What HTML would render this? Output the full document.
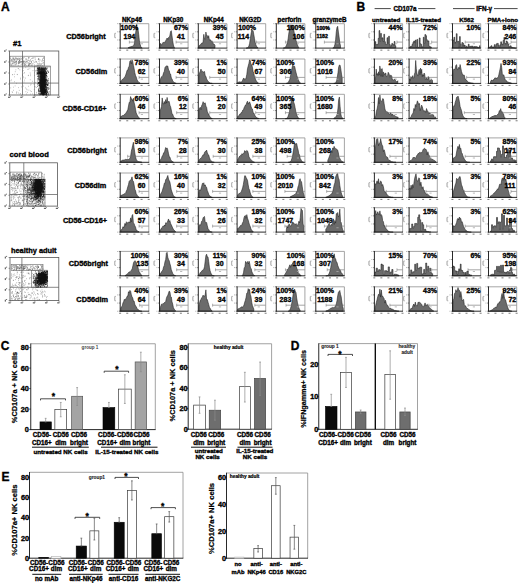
<!DOCTYPE html>
<html><head><meta charset="utf-8"><title>figure</title>
<style>
html,body{margin:0;padding:0;background:#fff;}
body{width:520px;height:583px;overflow:hidden;position:relative;}
svg{position:absolute;left:0;top:0;display:block;}
text{font-family:"Liberation Sans",sans-serif;}
</style></head><body>
<svg width="520" height="583" viewBox="0 0 520 583">
<rect x="0" y="0" width="520" height="583" fill="#fff"/>
<text x="1" y="11.2" font-size="12" text-anchor="start" font-weight="bold" fill="#000" stroke="#000" stroke-width="0.34">A</text>
<text x="356.6" y="11.2" font-size="12" text-anchor="start" font-weight="bold" fill="#000" stroke="#000" stroke-width="0.34">B</text>
<text x="0.8" y="350.3" font-size="12" text-anchor="start" font-weight="bold" fill="#000" stroke="#000" stroke-width="0.34">C</text>
<text x="290.8" y="350.3" font-size="12" text-anchor="start" font-weight="bold" fill="#000" stroke="#000" stroke-width="0.34">D</text>
<text x="1.6" y="480.6" font-size="12" text-anchor="start" font-weight="bold" fill="#000" stroke="#000" stroke-width="0.34">E</text>
<text x="132" y="21.6" font-size="6.3" text-anchor="middle" font-weight="bold" fill="#000" stroke="#000" stroke-width="0.34">NKp46</text>
<text x="173.3" y="21.6" font-size="6.3" text-anchor="middle" font-weight="bold" fill="#000" stroke="#000" stroke-width="0.34">NKp30</text>
<text x="213.8" y="21.6" font-size="6.3" text-anchor="middle" font-weight="bold" fill="#000" stroke="#000" stroke-width="0.34">NKp44</text>
<text x="250.2" y="21.6" font-size="6.3" text-anchor="middle" font-weight="bold" fill="#000" stroke="#000" stroke-width="0.34">NKG2D</text>
<text x="289.5" y="21.6" font-size="6.3" text-anchor="middle" font-weight="bold" fill="#000" stroke="#000" stroke-width="0.34">perforin</text>
<text x="329.5" y="21.6" font-size="6.3" text-anchor="middle" font-weight="bold" fill="#000" stroke="#000" stroke-width="0.34">granzymeB</text>
<text x="105.6" y="38.5" font-size="7.3" text-anchor="end" font-weight="bold" fill="#000" stroke="#000" stroke-width="0.34">CD56bright</text>
<text x="107.2" y="73.8" font-size="7.3" text-anchor="end" font-weight="bold" fill="#000" stroke="#000" stroke-width="0.34">CD56dim</text>
<text x="106.6" y="111.3" font-size="7.3" text-anchor="end" font-weight="bold" fill="#000" stroke="#000" stroke-width="0.34">CD56-CD16+</text>
<text x="106.6" y="152.7" font-size="7.3" text-anchor="end" font-weight="bold" fill="#000" stroke="#000" stroke-width="0.34">CD56bright</text>
<text x="106.3" y="187.8" font-size="7.3" text-anchor="end" font-weight="bold" fill="#000" stroke="#000" stroke-width="0.34">CD56dim</text>
<text x="107" y="222.5" font-size="7.3" text-anchor="end" font-weight="bold" fill="#000" stroke="#000" stroke-width="0.34">CD56-CD16+</text>
<text x="108" y="266.2" font-size="7.3" text-anchor="end" font-weight="bold" fill="#000" stroke="#000" stroke-width="0.34">CD56bright</text>
<text x="108" y="301.6" font-size="7.3" text-anchor="end" font-weight="bold" fill="#000" stroke="#000" stroke-width="0.34">CD56dim</text>
<line x1="118.8" y1="23.7" x2="120.2" y2="23.7" stroke="#444" stroke-width="0.6"/>
<rect x="117.2" y="23.3" width="0.9" height="0.8" fill="#9a9a9a" stroke="none" stroke-width="0.8"/>
<line x1="118.8" y1="31.83" x2="120.2" y2="31.83" stroke="#444" stroke-width="0.6"/>
<rect x="117.2" y="31.43" width="0.9" height="0.8" fill="#9a9a9a" stroke="none" stroke-width="0.8"/>
<line x1="118.8" y1="39.97" x2="120.2" y2="39.97" stroke="#444" stroke-width="0.6"/>
<rect x="117.2" y="39.57" width="0.9" height="0.8" fill="#9a9a9a" stroke="none" stroke-width="0.8"/>
<line x1="118.8" y1="48.1" x2="120.2" y2="48.1" stroke="#444" stroke-width="0.6"/>
<rect x="117.2" y="47.7" width="0.9" height="0.8" fill="#9a9a9a" stroke="none" stroke-width="0.8"/>
<path d="M116 33.3h-1.2v4.4h1.2" fill="none" stroke="#8a8a8a" stroke-width="0.6"/>
<line x1="114.6" y1="33.7" x2="114.6" y2="37.3" stroke="#aaa" stroke-width="0.5"/>
<rect x="119.1" y="49.6" width="2" height="1.1" fill="#858585" stroke="none" stroke-width="0.8"/>
<rect x="126.25" y="49.6" width="2" height="1.1" fill="#858585" stroke="none" stroke-width="0.8"/>
<rect x="133.4" y="49.6" width="2" height="1.1" fill="#858585" stroke="none" stroke-width="0.8"/>
<rect x="140.55" y="49.6" width="2" height="1.1" fill="#858585" stroke="none" stroke-width="0.8"/>
<rect x="147.7" y="49.6" width="2" height="1.1" fill="#858585" stroke="none" stroke-width="0.8"/>
<path d="M128.2 48.1L128.2 47.66L128.9 47.34L129.6 47.05L130.3 46.88L131 46.58L131.7 46.43L132.4 46.24L133.1 45.9L133.8 45.26L134.5 42.82L135.2 36.39L135.9 30.74L136.6 24.43L137.3 27.4L138 29.13L138.7 34.27L139.4 40.96L140.1 44.22L140.8 46.6L141.5 47.7L142.2 47.99L142.2 48.1 Z" fill="#6b6b6b" stroke="#1a1a1a" stroke-width="0.55" stroke-linejoin="round"/>
<line x1="129.35" y1="42.1" x2="148.8" y2="42.1" stroke="#6a6a6a" stroke-width="0.6"/>
<line x1="129.35" y1="40.6" x2="129.35" y2="43.6" stroke="#6a6a6a" stroke-width="0.5"/>
<rect x="140.79" y="43.4" width="2.2" height="0.8" fill="#aaa" stroke="none" stroke-width="0.8"/>
<line x1="120.2" y1="23.7" x2="148.8" y2="23.7" stroke="#8f8f8f" stroke-width="0.8"/>
<line x1="148.8" y1="23.7" x2="148.8" y2="48.1" stroke="#8f8f8f" stroke-width="0.8"/>
<line x1="120.2" y1="23.3" x2="120.2" y2="48.5" stroke="#111" stroke-width="0.9"/>
<line x1="119.8" y1="48.1" x2="149.2" y2="48.1" stroke="#111" stroke-width="0.9"/>
<line x1="158.1" y1="23.7" x2="159.5" y2="23.7" stroke="#444" stroke-width="0.6"/>
<rect x="156.5" y="23.3" width="0.9" height="0.8" fill="#9a9a9a" stroke="none" stroke-width="0.8"/>
<line x1="158.1" y1="31.83" x2="159.5" y2="31.83" stroke="#444" stroke-width="0.6"/>
<rect x="156.5" y="31.43" width="0.9" height="0.8" fill="#9a9a9a" stroke="none" stroke-width="0.8"/>
<line x1="158.1" y1="39.97" x2="159.5" y2="39.97" stroke="#444" stroke-width="0.6"/>
<rect x="156.5" y="39.57" width="0.9" height="0.8" fill="#9a9a9a" stroke="none" stroke-width="0.8"/>
<line x1="158.1" y1="48.1" x2="159.5" y2="48.1" stroke="#444" stroke-width="0.6"/>
<rect x="156.5" y="47.7" width="0.9" height="0.8" fill="#9a9a9a" stroke="none" stroke-width="0.8"/>
<path d="M155.3 33.3h-1.2v4.4h1.2" fill="none" stroke="#8a8a8a" stroke-width="0.6"/>
<line x1="153.9" y1="33.7" x2="153.9" y2="37.3" stroke="#aaa" stroke-width="0.5"/>
<rect x="158.4" y="49.6" width="2" height="1.1" fill="#858585" stroke="none" stroke-width="0.8"/>
<rect x="165.55" y="49.6" width="2" height="1.1" fill="#858585" stroke="none" stroke-width="0.8"/>
<rect x="172.7" y="49.6" width="2" height="1.1" fill="#858585" stroke="none" stroke-width="0.8"/>
<rect x="179.85" y="49.6" width="2" height="1.1" fill="#858585" stroke="none" stroke-width="0.8"/>
<rect x="187" y="49.6" width="2" height="1.1" fill="#858585" stroke="none" stroke-width="0.8"/>
<path d="M160.1 48.1L160.1 44.04L160.8 43.35L161.5 45.03L162.2 44.73L162.9 42.44L163.6 42.43L164.3 42.16L165 42.74L165.7 40.68L166.4 39.38L167.1 38.03L167.8 39.54L168.5 37.43L169.2 37.88L169.9 35.26L170.6 31.46L171.3 30.68L172 35.96L172.7 40.75L173.4 45.06L174.1 47.25L174.8 47.9L174.8 48.1 Z" fill="#6b6b6b" stroke="#1a1a1a" stroke-width="0.55" stroke-linejoin="round"/>
<line x1="176.09" y1="42.1" x2="188.1" y2="42.1" stroke="#6a6a6a" stroke-width="0.6"/>
<line x1="176.09" y1="40.6" x2="176.09" y2="43.6" stroke="#6a6a6a" stroke-width="0.5"/>
<rect x="180.09" y="43.4" width="2.2" height="0.8" fill="#aaa" stroke="none" stroke-width="0.8"/>
<line x1="159.5" y1="23.7" x2="188.1" y2="23.7" stroke="#8f8f8f" stroke-width="0.8"/>
<line x1="188.1" y1="23.7" x2="188.1" y2="48.1" stroke="#8f8f8f" stroke-width="0.8"/>
<line x1="159.5" y1="23.3" x2="159.5" y2="48.5" stroke="#111" stroke-width="0.9"/>
<line x1="159.1" y1="48.1" x2="188.5" y2="48.1" stroke="#111" stroke-width="0.9"/>
<line x1="196.9" y1="23.7" x2="198.3" y2="23.7" stroke="#444" stroke-width="0.6"/>
<rect x="195.3" y="23.3" width="0.9" height="0.8" fill="#9a9a9a" stroke="none" stroke-width="0.8"/>
<line x1="196.9" y1="31.83" x2="198.3" y2="31.83" stroke="#444" stroke-width="0.6"/>
<rect x="195.3" y="31.43" width="0.9" height="0.8" fill="#9a9a9a" stroke="none" stroke-width="0.8"/>
<line x1="196.9" y1="39.97" x2="198.3" y2="39.97" stroke="#444" stroke-width="0.6"/>
<rect x="195.3" y="39.57" width="0.9" height="0.8" fill="#9a9a9a" stroke="none" stroke-width="0.8"/>
<line x1="196.9" y1="48.1" x2="198.3" y2="48.1" stroke="#444" stroke-width="0.6"/>
<rect x="195.3" y="47.7" width="0.9" height="0.8" fill="#9a9a9a" stroke="none" stroke-width="0.8"/>
<path d="M194.1 33.3h-1.2v4.4h1.2" fill="none" stroke="#8a8a8a" stroke-width="0.6"/>
<line x1="192.7" y1="33.7" x2="192.7" y2="37.3" stroke="#aaa" stroke-width="0.5"/>
<rect x="197.2" y="49.6" width="2" height="1.1" fill="#858585" stroke="none" stroke-width="0.8"/>
<rect x="204.35" y="49.6" width="2" height="1.1" fill="#858585" stroke="none" stroke-width="0.8"/>
<rect x="211.5" y="49.6" width="2" height="1.1" fill="#858585" stroke="none" stroke-width="0.8"/>
<rect x="218.65" y="49.6" width="2" height="1.1" fill="#858585" stroke="none" stroke-width="0.8"/>
<rect x="225.8" y="49.6" width="2" height="1.1" fill="#858585" stroke="none" stroke-width="0.8"/>
<path d="M198.9 48.1L198.9 46.17L199.6 45.24L200.3 45.03L201 43.95L201.7 43.1L202.4 43.52L203.1 41.57L203.8 34.34L204.5 39.07L205.2 39.52L205.9 32.03L206.6 35.66L207.3 35.55L208 37.96L208.7 35.66L209.4 40.06L210.1 39.72L210.8 40.03L211.5 41.77L212.2 41.41L212.9 42.37L213.6 44.9L214.3 44.2L215 45.48L215 48.1 Z" fill="#6b6b6b" stroke="#1a1a1a" stroke-width="0.55" stroke-linejoin="round"/>
<line x1="212.03" y1="42.1" x2="226.9" y2="42.1" stroke="#6a6a6a" stroke-width="0.6"/>
<line x1="212.03" y1="40.6" x2="212.03" y2="43.6" stroke="#6a6a6a" stroke-width="0.5"/>
<rect x="218.89" y="43.4" width="2.2" height="0.8" fill="#aaa" stroke="none" stroke-width="0.8"/>
<line x1="198.3" y1="23.7" x2="226.9" y2="23.7" stroke="#8f8f8f" stroke-width="0.8"/>
<line x1="226.9" y1="23.7" x2="226.9" y2="48.1" stroke="#8f8f8f" stroke-width="0.8"/>
<line x1="198.3" y1="23.3" x2="198.3" y2="48.5" stroke="#111" stroke-width="0.9"/>
<line x1="197.9" y1="48.1" x2="227.3" y2="48.1" stroke="#111" stroke-width="0.9"/>
<line x1="235.7" y1="23.7" x2="237.1" y2="23.7" stroke="#444" stroke-width="0.6"/>
<rect x="234.1" y="23.3" width="0.9" height="0.8" fill="#9a9a9a" stroke="none" stroke-width="0.8"/>
<line x1="235.7" y1="31.83" x2="237.1" y2="31.83" stroke="#444" stroke-width="0.6"/>
<rect x="234.1" y="31.43" width="0.9" height="0.8" fill="#9a9a9a" stroke="none" stroke-width="0.8"/>
<line x1="235.7" y1="39.97" x2="237.1" y2="39.97" stroke="#444" stroke-width="0.6"/>
<rect x="234.1" y="39.57" width="0.9" height="0.8" fill="#9a9a9a" stroke="none" stroke-width="0.8"/>
<line x1="235.7" y1="48.1" x2="237.1" y2="48.1" stroke="#444" stroke-width="0.6"/>
<rect x="234.1" y="47.7" width="0.9" height="0.8" fill="#9a9a9a" stroke="none" stroke-width="0.8"/>
<path d="M232.9 33.3h-1.2v4.4h1.2" fill="none" stroke="#8a8a8a" stroke-width="0.6"/>
<line x1="231.5" y1="33.7" x2="231.5" y2="37.3" stroke="#aaa" stroke-width="0.5"/>
<rect x="236" y="49.6" width="2" height="1.1" fill="#858585" stroke="none" stroke-width="0.8"/>
<rect x="243.15" y="49.6" width="2" height="1.1" fill="#858585" stroke="none" stroke-width="0.8"/>
<rect x="250.3" y="49.6" width="2" height="1.1" fill="#858585" stroke="none" stroke-width="0.8"/>
<rect x="257.45" y="49.6" width="2" height="1.1" fill="#858585" stroke="none" stroke-width="0.8"/>
<rect x="264.6" y="49.6" width="2" height="1.1" fill="#858585" stroke="none" stroke-width="0.8"/>
<path d="M246.1 48.1L246.1 48.08L246.8 48.02L247.5 47.81L248.2 47.28L248.9 46.07L249.6 43.42L250.3 38.73L251 34.1L251.7 30.16L252.4 30.59L253.1 30.65L253.8 34.6L254.5 38.69L255.2 42.33L255.9 44.9L256.6 46.35L257.3 47.39L258 47.84L258 48.1 Z" fill="#6b6b6b" stroke="#1a1a1a" stroke-width="0.55" stroke-linejoin="round"/>
<line x1="256.55" y1="42.1" x2="265.7" y2="42.1" stroke="#6a6a6a" stroke-width="0.6"/>
<line x1="256.55" y1="40.6" x2="256.55" y2="43.6" stroke="#6a6a6a" stroke-width="0.5"/>
<rect x="257.69" y="43.4" width="2.2" height="0.8" fill="#aaa" stroke="none" stroke-width="0.8"/>
<line x1="237.1" y1="23.7" x2="265.7" y2="23.7" stroke="#8f8f8f" stroke-width="0.8"/>
<line x1="265.7" y1="23.7" x2="265.7" y2="48.1" stroke="#8f8f8f" stroke-width="0.8"/>
<line x1="237.1" y1="23.3" x2="237.1" y2="48.5" stroke="#111" stroke-width="0.9"/>
<line x1="236.7" y1="48.1" x2="266.1" y2="48.1" stroke="#111" stroke-width="0.9"/>
<line x1="274.9" y1="23.7" x2="276.3" y2="23.7" stroke="#444" stroke-width="0.6"/>
<rect x="273.3" y="23.3" width="0.9" height="0.8" fill="#9a9a9a" stroke="none" stroke-width="0.8"/>
<line x1="274.9" y1="31.83" x2="276.3" y2="31.83" stroke="#444" stroke-width="0.6"/>
<rect x="273.3" y="31.43" width="0.9" height="0.8" fill="#9a9a9a" stroke="none" stroke-width="0.8"/>
<line x1="274.9" y1="39.97" x2="276.3" y2="39.97" stroke="#444" stroke-width="0.6"/>
<rect x="273.3" y="39.57" width="0.9" height="0.8" fill="#9a9a9a" stroke="none" stroke-width="0.8"/>
<line x1="274.9" y1="48.1" x2="276.3" y2="48.1" stroke="#444" stroke-width="0.6"/>
<rect x="273.3" y="47.7" width="0.9" height="0.8" fill="#9a9a9a" stroke="none" stroke-width="0.8"/>
<path d="M272.1 33.3h-1.2v4.4h1.2" fill="none" stroke="#8a8a8a" stroke-width="0.6"/>
<line x1="270.7" y1="33.7" x2="270.7" y2="37.3" stroke="#aaa" stroke-width="0.5"/>
<rect x="275.2" y="49.6" width="2" height="1.1" fill="#858585" stroke="none" stroke-width="0.8"/>
<rect x="282.35" y="49.6" width="2" height="1.1" fill="#858585" stroke="none" stroke-width="0.8"/>
<rect x="289.5" y="49.6" width="2" height="1.1" fill="#858585" stroke="none" stroke-width="0.8"/>
<rect x="296.65" y="49.6" width="2" height="1.1" fill="#858585" stroke="none" stroke-width="0.8"/>
<rect x="303.8" y="49.6" width="2" height="1.1" fill="#858585" stroke="none" stroke-width="0.8"/>
<path d="M283.3 48.1L283.3 48.05L284 47.95L284.7 47.71L285.4 47.16L286.1 46.17L286.8 44.25L287.5 42.47L288.2 38.35L288.9 32.8L289.6 29.31L290.3 24.84L291 26.68L291.7 24.86L292.4 26.75L293.1 27.27L293.8 29.78L294.5 34.64L295.2 37.21L295.9 40.17L296.6 42.15L297.3 44.59L298 46.38L298.7 47.11L298.7 48.1 Z" fill="#6b6b6b" stroke="#1a1a1a" stroke-width="0.55" stroke-linejoin="round"/>
<line x1="285.45" y1="42.1" x2="304.9" y2="42.1" stroke="#6a6a6a" stroke-width="0.6"/>
<line x1="285.45" y1="40.6" x2="285.45" y2="43.6" stroke="#6a6a6a" stroke-width="0.5"/>
<rect x="296.89" y="43.4" width="2.2" height="0.8" fill="#aaa" stroke="none" stroke-width="0.8"/>
<line x1="276.3" y1="23.7" x2="304.9" y2="23.7" stroke="#8f8f8f" stroke-width="0.8"/>
<line x1="304.9" y1="23.7" x2="304.9" y2="48.1" stroke="#8f8f8f" stroke-width="0.8"/>
<line x1="276.3" y1="23.3" x2="276.3" y2="48.5" stroke="#111" stroke-width="0.9"/>
<line x1="275.9" y1="48.1" x2="305.3" y2="48.1" stroke="#111" stroke-width="0.9"/>
<line x1="314.4" y1="23.7" x2="315.8" y2="23.7" stroke="#444" stroke-width="0.6"/>
<rect x="312.8" y="23.3" width="0.9" height="0.8" fill="#9a9a9a" stroke="none" stroke-width="0.8"/>
<line x1="314.4" y1="31.83" x2="315.8" y2="31.83" stroke="#444" stroke-width="0.6"/>
<rect x="312.8" y="31.43" width="0.9" height="0.8" fill="#9a9a9a" stroke="none" stroke-width="0.8"/>
<line x1="314.4" y1="39.97" x2="315.8" y2="39.97" stroke="#444" stroke-width="0.6"/>
<rect x="312.8" y="39.57" width="0.9" height="0.8" fill="#9a9a9a" stroke="none" stroke-width="0.8"/>
<line x1="314.4" y1="48.1" x2="315.8" y2="48.1" stroke="#444" stroke-width="0.6"/>
<rect x="312.8" y="47.7" width="0.9" height="0.8" fill="#9a9a9a" stroke="none" stroke-width="0.8"/>
<path d="M311.6 33.3h-1.2v4.4h1.2" fill="none" stroke="#8a8a8a" stroke-width="0.6"/>
<line x1="310.2" y1="33.7" x2="310.2" y2="37.3" stroke="#aaa" stroke-width="0.5"/>
<rect x="314.7" y="49.6" width="2" height="1.1" fill="#858585" stroke="none" stroke-width="0.8"/>
<rect x="321.85" y="49.6" width="2" height="1.1" fill="#858585" stroke="none" stroke-width="0.8"/>
<rect x="329" y="49.6" width="2" height="1.1" fill="#858585" stroke="none" stroke-width="0.8"/>
<rect x="336.15" y="49.6" width="2" height="1.1" fill="#858585" stroke="none" stroke-width="0.8"/>
<rect x="343.3" y="49.6" width="2" height="1.1" fill="#858585" stroke="none" stroke-width="0.8"/>
<path d="M332.8 48.1L332.8 48.04L333.5 47.78L334.2 46.85L334.9 44.38L335.6 39.88L336.3 31.61L337 27.32L337.7 26.3L338.4 32.11L339.1 37.08L339.8 42.99L340.5 45.76L340.5 48.1 Z" fill="#6b6b6b" stroke="#1a1a1a" stroke-width="0.55" stroke-linejoin="round"/>
<line x1="324.38" y1="42.1" x2="344.4" y2="42.1" stroke="#6a6a6a" stroke-width="0.6"/>
<line x1="324.38" y1="40.6" x2="324.38" y2="43.6" stroke="#6a6a6a" stroke-width="0.5"/>
<rect x="336.39" y="43.4" width="2.2" height="0.8" fill="#aaa" stroke="none" stroke-width="0.8"/>
<line x1="315.8" y1="23.7" x2="344.4" y2="23.7" stroke="#8f8f8f" stroke-width="0.8"/>
<line x1="344.4" y1="23.7" x2="344.4" y2="48.1" stroke="#8f8f8f" stroke-width="0.8"/>
<line x1="315.8" y1="23.3" x2="315.8" y2="48.5" stroke="#111" stroke-width="0.9"/>
<line x1="315.4" y1="48.1" x2="344.8" y2="48.1" stroke="#111" stroke-width="0.9"/>
<line x1="118.8" y1="59" x2="120.2" y2="59" stroke="#444" stroke-width="0.6"/>
<rect x="117.2" y="58.6" width="0.9" height="0.8" fill="#9a9a9a" stroke="none" stroke-width="0.8"/>
<line x1="118.8" y1="67.13" x2="120.2" y2="67.13" stroke="#444" stroke-width="0.6"/>
<rect x="117.2" y="66.73" width="0.9" height="0.8" fill="#9a9a9a" stroke="none" stroke-width="0.8"/>
<line x1="118.8" y1="75.27" x2="120.2" y2="75.27" stroke="#444" stroke-width="0.6"/>
<rect x="117.2" y="74.87" width="0.9" height="0.8" fill="#9a9a9a" stroke="none" stroke-width="0.8"/>
<line x1="118.8" y1="83.4" x2="120.2" y2="83.4" stroke="#444" stroke-width="0.6"/>
<rect x="117.2" y="83" width="0.9" height="0.8" fill="#9a9a9a" stroke="none" stroke-width="0.8"/>
<path d="M116 68.6h-1.2v4.4h1.2" fill="none" stroke="#8a8a8a" stroke-width="0.6"/>
<line x1="114.6" y1="69" x2="114.6" y2="72.6" stroke="#aaa" stroke-width="0.5"/>
<rect x="119.1" y="84.9" width="2" height="1.1" fill="#858585" stroke="none" stroke-width="0.8"/>
<rect x="126.25" y="84.9" width="2" height="1.1" fill="#858585" stroke="none" stroke-width="0.8"/>
<rect x="133.4" y="84.9" width="2" height="1.1" fill="#858585" stroke="none" stroke-width="0.8"/>
<rect x="140.55" y="84.9" width="2" height="1.1" fill="#858585" stroke="none" stroke-width="0.8"/>
<rect x="147.7" y="84.9" width="2" height="1.1" fill="#858585" stroke="none" stroke-width="0.8"/>
<path d="M120.8 83.4L120.8 81.04L121.5 80.39L122.2 79.46L122.9 79.2L123.6 78.41L124.3 77.39L125 76.91L125.7 74.92L126.4 72.85L127.1 70.22L127.8 70.22L128.5 67.28L129.2 66.22L129.9 61.12L130.6 60.61L131.3 63.8L132 59.73L132.7 61.51L133.4 65.41L134.1 68.43L134.8 72.69L135.5 75.53L136.2 76.88L136.9 79.38L137.6 80.65L138.3 81.64L139 82.4L139.7 82.76L139.7 83.4 Z" fill="#6b6b6b" stroke="#1a1a1a" stroke-width="0.55" stroke-linejoin="round"/>
<line x1="139.08" y1="77.4" x2="148.8" y2="77.4" stroke="#6a6a6a" stroke-width="0.6"/>
<line x1="139.08" y1="75.9" x2="139.08" y2="78.9" stroke="#6a6a6a" stroke-width="0.5"/>
<rect x="140.79" y="78.7" width="2.2" height="0.8" fill="#aaa" stroke="none" stroke-width="0.8"/>
<line x1="120.2" y1="59" x2="148.8" y2="59" stroke="#8f8f8f" stroke-width="0.8"/>
<line x1="148.8" y1="59" x2="148.8" y2="83.4" stroke="#8f8f8f" stroke-width="0.8"/>
<line x1="120.2" y1="58.6" x2="120.2" y2="83.8" stroke="#111" stroke-width="0.9"/>
<line x1="119.8" y1="83.4" x2="149.2" y2="83.4" stroke="#111" stroke-width="0.9"/>
<line x1="158.1" y1="59" x2="159.5" y2="59" stroke="#444" stroke-width="0.6"/>
<rect x="156.5" y="58.6" width="0.9" height="0.8" fill="#9a9a9a" stroke="none" stroke-width="0.8"/>
<line x1="158.1" y1="67.13" x2="159.5" y2="67.13" stroke="#444" stroke-width="0.6"/>
<rect x="156.5" y="66.73" width="0.9" height="0.8" fill="#9a9a9a" stroke="none" stroke-width="0.8"/>
<line x1="158.1" y1="75.27" x2="159.5" y2="75.27" stroke="#444" stroke-width="0.6"/>
<rect x="156.5" y="74.87" width="0.9" height="0.8" fill="#9a9a9a" stroke="none" stroke-width="0.8"/>
<line x1="158.1" y1="83.4" x2="159.5" y2="83.4" stroke="#444" stroke-width="0.6"/>
<rect x="156.5" y="83" width="0.9" height="0.8" fill="#9a9a9a" stroke="none" stroke-width="0.8"/>
<path d="M155.3 68.6h-1.2v4.4h1.2" fill="none" stroke="#8a8a8a" stroke-width="0.6"/>
<line x1="153.9" y1="69" x2="153.9" y2="72.6" stroke="#aaa" stroke-width="0.5"/>
<rect x="158.4" y="84.9" width="2" height="1.1" fill="#858585" stroke="none" stroke-width="0.8"/>
<rect x="165.55" y="84.9" width="2" height="1.1" fill="#858585" stroke="none" stroke-width="0.8"/>
<rect x="172.7" y="84.9" width="2" height="1.1" fill="#858585" stroke="none" stroke-width="0.8"/>
<rect x="179.85" y="84.9" width="2" height="1.1" fill="#858585" stroke="none" stroke-width="0.8"/>
<rect x="187" y="84.9" width="2" height="1.1" fill="#858585" stroke="none" stroke-width="0.8"/>
<path d="M160.1 83.4L160.1 79.85L160.8 78.26L161.5 76.74L162.2 76.4L162.9 75.36L163.6 72.7L164.3 71.39L165 67.47L165.7 66.49L166.4 65.98L167.1 65.98L167.8 66.1L168.5 69.93L169.2 70.58L169.9 73.78L170.6 74.07L171.3 78.09L172 78.73L172.7 80.95L173.4 81.55L174.1 82.41L174.8 82.84L175.5 83.06L176.2 83.27L176.2 83.4 Z" fill="#6b6b6b" stroke="#1a1a1a" stroke-width="0.55" stroke-linejoin="round"/>
<line x1="176.09" y1="77.4" x2="188.1" y2="77.4" stroke="#6a6a6a" stroke-width="0.6"/>
<line x1="176.09" y1="75.9" x2="176.09" y2="78.9" stroke="#6a6a6a" stroke-width="0.5"/>
<rect x="180.09" y="78.7" width="2.2" height="0.8" fill="#aaa" stroke="none" stroke-width="0.8"/>
<line x1="159.5" y1="59" x2="188.1" y2="59" stroke="#8f8f8f" stroke-width="0.8"/>
<line x1="188.1" y1="59" x2="188.1" y2="83.4" stroke="#8f8f8f" stroke-width="0.8"/>
<line x1="159.5" y1="58.6" x2="159.5" y2="83.8" stroke="#111" stroke-width="0.9"/>
<line x1="159.1" y1="83.4" x2="188.5" y2="83.4" stroke="#111" stroke-width="0.9"/>
<line x1="196.9" y1="59" x2="198.3" y2="59" stroke="#444" stroke-width="0.6"/>
<rect x="195.3" y="58.6" width="0.9" height="0.8" fill="#9a9a9a" stroke="none" stroke-width="0.8"/>
<line x1="196.9" y1="67.13" x2="198.3" y2="67.13" stroke="#444" stroke-width="0.6"/>
<rect x="195.3" y="66.73" width="0.9" height="0.8" fill="#9a9a9a" stroke="none" stroke-width="0.8"/>
<line x1="196.9" y1="75.27" x2="198.3" y2="75.27" stroke="#444" stroke-width="0.6"/>
<rect x="195.3" y="74.87" width="0.9" height="0.8" fill="#9a9a9a" stroke="none" stroke-width="0.8"/>
<line x1="196.9" y1="83.4" x2="198.3" y2="83.4" stroke="#444" stroke-width="0.6"/>
<rect x="195.3" y="83" width="0.9" height="0.8" fill="#9a9a9a" stroke="none" stroke-width="0.8"/>
<path d="M194.1 68.6h-1.2v4.4h1.2" fill="none" stroke="#8a8a8a" stroke-width="0.6"/>
<line x1="192.7" y1="69" x2="192.7" y2="72.6" stroke="#aaa" stroke-width="0.5"/>
<rect x="197.2" y="84.9" width="2" height="1.1" fill="#858585" stroke="none" stroke-width="0.8"/>
<rect x="204.35" y="84.9" width="2" height="1.1" fill="#858585" stroke="none" stroke-width="0.8"/>
<rect x="211.5" y="84.9" width="2" height="1.1" fill="#858585" stroke="none" stroke-width="0.8"/>
<rect x="218.65" y="84.9" width="2" height="1.1" fill="#858585" stroke="none" stroke-width="0.8"/>
<rect x="225.8" y="84.9" width="2" height="1.1" fill="#858585" stroke="none" stroke-width="0.8"/>
<path d="M198.9 83.4L198.9 76.39L199.6 72.86L200.3 71.17L201 69.07L201.7 71.68L202.4 71.13L203.1 71.86L203.8 72.31L204.5 71.45L205.2 75.72L205.9 76.33L206.6 78.89L207.3 80.21L208 81.22L208.7 81.87L209.4 82.6L210.1 83.07L210.8 83.21L211.5 83.32L212.2 83.35L212.2 83.4 Z" fill="#6b6b6b" stroke="#1a1a1a" stroke-width="0.55" stroke-linejoin="round"/>
<line x1="209.74" y1="77.4" x2="226.9" y2="77.4" stroke="#6a6a6a" stroke-width="0.6"/>
<line x1="209.74" y1="75.9" x2="209.74" y2="78.9" stroke="#6a6a6a" stroke-width="0.5"/>
<rect x="218.89" y="78.7" width="2.2" height="0.8" fill="#aaa" stroke="none" stroke-width="0.8"/>
<line x1="198.3" y1="59" x2="226.9" y2="59" stroke="#8f8f8f" stroke-width="0.8"/>
<line x1="226.9" y1="59" x2="226.9" y2="83.4" stroke="#8f8f8f" stroke-width="0.8"/>
<line x1="198.3" y1="58.6" x2="198.3" y2="83.8" stroke="#111" stroke-width="0.9"/>
<line x1="197.9" y1="83.4" x2="227.3" y2="83.4" stroke="#111" stroke-width="0.9"/>
<line x1="235.7" y1="59" x2="237.1" y2="59" stroke="#444" stroke-width="0.6"/>
<rect x="234.1" y="58.6" width="0.9" height="0.8" fill="#9a9a9a" stroke="none" stroke-width="0.8"/>
<line x1="235.7" y1="67.13" x2="237.1" y2="67.13" stroke="#444" stroke-width="0.6"/>
<rect x="234.1" y="66.73" width="0.9" height="0.8" fill="#9a9a9a" stroke="none" stroke-width="0.8"/>
<line x1="235.7" y1="75.27" x2="237.1" y2="75.27" stroke="#444" stroke-width="0.6"/>
<rect x="234.1" y="74.87" width="0.9" height="0.8" fill="#9a9a9a" stroke="none" stroke-width="0.8"/>
<line x1="235.7" y1="83.4" x2="237.1" y2="83.4" stroke="#444" stroke-width="0.6"/>
<rect x="234.1" y="83" width="0.9" height="0.8" fill="#9a9a9a" stroke="none" stroke-width="0.8"/>
<path d="M232.9 68.6h-1.2v4.4h1.2" fill="none" stroke="#8a8a8a" stroke-width="0.6"/>
<line x1="231.5" y1="69" x2="231.5" y2="72.6" stroke="#aaa" stroke-width="0.5"/>
<rect x="236" y="84.9" width="2" height="1.1" fill="#858585" stroke="none" stroke-width="0.8"/>
<rect x="243.15" y="84.9" width="2" height="1.1" fill="#858585" stroke="none" stroke-width="0.8"/>
<rect x="250.3" y="84.9" width="2" height="1.1" fill="#858585" stroke="none" stroke-width="0.8"/>
<rect x="257.45" y="84.9" width="2" height="1.1" fill="#858585" stroke="none" stroke-width="0.8"/>
<rect x="264.6" y="84.9" width="2" height="1.1" fill="#858585" stroke="none" stroke-width="0.8"/>
<path d="M237.7 83.4L237.7 82.55L238.4 82.19L239.1 82.01L239.8 81.82L240.5 82.02L241.2 82.08L241.9 81.69L242.6 80.28L243.3 78.53L244 78.12L244.7 79.8L245.4 79.36L246.1 77.86L246.8 74.47L247.5 68.67L248.2 66.11L248.9 63.39L249.6 59.73L250.3 60.76L251 64.18L251.7 64.75L252.4 67.16L253.1 71.49L253.8 73.22L254.5 76.66L255.2 78.44L255.9 80.25L256.6 81.33L257.3 81.93L258 82.64L258 83.4 Z" fill="#6b6b6b" stroke="#1a1a1a" stroke-width="0.55" stroke-linejoin="round"/>
<line x1="255.69" y1="77.4" x2="265.7" y2="77.4" stroke="#6a6a6a" stroke-width="0.6"/>
<line x1="255.69" y1="75.9" x2="255.69" y2="78.9" stroke="#6a6a6a" stroke-width="0.5"/>
<rect x="257.69" y="78.7" width="2.2" height="0.8" fill="#aaa" stroke="none" stroke-width="0.8"/>
<line x1="237.1" y1="59" x2="265.7" y2="59" stroke="#8f8f8f" stroke-width="0.8"/>
<line x1="265.7" y1="59" x2="265.7" y2="83.4" stroke="#8f8f8f" stroke-width="0.8"/>
<line x1="237.1" y1="58.6" x2="237.1" y2="83.8" stroke="#111" stroke-width="0.9"/>
<line x1="236.7" y1="83.4" x2="266.1" y2="83.4" stroke="#111" stroke-width="0.9"/>
<line x1="274.9" y1="59" x2="276.3" y2="59" stroke="#444" stroke-width="0.6"/>
<rect x="273.3" y="58.6" width="0.9" height="0.8" fill="#9a9a9a" stroke="none" stroke-width="0.8"/>
<line x1="274.9" y1="67.13" x2="276.3" y2="67.13" stroke="#444" stroke-width="0.6"/>
<rect x="273.3" y="66.73" width="0.9" height="0.8" fill="#9a9a9a" stroke="none" stroke-width="0.8"/>
<line x1="274.9" y1="75.27" x2="276.3" y2="75.27" stroke="#444" stroke-width="0.6"/>
<rect x="273.3" y="74.87" width="0.9" height="0.8" fill="#9a9a9a" stroke="none" stroke-width="0.8"/>
<line x1="274.9" y1="83.4" x2="276.3" y2="83.4" stroke="#444" stroke-width="0.6"/>
<rect x="273.3" y="83" width="0.9" height="0.8" fill="#9a9a9a" stroke="none" stroke-width="0.8"/>
<path d="M272.1 68.6h-1.2v4.4h1.2" fill="none" stroke="#8a8a8a" stroke-width="0.6"/>
<line x1="270.7" y1="69" x2="270.7" y2="72.6" stroke="#aaa" stroke-width="0.5"/>
<rect x="275.2" y="84.9" width="2" height="1.1" fill="#858585" stroke="none" stroke-width="0.8"/>
<rect x="282.35" y="84.9" width="2" height="1.1" fill="#858585" stroke="none" stroke-width="0.8"/>
<rect x="289.5" y="84.9" width="2" height="1.1" fill="#858585" stroke="none" stroke-width="0.8"/>
<rect x="296.65" y="84.9" width="2" height="1.1" fill="#858585" stroke="none" stroke-width="0.8"/>
<rect x="303.8" y="84.9" width="2" height="1.1" fill="#858585" stroke="none" stroke-width="0.8"/>
<path d="M286.3 83.4L286.3 83.31L287 83.19L287.7 82.81L288.4 82.22L289.1 80.73L289.8 79.3L290.5 75.74L291.2 72.5L291.9 68.55L292.6 65.22L293.3 65.93L294 65.9L294.7 66.4L295.4 69.88L296.1 72.72L296.8 75.58L297.5 77.48L298.2 79.61L298.9 81.18L299.6 82.28L300.3 82.76L300.3 83.4 Z" fill="#6b6b6b" stroke="#1a1a1a" stroke-width="0.55" stroke-linejoin="round"/>
<line x1="285.45" y1="77.4" x2="304.9" y2="77.4" stroke="#6a6a6a" stroke-width="0.6"/>
<line x1="285.45" y1="75.9" x2="285.45" y2="78.9" stroke="#6a6a6a" stroke-width="0.5"/>
<rect x="296.89" y="78.7" width="2.2" height="0.8" fill="#aaa" stroke="none" stroke-width="0.8"/>
<line x1="276.3" y1="59" x2="304.9" y2="59" stroke="#8f8f8f" stroke-width="0.8"/>
<line x1="304.9" y1="59" x2="304.9" y2="83.4" stroke="#8f8f8f" stroke-width="0.8"/>
<line x1="276.3" y1="58.6" x2="276.3" y2="83.8" stroke="#111" stroke-width="0.9"/>
<line x1="275.9" y1="83.4" x2="305.3" y2="83.4" stroke="#111" stroke-width="0.9"/>
<line x1="314.4" y1="59" x2="315.8" y2="59" stroke="#444" stroke-width="0.6"/>
<rect x="312.8" y="58.6" width="0.9" height="0.8" fill="#9a9a9a" stroke="none" stroke-width="0.8"/>
<line x1="314.4" y1="67.13" x2="315.8" y2="67.13" stroke="#444" stroke-width="0.6"/>
<rect x="312.8" y="66.73" width="0.9" height="0.8" fill="#9a9a9a" stroke="none" stroke-width="0.8"/>
<line x1="314.4" y1="75.27" x2="315.8" y2="75.27" stroke="#444" stroke-width="0.6"/>
<rect x="312.8" y="74.87" width="0.9" height="0.8" fill="#9a9a9a" stroke="none" stroke-width="0.8"/>
<line x1="314.4" y1="83.4" x2="315.8" y2="83.4" stroke="#444" stroke-width="0.6"/>
<rect x="312.8" y="83" width="0.9" height="0.8" fill="#9a9a9a" stroke="none" stroke-width="0.8"/>
<path d="M311.6 68.6h-1.2v4.4h1.2" fill="none" stroke="#8a8a8a" stroke-width="0.6"/>
<line x1="310.2" y1="69" x2="310.2" y2="72.6" stroke="#aaa" stroke-width="0.5"/>
<rect x="314.7" y="84.9" width="2" height="1.1" fill="#858585" stroke="none" stroke-width="0.8"/>
<rect x="321.85" y="84.9" width="2" height="1.1" fill="#858585" stroke="none" stroke-width="0.8"/>
<rect x="329" y="84.9" width="2" height="1.1" fill="#858585" stroke="none" stroke-width="0.8"/>
<rect x="336.15" y="84.9" width="2" height="1.1" fill="#858585" stroke="none" stroke-width="0.8"/>
<rect x="343.3" y="84.9" width="2" height="1.1" fill="#858585" stroke="none" stroke-width="0.8"/>
<path d="M333.8 83.4L333.8 83.39L334.5 83.34L335.2 83.14L335.9 82.47L336.6 80.78L337.3 77.28L338 72.62L338.7 66.88L339.4 65L340.1 65.18L340.8 68.91L341.5 74.1L342.2 78.06L342.2 83.4 Z" fill="#6b6b6b" stroke="#1a1a1a" stroke-width="0.55" stroke-linejoin="round"/>
<line x1="326.1" y1="77.4" x2="344.4" y2="77.4" stroke="#6a6a6a" stroke-width="0.6"/>
<line x1="326.1" y1="75.9" x2="326.1" y2="78.9" stroke="#6a6a6a" stroke-width="0.5"/>
<rect x="336.39" y="78.7" width="2.2" height="0.8" fill="#aaa" stroke="none" stroke-width="0.8"/>
<line x1="315.8" y1="59" x2="344.4" y2="59" stroke="#8f8f8f" stroke-width="0.8"/>
<line x1="344.4" y1="59" x2="344.4" y2="83.4" stroke="#8f8f8f" stroke-width="0.8"/>
<line x1="315.8" y1="58.6" x2="315.8" y2="83.8" stroke="#111" stroke-width="0.9"/>
<line x1="315.4" y1="83.4" x2="344.8" y2="83.4" stroke="#111" stroke-width="0.9"/>
<line x1="118.8" y1="94.3" x2="120.2" y2="94.3" stroke="#444" stroke-width="0.6"/>
<rect x="117.2" y="93.9" width="0.9" height="0.8" fill="#9a9a9a" stroke="none" stroke-width="0.8"/>
<line x1="118.8" y1="102.43" x2="120.2" y2="102.43" stroke="#444" stroke-width="0.6"/>
<rect x="117.2" y="102.03" width="0.9" height="0.8" fill="#9a9a9a" stroke="none" stroke-width="0.8"/>
<line x1="118.8" y1="110.57" x2="120.2" y2="110.57" stroke="#444" stroke-width="0.6"/>
<rect x="117.2" y="110.17" width="0.9" height="0.8" fill="#9a9a9a" stroke="none" stroke-width="0.8"/>
<line x1="118.8" y1="118.7" x2="120.2" y2="118.7" stroke="#444" stroke-width="0.6"/>
<rect x="117.2" y="118.3" width="0.9" height="0.8" fill="#9a9a9a" stroke="none" stroke-width="0.8"/>
<path d="M116 103.9h-1.2v4.4h1.2" fill="none" stroke="#8a8a8a" stroke-width="0.6"/>
<line x1="114.6" y1="104.3" x2="114.6" y2="107.9" stroke="#aaa" stroke-width="0.5"/>
<rect x="119.1" y="120.2" width="2" height="1.1" fill="#858585" stroke="none" stroke-width="0.8"/>
<rect x="126.25" y="120.2" width="2" height="1.1" fill="#858585" stroke="none" stroke-width="0.8"/>
<rect x="133.4" y="120.2" width="2" height="1.1" fill="#858585" stroke="none" stroke-width="0.8"/>
<rect x="140.55" y="120.2" width="2" height="1.1" fill="#858585" stroke="none" stroke-width="0.8"/>
<rect x="147.7" y="120.2" width="2" height="1.1" fill="#858585" stroke="none" stroke-width="0.8"/>
<path d="M120.8 118.7L120.8 116.74L121.5 116L122.2 115.66L122.9 115.49L123.6 115.46L124.3 114.53L125 113.97L125.7 113.51L126.4 112.25L127.1 111.08L127.8 109.63L128.5 105.97L129.2 102.33L129.9 102.41L130.6 96.57L131.3 98.87L132 98.97L132.7 101.18L133.4 98.26L134.1 102.51L134.8 105.27L135.5 109.18L136.2 112.94L136.9 114.41L137.6 115.8L138.3 117.12L139 117.55L139.7 118.16L139.7 118.7 Z" fill="#6b6b6b" stroke="#1a1a1a" stroke-width="0.55" stroke-linejoin="round"/>
<line x1="139.08" y1="112.7" x2="148.8" y2="112.7" stroke="#6a6a6a" stroke-width="0.6"/>
<line x1="139.08" y1="111.2" x2="139.08" y2="114.2" stroke="#6a6a6a" stroke-width="0.5"/>
<rect x="140.79" y="114" width="2.2" height="0.8" fill="#aaa" stroke="none" stroke-width="0.8"/>
<line x1="120.2" y1="94.3" x2="148.8" y2="94.3" stroke="#8f8f8f" stroke-width="0.8"/>
<line x1="148.8" y1="94.3" x2="148.8" y2="118.7" stroke="#8f8f8f" stroke-width="0.8"/>
<line x1="120.2" y1="93.9" x2="120.2" y2="119.1" stroke="#111" stroke-width="0.9"/>
<line x1="119.8" y1="118.7" x2="149.2" y2="118.7" stroke="#111" stroke-width="0.9"/>
<line x1="158.1" y1="94.3" x2="159.5" y2="94.3" stroke="#444" stroke-width="0.6"/>
<rect x="156.5" y="93.9" width="0.9" height="0.8" fill="#9a9a9a" stroke="none" stroke-width="0.8"/>
<line x1="158.1" y1="102.43" x2="159.5" y2="102.43" stroke="#444" stroke-width="0.6"/>
<rect x="156.5" y="102.03" width="0.9" height="0.8" fill="#9a9a9a" stroke="none" stroke-width="0.8"/>
<line x1="158.1" y1="110.57" x2="159.5" y2="110.57" stroke="#444" stroke-width="0.6"/>
<rect x="156.5" y="110.17" width="0.9" height="0.8" fill="#9a9a9a" stroke="none" stroke-width="0.8"/>
<line x1="158.1" y1="118.7" x2="159.5" y2="118.7" stroke="#444" stroke-width="0.6"/>
<rect x="156.5" y="118.3" width="0.9" height="0.8" fill="#9a9a9a" stroke="none" stroke-width="0.8"/>
<path d="M155.3 103.9h-1.2v4.4h1.2" fill="none" stroke="#8a8a8a" stroke-width="0.6"/>
<line x1="153.9" y1="104.3" x2="153.9" y2="107.9" stroke="#aaa" stroke-width="0.5"/>
<rect x="158.4" y="120.2" width="2" height="1.1" fill="#858585" stroke="none" stroke-width="0.8"/>
<rect x="165.55" y="120.2" width="2" height="1.1" fill="#858585" stroke="none" stroke-width="0.8"/>
<rect x="172.7" y="120.2" width="2" height="1.1" fill="#858585" stroke="none" stroke-width="0.8"/>
<rect x="179.85" y="120.2" width="2" height="1.1" fill="#858585" stroke="none" stroke-width="0.8"/>
<rect x="187" y="120.2" width="2" height="1.1" fill="#858585" stroke="none" stroke-width="0.8"/>
<path d="M160.1 118.7L160.1 109.67L160.8 108.84L161.5 106.5L162.2 97.92L162.9 103.11L163.6 104.18L164.3 101.53L165 103.74L165.7 99.59L166.4 103.13L167.1 97.42L167.8 102.3L168.5 101.53L169.2 101.44L169.9 105.18L170.6 106.64L171.3 110.02L172 113.93L172.7 114.21L173.4 116.25L174.1 117.5L174.8 118.14L175.5 118.38L176.2 118.59L176.2 118.7 Z" fill="#6b6b6b" stroke="#1a1a1a" stroke-width="0.55" stroke-linejoin="round"/>
<line x1="176.66" y1="112.7" x2="188.1" y2="112.7" stroke="#6a6a6a" stroke-width="0.6"/>
<line x1="176.66" y1="111.2" x2="176.66" y2="114.2" stroke="#6a6a6a" stroke-width="0.5"/>
<rect x="180.09" y="114" width="2.2" height="0.8" fill="#aaa" stroke="none" stroke-width="0.8"/>
<line x1="159.5" y1="94.3" x2="188.1" y2="94.3" stroke="#8f8f8f" stroke-width="0.8"/>
<line x1="188.1" y1="94.3" x2="188.1" y2="118.7" stroke="#8f8f8f" stroke-width="0.8"/>
<line x1="159.5" y1="93.9" x2="159.5" y2="119.1" stroke="#111" stroke-width="0.9"/>
<line x1="159.1" y1="118.7" x2="188.5" y2="118.7" stroke="#111" stroke-width="0.9"/>
<line x1="196.9" y1="94.3" x2="198.3" y2="94.3" stroke="#444" stroke-width="0.6"/>
<rect x="195.3" y="93.9" width="0.9" height="0.8" fill="#9a9a9a" stroke="none" stroke-width="0.8"/>
<line x1="196.9" y1="102.43" x2="198.3" y2="102.43" stroke="#444" stroke-width="0.6"/>
<rect x="195.3" y="102.03" width="0.9" height="0.8" fill="#9a9a9a" stroke="none" stroke-width="0.8"/>
<line x1="196.9" y1="110.57" x2="198.3" y2="110.57" stroke="#444" stroke-width="0.6"/>
<rect x="195.3" y="110.17" width="0.9" height="0.8" fill="#9a9a9a" stroke="none" stroke-width="0.8"/>
<line x1="196.9" y1="118.7" x2="198.3" y2="118.7" stroke="#444" stroke-width="0.6"/>
<rect x="195.3" y="118.3" width="0.9" height="0.8" fill="#9a9a9a" stroke="none" stroke-width="0.8"/>
<path d="M194.1 103.9h-1.2v4.4h1.2" fill="none" stroke="#8a8a8a" stroke-width="0.6"/>
<line x1="192.7" y1="104.3" x2="192.7" y2="107.9" stroke="#aaa" stroke-width="0.5"/>
<rect x="197.2" y="120.2" width="2" height="1.1" fill="#858585" stroke="none" stroke-width="0.8"/>
<rect x="204.35" y="120.2" width="2" height="1.1" fill="#858585" stroke="none" stroke-width="0.8"/>
<rect x="211.5" y="120.2" width="2" height="1.1" fill="#858585" stroke="none" stroke-width="0.8"/>
<rect x="218.65" y="120.2" width="2" height="1.1" fill="#858585" stroke="none" stroke-width="0.8"/>
<rect x="225.8" y="120.2" width="2" height="1.1" fill="#858585" stroke="none" stroke-width="0.8"/>
<path d="M198.9 118.7L198.9 110.26L199.6 108.1L200.3 107.22L201 109.58L201.7 105.53L202.4 104.24L203.1 101.69L203.8 103.56L204.5 103.33L205.2 102.81L205.9 106.13L206.6 107.33L207.3 111.5L208 113.34L208.7 113.98L209.4 116.01L210.1 117.03L210.8 117.68L211.5 118.23L212.2 118.5L212.2 118.7 Z" fill="#6b6b6b" stroke="#1a1a1a" stroke-width="0.55" stroke-linejoin="round"/>
<line x1="209.74" y1="112.7" x2="226.9" y2="112.7" stroke="#6a6a6a" stroke-width="0.6"/>
<line x1="209.74" y1="111.2" x2="209.74" y2="114.2" stroke="#6a6a6a" stroke-width="0.5"/>
<rect x="218.89" y="114" width="2.2" height="0.8" fill="#aaa" stroke="none" stroke-width="0.8"/>
<line x1="198.3" y1="94.3" x2="226.9" y2="94.3" stroke="#8f8f8f" stroke-width="0.8"/>
<line x1="226.9" y1="94.3" x2="226.9" y2="118.7" stroke="#8f8f8f" stroke-width="0.8"/>
<line x1="198.3" y1="93.9" x2="198.3" y2="119.1" stroke="#111" stroke-width="0.9"/>
<line x1="197.9" y1="118.7" x2="227.3" y2="118.7" stroke="#111" stroke-width="0.9"/>
<line x1="235.7" y1="94.3" x2="237.1" y2="94.3" stroke="#444" stroke-width="0.6"/>
<rect x="234.1" y="93.9" width="0.9" height="0.8" fill="#9a9a9a" stroke="none" stroke-width="0.8"/>
<line x1="235.7" y1="102.43" x2="237.1" y2="102.43" stroke="#444" stroke-width="0.6"/>
<rect x="234.1" y="102.03" width="0.9" height="0.8" fill="#9a9a9a" stroke="none" stroke-width="0.8"/>
<line x1="235.7" y1="110.57" x2="237.1" y2="110.57" stroke="#444" stroke-width="0.6"/>
<rect x="234.1" y="110.17" width="0.9" height="0.8" fill="#9a9a9a" stroke="none" stroke-width="0.8"/>
<line x1="235.7" y1="118.7" x2="237.1" y2="118.7" stroke="#444" stroke-width="0.6"/>
<rect x="234.1" y="118.3" width="0.9" height="0.8" fill="#9a9a9a" stroke="none" stroke-width="0.8"/>
<path d="M232.9 103.9h-1.2v4.4h1.2" fill="none" stroke="#8a8a8a" stroke-width="0.6"/>
<line x1="231.5" y1="104.3" x2="231.5" y2="107.9" stroke="#aaa" stroke-width="0.5"/>
<rect x="236" y="120.2" width="2" height="1.1" fill="#858585" stroke="none" stroke-width="0.8"/>
<rect x="243.15" y="120.2" width="2" height="1.1" fill="#858585" stroke="none" stroke-width="0.8"/>
<rect x="250.3" y="120.2" width="2" height="1.1" fill="#858585" stroke="none" stroke-width="0.8"/>
<rect x="257.45" y="120.2" width="2" height="1.1" fill="#858585" stroke="none" stroke-width="0.8"/>
<rect x="264.6" y="120.2" width="2" height="1.1" fill="#858585" stroke="none" stroke-width="0.8"/>
<path d="M237.7 118.7L237.7 116.65L238.4 115.88L239.1 115.61L239.8 114.05L240.5 114.05L241.2 112.53L241.9 112.48L242.6 110.28L243.3 110.41L244 107.93L244.7 106.55L245.4 105.09L246.1 104.92L246.8 102.41L247.5 101.19L248.2 104.18L248.9 102.77L249.6 101.84L250.3 103.87L251 106.39L251.7 108.51L252.4 108.92L253.1 112.39L253.8 113L254.5 114.42L255.2 116.12L255.9 116.86L256.6 117.5L257.3 117.89L258 118.23L258.7 118.39L258.7 118.7 Z" fill="#6b6b6b" stroke="#1a1a1a" stroke-width="0.55" stroke-linejoin="round"/>
<line x1="255.69" y1="112.7" x2="265.7" y2="112.7" stroke="#6a6a6a" stroke-width="0.6"/>
<line x1="255.69" y1="111.2" x2="255.69" y2="114.2" stroke="#6a6a6a" stroke-width="0.5"/>
<rect x="257.69" y="114" width="2.2" height="0.8" fill="#aaa" stroke="none" stroke-width="0.8"/>
<line x1="237.1" y1="94.3" x2="265.7" y2="94.3" stroke="#8f8f8f" stroke-width="0.8"/>
<line x1="265.7" y1="94.3" x2="265.7" y2="118.7" stroke="#8f8f8f" stroke-width="0.8"/>
<line x1="237.1" y1="93.9" x2="237.1" y2="119.1" stroke="#111" stroke-width="0.9"/>
<line x1="236.7" y1="118.7" x2="266.1" y2="118.7" stroke="#111" stroke-width="0.9"/>
<line x1="274.9" y1="94.3" x2="276.3" y2="94.3" stroke="#444" stroke-width="0.6"/>
<rect x="273.3" y="93.9" width="0.9" height="0.8" fill="#9a9a9a" stroke="none" stroke-width="0.8"/>
<line x1="274.9" y1="102.43" x2="276.3" y2="102.43" stroke="#444" stroke-width="0.6"/>
<rect x="273.3" y="102.03" width="0.9" height="0.8" fill="#9a9a9a" stroke="none" stroke-width="0.8"/>
<line x1="274.9" y1="110.57" x2="276.3" y2="110.57" stroke="#444" stroke-width="0.6"/>
<rect x="273.3" y="110.17" width="0.9" height="0.8" fill="#9a9a9a" stroke="none" stroke-width="0.8"/>
<line x1="274.9" y1="118.7" x2="276.3" y2="118.7" stroke="#444" stroke-width="0.6"/>
<rect x="273.3" y="118.3" width="0.9" height="0.8" fill="#9a9a9a" stroke="none" stroke-width="0.8"/>
<path d="M272.1 103.9h-1.2v4.4h1.2" fill="none" stroke="#8a8a8a" stroke-width="0.6"/>
<line x1="270.7" y1="104.3" x2="270.7" y2="107.9" stroke="#aaa" stroke-width="0.5"/>
<rect x="275.2" y="120.2" width="2" height="1.1" fill="#858585" stroke="none" stroke-width="0.8"/>
<rect x="282.35" y="120.2" width="2" height="1.1" fill="#858585" stroke="none" stroke-width="0.8"/>
<rect x="289.5" y="120.2" width="2" height="1.1" fill="#858585" stroke="none" stroke-width="0.8"/>
<rect x="296.65" y="120.2" width="2" height="1.1" fill="#858585" stroke="none" stroke-width="0.8"/>
<rect x="303.8" y="120.2" width="2" height="1.1" fill="#858585" stroke="none" stroke-width="0.8"/>
<path d="M285.3 118.7L285.3 118.66L286 118.54L286.7 118.27L287.4 117.72L288.1 116.28L288.8 114.12L289.5 111.49L290.2 105.88L290.9 103.1L291.6 99.8L292.3 98.21L293 98.54L293.7 102.26L294.4 104.13L295.1 107.64L295.8 111.52L296.5 114L297.2 116.07L297.9 117.27L298.6 118.07L299.3 118.41L299.3 118.7 Z" fill="#6b6b6b" stroke="#1a1a1a" stroke-width="0.55" stroke-linejoin="round"/>
<line x1="285.45" y1="112.7" x2="304.9" y2="112.7" stroke="#6a6a6a" stroke-width="0.6"/>
<line x1="285.45" y1="111.2" x2="285.45" y2="114.2" stroke="#6a6a6a" stroke-width="0.5"/>
<rect x="296.89" y="114" width="2.2" height="0.8" fill="#aaa" stroke="none" stroke-width="0.8"/>
<line x1="276.3" y1="94.3" x2="304.9" y2="94.3" stroke="#8f8f8f" stroke-width="0.8"/>
<line x1="304.9" y1="94.3" x2="304.9" y2="118.7" stroke="#8f8f8f" stroke-width="0.8"/>
<line x1="276.3" y1="93.9" x2="276.3" y2="119.1" stroke="#111" stroke-width="0.9"/>
<line x1="275.9" y1="118.7" x2="305.3" y2="118.7" stroke="#111" stroke-width="0.9"/>
<line x1="314.4" y1="94.3" x2="315.8" y2="94.3" stroke="#444" stroke-width="0.6"/>
<rect x="312.8" y="93.9" width="0.9" height="0.8" fill="#9a9a9a" stroke="none" stroke-width="0.8"/>
<line x1="314.4" y1="102.43" x2="315.8" y2="102.43" stroke="#444" stroke-width="0.6"/>
<rect x="312.8" y="102.03" width="0.9" height="0.8" fill="#9a9a9a" stroke="none" stroke-width="0.8"/>
<line x1="314.4" y1="110.57" x2="315.8" y2="110.57" stroke="#444" stroke-width="0.6"/>
<rect x="312.8" y="110.17" width="0.9" height="0.8" fill="#9a9a9a" stroke="none" stroke-width="0.8"/>
<line x1="314.4" y1="118.7" x2="315.8" y2="118.7" stroke="#444" stroke-width="0.6"/>
<rect x="312.8" y="118.3" width="0.9" height="0.8" fill="#9a9a9a" stroke="none" stroke-width="0.8"/>
<path d="M311.6 103.9h-1.2v4.4h1.2" fill="none" stroke="#8a8a8a" stroke-width="0.6"/>
<line x1="310.2" y1="104.3" x2="310.2" y2="107.9" stroke="#aaa" stroke-width="0.5"/>
<rect x="314.7" y="120.2" width="2" height="1.1" fill="#858585" stroke="none" stroke-width="0.8"/>
<rect x="321.85" y="120.2" width="2" height="1.1" fill="#858585" stroke="none" stroke-width="0.8"/>
<rect x="329" y="120.2" width="2" height="1.1" fill="#858585" stroke="none" stroke-width="0.8"/>
<rect x="336.15" y="120.2" width="2" height="1.1" fill="#858585" stroke="none" stroke-width="0.8"/>
<rect x="343.3" y="120.2" width="2" height="1.1" fill="#858585" stroke="none" stroke-width="0.8"/>
<path d="M333.8 118.7L333.8 118.21L334.5 117.85L335.2 117.3L335.9 116.52L336.6 115.86L337.3 113.98L338 108.07L338.7 99.28L339.4 96.98L340.1 106.38L340.8 114.01L341.5 116.91L342.2 117.82L342.9 118.26L342.9 118.7 Z" fill="#6b6b6b" stroke="#1a1a1a" stroke-width="0.55" stroke-linejoin="round"/>
<line x1="326.1" y1="112.7" x2="344.4" y2="112.7" stroke="#6a6a6a" stroke-width="0.6"/>
<line x1="326.1" y1="111.2" x2="326.1" y2="114.2" stroke="#6a6a6a" stroke-width="0.5"/>
<rect x="336.39" y="114" width="2.2" height="0.8" fill="#aaa" stroke="none" stroke-width="0.8"/>
<line x1="315.8" y1="94.3" x2="344.4" y2="94.3" stroke="#8f8f8f" stroke-width="0.8"/>
<line x1="344.4" y1="94.3" x2="344.4" y2="118.7" stroke="#8f8f8f" stroke-width="0.8"/>
<line x1="315.8" y1="93.9" x2="315.8" y2="119.1" stroke="#111" stroke-width="0.9"/>
<line x1="315.4" y1="118.7" x2="344.8" y2="118.7" stroke="#111" stroke-width="0.9"/>
<line x1="118.8" y1="137.9" x2="120.2" y2="137.9" stroke="#444" stroke-width="0.6"/>
<rect x="117.2" y="137.5" width="0.9" height="0.8" fill="#9a9a9a" stroke="none" stroke-width="0.8"/>
<line x1="118.8" y1="146.03" x2="120.2" y2="146.03" stroke="#444" stroke-width="0.6"/>
<rect x="117.2" y="145.63" width="0.9" height="0.8" fill="#9a9a9a" stroke="none" stroke-width="0.8"/>
<line x1="118.8" y1="154.17" x2="120.2" y2="154.17" stroke="#444" stroke-width="0.6"/>
<rect x="117.2" y="153.77" width="0.9" height="0.8" fill="#9a9a9a" stroke="none" stroke-width="0.8"/>
<line x1="118.8" y1="162.3" x2="120.2" y2="162.3" stroke="#444" stroke-width="0.6"/>
<rect x="117.2" y="161.9" width="0.9" height="0.8" fill="#9a9a9a" stroke="none" stroke-width="0.8"/>
<path d="M116 147.5h-1.2v4.4h1.2" fill="none" stroke="#8a8a8a" stroke-width="0.6"/>
<line x1="114.6" y1="147.9" x2="114.6" y2="151.5" stroke="#aaa" stroke-width="0.5"/>
<rect x="119.1" y="163.8" width="2" height="1.1" fill="#858585" stroke="none" stroke-width="0.8"/>
<rect x="126.25" y="163.8" width="2" height="1.1" fill="#858585" stroke="none" stroke-width="0.8"/>
<rect x="133.4" y="163.8" width="2" height="1.1" fill="#858585" stroke="none" stroke-width="0.8"/>
<rect x="140.55" y="163.8" width="2" height="1.1" fill="#858585" stroke="none" stroke-width="0.8"/>
<rect x="147.7" y="163.8" width="2" height="1.1" fill="#858585" stroke="none" stroke-width="0.8"/>
<path d="M120.8 162.3L120.8 161.05L121.5 160.75L122.2 160.37L122.9 160L123.6 160.04L124.3 159.9L125 159.72L125.7 159.34L126.4 159.62L127.1 159.22L127.8 159.21L128.5 159.46L129.2 159.01L129.9 158.35L130.6 156.41L131.3 151.37L132 148.43L132.7 145.35L133.4 142.28L134.1 147.75L134.8 152.91L135.5 156.69L136.2 159.25L136.9 160.38L137.6 161.24L138.3 161.53L139 161.66L139.7 161.81L140.4 161.9L141.1 162.01L141.8 162.11L141.8 162.3 Z" fill="#6b6b6b" stroke="#1a1a1a" stroke-width="0.55" stroke-linejoin="round"/>
<line x1="127.64" y1="156.3" x2="148.8" y2="156.3" stroke="#6a6a6a" stroke-width="0.6"/>
<line x1="127.64" y1="154.8" x2="127.64" y2="157.8" stroke="#6a6a6a" stroke-width="0.5"/>
<rect x="140.79" y="157.6" width="2.2" height="0.8" fill="#aaa" stroke="none" stroke-width="0.8"/>
<line x1="120.2" y1="137.9" x2="148.8" y2="137.9" stroke="#8f8f8f" stroke-width="0.8"/>
<line x1="148.8" y1="137.9" x2="148.8" y2="162.3" stroke="#8f8f8f" stroke-width="0.8"/>
<line x1="120.2" y1="137.5" x2="120.2" y2="162.7" stroke="#111" stroke-width="0.9"/>
<line x1="119.8" y1="162.3" x2="149.2" y2="162.3" stroke="#111" stroke-width="0.9"/>
<line x1="158.1" y1="137.9" x2="159.5" y2="137.9" stroke="#444" stroke-width="0.6"/>
<rect x="156.5" y="137.5" width="0.9" height="0.8" fill="#9a9a9a" stroke="none" stroke-width="0.8"/>
<line x1="158.1" y1="146.03" x2="159.5" y2="146.03" stroke="#444" stroke-width="0.6"/>
<rect x="156.5" y="145.63" width="0.9" height="0.8" fill="#9a9a9a" stroke="none" stroke-width="0.8"/>
<line x1="158.1" y1="154.17" x2="159.5" y2="154.17" stroke="#444" stroke-width="0.6"/>
<rect x="156.5" y="153.77" width="0.9" height="0.8" fill="#9a9a9a" stroke="none" stroke-width="0.8"/>
<line x1="158.1" y1="162.3" x2="159.5" y2="162.3" stroke="#444" stroke-width="0.6"/>
<rect x="156.5" y="161.9" width="0.9" height="0.8" fill="#9a9a9a" stroke="none" stroke-width="0.8"/>
<path d="M155.3 147.5h-1.2v4.4h1.2" fill="none" stroke="#8a8a8a" stroke-width="0.6"/>
<line x1="153.9" y1="147.9" x2="153.9" y2="151.5" stroke="#aaa" stroke-width="0.5"/>
<rect x="158.4" y="163.8" width="2" height="1.1" fill="#858585" stroke="none" stroke-width="0.8"/>
<rect x="165.55" y="163.8" width="2" height="1.1" fill="#858585" stroke="none" stroke-width="0.8"/>
<rect x="172.7" y="163.8" width="2" height="1.1" fill="#858585" stroke="none" stroke-width="0.8"/>
<rect x="179.85" y="163.8" width="2" height="1.1" fill="#858585" stroke="none" stroke-width="0.8"/>
<rect x="187" y="163.8" width="2" height="1.1" fill="#858585" stroke="none" stroke-width="0.8"/>
<path d="M160.1 162.3L160.1 160.17L160.8 159.23L161.5 158.15L162.2 155.98L162.9 155.18L163.6 152.85L164.3 152.86L165 149.9L165.7 147.52L166.4 148.71L167.1 147.92L167.8 149.9L168.5 153.57L169.2 156.43L169.9 157.05L170.6 159.45L171.3 160.63L172 161.11L172.7 161.65L173.4 161.98L173.4 162.3 Z" fill="#6b6b6b" stroke="#1a1a1a" stroke-width="0.55" stroke-linejoin="round"/>
<line x1="177.23" y1="156.3" x2="188.1" y2="156.3" stroke="#6a6a6a" stroke-width="0.6"/>
<line x1="177.23" y1="154.8" x2="177.23" y2="157.8" stroke="#6a6a6a" stroke-width="0.5"/>
<rect x="180.09" y="157.6" width="2.2" height="0.8" fill="#aaa" stroke="none" stroke-width="0.8"/>
<line x1="159.5" y1="137.9" x2="188.1" y2="137.9" stroke="#8f8f8f" stroke-width="0.8"/>
<line x1="188.1" y1="137.9" x2="188.1" y2="162.3" stroke="#8f8f8f" stroke-width="0.8"/>
<line x1="159.5" y1="137.5" x2="159.5" y2="162.7" stroke="#111" stroke-width="0.9"/>
<line x1="159.1" y1="162.3" x2="188.5" y2="162.3" stroke="#111" stroke-width="0.9"/>
<line x1="196.9" y1="137.9" x2="198.3" y2="137.9" stroke="#444" stroke-width="0.6"/>
<rect x="195.3" y="137.5" width="0.9" height="0.8" fill="#9a9a9a" stroke="none" stroke-width="0.8"/>
<line x1="196.9" y1="146.03" x2="198.3" y2="146.03" stroke="#444" stroke-width="0.6"/>
<rect x="195.3" y="145.63" width="0.9" height="0.8" fill="#9a9a9a" stroke="none" stroke-width="0.8"/>
<line x1="196.9" y1="154.17" x2="198.3" y2="154.17" stroke="#444" stroke-width="0.6"/>
<rect x="195.3" y="153.77" width="0.9" height="0.8" fill="#9a9a9a" stroke="none" stroke-width="0.8"/>
<line x1="196.9" y1="162.3" x2="198.3" y2="162.3" stroke="#444" stroke-width="0.6"/>
<rect x="195.3" y="161.9" width="0.9" height="0.8" fill="#9a9a9a" stroke="none" stroke-width="0.8"/>
<path d="M194.1 147.5h-1.2v4.4h1.2" fill="none" stroke="#8a8a8a" stroke-width="0.6"/>
<line x1="192.7" y1="147.9" x2="192.7" y2="151.5" stroke="#aaa" stroke-width="0.5"/>
<rect x="197.2" y="163.8" width="2" height="1.1" fill="#858585" stroke="none" stroke-width="0.8"/>
<rect x="204.35" y="163.8" width="2" height="1.1" fill="#858585" stroke="none" stroke-width="0.8"/>
<rect x="211.5" y="163.8" width="2" height="1.1" fill="#858585" stroke="none" stroke-width="0.8"/>
<rect x="218.65" y="163.8" width="2" height="1.1" fill="#858585" stroke="none" stroke-width="0.8"/>
<rect x="225.8" y="163.8" width="2" height="1.1" fill="#858585" stroke="none" stroke-width="0.8"/>
<path d="M198.9 162.3L198.9 160.25L199.6 159.42L200.3 158.43L201 158.49L201.7 157.23L202.4 155.9L203.1 154.63L203.8 155.2L204.5 152.43L205.2 151.44L205.9 151.45L206.6 150.04L207.3 152.71L208 154.47L208.7 155.04L209.4 157.51L210.1 159.42L210.8 160.48L211.5 161.16L212.2 161.78L212.9 161.97L213.6 162.14L214.3 162.24L214.3 162.3 Z" fill="#6b6b6b" stroke="#1a1a1a" stroke-width="0.55" stroke-linejoin="round"/>
<line x1="213.17" y1="156.3" x2="226.9" y2="156.3" stroke="#6a6a6a" stroke-width="0.6"/>
<line x1="213.17" y1="154.8" x2="213.17" y2="157.8" stroke="#6a6a6a" stroke-width="0.5"/>
<rect x="218.89" y="157.6" width="2.2" height="0.8" fill="#aaa" stroke="none" stroke-width="0.8"/>
<line x1="198.3" y1="137.9" x2="226.9" y2="137.9" stroke="#8f8f8f" stroke-width="0.8"/>
<line x1="226.9" y1="137.9" x2="226.9" y2="162.3" stroke="#8f8f8f" stroke-width="0.8"/>
<line x1="198.3" y1="137.5" x2="198.3" y2="162.7" stroke="#111" stroke-width="0.9"/>
<line x1="197.9" y1="162.3" x2="227.3" y2="162.3" stroke="#111" stroke-width="0.9"/>
<line x1="235.7" y1="137.9" x2="237.1" y2="137.9" stroke="#444" stroke-width="0.6"/>
<rect x="234.1" y="137.5" width="0.9" height="0.8" fill="#9a9a9a" stroke="none" stroke-width="0.8"/>
<line x1="235.7" y1="146.03" x2="237.1" y2="146.03" stroke="#444" stroke-width="0.6"/>
<rect x="234.1" y="145.63" width="0.9" height="0.8" fill="#9a9a9a" stroke="none" stroke-width="0.8"/>
<line x1="235.7" y1="154.17" x2="237.1" y2="154.17" stroke="#444" stroke-width="0.6"/>
<rect x="234.1" y="153.77" width="0.9" height="0.8" fill="#9a9a9a" stroke="none" stroke-width="0.8"/>
<line x1="235.7" y1="162.3" x2="237.1" y2="162.3" stroke="#444" stroke-width="0.6"/>
<rect x="234.1" y="161.9" width="0.9" height="0.8" fill="#9a9a9a" stroke="none" stroke-width="0.8"/>
<path d="M232.9 147.5h-1.2v4.4h1.2" fill="none" stroke="#8a8a8a" stroke-width="0.6"/>
<line x1="231.5" y1="147.9" x2="231.5" y2="151.5" stroke="#aaa" stroke-width="0.5"/>
<rect x="236" y="163.8" width="2" height="1.1" fill="#858585" stroke="none" stroke-width="0.8"/>
<rect x="243.15" y="163.8" width="2" height="1.1" fill="#858585" stroke="none" stroke-width="0.8"/>
<rect x="250.3" y="163.8" width="2" height="1.1" fill="#858585" stroke="none" stroke-width="0.8"/>
<rect x="257.45" y="163.8" width="2" height="1.1" fill="#858585" stroke="none" stroke-width="0.8"/>
<rect x="264.6" y="163.8" width="2" height="1.1" fill="#858585" stroke="none" stroke-width="0.8"/>
<path d="M237.7 162.3L237.7 159.59L238.4 158.48L239.1 157.03L239.8 156.03L240.5 155.36L241.2 156.04L241.9 153.62L242.6 154.21L243.3 153.52L244 153.32L244.7 150.56L245.4 151.79L246.1 151.28L246.8 150.38L247.5 150.98L248.2 152.81L248.9 156.54L249.6 157.98L250.3 158.9L251 159.68L251.7 160.43L252.4 161.17L253.1 161.62L253.8 161.97L254.5 162.13L254.5 162.3 Z" fill="#6b6b6b" stroke="#1a1a1a" stroke-width="0.55" stroke-linejoin="round"/>
<line x1="252.83" y1="156.3" x2="265.7" y2="156.3" stroke="#6a6a6a" stroke-width="0.6"/>
<line x1="252.83" y1="154.8" x2="252.83" y2="157.8" stroke="#6a6a6a" stroke-width="0.5"/>
<rect x="257.69" y="157.6" width="2.2" height="0.8" fill="#aaa" stroke="none" stroke-width="0.8"/>
<line x1="237.1" y1="137.9" x2="265.7" y2="137.9" stroke="#8f8f8f" stroke-width="0.8"/>
<line x1="265.7" y1="137.9" x2="265.7" y2="162.3" stroke="#8f8f8f" stroke-width="0.8"/>
<line x1="237.1" y1="137.5" x2="237.1" y2="162.7" stroke="#111" stroke-width="0.9"/>
<line x1="236.7" y1="162.3" x2="266.1" y2="162.3" stroke="#111" stroke-width="0.9"/>
<line x1="274.9" y1="137.9" x2="276.3" y2="137.9" stroke="#444" stroke-width="0.6"/>
<rect x="273.3" y="137.5" width="0.9" height="0.8" fill="#9a9a9a" stroke="none" stroke-width="0.8"/>
<line x1="274.9" y1="146.03" x2="276.3" y2="146.03" stroke="#444" stroke-width="0.6"/>
<rect x="273.3" y="145.63" width="0.9" height="0.8" fill="#9a9a9a" stroke="none" stroke-width="0.8"/>
<line x1="274.9" y1="154.17" x2="276.3" y2="154.17" stroke="#444" stroke-width="0.6"/>
<rect x="273.3" y="153.77" width="0.9" height="0.8" fill="#9a9a9a" stroke="none" stroke-width="0.8"/>
<line x1="274.9" y1="162.3" x2="276.3" y2="162.3" stroke="#444" stroke-width="0.6"/>
<rect x="273.3" y="161.9" width="0.9" height="0.8" fill="#9a9a9a" stroke="none" stroke-width="0.8"/>
<path d="M272.1 147.5h-1.2v4.4h1.2" fill="none" stroke="#8a8a8a" stroke-width="0.6"/>
<line x1="270.7" y1="147.9" x2="270.7" y2="151.5" stroke="#aaa" stroke-width="0.5"/>
<rect x="275.2" y="163.8" width="2" height="1.1" fill="#858585" stroke="none" stroke-width="0.8"/>
<rect x="282.35" y="163.8" width="2" height="1.1" fill="#858585" stroke="none" stroke-width="0.8"/>
<rect x="289.5" y="163.8" width="2" height="1.1" fill="#858585" stroke="none" stroke-width="0.8"/>
<rect x="296.65" y="163.8" width="2" height="1.1" fill="#858585" stroke="none" stroke-width="0.8"/>
<rect x="303.8" y="163.8" width="2" height="1.1" fill="#858585" stroke="none" stroke-width="0.8"/>
<path d="M288.3 162.3L288.3 162.27L289 162.21L289.7 162.03L290.4 161.56L291.1 160.85L291.8 158.64L292.5 156.31L293.2 152.09L293.9 147.65L294.6 142.83L295.3 144.21L296 143.62L296.7 143.56L297.4 147.26L298.1 149.83L298.8 153.77L299.5 154.86L300.2 158.51L300.9 159.47L301.6 161L302.3 161.81L303 162.09L303.7 162.25L303.7 162.3 Z" fill="#6b6b6b" stroke="#1a1a1a" stroke-width="0.55" stroke-linejoin="round"/>
<line x1="287.17" y1="156.3" x2="304.9" y2="156.3" stroke="#6a6a6a" stroke-width="0.6"/>
<line x1="287.17" y1="154.8" x2="287.17" y2="157.8" stroke="#6a6a6a" stroke-width="0.5"/>
<rect x="296.89" y="157.6" width="2.2" height="0.8" fill="#aaa" stroke="none" stroke-width="0.8"/>
<line x1="276.3" y1="137.9" x2="304.9" y2="137.9" stroke="#8f8f8f" stroke-width="0.8"/>
<line x1="304.9" y1="137.9" x2="304.9" y2="162.3" stroke="#8f8f8f" stroke-width="0.8"/>
<line x1="276.3" y1="137.5" x2="276.3" y2="162.7" stroke="#111" stroke-width="0.9"/>
<line x1="275.9" y1="162.3" x2="305.3" y2="162.3" stroke="#111" stroke-width="0.9"/>
<line x1="314.4" y1="137.9" x2="315.8" y2="137.9" stroke="#444" stroke-width="0.6"/>
<rect x="312.8" y="137.5" width="0.9" height="0.8" fill="#9a9a9a" stroke="none" stroke-width="0.8"/>
<line x1="314.4" y1="146.03" x2="315.8" y2="146.03" stroke="#444" stroke-width="0.6"/>
<rect x="312.8" y="145.63" width="0.9" height="0.8" fill="#9a9a9a" stroke="none" stroke-width="0.8"/>
<line x1="314.4" y1="154.17" x2="315.8" y2="154.17" stroke="#444" stroke-width="0.6"/>
<rect x="312.8" y="153.77" width="0.9" height="0.8" fill="#9a9a9a" stroke="none" stroke-width="0.8"/>
<line x1="314.4" y1="162.3" x2="315.8" y2="162.3" stroke="#444" stroke-width="0.6"/>
<rect x="312.8" y="161.9" width="0.9" height="0.8" fill="#9a9a9a" stroke="none" stroke-width="0.8"/>
<path d="M311.6 147.5h-1.2v4.4h1.2" fill="none" stroke="#8a8a8a" stroke-width="0.6"/>
<line x1="310.2" y1="147.9" x2="310.2" y2="151.5" stroke="#aaa" stroke-width="0.5"/>
<rect x="314.7" y="163.8" width="2" height="1.1" fill="#858585" stroke="none" stroke-width="0.8"/>
<rect x="321.85" y="163.8" width="2" height="1.1" fill="#858585" stroke="none" stroke-width="0.8"/>
<rect x="329" y="163.8" width="2" height="1.1" fill="#858585" stroke="none" stroke-width="0.8"/>
<rect x="336.15" y="163.8" width="2" height="1.1" fill="#858585" stroke="none" stroke-width="0.8"/>
<rect x="343.3" y="163.8" width="2" height="1.1" fill="#858585" stroke="none" stroke-width="0.8"/>
<path d="M327.8 162.3L327.8 160.45L328.5 158.63L329.2 156.95L329.9 154.96L330.6 153.05L331.3 150.4L332 152.52L332.7 147.92L333.4 149.25L334.1 146.35L334.8 148.5L335.5 148.38L336.2 148.9L336.9 149.32L337.6 149.95L338.3 152.54L339 157.1L339.7 158.15L340.4 159.41L341.1 160.71L341.8 161.39L342.5 161.63L343.2 161.86L343.2 162.3 Z" fill="#6b6b6b" stroke="#1a1a1a" stroke-width="0.55" stroke-linejoin="round"/>
<line x1="332.96" y1="156.3" x2="344.4" y2="156.3" stroke="#6a6a6a" stroke-width="0.6"/>
<line x1="332.96" y1="154.8" x2="332.96" y2="157.8" stroke="#6a6a6a" stroke-width="0.5"/>
<rect x="336.39" y="157.6" width="2.2" height="0.8" fill="#aaa" stroke="none" stroke-width="0.8"/>
<line x1="315.8" y1="137.9" x2="344.4" y2="137.9" stroke="#8f8f8f" stroke-width="0.8"/>
<line x1="344.4" y1="137.9" x2="344.4" y2="162.3" stroke="#8f8f8f" stroke-width="0.8"/>
<line x1="315.8" y1="137.5" x2="315.8" y2="162.7" stroke="#111" stroke-width="0.9"/>
<line x1="315.4" y1="162.3" x2="344.8" y2="162.3" stroke="#111" stroke-width="0.9"/>
<line x1="118.8" y1="173" x2="120.2" y2="173" stroke="#444" stroke-width="0.6"/>
<rect x="117.2" y="172.6" width="0.9" height="0.8" fill="#9a9a9a" stroke="none" stroke-width="0.8"/>
<line x1="118.8" y1="181.13" x2="120.2" y2="181.13" stroke="#444" stroke-width="0.6"/>
<rect x="117.2" y="180.73" width="0.9" height="0.8" fill="#9a9a9a" stroke="none" stroke-width="0.8"/>
<line x1="118.8" y1="189.27" x2="120.2" y2="189.27" stroke="#444" stroke-width="0.6"/>
<rect x="117.2" y="188.87" width="0.9" height="0.8" fill="#9a9a9a" stroke="none" stroke-width="0.8"/>
<line x1="118.8" y1="197.4" x2="120.2" y2="197.4" stroke="#444" stroke-width="0.6"/>
<rect x="117.2" y="197" width="0.9" height="0.8" fill="#9a9a9a" stroke="none" stroke-width="0.8"/>
<path d="M116 182.6h-1.2v4.4h1.2" fill="none" stroke="#8a8a8a" stroke-width="0.6"/>
<line x1="114.6" y1="183" x2="114.6" y2="186.6" stroke="#aaa" stroke-width="0.5"/>
<rect x="119.1" y="198.9" width="2" height="1.1" fill="#858585" stroke="none" stroke-width="0.8"/>
<rect x="126.25" y="198.9" width="2" height="1.1" fill="#858585" stroke="none" stroke-width="0.8"/>
<rect x="133.4" y="198.9" width="2" height="1.1" fill="#858585" stroke="none" stroke-width="0.8"/>
<rect x="140.55" y="198.9" width="2" height="1.1" fill="#858585" stroke="none" stroke-width="0.8"/>
<rect x="147.7" y="198.9" width="2" height="1.1" fill="#858585" stroke="none" stroke-width="0.8"/>
<path d="M120.8 197.4L120.8 195.39L121.5 195.25L122.2 195.09L122.9 194.41L123.6 194.36L124.3 193.89L125 193.41L125.7 192.71L126.4 190.94L127.1 189.4L127.8 186.71L128.5 184.46L129.2 181.21L129.9 180.43L130.6 180.06L131.3 179.32L132 176.85L132.7 180.84L133.4 181.37L134.1 184.69L134.8 189.18L135.5 190.61L136.2 193.77L136.9 194.73L137.6 195.92L138.3 196.74L139 197.04L139 197.4 Z" fill="#6b6b6b" stroke="#1a1a1a" stroke-width="0.55" stroke-linejoin="round"/>
<line x1="139.08" y1="191.4" x2="148.8" y2="191.4" stroke="#6a6a6a" stroke-width="0.6"/>
<line x1="139.08" y1="189.9" x2="139.08" y2="192.9" stroke="#6a6a6a" stroke-width="0.5"/>
<rect x="140.79" y="192.7" width="2.2" height="0.8" fill="#aaa" stroke="none" stroke-width="0.8"/>
<line x1="120.2" y1="173" x2="148.8" y2="173" stroke="#8f8f8f" stroke-width="0.8"/>
<line x1="148.8" y1="173" x2="148.8" y2="197.4" stroke="#8f8f8f" stroke-width="0.8"/>
<line x1="120.2" y1="172.6" x2="120.2" y2="197.8" stroke="#111" stroke-width="0.9"/>
<line x1="119.8" y1="197.4" x2="149.2" y2="197.4" stroke="#111" stroke-width="0.9"/>
<line x1="158.1" y1="173" x2="159.5" y2="173" stroke="#444" stroke-width="0.6"/>
<rect x="156.5" y="172.6" width="0.9" height="0.8" fill="#9a9a9a" stroke="none" stroke-width="0.8"/>
<line x1="158.1" y1="181.13" x2="159.5" y2="181.13" stroke="#444" stroke-width="0.6"/>
<rect x="156.5" y="180.73" width="0.9" height="0.8" fill="#9a9a9a" stroke="none" stroke-width="0.8"/>
<line x1="158.1" y1="189.27" x2="159.5" y2="189.27" stroke="#444" stroke-width="0.6"/>
<rect x="156.5" y="188.87" width="0.9" height="0.8" fill="#9a9a9a" stroke="none" stroke-width="0.8"/>
<line x1="158.1" y1="197.4" x2="159.5" y2="197.4" stroke="#444" stroke-width="0.6"/>
<rect x="156.5" y="197" width="0.9" height="0.8" fill="#9a9a9a" stroke="none" stroke-width="0.8"/>
<path d="M155.3 182.6h-1.2v4.4h1.2" fill="none" stroke="#8a8a8a" stroke-width="0.6"/>
<line x1="153.9" y1="183" x2="153.9" y2="186.6" stroke="#aaa" stroke-width="0.5"/>
<rect x="158.4" y="198.9" width="2" height="1.1" fill="#858585" stroke="none" stroke-width="0.8"/>
<rect x="165.55" y="198.9" width="2" height="1.1" fill="#858585" stroke="none" stroke-width="0.8"/>
<rect x="172.7" y="198.9" width="2" height="1.1" fill="#858585" stroke="none" stroke-width="0.8"/>
<rect x="179.85" y="198.9" width="2" height="1.1" fill="#858585" stroke="none" stroke-width="0.8"/>
<rect x="187" y="198.9" width="2" height="1.1" fill="#858585" stroke="none" stroke-width="0.8"/>
<path d="M160.1 197.4L160.1 194.43L160.8 193.88L161.5 192.46L162.2 191.2L162.9 188.58L163.6 186.52L164.3 183.28L165 183.34L165.7 179.5L166.4 179.31L167.1 177.16L167.8 175.46L168.5 179.06L169.2 180.54L169.9 182.02L170.6 185.99L171.3 189.96L172 192.04L172.7 193.95L173.4 195.79L174.1 196.36L174.8 196.9L175.5 197.19L175.5 197.4 Z" fill="#6b6b6b" stroke="#1a1a1a" stroke-width="0.55" stroke-linejoin="round"/>
<line x1="176.66" y1="191.4" x2="188.1" y2="191.4" stroke="#6a6a6a" stroke-width="0.6"/>
<line x1="176.66" y1="189.9" x2="176.66" y2="192.9" stroke="#6a6a6a" stroke-width="0.5"/>
<rect x="180.09" y="192.7" width="2.2" height="0.8" fill="#aaa" stroke="none" stroke-width="0.8"/>
<line x1="159.5" y1="173" x2="188.1" y2="173" stroke="#8f8f8f" stroke-width="0.8"/>
<line x1="188.1" y1="173" x2="188.1" y2="197.4" stroke="#8f8f8f" stroke-width="0.8"/>
<line x1="159.5" y1="172.6" x2="159.5" y2="197.8" stroke="#111" stroke-width="0.9"/>
<line x1="159.1" y1="197.4" x2="188.5" y2="197.4" stroke="#111" stroke-width="0.9"/>
<line x1="196.9" y1="173" x2="198.3" y2="173" stroke="#444" stroke-width="0.6"/>
<rect x="195.3" y="172.6" width="0.9" height="0.8" fill="#9a9a9a" stroke="none" stroke-width="0.8"/>
<line x1="196.9" y1="181.13" x2="198.3" y2="181.13" stroke="#444" stroke-width="0.6"/>
<rect x="195.3" y="180.73" width="0.9" height="0.8" fill="#9a9a9a" stroke="none" stroke-width="0.8"/>
<line x1="196.9" y1="189.27" x2="198.3" y2="189.27" stroke="#444" stroke-width="0.6"/>
<rect x="195.3" y="188.87" width="0.9" height="0.8" fill="#9a9a9a" stroke="none" stroke-width="0.8"/>
<line x1="196.9" y1="197.4" x2="198.3" y2="197.4" stroke="#444" stroke-width="0.6"/>
<rect x="195.3" y="197" width="0.9" height="0.8" fill="#9a9a9a" stroke="none" stroke-width="0.8"/>
<path d="M194.1 182.6h-1.2v4.4h1.2" fill="none" stroke="#8a8a8a" stroke-width="0.6"/>
<line x1="192.7" y1="183" x2="192.7" y2="186.6" stroke="#aaa" stroke-width="0.5"/>
<rect x="197.2" y="198.9" width="2" height="1.1" fill="#858585" stroke="none" stroke-width="0.8"/>
<rect x="204.35" y="198.9" width="2" height="1.1" fill="#858585" stroke="none" stroke-width="0.8"/>
<rect x="211.5" y="198.9" width="2" height="1.1" fill="#858585" stroke="none" stroke-width="0.8"/>
<rect x="218.65" y="198.9" width="2" height="1.1" fill="#858585" stroke="none" stroke-width="0.8"/>
<rect x="225.8" y="198.9" width="2" height="1.1" fill="#858585" stroke="none" stroke-width="0.8"/>
<path d="M198.9 197.4L198.9 192.9L199.6 189.78L200.3 190.78L201 188.85L201.7 186.19L202.4 183.38L203.1 183.58L203.8 182.77L204.5 185.94L205.2 184.83L205.9 186.91L206.6 187.27L207.3 190.57L208 192.16L208.7 194.32L209.4 195.68L210.1 196.07L210.8 196.67L211.5 197.08L212.2 197.26L212.2 197.4 Z" fill="#6b6b6b" stroke="#1a1a1a" stroke-width="0.55" stroke-linejoin="round"/>
<line x1="212.6" y1="191.4" x2="226.9" y2="191.4" stroke="#6a6a6a" stroke-width="0.6"/>
<line x1="212.6" y1="189.9" x2="212.6" y2="192.9" stroke="#6a6a6a" stroke-width="0.5"/>
<rect x="218.89" y="192.7" width="2.2" height="0.8" fill="#aaa" stroke="none" stroke-width="0.8"/>
<line x1="198.3" y1="173" x2="226.9" y2="173" stroke="#8f8f8f" stroke-width="0.8"/>
<line x1="226.9" y1="173" x2="226.9" y2="197.4" stroke="#8f8f8f" stroke-width="0.8"/>
<line x1="198.3" y1="172.6" x2="198.3" y2="197.8" stroke="#111" stroke-width="0.9"/>
<line x1="197.9" y1="197.4" x2="227.3" y2="197.4" stroke="#111" stroke-width="0.9"/>
<line x1="235.7" y1="173" x2="237.1" y2="173" stroke="#444" stroke-width="0.6"/>
<rect x="234.1" y="172.6" width="0.9" height="0.8" fill="#9a9a9a" stroke="none" stroke-width="0.8"/>
<line x1="235.7" y1="181.13" x2="237.1" y2="181.13" stroke="#444" stroke-width="0.6"/>
<rect x="234.1" y="180.73" width="0.9" height="0.8" fill="#9a9a9a" stroke="none" stroke-width="0.8"/>
<line x1="235.7" y1="189.27" x2="237.1" y2="189.27" stroke="#444" stroke-width="0.6"/>
<rect x="234.1" y="188.87" width="0.9" height="0.8" fill="#9a9a9a" stroke="none" stroke-width="0.8"/>
<line x1="235.7" y1="197.4" x2="237.1" y2="197.4" stroke="#444" stroke-width="0.6"/>
<rect x="234.1" y="197" width="0.9" height="0.8" fill="#9a9a9a" stroke="none" stroke-width="0.8"/>
<path d="M232.9 182.6h-1.2v4.4h1.2" fill="none" stroke="#8a8a8a" stroke-width="0.6"/>
<line x1="231.5" y1="183" x2="231.5" y2="186.6" stroke="#aaa" stroke-width="0.5"/>
<rect x="236" y="198.9" width="2" height="1.1" fill="#858585" stroke="none" stroke-width="0.8"/>
<rect x="243.15" y="198.9" width="2" height="1.1" fill="#858585" stroke="none" stroke-width="0.8"/>
<rect x="250.3" y="198.9" width="2" height="1.1" fill="#858585" stroke="none" stroke-width="0.8"/>
<rect x="257.45" y="198.9" width="2" height="1.1" fill="#858585" stroke="none" stroke-width="0.8"/>
<rect x="264.6" y="198.9" width="2" height="1.1" fill="#858585" stroke="none" stroke-width="0.8"/>
<path d="M237.7 197.4L237.7 194.98L238.4 194.21L239.1 193.32L239.8 193.4L240.5 192.64L241.2 191.79L241.9 189.93L242.6 187.85L243.3 184.67L244 180.45L244.7 175.81L245.4 175.82L246.1 177.5L246.8 178.87L247.5 180.33L248.2 184.88L248.9 188.67L249.6 190.11L250.3 192.94L251 195.04L251.7 196.1L252.4 196.72L253.1 197L253.1 197.4 Z" fill="#6b6b6b" stroke="#1a1a1a" stroke-width="0.55" stroke-linejoin="round"/>
<line x1="252.83" y1="191.4" x2="265.7" y2="191.4" stroke="#6a6a6a" stroke-width="0.6"/>
<line x1="252.83" y1="189.9" x2="252.83" y2="192.9" stroke="#6a6a6a" stroke-width="0.5"/>
<rect x="257.69" y="192.7" width="2.2" height="0.8" fill="#aaa" stroke="none" stroke-width="0.8"/>
<line x1="237.1" y1="173" x2="265.7" y2="173" stroke="#8f8f8f" stroke-width="0.8"/>
<line x1="265.7" y1="173" x2="265.7" y2="197.4" stroke="#8f8f8f" stroke-width="0.8"/>
<line x1="237.1" y1="172.6" x2="237.1" y2="197.8" stroke="#111" stroke-width="0.9"/>
<line x1="236.7" y1="197.4" x2="266.1" y2="197.4" stroke="#111" stroke-width="0.9"/>
<line x1="274.9" y1="173" x2="276.3" y2="173" stroke="#444" stroke-width="0.6"/>
<rect x="273.3" y="172.6" width="0.9" height="0.8" fill="#9a9a9a" stroke="none" stroke-width="0.8"/>
<line x1="274.9" y1="181.13" x2="276.3" y2="181.13" stroke="#444" stroke-width="0.6"/>
<rect x="273.3" y="180.73" width="0.9" height="0.8" fill="#9a9a9a" stroke="none" stroke-width="0.8"/>
<line x1="274.9" y1="189.27" x2="276.3" y2="189.27" stroke="#444" stroke-width="0.6"/>
<rect x="273.3" y="188.87" width="0.9" height="0.8" fill="#9a9a9a" stroke="none" stroke-width="0.8"/>
<line x1="274.9" y1="197.4" x2="276.3" y2="197.4" stroke="#444" stroke-width="0.6"/>
<rect x="273.3" y="197" width="0.9" height="0.8" fill="#9a9a9a" stroke="none" stroke-width="0.8"/>
<path d="M272.1 182.6h-1.2v4.4h1.2" fill="none" stroke="#8a8a8a" stroke-width="0.6"/>
<line x1="270.7" y1="183" x2="270.7" y2="186.6" stroke="#aaa" stroke-width="0.5"/>
<rect x="275.2" y="198.9" width="2" height="1.1" fill="#858585" stroke="none" stroke-width="0.8"/>
<rect x="282.35" y="198.9" width="2" height="1.1" fill="#858585" stroke="none" stroke-width="0.8"/>
<rect x="289.5" y="198.9" width="2" height="1.1" fill="#858585" stroke="none" stroke-width="0.8"/>
<rect x="296.65" y="198.9" width="2" height="1.1" fill="#858585" stroke="none" stroke-width="0.8"/>
<rect x="303.8" y="198.9" width="2" height="1.1" fill="#858585" stroke="none" stroke-width="0.8"/>
<path d="M290.3 197.4L290.3 196.71L291 196.35L291.7 196.12L292.4 195.63L293.1 195.37L293.8 195.05L294.5 194.51L295.2 194.21L295.9 193.36L296.6 191.61L297.3 190.75L298 186.83L298.7 185.14L299.4 180.03L300.1 178.69L300.8 181.38L301.5 181.67L302.2 186.28L302.9 191.45L303.6 193.9L304.3 195.65L304.3 197.4 Z" fill="#6b6b6b" stroke="#1a1a1a" stroke-width="0.55" stroke-linejoin="round"/>
<line x1="284.88" y1="191.4" x2="304.9" y2="191.4" stroke="#6a6a6a" stroke-width="0.6"/>
<line x1="284.88" y1="189.9" x2="284.88" y2="192.9" stroke="#6a6a6a" stroke-width="0.5"/>
<rect x="296.89" y="192.7" width="2.2" height="0.8" fill="#aaa" stroke="none" stroke-width="0.8"/>
<line x1="276.3" y1="173" x2="304.9" y2="173" stroke="#8f8f8f" stroke-width="0.8"/>
<line x1="304.9" y1="173" x2="304.9" y2="197.4" stroke="#8f8f8f" stroke-width="0.8"/>
<line x1="276.3" y1="172.6" x2="276.3" y2="197.8" stroke="#111" stroke-width="0.9"/>
<line x1="275.9" y1="197.4" x2="305.3" y2="197.4" stroke="#111" stroke-width="0.9"/>
<line x1="314.4" y1="173" x2="315.8" y2="173" stroke="#444" stroke-width="0.6"/>
<rect x="312.8" y="172.6" width="0.9" height="0.8" fill="#9a9a9a" stroke="none" stroke-width="0.8"/>
<line x1="314.4" y1="181.13" x2="315.8" y2="181.13" stroke="#444" stroke-width="0.6"/>
<rect x="312.8" y="180.73" width="0.9" height="0.8" fill="#9a9a9a" stroke="none" stroke-width="0.8"/>
<line x1="314.4" y1="189.27" x2="315.8" y2="189.27" stroke="#444" stroke-width="0.6"/>
<rect x="312.8" y="188.87" width="0.9" height="0.8" fill="#9a9a9a" stroke="none" stroke-width="0.8"/>
<line x1="314.4" y1="197.4" x2="315.8" y2="197.4" stroke="#444" stroke-width="0.6"/>
<rect x="312.8" y="197" width="0.9" height="0.8" fill="#9a9a9a" stroke="none" stroke-width="0.8"/>
<path d="M311.6 182.6h-1.2v4.4h1.2" fill="none" stroke="#8a8a8a" stroke-width="0.6"/>
<line x1="310.2" y1="183" x2="310.2" y2="186.6" stroke="#aaa" stroke-width="0.5"/>
<rect x="314.7" y="198.9" width="2" height="1.1" fill="#858585" stroke="none" stroke-width="0.8"/>
<rect x="321.85" y="198.9" width="2" height="1.1" fill="#858585" stroke="none" stroke-width="0.8"/>
<rect x="329" y="198.9" width="2" height="1.1" fill="#858585" stroke="none" stroke-width="0.8"/>
<rect x="336.15" y="198.9" width="2" height="1.1" fill="#858585" stroke="none" stroke-width="0.8"/>
<rect x="343.3" y="198.9" width="2" height="1.1" fill="#858585" stroke="none" stroke-width="0.8"/>
<path d="M325.8 197.4L325.8 197.05L326.5 196.89L327.2 196.63L327.9 196.28L328.6 196.05L329.3 195.58L330 195.1L330.7 194.39L331.4 194.12L332.1 193.08L332.8 191.28L333.5 188.25L334.2 184.91L334.9 182.81L335.6 176.98L336.3 175.26L337 173.73L337.7 173.73L338.4 178.07L339.1 179.42L339.8 185.22L340.5 189.76L341.2 192.59L341.9 194.96L342.6 196.07L342.6 197.4 Z" fill="#6b6b6b" stroke="#1a1a1a" stroke-width="0.55" stroke-linejoin="round"/>
<line x1="326.67" y1="191.4" x2="344.4" y2="191.4" stroke="#6a6a6a" stroke-width="0.6"/>
<line x1="326.67" y1="189.9" x2="326.67" y2="192.9" stroke="#6a6a6a" stroke-width="0.5"/>
<rect x="336.39" y="192.7" width="2.2" height="0.8" fill="#aaa" stroke="none" stroke-width="0.8"/>
<line x1="315.8" y1="173" x2="344.4" y2="173" stroke="#8f8f8f" stroke-width="0.8"/>
<line x1="344.4" y1="173" x2="344.4" y2="197.4" stroke="#8f8f8f" stroke-width="0.8"/>
<line x1="315.8" y1="172.6" x2="315.8" y2="197.8" stroke="#111" stroke-width="0.9"/>
<line x1="315.4" y1="197.4" x2="344.8" y2="197.4" stroke="#111" stroke-width="0.9"/>
<line x1="118.8" y1="207.7" x2="120.2" y2="207.7" stroke="#444" stroke-width="0.6"/>
<rect x="117.2" y="207.3" width="0.9" height="0.8" fill="#9a9a9a" stroke="none" stroke-width="0.8"/>
<line x1="118.8" y1="215.83" x2="120.2" y2="215.83" stroke="#444" stroke-width="0.6"/>
<rect x="117.2" y="215.43" width="0.9" height="0.8" fill="#9a9a9a" stroke="none" stroke-width="0.8"/>
<line x1="118.8" y1="223.97" x2="120.2" y2="223.97" stroke="#444" stroke-width="0.6"/>
<rect x="117.2" y="223.57" width="0.9" height="0.8" fill="#9a9a9a" stroke="none" stroke-width="0.8"/>
<line x1="118.8" y1="232.1" x2="120.2" y2="232.1" stroke="#444" stroke-width="0.6"/>
<rect x="117.2" y="231.7" width="0.9" height="0.8" fill="#9a9a9a" stroke="none" stroke-width="0.8"/>
<path d="M116 217.3h-1.2v4.4h1.2" fill="none" stroke="#8a8a8a" stroke-width="0.6"/>
<line x1="114.6" y1="217.7" x2="114.6" y2="221.3" stroke="#aaa" stroke-width="0.5"/>
<rect x="119.1" y="233.6" width="2" height="1.1" fill="#858585" stroke="none" stroke-width="0.8"/>
<rect x="126.25" y="233.6" width="2" height="1.1" fill="#858585" stroke="none" stroke-width="0.8"/>
<rect x="133.4" y="233.6" width="2" height="1.1" fill="#858585" stroke="none" stroke-width="0.8"/>
<rect x="140.55" y="233.6" width="2" height="1.1" fill="#858585" stroke="none" stroke-width="0.8"/>
<rect x="147.7" y="233.6" width="2" height="1.1" fill="#858585" stroke="none" stroke-width="0.8"/>
<path d="M120.8 232.1L120.8 230.55L121.5 229.47L122.2 229.46L122.9 226.77L123.6 227.85L124.3 225.84L125 223.34L125.7 225.3L126.4 221.74L127.1 222.53L127.8 223.13L128.5 222.13L129.2 221.87L129.9 222.96L130.6 217.89L131.3 221.83L132 215.71L132.7 214.48L133.4 222.91L134.1 223.75L134.8 225.77L135.5 226.93L136.2 229.94L136.9 230.22L137.6 231.19L138.3 231.45L139 231.74L139 232.1 Z" fill="#6b6b6b" stroke="#1a1a1a" stroke-width="0.55" stroke-linejoin="round"/>
<line x1="139.08" y1="226.1" x2="148.8" y2="226.1" stroke="#6a6a6a" stroke-width="0.6"/>
<line x1="139.08" y1="224.6" x2="139.08" y2="227.6" stroke="#6a6a6a" stroke-width="0.5"/>
<rect x="140.79" y="227.4" width="2.2" height="0.8" fill="#aaa" stroke="none" stroke-width="0.8"/>
<line x1="120.2" y1="207.7" x2="148.8" y2="207.7" stroke="#8f8f8f" stroke-width="0.8"/>
<line x1="148.8" y1="207.7" x2="148.8" y2="232.1" stroke="#8f8f8f" stroke-width="0.8"/>
<line x1="120.2" y1="207.3" x2="120.2" y2="232.5" stroke="#111" stroke-width="0.9"/>
<line x1="119.8" y1="232.1" x2="149.2" y2="232.1" stroke="#111" stroke-width="0.9"/>
<line x1="158.1" y1="207.7" x2="159.5" y2="207.7" stroke="#444" stroke-width="0.6"/>
<rect x="156.5" y="207.3" width="0.9" height="0.8" fill="#9a9a9a" stroke="none" stroke-width="0.8"/>
<line x1="158.1" y1="215.83" x2="159.5" y2="215.83" stroke="#444" stroke-width="0.6"/>
<rect x="156.5" y="215.43" width="0.9" height="0.8" fill="#9a9a9a" stroke="none" stroke-width="0.8"/>
<line x1="158.1" y1="223.97" x2="159.5" y2="223.97" stroke="#444" stroke-width="0.6"/>
<rect x="156.5" y="223.57" width="0.9" height="0.8" fill="#9a9a9a" stroke="none" stroke-width="0.8"/>
<line x1="158.1" y1="232.1" x2="159.5" y2="232.1" stroke="#444" stroke-width="0.6"/>
<rect x="156.5" y="231.7" width="0.9" height="0.8" fill="#9a9a9a" stroke="none" stroke-width="0.8"/>
<path d="M155.3 217.3h-1.2v4.4h1.2" fill="none" stroke="#8a8a8a" stroke-width="0.6"/>
<line x1="153.9" y1="217.7" x2="153.9" y2="221.3" stroke="#aaa" stroke-width="0.5"/>
<rect x="158.4" y="233.6" width="2" height="1.1" fill="#858585" stroke="none" stroke-width="0.8"/>
<rect x="165.55" y="233.6" width="2" height="1.1" fill="#858585" stroke="none" stroke-width="0.8"/>
<rect x="172.7" y="233.6" width="2" height="1.1" fill="#858585" stroke="none" stroke-width="0.8"/>
<rect x="179.85" y="233.6" width="2" height="1.1" fill="#858585" stroke="none" stroke-width="0.8"/>
<rect x="187" y="233.6" width="2" height="1.1" fill="#858585" stroke="none" stroke-width="0.8"/>
<path d="M160.1 232.1L160.1 229.83L160.8 229.7L161.5 228L162.2 227.54L162.9 226.08L163.6 226.63L164.3 225.01L165 226.05L165.7 222.74L166.4 223.13L167.1 222.67L167.8 220.93L168.5 218.96L169.2 221.56L169.9 220.63L170.6 223.45L171.3 224.85L172 226.35L172.7 227.94L173.4 229.32L174.1 230.06L174.8 231.08L175.5 231.47L175.5 232.1 Z" fill="#6b6b6b" stroke="#1a1a1a" stroke-width="0.55" stroke-linejoin="round"/>
<line x1="176.66" y1="226.1" x2="188.1" y2="226.1" stroke="#6a6a6a" stroke-width="0.6"/>
<line x1="176.66" y1="224.6" x2="176.66" y2="227.6" stroke="#6a6a6a" stroke-width="0.5"/>
<rect x="180.09" y="227.4" width="2.2" height="0.8" fill="#aaa" stroke="none" stroke-width="0.8"/>
<line x1="159.5" y1="207.7" x2="188.1" y2="207.7" stroke="#8f8f8f" stroke-width="0.8"/>
<line x1="188.1" y1="207.7" x2="188.1" y2="232.1" stroke="#8f8f8f" stroke-width="0.8"/>
<line x1="159.5" y1="207.3" x2="159.5" y2="232.5" stroke="#111" stroke-width="0.9"/>
<line x1="159.1" y1="232.1" x2="188.5" y2="232.1" stroke="#111" stroke-width="0.9"/>
<line x1="196.9" y1="207.7" x2="198.3" y2="207.7" stroke="#444" stroke-width="0.6"/>
<rect x="195.3" y="207.3" width="0.9" height="0.8" fill="#9a9a9a" stroke="none" stroke-width="0.8"/>
<line x1="196.9" y1="215.83" x2="198.3" y2="215.83" stroke="#444" stroke-width="0.6"/>
<rect x="195.3" y="215.43" width="0.9" height="0.8" fill="#9a9a9a" stroke="none" stroke-width="0.8"/>
<line x1="196.9" y1="223.97" x2="198.3" y2="223.97" stroke="#444" stroke-width="0.6"/>
<rect x="195.3" y="223.57" width="0.9" height="0.8" fill="#9a9a9a" stroke="none" stroke-width="0.8"/>
<line x1="196.9" y1="232.1" x2="198.3" y2="232.1" stroke="#444" stroke-width="0.6"/>
<rect x="195.3" y="231.7" width="0.9" height="0.8" fill="#9a9a9a" stroke="none" stroke-width="0.8"/>
<path d="M194.1 217.3h-1.2v4.4h1.2" fill="none" stroke="#8a8a8a" stroke-width="0.6"/>
<line x1="192.7" y1="217.7" x2="192.7" y2="221.3" stroke="#aaa" stroke-width="0.5"/>
<rect x="197.2" y="233.6" width="2" height="1.1" fill="#858585" stroke="none" stroke-width="0.8"/>
<rect x="204.35" y="233.6" width="2" height="1.1" fill="#858585" stroke="none" stroke-width="0.8"/>
<rect x="211.5" y="233.6" width="2" height="1.1" fill="#858585" stroke="none" stroke-width="0.8"/>
<rect x="218.65" y="233.6" width="2" height="1.1" fill="#858585" stroke="none" stroke-width="0.8"/>
<rect x="225.8" y="233.6" width="2" height="1.1" fill="#858585" stroke="none" stroke-width="0.8"/>
<path d="M198.9 232.1L198.9 226.75L199.6 224.64L200.3 225.35L201 223.82L201.7 221.16L202.4 220.64L203.1 217.84L203.8 216.97L204.5 216.51L205.2 222L205.9 223.06L206.6 222.39L207.3 225.71L208 228.6L208.7 229.49L209.4 230.93L210.1 231.43L210.8 231.76L211.5 231.96L212.2 232.05L212.2 232.1 Z" fill="#6b6b6b" stroke="#1a1a1a" stroke-width="0.55" stroke-linejoin="round"/>
<line x1="212.6" y1="226.1" x2="226.9" y2="226.1" stroke="#6a6a6a" stroke-width="0.6"/>
<line x1="212.6" y1="224.6" x2="212.6" y2="227.6" stroke="#6a6a6a" stroke-width="0.5"/>
<rect x="218.89" y="227.4" width="2.2" height="0.8" fill="#aaa" stroke="none" stroke-width="0.8"/>
<line x1="198.3" y1="207.7" x2="226.9" y2="207.7" stroke="#8f8f8f" stroke-width="0.8"/>
<line x1="226.9" y1="207.7" x2="226.9" y2="232.1" stroke="#8f8f8f" stroke-width="0.8"/>
<line x1="198.3" y1="207.3" x2="198.3" y2="232.5" stroke="#111" stroke-width="0.9"/>
<line x1="197.9" y1="232.1" x2="227.3" y2="232.1" stroke="#111" stroke-width="0.9"/>
<line x1="235.7" y1="207.7" x2="237.1" y2="207.7" stroke="#444" stroke-width="0.6"/>
<rect x="234.1" y="207.3" width="0.9" height="0.8" fill="#9a9a9a" stroke="none" stroke-width="0.8"/>
<line x1="235.7" y1="215.83" x2="237.1" y2="215.83" stroke="#444" stroke-width="0.6"/>
<rect x="234.1" y="215.43" width="0.9" height="0.8" fill="#9a9a9a" stroke="none" stroke-width="0.8"/>
<line x1="235.7" y1="223.97" x2="237.1" y2="223.97" stroke="#444" stroke-width="0.6"/>
<rect x="234.1" y="223.57" width="0.9" height="0.8" fill="#9a9a9a" stroke="none" stroke-width="0.8"/>
<line x1="235.7" y1="232.1" x2="237.1" y2="232.1" stroke="#444" stroke-width="0.6"/>
<rect x="234.1" y="231.7" width="0.9" height="0.8" fill="#9a9a9a" stroke="none" stroke-width="0.8"/>
<path d="M232.9 217.3h-1.2v4.4h1.2" fill="none" stroke="#8a8a8a" stroke-width="0.6"/>
<line x1="231.5" y1="217.7" x2="231.5" y2="221.3" stroke="#aaa" stroke-width="0.5"/>
<rect x="236" y="233.6" width="2" height="1.1" fill="#858585" stroke="none" stroke-width="0.8"/>
<rect x="243.15" y="233.6" width="2" height="1.1" fill="#858585" stroke="none" stroke-width="0.8"/>
<rect x="250.3" y="233.6" width="2" height="1.1" fill="#858585" stroke="none" stroke-width="0.8"/>
<rect x="257.45" y="233.6" width="2" height="1.1" fill="#858585" stroke="none" stroke-width="0.8"/>
<rect x="264.6" y="233.6" width="2" height="1.1" fill="#858585" stroke="none" stroke-width="0.8"/>
<path d="M237.7 232.1L237.7 228.49L238.4 228.46L239.1 227.23L239.8 226.81L240.5 225.48L241.2 225.82L241.9 224.62L242.6 222.75L243.3 221.51L244 217.63L244.7 215.94L245.4 215.48L246.1 218.35L246.8 214.63L247.5 218.16L248.2 220.11L248.9 222.71L249.6 225.13L250.3 226.59L251 229.1L251.7 230.32L252.4 230.76L253.1 231.51L253.1 232.1 Z" fill="#6b6b6b" stroke="#1a1a1a" stroke-width="0.55" stroke-linejoin="round"/>
<line x1="252.83" y1="226.1" x2="265.7" y2="226.1" stroke="#6a6a6a" stroke-width="0.6"/>
<line x1="252.83" y1="224.6" x2="252.83" y2="227.6" stroke="#6a6a6a" stroke-width="0.5"/>
<rect x="257.69" y="227.4" width="2.2" height="0.8" fill="#aaa" stroke="none" stroke-width="0.8"/>
<line x1="237.1" y1="207.7" x2="265.7" y2="207.7" stroke="#8f8f8f" stroke-width="0.8"/>
<line x1="265.7" y1="207.7" x2="265.7" y2="232.1" stroke="#8f8f8f" stroke-width="0.8"/>
<line x1="237.1" y1="207.3" x2="237.1" y2="232.5" stroke="#111" stroke-width="0.9"/>
<line x1="236.7" y1="232.1" x2="266.1" y2="232.1" stroke="#111" stroke-width="0.9"/>
<line x1="274.9" y1="207.7" x2="276.3" y2="207.7" stroke="#444" stroke-width="0.6"/>
<rect x="273.3" y="207.3" width="0.9" height="0.8" fill="#9a9a9a" stroke="none" stroke-width="0.8"/>
<line x1="274.9" y1="215.83" x2="276.3" y2="215.83" stroke="#444" stroke-width="0.6"/>
<rect x="273.3" y="215.43" width="0.9" height="0.8" fill="#9a9a9a" stroke="none" stroke-width="0.8"/>
<line x1="274.9" y1="223.97" x2="276.3" y2="223.97" stroke="#444" stroke-width="0.6"/>
<rect x="273.3" y="223.57" width="0.9" height="0.8" fill="#9a9a9a" stroke="none" stroke-width="0.8"/>
<line x1="274.9" y1="232.1" x2="276.3" y2="232.1" stroke="#444" stroke-width="0.6"/>
<rect x="273.3" y="231.7" width="0.9" height="0.8" fill="#9a9a9a" stroke="none" stroke-width="0.8"/>
<path d="M272.1 217.3h-1.2v4.4h1.2" fill="none" stroke="#8a8a8a" stroke-width="0.6"/>
<line x1="270.7" y1="217.7" x2="270.7" y2="221.3" stroke="#aaa" stroke-width="0.5"/>
<rect x="275.2" y="233.6" width="2" height="1.1" fill="#858585" stroke="none" stroke-width="0.8"/>
<rect x="282.35" y="233.6" width="2" height="1.1" fill="#858585" stroke="none" stroke-width="0.8"/>
<rect x="289.5" y="233.6" width="2" height="1.1" fill="#858585" stroke="none" stroke-width="0.8"/>
<rect x="296.65" y="233.6" width="2" height="1.1" fill="#858585" stroke="none" stroke-width="0.8"/>
<rect x="303.8" y="233.6" width="2" height="1.1" fill="#858585" stroke="none" stroke-width="0.8"/>
<path d="M286.3 232.1L286.3 229.81L287 226.32L287.7 228L288.4 224.97L289.1 224.16L289.8 224.53L290.5 226.51L291.2 226.08L291.9 223.82L292.6 221.81L293.3 222.86L294 223.27L294.7 224.26L295.4 224.57L296.1 223.6L296.8 225.71L297.5 225.35L298.2 223.88L298.9 221.23L299.6 222.82L300.3 217.69L301 208.46L301.7 210.1L302.4 210.4L303.1 223.96L303.8 226.85L303.8 232.1 Z" fill="#6b6b6b" stroke="#1a1a1a" stroke-width="0.55" stroke-linejoin="round"/>
<line x1="284.88" y1="226.1" x2="304.9" y2="226.1" stroke="#6a6a6a" stroke-width="0.6"/>
<line x1="284.88" y1="224.6" x2="284.88" y2="227.6" stroke="#6a6a6a" stroke-width="0.5"/>
<rect x="296.89" y="227.4" width="2.2" height="0.8" fill="#aaa" stroke="none" stroke-width="0.8"/>
<line x1="276.3" y1="207.7" x2="304.9" y2="207.7" stroke="#8f8f8f" stroke-width="0.8"/>
<line x1="304.9" y1="207.7" x2="304.9" y2="232.1" stroke="#8f8f8f" stroke-width="0.8"/>
<line x1="276.3" y1="207.3" x2="276.3" y2="232.5" stroke="#111" stroke-width="0.9"/>
<line x1="275.9" y1="232.1" x2="305.3" y2="232.1" stroke="#111" stroke-width="0.9"/>
<line x1="314.4" y1="207.7" x2="315.8" y2="207.7" stroke="#444" stroke-width="0.6"/>
<rect x="312.8" y="207.3" width="0.9" height="0.8" fill="#9a9a9a" stroke="none" stroke-width="0.8"/>
<line x1="314.4" y1="215.83" x2="315.8" y2="215.83" stroke="#444" stroke-width="0.6"/>
<rect x="312.8" y="215.43" width="0.9" height="0.8" fill="#9a9a9a" stroke="none" stroke-width="0.8"/>
<line x1="314.4" y1="223.97" x2="315.8" y2="223.97" stroke="#444" stroke-width="0.6"/>
<rect x="312.8" y="223.57" width="0.9" height="0.8" fill="#9a9a9a" stroke="none" stroke-width="0.8"/>
<line x1="314.4" y1="232.1" x2="315.8" y2="232.1" stroke="#444" stroke-width="0.6"/>
<rect x="312.8" y="231.7" width="0.9" height="0.8" fill="#9a9a9a" stroke="none" stroke-width="0.8"/>
<path d="M311.6 217.3h-1.2v4.4h1.2" fill="none" stroke="#8a8a8a" stroke-width="0.6"/>
<line x1="310.2" y1="217.7" x2="310.2" y2="221.3" stroke="#aaa" stroke-width="0.5"/>
<rect x="314.7" y="233.6" width="2" height="1.1" fill="#858585" stroke="none" stroke-width="0.8"/>
<rect x="321.85" y="233.6" width="2" height="1.1" fill="#858585" stroke="none" stroke-width="0.8"/>
<rect x="329" y="233.6" width="2" height="1.1" fill="#858585" stroke="none" stroke-width="0.8"/>
<rect x="336.15" y="233.6" width="2" height="1.1" fill="#858585" stroke="none" stroke-width="0.8"/>
<rect x="343.3" y="233.6" width="2" height="1.1" fill="#858585" stroke="none" stroke-width="0.8"/>
<path d="M325.8 232.1L325.8 229.18L326.5 228.18L327.2 226.9L327.9 225.7L328.6 224.25L329.3 223.21L330 225.6L330.7 225.92L331.4 224.23L332.1 225.47L332.8 221.18L333.5 218.85L334.2 224.46L334.9 220.49L335.6 223.16L336.3 213.8L337 213.49L337.7 212.5L338.4 216.85L339.1 215.86L339.8 209.07L340.5 221.64L341.2 222.52L341.9 226.7L342.6 229.51L343.3 230.68L343.3 232.1 Z" fill="#6b6b6b" stroke="#1a1a1a" stroke-width="0.55" stroke-linejoin="round"/>
<line x1="324.38" y1="226.1" x2="344.4" y2="226.1" stroke="#6a6a6a" stroke-width="0.6"/>
<line x1="324.38" y1="224.6" x2="324.38" y2="227.6" stroke="#6a6a6a" stroke-width="0.5"/>
<rect x="336.39" y="227.4" width="2.2" height="0.8" fill="#aaa" stroke="none" stroke-width="0.8"/>
<line x1="315.8" y1="207.7" x2="344.4" y2="207.7" stroke="#8f8f8f" stroke-width="0.8"/>
<line x1="344.4" y1="207.7" x2="344.4" y2="232.1" stroke="#8f8f8f" stroke-width="0.8"/>
<line x1="315.8" y1="207.3" x2="315.8" y2="232.5" stroke="#111" stroke-width="0.9"/>
<line x1="315.4" y1="232.1" x2="344.8" y2="232.1" stroke="#111" stroke-width="0.9"/>
<line x1="118.8" y1="251.4" x2="120.2" y2="251.4" stroke="#444" stroke-width="0.6"/>
<rect x="117.2" y="251" width="0.9" height="0.8" fill="#9a9a9a" stroke="none" stroke-width="0.8"/>
<line x1="118.8" y1="259.53" x2="120.2" y2="259.53" stroke="#444" stroke-width="0.6"/>
<rect x="117.2" y="259.13" width="0.9" height="0.8" fill="#9a9a9a" stroke="none" stroke-width="0.8"/>
<line x1="118.8" y1="267.67" x2="120.2" y2="267.67" stroke="#444" stroke-width="0.6"/>
<rect x="117.2" y="267.27" width="0.9" height="0.8" fill="#9a9a9a" stroke="none" stroke-width="0.8"/>
<line x1="118.8" y1="275.8" x2="120.2" y2="275.8" stroke="#444" stroke-width="0.6"/>
<rect x="117.2" y="275.4" width="0.9" height="0.8" fill="#9a9a9a" stroke="none" stroke-width="0.8"/>
<path d="M116 261h-1.2v4.4h1.2" fill="none" stroke="#8a8a8a" stroke-width="0.6"/>
<line x1="114.6" y1="261.4" x2="114.6" y2="265" stroke="#aaa" stroke-width="0.5"/>
<rect x="119.1" y="277.3" width="2" height="1.1" fill="#858585" stroke="none" stroke-width="0.8"/>
<rect x="126.25" y="277.3" width="2" height="1.1" fill="#858585" stroke="none" stroke-width="0.8"/>
<rect x="133.4" y="277.3" width="2" height="1.1" fill="#858585" stroke="none" stroke-width="0.8"/>
<rect x="140.55" y="277.3" width="2" height="1.1" fill="#858585" stroke="none" stroke-width="0.8"/>
<rect x="147.7" y="277.3" width="2" height="1.1" fill="#858585" stroke="none" stroke-width="0.8"/>
<path d="M125.2 275.8L125.2 275.4L125.9 275.02L126.6 274.39L127.3 273.95L128 273.29L128.7 272.32L129.4 272L130.1 271.65L130.8 270.92L131.5 269.99L132.2 268.83L132.9 265.65L133.6 262.52L134.3 261.4L135 260.63L135.7 262.04L136.4 262.77L137.1 265.71L137.8 266.31L138.5 269.74L139.2 271.73L139.9 272.72L140.6 274.33L141.3 274.86L142 275.38L142 275.8 Z" fill="#6b6b6b" stroke="#1a1a1a" stroke-width="0.55" stroke-linejoin="round"/>
<line x1="133.07" y1="269.8" x2="148.8" y2="269.8" stroke="#6a6a6a" stroke-width="0.6"/>
<line x1="133.07" y1="268.3" x2="133.07" y2="271.3" stroke="#6a6a6a" stroke-width="0.5"/>
<rect x="140.79" y="271.1" width="2.2" height="0.8" fill="#aaa" stroke="none" stroke-width="0.8"/>
<line x1="120.2" y1="251.4" x2="148.8" y2="251.4" stroke="#8f8f8f" stroke-width="0.8"/>
<line x1="148.8" y1="251.4" x2="148.8" y2="275.8" stroke="#8f8f8f" stroke-width="0.8"/>
<line x1="120.2" y1="251" x2="120.2" y2="276.2" stroke="#111" stroke-width="0.9"/>
<line x1="119.8" y1="275.8" x2="149.2" y2="275.8" stroke="#111" stroke-width="0.9"/>
<line x1="158.1" y1="251.4" x2="159.5" y2="251.4" stroke="#444" stroke-width="0.6"/>
<rect x="156.5" y="251" width="0.9" height="0.8" fill="#9a9a9a" stroke="none" stroke-width="0.8"/>
<line x1="158.1" y1="259.53" x2="159.5" y2="259.53" stroke="#444" stroke-width="0.6"/>
<rect x="156.5" y="259.13" width="0.9" height="0.8" fill="#9a9a9a" stroke="none" stroke-width="0.8"/>
<line x1="158.1" y1="267.67" x2="159.5" y2="267.67" stroke="#444" stroke-width="0.6"/>
<rect x="156.5" y="267.27" width="0.9" height="0.8" fill="#9a9a9a" stroke="none" stroke-width="0.8"/>
<line x1="158.1" y1="275.8" x2="159.5" y2="275.8" stroke="#444" stroke-width="0.6"/>
<rect x="156.5" y="275.4" width="0.9" height="0.8" fill="#9a9a9a" stroke="none" stroke-width="0.8"/>
<path d="M155.3 261h-1.2v4.4h1.2" fill="none" stroke="#8a8a8a" stroke-width="0.6"/>
<line x1="153.9" y1="261.4" x2="153.9" y2="265" stroke="#aaa" stroke-width="0.5"/>
<rect x="158.4" y="277.3" width="2" height="1.1" fill="#858585" stroke="none" stroke-width="0.8"/>
<rect x="165.55" y="277.3" width="2" height="1.1" fill="#858585" stroke="none" stroke-width="0.8"/>
<rect x="172.7" y="277.3" width="2" height="1.1" fill="#858585" stroke="none" stroke-width="0.8"/>
<rect x="179.85" y="277.3" width="2" height="1.1" fill="#858585" stroke="none" stroke-width="0.8"/>
<rect x="187" y="277.3" width="2" height="1.1" fill="#858585" stroke="none" stroke-width="0.8"/>
<path d="M160.1 275.8L160.1 273.78L160.8 273.29L161.5 271.68L162.2 271.32L162.9 269.73L163.6 267L164.3 265.39L165 261.52L165.7 259.44L166.4 253.17L167.1 252.37L167.8 257.36L168.5 259.42L169.2 260.66L169.9 263.61L170.6 266.12L171.3 269.66L172 271.5L172.7 273.4L173.4 274.38L174.1 275.05L174.8 275.37L175.5 275.59L175.5 275.8 Z" fill="#6b6b6b" stroke="#1a1a1a" stroke-width="0.55" stroke-linejoin="round"/>
<line x1="176.66" y1="269.8" x2="188.1" y2="269.8" stroke="#6a6a6a" stroke-width="0.6"/>
<line x1="176.66" y1="268.3" x2="176.66" y2="271.3" stroke="#6a6a6a" stroke-width="0.5"/>
<rect x="180.09" y="271.1" width="2.2" height="0.8" fill="#aaa" stroke="none" stroke-width="0.8"/>
<line x1="159.5" y1="251.4" x2="188.1" y2="251.4" stroke="#8f8f8f" stroke-width="0.8"/>
<line x1="188.1" y1="251.4" x2="188.1" y2="275.8" stroke="#8f8f8f" stroke-width="0.8"/>
<line x1="159.5" y1="251" x2="159.5" y2="276.2" stroke="#111" stroke-width="0.9"/>
<line x1="159.1" y1="275.8" x2="188.5" y2="275.8" stroke="#111" stroke-width="0.9"/>
<line x1="196.9" y1="251.4" x2="198.3" y2="251.4" stroke="#444" stroke-width="0.6"/>
<rect x="195.3" y="251" width="0.9" height="0.8" fill="#9a9a9a" stroke="none" stroke-width="0.8"/>
<line x1="196.9" y1="259.53" x2="198.3" y2="259.53" stroke="#444" stroke-width="0.6"/>
<rect x="195.3" y="259.13" width="0.9" height="0.8" fill="#9a9a9a" stroke="none" stroke-width="0.8"/>
<line x1="196.9" y1="267.67" x2="198.3" y2="267.67" stroke="#444" stroke-width="0.6"/>
<rect x="195.3" y="267.27" width="0.9" height="0.8" fill="#9a9a9a" stroke="none" stroke-width="0.8"/>
<line x1="196.9" y1="275.8" x2="198.3" y2="275.8" stroke="#444" stroke-width="0.6"/>
<rect x="195.3" y="275.4" width="0.9" height="0.8" fill="#9a9a9a" stroke="none" stroke-width="0.8"/>
<path d="M194.1 261h-1.2v4.4h1.2" fill="none" stroke="#8a8a8a" stroke-width="0.6"/>
<line x1="192.7" y1="261.4" x2="192.7" y2="265" stroke="#aaa" stroke-width="0.5"/>
<rect x="197.2" y="277.3" width="2" height="1.1" fill="#858585" stroke="none" stroke-width="0.8"/>
<rect x="204.35" y="277.3" width="2" height="1.1" fill="#858585" stroke="none" stroke-width="0.8"/>
<rect x="211.5" y="277.3" width="2" height="1.1" fill="#858585" stroke="none" stroke-width="0.8"/>
<rect x="218.65" y="277.3" width="2" height="1.1" fill="#858585" stroke="none" stroke-width="0.8"/>
<rect x="225.8" y="277.3" width="2" height="1.1" fill="#858585" stroke="none" stroke-width="0.8"/>
<path d="M198.9 275.8L198.9 274.66L199.6 273.93L200.3 272.54L201 271.84L201.7 271.48L202.4 270.13L203.1 270.47L203.8 269.06L204.5 266.78L205.2 261.08L205.9 255.59L206.6 254.18L207.3 256.84L208 256.95L208.7 261.38L209.4 267.25L210.1 270.77L210.8 272.88L211.5 274.34L212.2 275.2L212.9 275.58L213.6 275.73L214.3 275.78L214.3 275.8 Z" fill="#6b6b6b" stroke="#1a1a1a" stroke-width="0.55" stroke-linejoin="round"/>
<line x1="215.46" y1="269.8" x2="226.9" y2="269.8" stroke="#6a6a6a" stroke-width="0.6"/>
<line x1="215.46" y1="268.3" x2="215.46" y2="271.3" stroke="#6a6a6a" stroke-width="0.5"/>
<rect x="218.89" y="271.1" width="2.2" height="0.8" fill="#aaa" stroke="none" stroke-width="0.8"/>
<line x1="198.3" y1="251.4" x2="226.9" y2="251.4" stroke="#8f8f8f" stroke-width="0.8"/>
<line x1="226.9" y1="251.4" x2="226.9" y2="275.8" stroke="#8f8f8f" stroke-width="0.8"/>
<line x1="198.3" y1="251" x2="198.3" y2="276.2" stroke="#111" stroke-width="0.9"/>
<line x1="197.9" y1="275.8" x2="227.3" y2="275.8" stroke="#111" stroke-width="0.9"/>
<line x1="235.7" y1="251.4" x2="237.1" y2="251.4" stroke="#444" stroke-width="0.6"/>
<rect x="234.1" y="251" width="0.9" height="0.8" fill="#9a9a9a" stroke="none" stroke-width="0.8"/>
<line x1="235.7" y1="259.53" x2="237.1" y2="259.53" stroke="#444" stroke-width="0.6"/>
<rect x="234.1" y="259.13" width="0.9" height="0.8" fill="#9a9a9a" stroke="none" stroke-width="0.8"/>
<line x1="235.7" y1="267.67" x2="237.1" y2="267.67" stroke="#444" stroke-width="0.6"/>
<rect x="234.1" y="267.27" width="0.9" height="0.8" fill="#9a9a9a" stroke="none" stroke-width="0.8"/>
<line x1="235.7" y1="275.8" x2="237.1" y2="275.8" stroke="#444" stroke-width="0.6"/>
<rect x="234.1" y="275.4" width="0.9" height="0.8" fill="#9a9a9a" stroke="none" stroke-width="0.8"/>
<path d="M232.9 261h-1.2v4.4h1.2" fill="none" stroke="#8a8a8a" stroke-width="0.6"/>
<line x1="231.5" y1="261.4" x2="231.5" y2="265" stroke="#aaa" stroke-width="0.5"/>
<rect x="236" y="277.3" width="2" height="1.1" fill="#858585" stroke="none" stroke-width="0.8"/>
<rect x="243.15" y="277.3" width="2" height="1.1" fill="#858585" stroke="none" stroke-width="0.8"/>
<rect x="250.3" y="277.3" width="2" height="1.1" fill="#858585" stroke="none" stroke-width="0.8"/>
<rect x="257.45" y="277.3" width="2" height="1.1" fill="#858585" stroke="none" stroke-width="0.8"/>
<rect x="264.6" y="277.3" width="2" height="1.1" fill="#858585" stroke="none" stroke-width="0.8"/>
<path d="M242.1 275.8L242.1 275.53L242.8 274.76L243.5 272.87L244.2 267.78L244.9 267.17L245.6 261.35L246.3 263.14L247 262.52L247.7 261.44L248.4 263.97L249.1 261.22L249.8 263.84L250.5 268.17L251.2 268.57L251.9 271.83L252.6 273.23L253.3 274.76L254 275.17L254.7 275.6L254.7 275.8 Z" fill="#6b6b6b" stroke="#1a1a1a" stroke-width="0.55" stroke-linejoin="round"/>
<line x1="254.83" y1="269.8" x2="265.7" y2="269.8" stroke="#6a6a6a" stroke-width="0.6"/>
<line x1="254.83" y1="268.3" x2="254.83" y2="271.3" stroke="#6a6a6a" stroke-width="0.5"/>
<rect x="257.69" y="271.1" width="2.2" height="0.8" fill="#aaa" stroke="none" stroke-width="0.8"/>
<line x1="237.1" y1="251.4" x2="265.7" y2="251.4" stroke="#8f8f8f" stroke-width="0.8"/>
<line x1="265.7" y1="251.4" x2="265.7" y2="275.8" stroke="#8f8f8f" stroke-width="0.8"/>
<line x1="237.1" y1="251" x2="237.1" y2="276.2" stroke="#111" stroke-width="0.9"/>
<line x1="236.7" y1="275.8" x2="266.1" y2="275.8" stroke="#111" stroke-width="0.9"/>
<line x1="274.9" y1="251.4" x2="276.3" y2="251.4" stroke="#444" stroke-width="0.6"/>
<rect x="273.3" y="251" width="0.9" height="0.8" fill="#9a9a9a" stroke="none" stroke-width="0.8"/>
<line x1="274.9" y1="259.53" x2="276.3" y2="259.53" stroke="#444" stroke-width="0.6"/>
<rect x="273.3" y="259.13" width="0.9" height="0.8" fill="#9a9a9a" stroke="none" stroke-width="0.8"/>
<line x1="274.9" y1="267.67" x2="276.3" y2="267.67" stroke="#444" stroke-width="0.6"/>
<rect x="273.3" y="267.27" width="0.9" height="0.8" fill="#9a9a9a" stroke="none" stroke-width="0.8"/>
<line x1="274.9" y1="275.8" x2="276.3" y2="275.8" stroke="#444" stroke-width="0.6"/>
<rect x="273.3" y="275.4" width="0.9" height="0.8" fill="#9a9a9a" stroke="none" stroke-width="0.8"/>
<path d="M272.1 261h-1.2v4.4h1.2" fill="none" stroke="#8a8a8a" stroke-width="0.6"/>
<line x1="270.7" y1="261.4" x2="270.7" y2="265" stroke="#aaa" stroke-width="0.5"/>
<rect x="275.2" y="277.3" width="2" height="1.1" fill="#858585" stroke="none" stroke-width="0.8"/>
<rect x="282.35" y="277.3" width="2" height="1.1" fill="#858585" stroke="none" stroke-width="0.8"/>
<rect x="289.5" y="277.3" width="2" height="1.1" fill="#858585" stroke="none" stroke-width="0.8"/>
<rect x="296.65" y="277.3" width="2" height="1.1" fill="#858585" stroke="none" stroke-width="0.8"/>
<rect x="303.8" y="277.3" width="2" height="1.1" fill="#858585" stroke="none" stroke-width="0.8"/>
<path d="M284.3 275.8L284.3 275.06L285 274.45L285.7 272.94L286.4 272.04L287.1 270.41L287.8 268.93L288.5 268.41L289.2 266.53L289.9 264.8L290.6 267.38L291.3 264.63L292 265.25L292.7 262.83L293.4 262.81L294.1 265.95L294.8 266.39L295.5 265.91L296.2 266.49L296.9 268.62L297.6 270.38L298.3 272.9L299 273.66L299.7 274.31L300.4 274.98L301.1 275.36L301.1 275.8 Z" fill="#6b6b6b" stroke="#1a1a1a" stroke-width="0.55" stroke-linejoin="round"/>
<line x1="285.45" y1="269.8" x2="304.9" y2="269.8" stroke="#6a6a6a" stroke-width="0.6"/>
<line x1="285.45" y1="268.3" x2="285.45" y2="271.3" stroke="#6a6a6a" stroke-width="0.5"/>
<rect x="296.89" y="271.1" width="2.2" height="0.8" fill="#aaa" stroke="none" stroke-width="0.8"/>
<line x1="276.3" y1="251.4" x2="304.9" y2="251.4" stroke="#8f8f8f" stroke-width="0.8"/>
<line x1="304.9" y1="251.4" x2="304.9" y2="275.8" stroke="#8f8f8f" stroke-width="0.8"/>
<line x1="276.3" y1="251" x2="276.3" y2="276.2" stroke="#111" stroke-width="0.9"/>
<line x1="275.9" y1="275.8" x2="305.3" y2="275.8" stroke="#111" stroke-width="0.9"/>
<line x1="314.4" y1="251.4" x2="315.8" y2="251.4" stroke="#444" stroke-width="0.6"/>
<rect x="312.8" y="251" width="0.9" height="0.8" fill="#9a9a9a" stroke="none" stroke-width="0.8"/>
<line x1="314.4" y1="259.53" x2="315.8" y2="259.53" stroke="#444" stroke-width="0.6"/>
<rect x="312.8" y="259.13" width="0.9" height="0.8" fill="#9a9a9a" stroke="none" stroke-width="0.8"/>
<line x1="314.4" y1="267.67" x2="315.8" y2="267.67" stroke="#444" stroke-width="0.6"/>
<rect x="312.8" y="267.27" width="0.9" height="0.8" fill="#9a9a9a" stroke="none" stroke-width="0.8"/>
<line x1="314.4" y1="275.8" x2="315.8" y2="275.8" stroke="#444" stroke-width="0.6"/>
<rect x="312.8" y="275.4" width="0.9" height="0.8" fill="#9a9a9a" stroke="none" stroke-width="0.8"/>
<path d="M311.6 261h-1.2v4.4h1.2" fill="none" stroke="#8a8a8a" stroke-width="0.6"/>
<line x1="310.2" y1="261.4" x2="310.2" y2="265" stroke="#aaa" stroke-width="0.5"/>
<rect x="314.7" y="277.3" width="2" height="1.1" fill="#858585" stroke="none" stroke-width="0.8"/>
<rect x="321.85" y="277.3" width="2" height="1.1" fill="#858585" stroke="none" stroke-width="0.8"/>
<rect x="329" y="277.3" width="2" height="1.1" fill="#858585" stroke="none" stroke-width="0.8"/>
<rect x="336.15" y="277.3" width="2" height="1.1" fill="#858585" stroke="none" stroke-width="0.8"/>
<rect x="343.3" y="277.3" width="2" height="1.1" fill="#858585" stroke="none" stroke-width="0.8"/>
<path d="M325.8 275.8L325.8 275.77L326.5 275.72L327.2 275.58L327.9 275.24L328.6 274.6L329.3 273.02L330 271.07L330.7 267.66L331.4 263.19L332.1 260.43L332.8 257.23L333.5 257.07L334.2 253.78L334.9 258.28L335.6 258.73L336.3 261.73L337 262.26L337.7 265.31L338.4 267.1L339.1 268.64L339.8 269.59L340.5 270.82L341.2 272.62L341.9 273.37L342.6 274.35L343.3 274.99L343.3 275.8 Z" fill="#6b6b6b" stroke="#1a1a1a" stroke-width="0.55" stroke-linejoin="round"/>
<line x1="327.24" y1="269.8" x2="344.4" y2="269.8" stroke="#6a6a6a" stroke-width="0.6"/>
<line x1="327.24" y1="268.3" x2="327.24" y2="271.3" stroke="#6a6a6a" stroke-width="0.5"/>
<rect x="336.39" y="271.1" width="2.2" height="0.8" fill="#aaa" stroke="none" stroke-width="0.8"/>
<line x1="315.8" y1="251.4" x2="344.4" y2="251.4" stroke="#8f8f8f" stroke-width="0.8"/>
<line x1="344.4" y1="251.4" x2="344.4" y2="275.8" stroke="#8f8f8f" stroke-width="0.8"/>
<line x1="315.8" y1="251" x2="315.8" y2="276.2" stroke="#111" stroke-width="0.9"/>
<line x1="315.4" y1="275.8" x2="344.8" y2="275.8" stroke="#111" stroke-width="0.9"/>
<line x1="118.8" y1="286.8" x2="120.2" y2="286.8" stroke="#444" stroke-width="0.6"/>
<rect x="117.2" y="286.4" width="0.9" height="0.8" fill="#9a9a9a" stroke="none" stroke-width="0.8"/>
<line x1="118.8" y1="294.93" x2="120.2" y2="294.93" stroke="#444" stroke-width="0.6"/>
<rect x="117.2" y="294.53" width="0.9" height="0.8" fill="#9a9a9a" stroke="none" stroke-width="0.8"/>
<line x1="118.8" y1="303.07" x2="120.2" y2="303.07" stroke="#444" stroke-width="0.6"/>
<rect x="117.2" y="302.67" width="0.9" height="0.8" fill="#9a9a9a" stroke="none" stroke-width="0.8"/>
<line x1="118.8" y1="311.2" x2="120.2" y2="311.2" stroke="#444" stroke-width="0.6"/>
<rect x="117.2" y="310.8" width="0.9" height="0.8" fill="#9a9a9a" stroke="none" stroke-width="0.8"/>
<path d="M116 296.4h-1.2v4.4h1.2" fill="none" stroke="#8a8a8a" stroke-width="0.6"/>
<line x1="114.6" y1="296.8" x2="114.6" y2="300.4" stroke="#aaa" stroke-width="0.5"/>
<rect x="119.1" y="312.7" width="2" height="1.1" fill="#858585" stroke="none" stroke-width="0.8"/>
<rect x="126.25" y="312.7" width="2" height="1.1" fill="#858585" stroke="none" stroke-width="0.8"/>
<rect x="133.4" y="312.7" width="2" height="1.1" fill="#858585" stroke="none" stroke-width="0.8"/>
<rect x="140.55" y="312.7" width="2" height="1.1" fill="#858585" stroke="none" stroke-width="0.8"/>
<rect x="147.7" y="312.7" width="2" height="1.1" fill="#858585" stroke="none" stroke-width="0.8"/>
<path d="M120.8 311.2L120.8 308.15L121.5 306.7L122.2 306.38L122.9 303.06L123.6 301.68L124.3 299.35L125 300.09L125.7 298.86L126.4 298.13L127.1 296.26L127.8 296.12L128.5 291.69L129.2 293.02L129.9 290.38L130.6 291.16L131.3 294.44L132 296.81L132.7 297.79L133.4 300.98L134.1 301.06L134.8 304.28L135.5 306.03L136.2 306.5L136.9 308.3L137.6 308.94L138.3 309.71L139 310.35L139.7 310.75L140.4 310.94L141.1 311.05L141.8 311.11L141.8 311.2 Z" fill="#6b6b6b" stroke="#1a1a1a" stroke-width="0.55" stroke-linejoin="round"/>
<line x1="139.65" y1="305.2" x2="148.8" y2="305.2" stroke="#6a6a6a" stroke-width="0.6"/>
<line x1="139.65" y1="303.7" x2="139.65" y2="306.7" stroke="#6a6a6a" stroke-width="0.5"/>
<rect x="140.79" y="306.5" width="2.2" height="0.8" fill="#aaa" stroke="none" stroke-width="0.8"/>
<line x1="120.2" y1="286.8" x2="148.8" y2="286.8" stroke="#8f8f8f" stroke-width="0.8"/>
<line x1="148.8" y1="286.8" x2="148.8" y2="311.2" stroke="#8f8f8f" stroke-width="0.8"/>
<line x1="120.2" y1="286.4" x2="120.2" y2="311.6" stroke="#111" stroke-width="0.9"/>
<line x1="119.8" y1="311.2" x2="149.2" y2="311.2" stroke="#111" stroke-width="0.9"/>
<line x1="158.1" y1="286.8" x2="159.5" y2="286.8" stroke="#444" stroke-width="0.6"/>
<rect x="156.5" y="286.4" width="0.9" height="0.8" fill="#9a9a9a" stroke="none" stroke-width="0.8"/>
<line x1="158.1" y1="294.93" x2="159.5" y2="294.93" stroke="#444" stroke-width="0.6"/>
<rect x="156.5" y="294.53" width="0.9" height="0.8" fill="#9a9a9a" stroke="none" stroke-width="0.8"/>
<line x1="158.1" y1="303.07" x2="159.5" y2="303.07" stroke="#444" stroke-width="0.6"/>
<rect x="156.5" y="302.67" width="0.9" height="0.8" fill="#9a9a9a" stroke="none" stroke-width="0.8"/>
<line x1="158.1" y1="311.2" x2="159.5" y2="311.2" stroke="#444" stroke-width="0.6"/>
<rect x="156.5" y="310.8" width="0.9" height="0.8" fill="#9a9a9a" stroke="none" stroke-width="0.8"/>
<path d="M155.3 296.4h-1.2v4.4h1.2" fill="none" stroke="#8a8a8a" stroke-width="0.6"/>
<line x1="153.9" y1="296.8" x2="153.9" y2="300.4" stroke="#aaa" stroke-width="0.5"/>
<rect x="158.4" y="312.7" width="2" height="1.1" fill="#858585" stroke="none" stroke-width="0.8"/>
<rect x="165.55" y="312.7" width="2" height="1.1" fill="#858585" stroke="none" stroke-width="0.8"/>
<rect x="172.7" y="312.7" width="2" height="1.1" fill="#858585" stroke="none" stroke-width="0.8"/>
<rect x="179.85" y="312.7" width="2" height="1.1" fill="#858585" stroke="none" stroke-width="0.8"/>
<rect x="187" y="312.7" width="2" height="1.1" fill="#858585" stroke="none" stroke-width="0.8"/>
<path d="M160.1 311.2L160.1 307.94L160.8 306.08L161.5 304.14L162.2 304.46L162.9 303.47L163.6 303.64L164.3 302.64L165 302.34L165.7 301.47L166.4 298.21L167.1 296.37L167.8 295.29L168.5 293.13L169.2 291.05L169.9 291.74L170.6 296.42L171.3 296.99L172 301.71L172.7 304.09L173.4 307.59L174.1 308.96L174.8 310.13L175.5 310.61L175.5 311.2 Z" fill="#6b6b6b" stroke="#1a1a1a" stroke-width="0.55" stroke-linejoin="round"/>
<line x1="176.66" y1="305.2" x2="188.1" y2="305.2" stroke="#6a6a6a" stroke-width="0.6"/>
<line x1="176.66" y1="303.7" x2="176.66" y2="306.7" stroke="#6a6a6a" stroke-width="0.5"/>
<rect x="180.09" y="306.5" width="2.2" height="0.8" fill="#aaa" stroke="none" stroke-width="0.8"/>
<line x1="159.5" y1="286.8" x2="188.1" y2="286.8" stroke="#8f8f8f" stroke-width="0.8"/>
<line x1="188.1" y1="286.8" x2="188.1" y2="311.2" stroke="#8f8f8f" stroke-width="0.8"/>
<line x1="159.5" y1="286.4" x2="159.5" y2="311.6" stroke="#111" stroke-width="0.9"/>
<line x1="159.1" y1="311.2" x2="188.5" y2="311.2" stroke="#111" stroke-width="0.9"/>
<line x1="196.9" y1="286.8" x2="198.3" y2="286.8" stroke="#444" stroke-width="0.6"/>
<rect x="195.3" y="286.4" width="0.9" height="0.8" fill="#9a9a9a" stroke="none" stroke-width="0.8"/>
<line x1="196.9" y1="294.93" x2="198.3" y2="294.93" stroke="#444" stroke-width="0.6"/>
<rect x="195.3" y="294.53" width="0.9" height="0.8" fill="#9a9a9a" stroke="none" stroke-width="0.8"/>
<line x1="196.9" y1="303.07" x2="198.3" y2="303.07" stroke="#444" stroke-width="0.6"/>
<rect x="195.3" y="302.67" width="0.9" height="0.8" fill="#9a9a9a" stroke="none" stroke-width="0.8"/>
<line x1="196.9" y1="311.2" x2="198.3" y2="311.2" stroke="#444" stroke-width="0.6"/>
<rect x="195.3" y="310.8" width="0.9" height="0.8" fill="#9a9a9a" stroke="none" stroke-width="0.8"/>
<path d="M194.1 296.4h-1.2v4.4h1.2" fill="none" stroke="#8a8a8a" stroke-width="0.6"/>
<line x1="192.7" y1="296.8" x2="192.7" y2="300.4" stroke="#aaa" stroke-width="0.5"/>
<rect x="197.2" y="312.7" width="2" height="1.1" fill="#858585" stroke="none" stroke-width="0.8"/>
<rect x="204.35" y="312.7" width="2" height="1.1" fill="#858585" stroke="none" stroke-width="0.8"/>
<rect x="211.5" y="312.7" width="2" height="1.1" fill="#858585" stroke="none" stroke-width="0.8"/>
<rect x="218.65" y="312.7" width="2" height="1.1" fill="#858585" stroke="none" stroke-width="0.8"/>
<rect x="225.8" y="312.7" width="2" height="1.1" fill="#858585" stroke="none" stroke-width="0.8"/>
<path d="M198.9 311.2L198.9 306.23L199.6 302.73L200.3 300.14L201 299.49L201.7 297.63L202.4 297.19L203.1 295.12L203.8 296.52L204.5 296.43L205.2 294.57L205.9 289.83L206.6 299.82L207.3 299.55L208 302.14L208.7 304.46L209.4 307.22L210.1 308.24L210.8 309.53L211.5 310.51L212.2 310.95L212.2 311.2 Z" fill="#6b6b6b" stroke="#1a1a1a" stroke-width="0.55" stroke-linejoin="round"/>
<line x1="212.6" y1="305.2" x2="226.9" y2="305.2" stroke="#6a6a6a" stroke-width="0.6"/>
<line x1="212.6" y1="303.7" x2="212.6" y2="306.7" stroke="#6a6a6a" stroke-width="0.5"/>
<rect x="218.89" y="306.5" width="2.2" height="0.8" fill="#aaa" stroke="none" stroke-width="0.8"/>
<line x1="198.3" y1="286.8" x2="226.9" y2="286.8" stroke="#8f8f8f" stroke-width="0.8"/>
<line x1="226.9" y1="286.8" x2="226.9" y2="311.2" stroke="#8f8f8f" stroke-width="0.8"/>
<line x1="198.3" y1="286.4" x2="198.3" y2="311.6" stroke="#111" stroke-width="0.9"/>
<line x1="197.9" y1="311.2" x2="227.3" y2="311.2" stroke="#111" stroke-width="0.9"/>
<line x1="235.7" y1="286.8" x2="237.1" y2="286.8" stroke="#444" stroke-width="0.6"/>
<rect x="234.1" y="286.4" width="0.9" height="0.8" fill="#9a9a9a" stroke="none" stroke-width="0.8"/>
<line x1="235.7" y1="294.93" x2="237.1" y2="294.93" stroke="#444" stroke-width="0.6"/>
<rect x="234.1" y="294.53" width="0.9" height="0.8" fill="#9a9a9a" stroke="none" stroke-width="0.8"/>
<line x1="235.7" y1="303.07" x2="237.1" y2="303.07" stroke="#444" stroke-width="0.6"/>
<rect x="234.1" y="302.67" width="0.9" height="0.8" fill="#9a9a9a" stroke="none" stroke-width="0.8"/>
<line x1="235.7" y1="311.2" x2="237.1" y2="311.2" stroke="#444" stroke-width="0.6"/>
<rect x="234.1" y="310.8" width="0.9" height="0.8" fill="#9a9a9a" stroke="none" stroke-width="0.8"/>
<path d="M232.9 296.4h-1.2v4.4h1.2" fill="none" stroke="#8a8a8a" stroke-width="0.6"/>
<line x1="231.5" y1="296.8" x2="231.5" y2="300.4" stroke="#aaa" stroke-width="0.5"/>
<rect x="236" y="312.7" width="2" height="1.1" fill="#858585" stroke="none" stroke-width="0.8"/>
<rect x="243.15" y="312.7" width="2" height="1.1" fill="#858585" stroke="none" stroke-width="0.8"/>
<rect x="250.3" y="312.7" width="2" height="1.1" fill="#858585" stroke="none" stroke-width="0.8"/>
<rect x="257.45" y="312.7" width="2" height="1.1" fill="#858585" stroke="none" stroke-width="0.8"/>
<rect x="264.6" y="312.7" width="2" height="1.1" fill="#858585" stroke="none" stroke-width="0.8"/>
<path d="M237.7 311.2L237.7 309.11L238.4 308.75L239.1 308.53L239.8 308.14L240.5 307.69L241.2 306.97L241.9 306.74L242.6 307.03L243.3 306.33L244 305.1L244.7 302.18L245.4 300.29L246.1 297.32L246.8 293.12L247.5 292.74L248.2 288.63L248.9 290.93L249.6 289.35L250.3 294.47L251 296.71L251.7 302.14L252.4 305.53L253.1 307.2L253.8 309.06L253.8 311.2 Z" fill="#6b6b6b" stroke="#1a1a1a" stroke-width="0.55" stroke-linejoin="round"/>
<line x1="254.83" y1="305.2" x2="265.7" y2="305.2" stroke="#6a6a6a" stroke-width="0.6"/>
<line x1="254.83" y1="303.7" x2="254.83" y2="306.7" stroke="#6a6a6a" stroke-width="0.5"/>
<rect x="257.69" y="306.5" width="2.2" height="0.8" fill="#aaa" stroke="none" stroke-width="0.8"/>
<line x1="237.1" y1="286.8" x2="265.7" y2="286.8" stroke="#8f8f8f" stroke-width="0.8"/>
<line x1="265.7" y1="286.8" x2="265.7" y2="311.2" stroke="#8f8f8f" stroke-width="0.8"/>
<line x1="237.1" y1="286.4" x2="237.1" y2="311.6" stroke="#111" stroke-width="0.9"/>
<line x1="236.7" y1="311.2" x2="266.1" y2="311.2" stroke="#111" stroke-width="0.9"/>
<line x1="274.9" y1="286.8" x2="276.3" y2="286.8" stroke="#444" stroke-width="0.6"/>
<rect x="273.3" y="286.4" width="0.9" height="0.8" fill="#9a9a9a" stroke="none" stroke-width="0.8"/>
<line x1="274.9" y1="294.93" x2="276.3" y2="294.93" stroke="#444" stroke-width="0.6"/>
<rect x="273.3" y="294.53" width="0.9" height="0.8" fill="#9a9a9a" stroke="none" stroke-width="0.8"/>
<line x1="274.9" y1="303.07" x2="276.3" y2="303.07" stroke="#444" stroke-width="0.6"/>
<rect x="273.3" y="302.67" width="0.9" height="0.8" fill="#9a9a9a" stroke="none" stroke-width="0.8"/>
<line x1="274.9" y1="311.2" x2="276.3" y2="311.2" stroke="#444" stroke-width="0.6"/>
<rect x="273.3" y="310.8" width="0.9" height="0.8" fill="#9a9a9a" stroke="none" stroke-width="0.8"/>
<path d="M272.1 296.4h-1.2v4.4h1.2" fill="none" stroke="#8a8a8a" stroke-width="0.6"/>
<line x1="270.7" y1="296.8" x2="270.7" y2="300.4" stroke="#aaa" stroke-width="0.5"/>
<rect x="275.2" y="312.7" width="2" height="1.1" fill="#858585" stroke="none" stroke-width="0.8"/>
<rect x="282.35" y="312.7" width="2" height="1.1" fill="#858585" stroke="none" stroke-width="0.8"/>
<rect x="289.5" y="312.7" width="2" height="1.1" fill="#858585" stroke="none" stroke-width="0.8"/>
<rect x="296.65" y="312.7" width="2" height="1.1" fill="#858585" stroke="none" stroke-width="0.8"/>
<rect x="303.8" y="312.7" width="2" height="1.1" fill="#858585" stroke="none" stroke-width="0.8"/>
<path d="M288.3 311.2L288.3 311.05L289 310.78L289.7 310.21L290.4 308.73L291.1 306.43L291.8 302.92L292.5 298.88L293.2 293.93L293.9 289.77L294.6 289.07L295.3 291.29L296 292.55L296.7 297.98L297.4 302.28L298.1 305.38L298.8 307.73L299.5 309.3L300.2 310.38L300.2 311.2 Z" fill="#6b6b6b" stroke="#1a1a1a" stroke-width="0.55" stroke-linejoin="round"/>
<line x1="286.02" y1="305.2" x2="304.9" y2="305.2" stroke="#6a6a6a" stroke-width="0.6"/>
<line x1="286.02" y1="303.7" x2="286.02" y2="306.7" stroke="#6a6a6a" stroke-width="0.5"/>
<rect x="296.89" y="306.5" width="2.2" height="0.8" fill="#aaa" stroke="none" stroke-width="0.8"/>
<line x1="276.3" y1="286.8" x2="304.9" y2="286.8" stroke="#8f8f8f" stroke-width="0.8"/>
<line x1="304.9" y1="286.8" x2="304.9" y2="311.2" stroke="#8f8f8f" stroke-width="0.8"/>
<line x1="276.3" y1="286.4" x2="276.3" y2="311.6" stroke="#111" stroke-width="0.9"/>
<line x1="275.9" y1="311.2" x2="305.3" y2="311.2" stroke="#111" stroke-width="0.9"/>
<line x1="314.4" y1="286.8" x2="315.8" y2="286.8" stroke="#444" stroke-width="0.6"/>
<rect x="312.8" y="286.4" width="0.9" height="0.8" fill="#9a9a9a" stroke="none" stroke-width="0.8"/>
<line x1="314.4" y1="294.93" x2="315.8" y2="294.93" stroke="#444" stroke-width="0.6"/>
<rect x="312.8" y="294.53" width="0.9" height="0.8" fill="#9a9a9a" stroke="none" stroke-width="0.8"/>
<line x1="314.4" y1="303.07" x2="315.8" y2="303.07" stroke="#444" stroke-width="0.6"/>
<rect x="312.8" y="302.67" width="0.9" height="0.8" fill="#9a9a9a" stroke="none" stroke-width="0.8"/>
<line x1="314.4" y1="311.2" x2="315.8" y2="311.2" stroke="#444" stroke-width="0.6"/>
<rect x="312.8" y="310.8" width="0.9" height="0.8" fill="#9a9a9a" stroke="none" stroke-width="0.8"/>
<path d="M311.6 296.4h-1.2v4.4h1.2" fill="none" stroke="#8a8a8a" stroke-width="0.6"/>
<line x1="310.2" y1="296.8" x2="310.2" y2="300.4" stroke="#aaa" stroke-width="0.5"/>
<rect x="314.7" y="312.7" width="2" height="1.1" fill="#858585" stroke="none" stroke-width="0.8"/>
<rect x="321.85" y="312.7" width="2" height="1.1" fill="#858585" stroke="none" stroke-width="0.8"/>
<rect x="329" y="312.7" width="2" height="1.1" fill="#858585" stroke="none" stroke-width="0.8"/>
<rect x="336.15" y="312.7" width="2" height="1.1" fill="#858585" stroke="none" stroke-width="0.8"/>
<rect x="343.3" y="312.7" width="2" height="1.1" fill="#858585" stroke="none" stroke-width="0.8"/>
<path d="M325.8 311.2L325.8 310.97L326.5 310.76L327.2 310.6L327.9 310.27L328.6 309.85L329.3 309.44L330 308.93L330.7 308.14L331.4 307.92L332.1 307.92L332.8 307.22L333.5 307.65L334.2 307.15L334.9 307.39L335.6 305.86L336.3 303.9L337 300.7L337.7 295.66L338.4 292.36L339.1 291.38L339.8 290.53L340.5 294.37L341.2 296.79L341.9 302.17L342.6 306.43L343.3 308.62L343.3 311.2 Z" fill="#6b6b6b" stroke="#1a1a1a" stroke-width="0.55" stroke-linejoin="round"/>
<line x1="326.1" y1="305.2" x2="344.4" y2="305.2" stroke="#6a6a6a" stroke-width="0.6"/>
<line x1="326.1" y1="303.7" x2="326.1" y2="306.7" stroke="#6a6a6a" stroke-width="0.5"/>
<rect x="336.39" y="306.5" width="2.2" height="0.8" fill="#aaa" stroke="none" stroke-width="0.8"/>
<line x1="315.8" y1="286.8" x2="344.4" y2="286.8" stroke="#8f8f8f" stroke-width="0.8"/>
<line x1="344.4" y1="286.8" x2="344.4" y2="311.2" stroke="#8f8f8f" stroke-width="0.8"/>
<line x1="315.8" y1="286.4" x2="315.8" y2="311.6" stroke="#111" stroke-width="0.9"/>
<line x1="315.4" y1="311.2" x2="344.8" y2="311.2" stroke="#111" stroke-width="0.9"/>
<text x="120.4" y="29.9" font-size="7" text-anchor="start" font-weight="bold" fill="#000" stroke="#000" stroke-width="0.34">100%</text>
<text x="123.51" y="38.6" font-size="7" text-anchor="start" font-weight="bold" fill="#000" stroke="#000" stroke-width="0.34">194</text>
<text x="173.89" y="29.9" font-size="7" text-anchor="start" font-weight="bold" fill="#000" stroke="#000" stroke-width="0.34">67%</text>
<text x="177" y="38.6" font-size="7" text-anchor="start" font-weight="bold" fill="#000" stroke="#000" stroke-width="0.34">41</text>
<text x="212.69" y="29.9" font-size="7" text-anchor="start" font-weight="bold" fill="#000" stroke="#000" stroke-width="0.34">39%</text>
<text x="215.8" y="38.6" font-size="7" text-anchor="start" font-weight="bold" fill="#000" stroke="#000" stroke-width="0.34">45</text>
<text x="238.2" y="29.9" font-size="7" text-anchor="start" font-weight="bold" fill="#000" stroke="#000" stroke-width="0.34">100%</text>
<text x="237.8" y="38.6" font-size="7" text-anchor="start" font-weight="bold" fill="#000" stroke="#000" stroke-width="0.34">114</text>
<text x="286.8" y="29.9" font-size="7" text-anchor="start" font-weight="bold" fill="#000" stroke="#000" stroke-width="0.34">100%</text>
<text x="292.72" y="38.6" font-size="7" text-anchor="start" font-weight="bold" fill="#000" stroke="#000" stroke-width="0.34">106</text>
<text x="316.6" y="30.3" font-size="5.2" text-anchor="start" font-weight="bold" fill="#000" stroke="#000" stroke-width="0.34">100%</text>
<text x="316.6" y="38.3" font-size="5.2" text-anchor="start" font-weight="bold" fill="#000" stroke="#000" stroke-width="0.34">1182</text>
<text x="134.59" y="65.2" font-size="7" text-anchor="start" font-weight="bold" fill="#000" stroke="#000" stroke-width="0.34">78%</text>
<text x="137.7" y="73.9" font-size="7" text-anchor="start" font-weight="bold" fill="#000" stroke="#000" stroke-width="0.34">62</text>
<text x="173.89" y="65.2" font-size="7" text-anchor="start" font-weight="bold" fill="#000" stroke="#000" stroke-width="0.34">39%</text>
<text x="177" y="73.9" font-size="7" text-anchor="start" font-weight="bold" fill="#000" stroke="#000" stroke-width="0.34">40</text>
<text x="216.59" y="65.2" font-size="7" text-anchor="start" font-weight="bold" fill="#000" stroke="#000" stroke-width="0.34">1%</text>
<text x="217.75" y="73.9" font-size="7" text-anchor="start" font-weight="bold" fill="#000" stroke="#000" stroke-width="0.34">50</text>
<text x="251.49" y="65.2" font-size="7" text-anchor="start" font-weight="bold" fill="#000" stroke="#000" stroke-width="0.34">74%</text>
<text x="254.6" y="73.9" font-size="7" text-anchor="start" font-weight="bold" fill="#000" stroke="#000" stroke-width="0.34">67</text>
<text x="276.5" y="65.2" font-size="7" text-anchor="start" font-weight="bold" fill="#000" stroke="#000" stroke-width="0.34">100%</text>
<text x="279.61" y="73.9" font-size="7" text-anchor="start" font-weight="bold" fill="#000" stroke="#000" stroke-width="0.34">306</text>
<text x="316" y="65.2" font-size="7" text-anchor="start" font-weight="bold" fill="#000" stroke="#000" stroke-width="0.34">100%</text>
<text x="317.17" y="73.9" font-size="7" text-anchor="start" font-weight="bold" fill="#000" stroke="#000" stroke-width="0.34">1016</text>
<text x="134.59" y="100.5" font-size="7" text-anchor="start" font-weight="bold" fill="#000" stroke="#000" stroke-width="0.34">60%</text>
<text x="137.7" y="109.2" font-size="7" text-anchor="start" font-weight="bold" fill="#000" stroke="#000" stroke-width="0.34">46</text>
<text x="177.78" y="100.5" font-size="7" text-anchor="start" font-weight="bold" fill="#000" stroke="#000" stroke-width="0.34">6%</text>
<text x="178.95" y="109.2" font-size="7" text-anchor="start" font-weight="bold" fill="#000" stroke="#000" stroke-width="0.34">12</text>
<text x="216.59" y="100.5" font-size="7" text-anchor="start" font-weight="bold" fill="#000" stroke="#000" stroke-width="0.34">1%</text>
<text x="217.75" y="109.2" font-size="7" text-anchor="start" font-weight="bold" fill="#000" stroke="#000" stroke-width="0.34">20</text>
<text x="251.49" y="100.5" font-size="7" text-anchor="start" font-weight="bold" fill="#000" stroke="#000" stroke-width="0.34">64%</text>
<text x="254.6" y="109.2" font-size="7" text-anchor="start" font-weight="bold" fill="#000" stroke="#000" stroke-width="0.34">49</text>
<text x="276.5" y="100.5" font-size="7" text-anchor="start" font-weight="bold" fill="#000" stroke="#000" stroke-width="0.34">100%</text>
<text x="279.61" y="109.2" font-size="7" text-anchor="start" font-weight="bold" fill="#000" stroke="#000" stroke-width="0.34">365</text>
<text x="316" y="100.5" font-size="7" text-anchor="start" font-weight="bold" fill="#000" stroke="#000" stroke-width="0.34">100%</text>
<text x="317.17" y="109.2" font-size="7" text-anchor="start" font-weight="bold" fill="#000" stroke="#000" stroke-width="0.34">1680</text>
<text x="134.59" y="144.1" font-size="7" text-anchor="start" font-weight="bold" fill="#000" stroke="#000" stroke-width="0.34">98%</text>
<text x="137.7" y="152.8" font-size="7" text-anchor="start" font-weight="bold" fill="#000" stroke="#000" stroke-width="0.34">90</text>
<text x="177.78" y="144.1" font-size="7" text-anchor="start" font-weight="bold" fill="#000" stroke="#000" stroke-width="0.34">7%</text>
<text x="178.95" y="152.8" font-size="7" text-anchor="start" font-weight="bold" fill="#000" stroke="#000" stroke-width="0.34">28</text>
<text x="216.59" y="144.1" font-size="7" text-anchor="start" font-weight="bold" fill="#000" stroke="#000" stroke-width="0.34">7%</text>
<text x="217.75" y="152.8" font-size="7" text-anchor="start" font-weight="bold" fill="#000" stroke="#000" stroke-width="0.34">30</text>
<text x="251.49" y="144.1" font-size="7" text-anchor="start" font-weight="bold" fill="#000" stroke="#000" stroke-width="0.34">25%</text>
<text x="254.6" y="152.8" font-size="7" text-anchor="start" font-weight="bold" fill="#000" stroke="#000" stroke-width="0.34">38</text>
<text x="276.5" y="144.1" font-size="7" text-anchor="start" font-weight="bold" fill="#000" stroke="#000" stroke-width="0.34">100%</text>
<text x="279.61" y="152.8" font-size="7" text-anchor="start" font-weight="bold" fill="#000" stroke="#000" stroke-width="0.34">498</text>
<text x="316" y="144.1" font-size="7" text-anchor="start" font-weight="bold" fill="#000" stroke="#000" stroke-width="0.34">100%</text>
<text x="319.11" y="152.8" font-size="7" text-anchor="start" font-weight="bold" fill="#000" stroke="#000" stroke-width="0.34">268</text>
<text x="134.59" y="179.2" font-size="7" text-anchor="start" font-weight="bold" fill="#000" stroke="#000" stroke-width="0.34">62%</text>
<text x="137.7" y="187.9" font-size="7" text-anchor="start" font-weight="bold" fill="#000" stroke="#000" stroke-width="0.34">60</text>
<text x="173.89" y="179.2" font-size="7" text-anchor="start" font-weight="bold" fill="#000" stroke="#000" stroke-width="0.34">16%</text>
<text x="177" y="187.9" font-size="7" text-anchor="start" font-weight="bold" fill="#000" stroke="#000" stroke-width="0.34">40</text>
<text x="216.59" y="179.2" font-size="7" text-anchor="start" font-weight="bold" fill="#000" stroke="#000" stroke-width="0.34">1%</text>
<text x="217.75" y="187.9" font-size="7" text-anchor="start" font-weight="bold" fill="#000" stroke="#000" stroke-width="0.34">32</text>
<text x="251.49" y="179.2" font-size="7" text-anchor="start" font-weight="bold" fill="#000" stroke="#000" stroke-width="0.34">10%</text>
<text x="254.6" y="187.9" font-size="7" text-anchor="start" font-weight="bold" fill="#000" stroke="#000" stroke-width="0.34">42</text>
<text x="276.5" y="179.2" font-size="7" text-anchor="start" font-weight="bold" fill="#000" stroke="#000" stroke-width="0.34">100%</text>
<text x="277.67" y="187.9" font-size="7" text-anchor="start" font-weight="bold" fill="#000" stroke="#000" stroke-width="0.34">2010</text>
<text x="316" y="179.2" font-size="7" text-anchor="start" font-weight="bold" fill="#000" stroke="#000" stroke-width="0.34">100%</text>
<text x="319.11" y="187.9" font-size="7" text-anchor="start" font-weight="bold" fill="#000" stroke="#000" stroke-width="0.34">842</text>
<text x="134.59" y="213.9" font-size="7" text-anchor="start" font-weight="bold" fill="#000" stroke="#000" stroke-width="0.34">60%</text>
<text x="137.7" y="222.6" font-size="7" text-anchor="start" font-weight="bold" fill="#000" stroke="#000" stroke-width="0.34">57</text>
<text x="173.89" y="213.9" font-size="7" text-anchor="start" font-weight="bold" fill="#000" stroke="#000" stroke-width="0.34">26%</text>
<text x="177" y="222.6" font-size="7" text-anchor="start" font-weight="bold" fill="#000" stroke="#000" stroke-width="0.34">33</text>
<text x="216.59" y="213.9" font-size="7" text-anchor="start" font-weight="bold" fill="#000" stroke="#000" stroke-width="0.34">1%</text>
<text x="217.75" y="222.6" font-size="7" text-anchor="start" font-weight="bold" fill="#000" stroke="#000" stroke-width="0.34">26</text>
<text x="251.49" y="213.9" font-size="7" text-anchor="start" font-weight="bold" fill="#000" stroke="#000" stroke-width="0.34">18%</text>
<text x="254.6" y="222.6" font-size="7" text-anchor="start" font-weight="bold" fill="#000" stroke="#000" stroke-width="0.34">32</text>
<text x="276.5" y="213.9" font-size="7" text-anchor="start" font-weight="bold" fill="#000" stroke="#000" stroke-width="0.34">100%</text>
<text x="277.67" y="222.6" font-size="7" text-anchor="start" font-weight="bold" fill="#000" stroke="#000" stroke-width="0.34">1747</text>
<text x="316" y="213.9" font-size="7" text-anchor="start" font-weight="bold" fill="#000" stroke="#000" stroke-width="0.34">100%</text>
<text x="317.17" y="222.6" font-size="7" text-anchor="start" font-weight="bold" fill="#000" stroke="#000" stroke-width="0.34">1049</text>
<text x="130.7" y="257.6" font-size="7" text-anchor="start" font-weight="bold" fill="#000" stroke="#000" stroke-width="0.34">100%</text>
<text x="136.62" y="266.3" font-size="7" text-anchor="start" font-weight="bold" fill="#000" stroke="#000" stroke-width="0.34">135</text>
<text x="173.89" y="257.6" font-size="7" text-anchor="start" font-weight="bold" fill="#000" stroke="#000" stroke-width="0.34">30%</text>
<text x="177" y="266.3" font-size="7" text-anchor="start" font-weight="bold" fill="#000" stroke="#000" stroke-width="0.34">34</text>
<text x="212.69" y="257.6" font-size="7" text-anchor="start" font-weight="bold" fill="#000" stroke="#000" stroke-width="0.34">11%</text>
<text x="215.8" y="266.3" font-size="7" text-anchor="start" font-weight="bold" fill="#000" stroke="#000" stroke-width="0.34">30</text>
<text x="251.49" y="257.6" font-size="7" text-anchor="start" font-weight="bold" fill="#000" stroke="#000" stroke-width="0.34">90%</text>
<text x="254.6" y="266.3" font-size="7" text-anchor="start" font-weight="bold" fill="#000" stroke="#000" stroke-width="0.34">32</text>
<text x="286.8" y="257.6" font-size="7" text-anchor="start" font-weight="bold" fill="#000" stroke="#000" stroke-width="0.34">100%</text>
<text x="292.72" y="266.3" font-size="7" text-anchor="start" font-weight="bold" fill="#000" stroke="#000" stroke-width="0.34">168</text>
<text x="316" y="257.6" font-size="7" text-anchor="start" font-weight="bold" fill="#000" stroke="#000" stroke-width="0.34">100%</text>
<text x="319.11" y="266.3" font-size="7" text-anchor="start" font-weight="bold" fill="#000" stroke="#000" stroke-width="0.34">307</text>
<text x="134.59" y="293" font-size="7" text-anchor="start" font-weight="bold" fill="#000" stroke="#000" stroke-width="0.34">40%</text>
<text x="137.7" y="301.7" font-size="7" text-anchor="start" font-weight="bold" fill="#000" stroke="#000" stroke-width="0.34">64</text>
<text x="173.89" y="293" font-size="7" text-anchor="start" font-weight="bold" fill="#000" stroke="#000" stroke-width="0.34">39%</text>
<text x="177" y="301.7" font-size="7" text-anchor="start" font-weight="bold" fill="#000" stroke="#000" stroke-width="0.34">49</text>
<text x="216.59" y="293" font-size="7" text-anchor="start" font-weight="bold" fill="#000" stroke="#000" stroke-width="0.34">1%</text>
<text x="217.75" y="301.7" font-size="7" text-anchor="start" font-weight="bold" fill="#000" stroke="#000" stroke-width="0.34">34</text>
<text x="251.49" y="293" font-size="7" text-anchor="start" font-weight="bold" fill="#000" stroke="#000" stroke-width="0.34">24%</text>
<text x="254.6" y="301.7" font-size="7" text-anchor="start" font-weight="bold" fill="#000" stroke="#000" stroke-width="0.34">39</text>
<text x="276.5" y="293" font-size="7" text-anchor="start" font-weight="bold" fill="#000" stroke="#000" stroke-width="0.34">100%</text>
<text x="279.61" y="301.7" font-size="7" text-anchor="start" font-weight="bold" fill="#000" stroke="#000" stroke-width="0.34">283</text>
<text x="316" y="293" font-size="7" text-anchor="start" font-weight="bold" fill="#000" stroke="#000" stroke-width="0.34">100%</text>
<text x="317.17" y="301.7" font-size="7" text-anchor="start" font-weight="bold" fill="#000" stroke="#000" stroke-width="0.34">1188</text>
<line x1="374.6" y1="8.6" x2="390.8" y2="8.6" stroke="#333" stroke-width="0.9"/>
<text x="405" y="10.6" font-size="6.3" text-anchor="middle" font-weight="bold" fill="#000" stroke="#000" stroke-width="0.34">CD107a</text>
<line x1="418.2" y1="8.6" x2="435.4" y2="8.6" stroke="#333" stroke-width="0.9"/>
<line x1="453" y1="8.6" x2="474.6" y2="8.6" stroke="#333" stroke-width="0.9"/>
<text x="484.2" y="10.6" font-size="6.3" text-anchor="middle" font-weight="bold" fill="#000" stroke="#000" stroke-width="0.34">IFN-γ</text>
<line x1="494" y1="8.6" x2="517.6" y2="8.6" stroke="#333" stroke-width="0.9"/>
<text x="386.2" y="22.2" font-size="6.2" text-anchor="middle" font-weight="bold" fill="#000" stroke="#000" stroke-width="0.34">untreated</text>
<text x="423.5" y="22.2" font-size="6.2" text-anchor="middle" font-weight="bold" fill="#000" stroke="#000" stroke-width="0.34">IL15-treated</text>
<text x="466.6" y="22.2" font-size="6.2" text-anchor="middle" font-weight="bold" fill="#000" stroke="#000" stroke-width="0.34">K562</text>
<text x="502.8" y="22.2" font-size="6.2" text-anchor="middle" font-weight="bold" fill="#000" stroke="#000" stroke-width="0.34">PMA+Iono</text>
<line x1="373" y1="23.7" x2="374.4" y2="23.7" stroke="#444" stroke-width="0.6"/>
<rect x="371.4" y="23.3" width="0.9" height="0.8" fill="#9a9a9a" stroke="none" stroke-width="0.8"/>
<line x1="373" y1="31.83" x2="374.4" y2="31.83" stroke="#444" stroke-width="0.6"/>
<rect x="371.4" y="31.43" width="0.9" height="0.8" fill="#9a9a9a" stroke="none" stroke-width="0.8"/>
<line x1="373" y1="39.97" x2="374.4" y2="39.97" stroke="#444" stroke-width="0.6"/>
<rect x="371.4" y="39.57" width="0.9" height="0.8" fill="#9a9a9a" stroke="none" stroke-width="0.8"/>
<line x1="373" y1="48.1" x2="374.4" y2="48.1" stroke="#444" stroke-width="0.6"/>
<rect x="371.4" y="47.7" width="0.9" height="0.8" fill="#9a9a9a" stroke="none" stroke-width="0.8"/>
<path d="M370.2 33.3h-1.2v4.4h1.2" fill="none" stroke="#8a8a8a" stroke-width="0.6"/>
<line x1="368.8" y1="33.7" x2="368.8" y2="37.3" stroke="#aaa" stroke-width="0.5"/>
<rect x="373.3" y="49.6" width="2" height="1.1" fill="#858585" stroke="none" stroke-width="0.8"/>
<rect x="380.35" y="49.6" width="2" height="1.1" fill="#858585" stroke="none" stroke-width="0.8"/>
<rect x="387.4" y="49.6" width="2" height="1.1" fill="#858585" stroke="none" stroke-width="0.8"/>
<rect x="394.45" y="49.6" width="2" height="1.1" fill="#858585" stroke="none" stroke-width="0.8"/>
<rect x="401.5" y="49.6" width="2" height="1.1" fill="#858585" stroke="none" stroke-width="0.8"/>
<path d="M375 48.1L375 41.63L375.8 41.63L375.8 44.48L376.6 44.48L376.6 44.8L377.4 44.8L377.4 44.28L378.2 44.28L378.2 38.33L379 38.33L379 30.58L379.8 30.58L379.8 41.43L380.6 41.43L380.6 33.4L381.4 33.4L381.4 38.72L382.2 38.72L382.2 37.82L383 37.82L383 41.59L383.8 41.59L383.8 34.28L384.6 34.28L384.6 41.72L385.4 41.72L385.4 44.23L386.2 44.23L386.2 44.4L387 44.4L387 37.7L387.8 37.7L387.8 43.21L388.6 43.21L388.6 36.23L389.4 36.23L389.4 44.54L390.2 44.54L390.2 46.86L391 46.86L391 45.21L391.8 45.21L391.8 43.39L392.6 43.39L392.6 44.3L393.4 44.3L393.4 45.03L394.2 45.03L394.2 41.53L395 41.53L395 45.85L395.8 45.85L395.8 48.1 Z" fill="#6b6b6b" stroke="#1a1a1a" stroke-width="0.55" stroke-linejoin="round"/>
<line x1="396.96" y1="42.1" x2="402.6" y2="42.1" stroke="#6a6a6a" stroke-width="0.6"/>
<line x1="396.96" y1="40.6" x2="396.96" y2="43.6" stroke="#6a6a6a" stroke-width="0.5"/>
<rect x="394.7" y="43.4" width="2.2" height="0.8" fill="#aaa" stroke="none" stroke-width="0.8"/>
<line x1="374.4" y1="23.7" x2="402.6" y2="23.7" stroke="#8f8f8f" stroke-width="0.8"/>
<line x1="402.6" y1="23.7" x2="402.6" y2="48.1" stroke="#8f8f8f" stroke-width="0.8"/>
<line x1="374.4" y1="23.3" x2="374.4" y2="48.5" stroke="#111" stroke-width="0.9"/>
<line x1="374" y1="48.1" x2="403" y2="48.1" stroke="#111" stroke-width="0.9"/>
<line x1="407.7" y1="23.7" x2="409.1" y2="23.7" stroke="#444" stroke-width="0.6"/>
<rect x="406.1" y="23.3" width="0.9" height="0.8" fill="#9a9a9a" stroke="none" stroke-width="0.8"/>
<line x1="407.7" y1="31.83" x2="409.1" y2="31.83" stroke="#444" stroke-width="0.6"/>
<rect x="406.1" y="31.43" width="0.9" height="0.8" fill="#9a9a9a" stroke="none" stroke-width="0.8"/>
<line x1="407.7" y1="39.97" x2="409.1" y2="39.97" stroke="#444" stroke-width="0.6"/>
<rect x="406.1" y="39.57" width="0.9" height="0.8" fill="#9a9a9a" stroke="none" stroke-width="0.8"/>
<line x1="407.7" y1="48.1" x2="409.1" y2="48.1" stroke="#444" stroke-width="0.6"/>
<rect x="406.1" y="47.7" width="0.9" height="0.8" fill="#9a9a9a" stroke="none" stroke-width="0.8"/>
<path d="M404.9 33.3h-1.2v4.4h1.2" fill="none" stroke="#8a8a8a" stroke-width="0.6"/>
<line x1="403.5" y1="33.7" x2="403.5" y2="37.3" stroke="#aaa" stroke-width="0.5"/>
<rect x="408" y="49.6" width="2" height="1.1" fill="#858585" stroke="none" stroke-width="0.8"/>
<rect x="415.05" y="49.6" width="2" height="1.1" fill="#858585" stroke="none" stroke-width="0.8"/>
<rect x="422.1" y="49.6" width="2" height="1.1" fill="#858585" stroke="none" stroke-width="0.8"/>
<rect x="429.15" y="49.6" width="2" height="1.1" fill="#858585" stroke="none" stroke-width="0.8"/>
<rect x="436.2" y="49.6" width="2" height="1.1" fill="#858585" stroke="none" stroke-width="0.8"/>
<path d="M409.7 48.1L409.7 47.2L410.5 47.2L410.5 46.34L411.3 46.34L411.3 46.27L412.1 46.27L412.1 44.27L412.9 44.27L412.9 42.53L413.7 42.53L413.7 41L414.5 41L414.5 42.54L415.3 42.54L415.3 40.07L416.1 40.07L416.1 47.22L416.9 47.22L416.9 39.43L417.7 39.43L417.7 47.39L418.5 47.39L418.5 47.28L419.3 47.28L419.3 37.93L420.1 37.93L420.1 43.74L420.9 43.74L420.9 44.38L421.7 44.38L421.7 47.08L422.5 47.08L422.5 46.71L423.3 46.71L423.3 37.27L424.1 37.27L424.1 43.39L424.9 43.39L424.9 34.55L425.7 34.55L425.7 35.73L426.5 35.73L426.5 39.71L427.3 39.71L427.3 41.09L428.1 41.09L428.1 40.89L428.9 40.89L428.9 46.24L429.7 46.24L429.7 46.75L430.5 46.75L430.5 46.97L431.3 46.97L431.3 48.1 Z" fill="#6b6b6b" stroke="#1a1a1a" stroke-width="0.55" stroke-linejoin="round"/>
<line x1="431.66" y1="42.1" x2="437.3" y2="42.1" stroke="#6a6a6a" stroke-width="0.6"/>
<line x1="431.66" y1="40.6" x2="431.66" y2="43.6" stroke="#6a6a6a" stroke-width="0.5"/>
<rect x="429.4" y="43.4" width="2.2" height="0.8" fill="#aaa" stroke="none" stroke-width="0.8"/>
<line x1="409.1" y1="23.7" x2="437.3" y2="23.7" stroke="#8f8f8f" stroke-width="0.8"/>
<line x1="437.3" y1="23.7" x2="437.3" y2="48.1" stroke="#8f8f8f" stroke-width="0.8"/>
<line x1="409.1" y1="23.3" x2="409.1" y2="48.5" stroke="#111" stroke-width="0.9"/>
<line x1="408.7" y1="48.1" x2="437.7" y2="48.1" stroke="#111" stroke-width="0.9"/>
<line x1="451.1" y1="23.7" x2="452.5" y2="23.7" stroke="#444" stroke-width="0.6"/>
<rect x="449.5" y="23.3" width="0.9" height="0.8" fill="#9a9a9a" stroke="none" stroke-width="0.8"/>
<line x1="451.1" y1="31.83" x2="452.5" y2="31.83" stroke="#444" stroke-width="0.6"/>
<rect x="449.5" y="31.43" width="0.9" height="0.8" fill="#9a9a9a" stroke="none" stroke-width="0.8"/>
<line x1="451.1" y1="39.97" x2="452.5" y2="39.97" stroke="#444" stroke-width="0.6"/>
<rect x="449.5" y="39.57" width="0.9" height="0.8" fill="#9a9a9a" stroke="none" stroke-width="0.8"/>
<line x1="451.1" y1="48.1" x2="452.5" y2="48.1" stroke="#444" stroke-width="0.6"/>
<rect x="449.5" y="47.7" width="0.9" height="0.8" fill="#9a9a9a" stroke="none" stroke-width="0.8"/>
<path d="M448.3 33.3h-1.2v4.4h1.2" fill="none" stroke="#8a8a8a" stroke-width="0.6"/>
<line x1="446.9" y1="33.7" x2="446.9" y2="37.3" stroke="#aaa" stroke-width="0.5"/>
<rect x="451.4" y="49.6" width="2" height="1.1" fill="#858585" stroke="none" stroke-width="0.8"/>
<rect x="458.45" y="49.6" width="2" height="1.1" fill="#858585" stroke="none" stroke-width="0.8"/>
<rect x="465.5" y="49.6" width="2" height="1.1" fill="#858585" stroke="none" stroke-width="0.8"/>
<rect x="472.55" y="49.6" width="2" height="1.1" fill="#858585" stroke="none" stroke-width="0.8"/>
<rect x="479.6" y="49.6" width="2" height="1.1" fill="#858585" stroke="none" stroke-width="0.8"/>
<path d="M453.1 48.1L453.1 39.99L453.9 39.99L453.9 37.28L454.7 37.28L454.7 43.28L455.5 43.28L455.5 41.94L456.3 41.94L456.3 33.71L457.1 33.71L457.1 41.78L457.9 41.78L457.9 41.32L458.7 41.32L458.7 47.09L459.5 47.09L459.5 36.6L460.3 36.6L460.3 44.2L461.1 44.2L461.1 47.31L461.9 47.31L461.9 42.56L462.7 42.56L462.7 43.21L463.5 43.21L463.5 46.08L464.3 46.08L464.3 45L465.1 45L465.1 47.58L465.9 47.58L465.9 46.2L466.7 46.2L466.7 47.71L467.5 47.71L467.5 46.82L468.3 46.82L468.3 44.21L469.1 44.21L469.1 46.53L469.9 46.53L469.9 46.53L470.7 46.53L470.7 46.08L471.5 46.08L471.5 46.38L472.3 46.38L472.3 46.11L473.1 46.11L473.1 47.66L473.9 47.66L473.9 46.5L474.7 46.5L474.7 47.65L475.5 47.65L475.5 46.45L476.3 46.45L476.3 46.86L477.1 46.86L477.1 46.94L477.9 46.94L477.9 47.69L478.7 47.69L478.7 47.34L479.5 47.34L479.5 45.72L480.3 45.72L480.3 48.1 Z" fill="#6b6b6b" stroke="#1a1a1a" stroke-width="0.55" stroke-linejoin="round"/>
<line x1="465.19" y1="42.1" x2="480.7" y2="42.1" stroke="#6a6a6a" stroke-width="0.6"/>
<line x1="465.19" y1="40.6" x2="465.19" y2="43.6" stroke="#6a6a6a" stroke-width="0.5"/>
<rect x="472.8" y="43.4" width="2.2" height="0.8" fill="#aaa" stroke="none" stroke-width="0.8"/>
<line x1="452.5" y1="23.7" x2="480.7" y2="23.7" stroke="#8f8f8f" stroke-width="0.8"/>
<line x1="480.7" y1="23.7" x2="480.7" y2="48.1" stroke="#8f8f8f" stroke-width="0.8"/>
<line x1="452.5" y1="23.3" x2="452.5" y2="48.5" stroke="#111" stroke-width="0.9"/>
<line x1="452.1" y1="48.1" x2="481.1" y2="48.1" stroke="#111" stroke-width="0.9"/>
<line x1="487.1" y1="23.7" x2="488.5" y2="23.7" stroke="#444" stroke-width="0.6"/>
<rect x="485.5" y="23.3" width="0.9" height="0.8" fill="#9a9a9a" stroke="none" stroke-width="0.8"/>
<line x1="487.1" y1="31.83" x2="488.5" y2="31.83" stroke="#444" stroke-width="0.6"/>
<rect x="485.5" y="31.43" width="0.9" height="0.8" fill="#9a9a9a" stroke="none" stroke-width="0.8"/>
<line x1="487.1" y1="39.97" x2="488.5" y2="39.97" stroke="#444" stroke-width="0.6"/>
<rect x="485.5" y="39.57" width="0.9" height="0.8" fill="#9a9a9a" stroke="none" stroke-width="0.8"/>
<line x1="487.1" y1="48.1" x2="488.5" y2="48.1" stroke="#444" stroke-width="0.6"/>
<rect x="485.5" y="47.7" width="0.9" height="0.8" fill="#9a9a9a" stroke="none" stroke-width="0.8"/>
<path d="M484.3 33.3h-1.2v4.4h1.2" fill="none" stroke="#8a8a8a" stroke-width="0.6"/>
<line x1="482.9" y1="33.7" x2="482.9" y2="37.3" stroke="#aaa" stroke-width="0.5"/>
<rect x="487.4" y="49.6" width="2" height="1.1" fill="#858585" stroke="none" stroke-width="0.8"/>
<rect x="494.45" y="49.6" width="2" height="1.1" fill="#858585" stroke="none" stroke-width="0.8"/>
<rect x="501.5" y="49.6" width="2" height="1.1" fill="#858585" stroke="none" stroke-width="0.8"/>
<rect x="508.55" y="49.6" width="2" height="1.1" fill="#858585" stroke="none" stroke-width="0.8"/>
<rect x="515.6" y="49.6" width="2" height="1.1" fill="#858585" stroke="none" stroke-width="0.8"/>
<path d="M489.5 48.1L489.5 47.06L490.3 47.06L490.3 46.72L491.1 46.72L491.1 45.72L491.9 45.72L491.9 47.03L492.7 47.03L492.7 47.53L493.5 47.53L493.5 46.86L494.3 46.86L494.3 44.63L495.1 44.63L495.1 46.83L495.9 46.83L495.9 44.5L496.7 44.5L496.7 43.42L497.5 43.42L497.5 43.44L498.3 43.44L498.3 45.48L499.1 45.48L499.1 47.26L499.9 47.26L499.9 44.83L500.7 44.83L500.7 41.8L501.5 41.8L501.5 43.87L502.3 43.87L502.3 44.61L503.1 44.61L503.1 40.46L503.9 40.46L503.9 37.39L504.7 37.39L504.7 43.33L505.5 43.33L505.5 44.07L506.3 44.07L506.3 40.99L507.1 40.99L507.1 42.21L507.9 42.21L507.9 44.03L508.7 44.03L508.7 46.82L509.5 46.82L509.5 46.57L510.3 46.57L510.3 45.78L511.1 45.78L511.1 47.06L511.9 47.06L511.9 47.39L512.7 47.39L512.7 47.69L513.5 47.69L513.5 47.7L514.3 47.7L514.3 48L515.1 48L515.1 48.02L515.9 48.02L515.9 48.1 Z" fill="#6b6b6b" stroke="#1a1a1a" stroke-width="0.55" stroke-linejoin="round"/>
<line x1="511.06" y1="42.1" x2="516.7" y2="42.1" stroke="#6a6a6a" stroke-width="0.6"/>
<line x1="511.06" y1="40.6" x2="511.06" y2="43.6" stroke="#6a6a6a" stroke-width="0.5"/>
<rect x="508.8" y="43.4" width="2.2" height="0.8" fill="#aaa" stroke="none" stroke-width="0.8"/>
<line x1="488.5" y1="23.7" x2="516.7" y2="23.7" stroke="#8f8f8f" stroke-width="0.8"/>
<line x1="516.7" y1="23.7" x2="516.7" y2="48.1" stroke="#8f8f8f" stroke-width="0.8"/>
<line x1="488.5" y1="23.3" x2="488.5" y2="48.5" stroke="#111" stroke-width="0.9"/>
<line x1="488.1" y1="48.1" x2="517.1" y2="48.1" stroke="#111" stroke-width="0.9"/>
<line x1="373" y1="59" x2="374.4" y2="59" stroke="#444" stroke-width="0.6"/>
<rect x="371.4" y="58.6" width="0.9" height="0.8" fill="#9a9a9a" stroke="none" stroke-width="0.8"/>
<line x1="373" y1="67.13" x2="374.4" y2="67.13" stroke="#444" stroke-width="0.6"/>
<rect x="371.4" y="66.73" width="0.9" height="0.8" fill="#9a9a9a" stroke="none" stroke-width="0.8"/>
<line x1="373" y1="75.27" x2="374.4" y2="75.27" stroke="#444" stroke-width="0.6"/>
<rect x="371.4" y="74.87" width="0.9" height="0.8" fill="#9a9a9a" stroke="none" stroke-width="0.8"/>
<line x1="373" y1="83.4" x2="374.4" y2="83.4" stroke="#444" stroke-width="0.6"/>
<rect x="371.4" y="83" width="0.9" height="0.8" fill="#9a9a9a" stroke="none" stroke-width="0.8"/>
<path d="M370.2 68.6h-1.2v4.4h1.2" fill="none" stroke="#8a8a8a" stroke-width="0.6"/>
<line x1="368.8" y1="69" x2="368.8" y2="72.6" stroke="#aaa" stroke-width="0.5"/>
<rect x="373.3" y="84.9" width="2" height="1.1" fill="#858585" stroke="none" stroke-width="0.8"/>
<rect x="380.35" y="84.9" width="2" height="1.1" fill="#858585" stroke="none" stroke-width="0.8"/>
<rect x="387.4" y="84.9" width="2" height="1.1" fill="#858585" stroke="none" stroke-width="0.8"/>
<rect x="394.45" y="84.9" width="2" height="1.1" fill="#858585" stroke="none" stroke-width="0.8"/>
<rect x="401.5" y="84.9" width="2" height="1.1" fill="#858585" stroke="none" stroke-width="0.8"/>
<path d="M375 83.4L375 77.57L375.6 77.25L376.2 69.08L376.8 74.84L377.4 73.57L378 75.65L378.6 71.77L379.2 75.08L379.8 65.94L380.4 68.9L381 76.4L381.6 68.98L382.2 68.47L382.8 76.66L383.4 71.92L384 73.24L384.6 74.53L385.2 73.28L385.8 73.01L386.4 76.72L387 76.3L387.6 75.5L388.2 72.27L388.8 73.3L389.4 74.89L390 77.4L390.6 75.14L391.2 75.31L391.8 76.36L392.4 80.13L393 79.43L393.6 80.48L394.2 79.91L394.8 78.86L395.4 80.36L396 81.1L396.6 81.74L397.2 81.96L397.8 80.73L397.8 83.4 Z" fill="#6b6b6b" stroke="#1a1a1a" stroke-width="0.55" stroke-linejoin="round"/>
<line x1="389.91" y1="77.4" x2="402.6" y2="77.4" stroke="#6a6a6a" stroke-width="0.6"/>
<line x1="389.91" y1="75.9" x2="389.91" y2="78.9" stroke="#6a6a6a" stroke-width="0.5"/>
<rect x="394.7" y="78.7" width="2.2" height="0.8" fill="#aaa" stroke="none" stroke-width="0.8"/>
<line x1="374.4" y1="59" x2="402.6" y2="59" stroke="#8f8f8f" stroke-width="0.8"/>
<line x1="402.6" y1="59" x2="402.6" y2="83.4" stroke="#8f8f8f" stroke-width="0.8"/>
<line x1="374.4" y1="58.6" x2="374.4" y2="83.8" stroke="#111" stroke-width="0.9"/>
<line x1="374" y1="83.4" x2="403" y2="83.4" stroke="#111" stroke-width="0.9"/>
<line x1="407.7" y1="59" x2="409.1" y2="59" stroke="#444" stroke-width="0.6"/>
<rect x="406.1" y="58.6" width="0.9" height="0.8" fill="#9a9a9a" stroke="none" stroke-width="0.8"/>
<line x1="407.7" y1="67.13" x2="409.1" y2="67.13" stroke="#444" stroke-width="0.6"/>
<rect x="406.1" y="66.73" width="0.9" height="0.8" fill="#9a9a9a" stroke="none" stroke-width="0.8"/>
<line x1="407.7" y1="75.27" x2="409.1" y2="75.27" stroke="#444" stroke-width="0.6"/>
<rect x="406.1" y="74.87" width="0.9" height="0.8" fill="#9a9a9a" stroke="none" stroke-width="0.8"/>
<line x1="407.7" y1="83.4" x2="409.1" y2="83.4" stroke="#444" stroke-width="0.6"/>
<rect x="406.1" y="83" width="0.9" height="0.8" fill="#9a9a9a" stroke="none" stroke-width="0.8"/>
<path d="M404.9 68.6h-1.2v4.4h1.2" fill="none" stroke="#8a8a8a" stroke-width="0.6"/>
<line x1="403.5" y1="69" x2="403.5" y2="72.6" stroke="#aaa" stroke-width="0.5"/>
<rect x="408" y="84.9" width="2" height="1.1" fill="#858585" stroke="none" stroke-width="0.8"/>
<rect x="415.05" y="84.9" width="2" height="1.1" fill="#858585" stroke="none" stroke-width="0.8"/>
<rect x="422.1" y="84.9" width="2" height="1.1" fill="#858585" stroke="none" stroke-width="0.8"/>
<rect x="429.15" y="84.9" width="2" height="1.1" fill="#858585" stroke="none" stroke-width="0.8"/>
<rect x="436.2" y="84.9" width="2" height="1.1" fill="#858585" stroke="none" stroke-width="0.8"/>
<path d="M409.7 83.4L409.7 78.85L410.3 80.5L410.9 76.55L411.5 77.96L412.1 77.82L412.7 75.63L413.3 78.26L413.9 77.53L414.5 73.93L415.1 72.18L415.7 60.44L416.3 68.71L416.9 73.19L417.5 75.35L418.1 76.06L418.7 71.13L419.3 69.39L419.9 74.68L420.5 68.06L421.1 72.87L421.7 69.27L422.3 76.63L422.9 74.46L423.5 76.18L424.1 73.02L424.7 74.35L425.3 79.29L425.9 79.59L426.5 77.7L427.1 79.45L427.7 79.62L428.3 76.54L428.9 77.15L429.5 81.35L430.1 81.51L430.7 79.71L431.3 79.13L431.9 79.72L432.5 80.57L432.5 83.4 Z" fill="#6b6b6b" stroke="#1a1a1a" stroke-width="0.55" stroke-linejoin="round"/>
<line x1="424.61" y1="77.4" x2="437.3" y2="77.4" stroke="#6a6a6a" stroke-width="0.6"/>
<line x1="424.61" y1="75.9" x2="424.61" y2="78.9" stroke="#6a6a6a" stroke-width="0.5"/>
<rect x="429.4" y="78.7" width="2.2" height="0.8" fill="#aaa" stroke="none" stroke-width="0.8"/>
<line x1="409.1" y1="59" x2="437.3" y2="59" stroke="#8f8f8f" stroke-width="0.8"/>
<line x1="437.3" y1="59" x2="437.3" y2="83.4" stroke="#8f8f8f" stroke-width="0.8"/>
<line x1="409.1" y1="58.6" x2="409.1" y2="83.8" stroke="#111" stroke-width="0.9"/>
<line x1="408.7" y1="83.4" x2="437.7" y2="83.4" stroke="#111" stroke-width="0.9"/>
<line x1="451.1" y1="59" x2="452.5" y2="59" stroke="#444" stroke-width="0.6"/>
<rect x="449.5" y="58.6" width="0.9" height="0.8" fill="#9a9a9a" stroke="none" stroke-width="0.8"/>
<line x1="451.1" y1="67.13" x2="452.5" y2="67.13" stroke="#444" stroke-width="0.6"/>
<rect x="449.5" y="66.73" width="0.9" height="0.8" fill="#9a9a9a" stroke="none" stroke-width="0.8"/>
<line x1="451.1" y1="75.27" x2="452.5" y2="75.27" stroke="#444" stroke-width="0.6"/>
<rect x="449.5" y="74.87" width="0.9" height="0.8" fill="#9a9a9a" stroke="none" stroke-width="0.8"/>
<line x1="451.1" y1="83.4" x2="452.5" y2="83.4" stroke="#444" stroke-width="0.6"/>
<rect x="449.5" y="83" width="0.9" height="0.8" fill="#9a9a9a" stroke="none" stroke-width="0.8"/>
<path d="M448.3 68.6h-1.2v4.4h1.2" fill="none" stroke="#8a8a8a" stroke-width="0.6"/>
<line x1="446.9" y1="69" x2="446.9" y2="72.6" stroke="#aaa" stroke-width="0.5"/>
<rect x="451.4" y="84.9" width="2" height="1.1" fill="#858585" stroke="none" stroke-width="0.8"/>
<rect x="458.45" y="84.9" width="2" height="1.1" fill="#858585" stroke="none" stroke-width="0.8"/>
<rect x="465.5" y="84.9" width="2" height="1.1" fill="#858585" stroke="none" stroke-width="0.8"/>
<rect x="472.55" y="84.9" width="2" height="1.1" fill="#858585" stroke="none" stroke-width="0.8"/>
<rect x="479.6" y="84.9" width="2" height="1.1" fill="#858585" stroke="none" stroke-width="0.8"/>
<path d="M453.1 83.4L453.1 72.87L453.8 69.04L454.5 69.3L455.2 68.48L455.9 65.18L456.6 64.65L457.3 69.78L458 69.28L458.7 67.34L459.4 68.67L460.1 64.54L460.8 67.99L461.5 71.43L462.2 73.59L462.9 75.6L463.6 74.99L464.3 75.13L465 79.09L465.7 79.22L466.4 80.33L467.1 80.63L467.8 81.73L468.5 82.33L469.2 82.23L469.9 82.74L470.6 82.83L471.3 82.95L472 83.15L472.7 83.2L473.4 83.28L473.4 83.4 Z" fill="#6b6b6b" stroke="#1a1a1a" stroke-width="0.55" stroke-linejoin="round"/>
<line x1="466.6" y1="77.4" x2="480.7" y2="77.4" stroke="#6a6a6a" stroke-width="0.6"/>
<line x1="466.6" y1="75.9" x2="466.6" y2="78.9" stroke="#6a6a6a" stroke-width="0.5"/>
<rect x="472.8" y="78.7" width="2.2" height="0.8" fill="#aaa" stroke="none" stroke-width="0.8"/>
<line x1="452.5" y1="59" x2="480.7" y2="59" stroke="#8f8f8f" stroke-width="0.8"/>
<line x1="480.7" y1="59" x2="480.7" y2="83.4" stroke="#8f8f8f" stroke-width="0.8"/>
<line x1="452.5" y1="58.6" x2="452.5" y2="83.8" stroke="#111" stroke-width="0.9"/>
<line x1="452.1" y1="83.4" x2="481.1" y2="83.4" stroke="#111" stroke-width="0.9"/>
<line x1="487.1" y1="59" x2="488.5" y2="59" stroke="#444" stroke-width="0.6"/>
<rect x="485.5" y="58.6" width="0.9" height="0.8" fill="#9a9a9a" stroke="none" stroke-width="0.8"/>
<line x1="487.1" y1="67.13" x2="488.5" y2="67.13" stroke="#444" stroke-width="0.6"/>
<rect x="485.5" y="66.73" width="0.9" height="0.8" fill="#9a9a9a" stroke="none" stroke-width="0.8"/>
<line x1="487.1" y1="75.27" x2="488.5" y2="75.27" stroke="#444" stroke-width="0.6"/>
<rect x="485.5" y="74.87" width="0.9" height="0.8" fill="#9a9a9a" stroke="none" stroke-width="0.8"/>
<line x1="487.1" y1="83.4" x2="488.5" y2="83.4" stroke="#444" stroke-width="0.6"/>
<rect x="485.5" y="83" width="0.9" height="0.8" fill="#9a9a9a" stroke="none" stroke-width="0.8"/>
<path d="M484.3 68.6h-1.2v4.4h1.2" fill="none" stroke="#8a8a8a" stroke-width="0.6"/>
<line x1="482.9" y1="69" x2="482.9" y2="72.6" stroke="#aaa" stroke-width="0.5"/>
<rect x="487.4" y="84.9" width="2" height="1.1" fill="#858585" stroke="none" stroke-width="0.8"/>
<rect x="494.45" y="84.9" width="2" height="1.1" fill="#858585" stroke="none" stroke-width="0.8"/>
<rect x="501.5" y="84.9" width="2" height="1.1" fill="#858585" stroke="none" stroke-width="0.8"/>
<rect x="508.55" y="84.9" width="2" height="1.1" fill="#858585" stroke="none" stroke-width="0.8"/>
<rect x="515.6" y="84.9" width="2" height="1.1" fill="#858585" stroke="none" stroke-width="0.8"/>
<path d="M490.5 83.4L490.5 81.81L491.2 80.27L491.9 80.08L492.6 81.05L493.3 79.6L494 79.98L494.7 78L495.4 77.71L496.1 79.03L496.8 77.86L497.5 77.73L498.2 77.45L498.9 74.4L499.6 71.19L500.3 67.93L501 63.46L501.7 67.35L502.4 74.96L503.1 75.17L503.8 74.84L504.5 77.74L505.2 79.51L505.9 80.31L506.6 80.87L507.3 81.91L508 81.94L508.7 82.3L509.4 82.56L510.1 82.48L510.8 82.93L511.5 82.99L511.5 83.4 Z" fill="#6b6b6b" stroke="#1a1a1a" stroke-width="0.55" stroke-linejoin="round"/>
<line x1="499.78" y1="77.4" x2="516.7" y2="77.4" stroke="#6a6a6a" stroke-width="0.6"/>
<line x1="499.78" y1="75.9" x2="499.78" y2="78.9" stroke="#6a6a6a" stroke-width="0.5"/>
<rect x="508.8" y="78.7" width="2.2" height="0.8" fill="#aaa" stroke="none" stroke-width="0.8"/>
<line x1="488.5" y1="59" x2="516.7" y2="59" stroke="#8f8f8f" stroke-width="0.8"/>
<line x1="516.7" y1="59" x2="516.7" y2="83.4" stroke="#8f8f8f" stroke-width="0.8"/>
<line x1="488.5" y1="58.6" x2="488.5" y2="83.8" stroke="#111" stroke-width="0.9"/>
<line x1="488.1" y1="83.4" x2="517.1" y2="83.4" stroke="#111" stroke-width="0.9"/>
<line x1="373" y1="94.3" x2="374.4" y2="94.3" stroke="#444" stroke-width="0.6"/>
<rect x="371.4" y="93.9" width="0.9" height="0.8" fill="#9a9a9a" stroke="none" stroke-width="0.8"/>
<line x1="373" y1="102.43" x2="374.4" y2="102.43" stroke="#444" stroke-width="0.6"/>
<rect x="371.4" y="102.03" width="0.9" height="0.8" fill="#9a9a9a" stroke="none" stroke-width="0.8"/>
<line x1="373" y1="110.57" x2="374.4" y2="110.57" stroke="#444" stroke-width="0.6"/>
<rect x="371.4" y="110.17" width="0.9" height="0.8" fill="#9a9a9a" stroke="none" stroke-width="0.8"/>
<line x1="373" y1="118.7" x2="374.4" y2="118.7" stroke="#444" stroke-width="0.6"/>
<rect x="371.4" y="118.3" width="0.9" height="0.8" fill="#9a9a9a" stroke="none" stroke-width="0.8"/>
<path d="M370.2 103.9h-1.2v4.4h1.2" fill="none" stroke="#8a8a8a" stroke-width="0.6"/>
<line x1="368.8" y1="104.3" x2="368.8" y2="107.9" stroke="#aaa" stroke-width="0.5"/>
<rect x="373.3" y="120.2" width="2" height="1.1" fill="#858585" stroke="none" stroke-width="0.8"/>
<rect x="380.35" y="120.2" width="2" height="1.1" fill="#858585" stroke="none" stroke-width="0.8"/>
<rect x="387.4" y="120.2" width="2" height="1.1" fill="#858585" stroke="none" stroke-width="0.8"/>
<rect x="394.45" y="120.2" width="2" height="1.1" fill="#858585" stroke="none" stroke-width="0.8"/>
<rect x="401.5" y="120.2" width="2" height="1.1" fill="#858585" stroke="none" stroke-width="0.8"/>
<path d="M375 118.7L375 116.8L375.7 115.93L376.4 111.35L377.1 108.95L377.8 105.14L378.5 97.56L379.2 103.77L379.9 95.03L380.6 100.91L381.3 101.14L382 101.43L382.7 98.57L383.4 98.94L384.1 103.41L384.8 108.29L385.5 110.91L386.2 111.18L386.9 112.45L387.6 112.01L388.3 112.62L389 114.41L389.7 114.42L390.4 112.75L391.1 113.61L391.8 115.5L392.5 113.94L393.2 115.25L393.9 115.71L394.6 115.31L395.3 115.89L396 116.6L396.7 116.96L397.4 117.07L398.1 117.11L398.1 118.7 Z" fill="#6b6b6b" stroke="#1a1a1a" stroke-width="0.55" stroke-linejoin="round"/>
<line x1="385.12" y1="112.7" x2="402.6" y2="112.7" stroke="#6a6a6a" stroke-width="0.6"/>
<line x1="385.12" y1="111.2" x2="385.12" y2="114.2" stroke="#6a6a6a" stroke-width="0.5"/>
<rect x="394.7" y="114" width="2.2" height="0.8" fill="#aaa" stroke="none" stroke-width="0.8"/>
<line x1="374.4" y1="94.3" x2="402.6" y2="94.3" stroke="#8f8f8f" stroke-width="0.8"/>
<line x1="402.6" y1="94.3" x2="402.6" y2="118.7" stroke="#8f8f8f" stroke-width="0.8"/>
<line x1="374.4" y1="93.9" x2="374.4" y2="119.1" stroke="#111" stroke-width="0.9"/>
<line x1="374" y1="118.7" x2="403" y2="118.7" stroke="#111" stroke-width="0.9"/>
<line x1="407.7" y1="94.3" x2="409.1" y2="94.3" stroke="#444" stroke-width="0.6"/>
<rect x="406.1" y="93.9" width="0.9" height="0.8" fill="#9a9a9a" stroke="none" stroke-width="0.8"/>
<line x1="407.7" y1="102.43" x2="409.1" y2="102.43" stroke="#444" stroke-width="0.6"/>
<rect x="406.1" y="102.03" width="0.9" height="0.8" fill="#9a9a9a" stroke="none" stroke-width="0.8"/>
<line x1="407.7" y1="110.57" x2="409.1" y2="110.57" stroke="#444" stroke-width="0.6"/>
<rect x="406.1" y="110.17" width="0.9" height="0.8" fill="#9a9a9a" stroke="none" stroke-width="0.8"/>
<line x1="407.7" y1="118.7" x2="409.1" y2="118.7" stroke="#444" stroke-width="0.6"/>
<rect x="406.1" y="118.3" width="0.9" height="0.8" fill="#9a9a9a" stroke="none" stroke-width="0.8"/>
<path d="M404.9 103.9h-1.2v4.4h1.2" fill="none" stroke="#8a8a8a" stroke-width="0.6"/>
<line x1="403.5" y1="104.3" x2="403.5" y2="107.9" stroke="#aaa" stroke-width="0.5"/>
<rect x="408" y="120.2" width="2" height="1.1" fill="#858585" stroke="none" stroke-width="0.8"/>
<rect x="415.05" y="120.2" width="2" height="1.1" fill="#858585" stroke="none" stroke-width="0.8"/>
<rect x="422.1" y="120.2" width="2" height="1.1" fill="#858585" stroke="none" stroke-width="0.8"/>
<rect x="429.15" y="120.2" width="2" height="1.1" fill="#858585" stroke="none" stroke-width="0.8"/>
<rect x="436.2" y="120.2" width="2" height="1.1" fill="#858585" stroke="none" stroke-width="0.8"/>
<path d="M409.7 118.7L409.7 118.21L410.4 117.44L411.1 116.9L411.8 114.84L412.5 113.99L413.2 112.59L413.9 108.41L414.6 110.41L415.3 104.47L416 106.68L416.7 103.66L417.4 100.83L418.1 102.53L418.8 104.74L419.5 103.43L420.2 110.66L420.9 107.81L421.6 105.13L422.3 106.65L423 109.37L423.7 111.28L424.4 110.91L425.1 110.76L425.8 112.82L426.5 108.54L427.2 110.4L427.9 111.31L428.6 113.33L429.3 112.99L430 113.03L430.7 114.57L431.4 114.38L432.1 114.85L432.8 114.5L433.5 114.88L434.2 117.13L434.9 117.31L435.6 116.94L435.6 118.7 Z" fill="#6b6b6b" stroke="#1a1a1a" stroke-width="0.55" stroke-linejoin="round"/>
<line x1="424.61" y1="112.7" x2="437.3" y2="112.7" stroke="#6a6a6a" stroke-width="0.6"/>
<line x1="424.61" y1="111.2" x2="424.61" y2="114.2" stroke="#6a6a6a" stroke-width="0.5"/>
<rect x="429.4" y="114" width="2.2" height="0.8" fill="#aaa" stroke="none" stroke-width="0.8"/>
<line x1="409.1" y1="94.3" x2="437.3" y2="94.3" stroke="#8f8f8f" stroke-width="0.8"/>
<line x1="437.3" y1="94.3" x2="437.3" y2="118.7" stroke="#8f8f8f" stroke-width="0.8"/>
<line x1="409.1" y1="93.9" x2="409.1" y2="119.1" stroke="#111" stroke-width="0.9"/>
<line x1="408.7" y1="118.7" x2="437.7" y2="118.7" stroke="#111" stroke-width="0.9"/>
<line x1="451.1" y1="94.3" x2="452.5" y2="94.3" stroke="#444" stroke-width="0.6"/>
<rect x="449.5" y="93.9" width="0.9" height="0.8" fill="#9a9a9a" stroke="none" stroke-width="0.8"/>
<line x1="451.1" y1="102.43" x2="452.5" y2="102.43" stroke="#444" stroke-width="0.6"/>
<rect x="449.5" y="102.03" width="0.9" height="0.8" fill="#9a9a9a" stroke="none" stroke-width="0.8"/>
<line x1="451.1" y1="110.57" x2="452.5" y2="110.57" stroke="#444" stroke-width="0.6"/>
<rect x="449.5" y="110.17" width="0.9" height="0.8" fill="#9a9a9a" stroke="none" stroke-width="0.8"/>
<line x1="451.1" y1="118.7" x2="452.5" y2="118.7" stroke="#444" stroke-width="0.6"/>
<rect x="449.5" y="118.3" width="0.9" height="0.8" fill="#9a9a9a" stroke="none" stroke-width="0.8"/>
<path d="M448.3 103.9h-1.2v4.4h1.2" fill="none" stroke="#8a8a8a" stroke-width="0.6"/>
<line x1="446.9" y1="104.3" x2="446.9" y2="107.9" stroke="#aaa" stroke-width="0.5"/>
<rect x="451.4" y="120.2" width="2" height="1.1" fill="#858585" stroke="none" stroke-width="0.8"/>
<rect x="458.45" y="120.2" width="2" height="1.1" fill="#858585" stroke="none" stroke-width="0.8"/>
<rect x="465.5" y="120.2" width="2" height="1.1" fill="#858585" stroke="none" stroke-width="0.8"/>
<rect x="472.55" y="120.2" width="2" height="1.1" fill="#858585" stroke="none" stroke-width="0.8"/>
<rect x="479.6" y="120.2" width="2" height="1.1" fill="#858585" stroke="none" stroke-width="0.8"/>
<path d="M453.1 118.7L453.1 108.74L453.8 105.78L454.5 105.89L455.2 102.43L455.9 100.31L456.6 97.28L457.3 97.46L458 96.03L458.7 98.34L459.4 101.69L460.1 106.49L460.8 108.55L461.5 110.52L462.2 113.69L462.9 115.67L463.6 116.79L464.3 117.76L465 118.18L465.7 118.42L466.4 118.58L467.1 118.65L467.1 118.7 Z" fill="#6b6b6b" stroke="#1a1a1a" stroke-width="0.55" stroke-linejoin="round"/>
<line x1="464.34" y1="112.7" x2="480.7" y2="112.7" stroke="#6a6a6a" stroke-width="0.6"/>
<line x1="464.34" y1="111.2" x2="464.34" y2="114.2" stroke="#6a6a6a" stroke-width="0.5"/>
<rect x="472.8" y="114" width="2.2" height="0.8" fill="#aaa" stroke="none" stroke-width="0.8"/>
<line x1="452.5" y1="94.3" x2="480.7" y2="94.3" stroke="#8f8f8f" stroke-width="0.8"/>
<line x1="480.7" y1="94.3" x2="480.7" y2="118.7" stroke="#8f8f8f" stroke-width="0.8"/>
<line x1="452.5" y1="93.9" x2="452.5" y2="119.1" stroke="#111" stroke-width="0.9"/>
<line x1="452.1" y1="118.7" x2="481.1" y2="118.7" stroke="#111" stroke-width="0.9"/>
<line x1="487.1" y1="94.3" x2="488.5" y2="94.3" stroke="#444" stroke-width="0.6"/>
<rect x="485.5" y="93.9" width="0.9" height="0.8" fill="#9a9a9a" stroke="none" stroke-width="0.8"/>
<line x1="487.1" y1="102.43" x2="488.5" y2="102.43" stroke="#444" stroke-width="0.6"/>
<rect x="485.5" y="102.03" width="0.9" height="0.8" fill="#9a9a9a" stroke="none" stroke-width="0.8"/>
<line x1="487.1" y1="110.57" x2="488.5" y2="110.57" stroke="#444" stroke-width="0.6"/>
<rect x="485.5" y="110.17" width="0.9" height="0.8" fill="#9a9a9a" stroke="none" stroke-width="0.8"/>
<line x1="487.1" y1="118.7" x2="488.5" y2="118.7" stroke="#444" stroke-width="0.6"/>
<rect x="485.5" y="118.3" width="0.9" height="0.8" fill="#9a9a9a" stroke="none" stroke-width="0.8"/>
<path d="M484.3 103.9h-1.2v4.4h1.2" fill="none" stroke="#8a8a8a" stroke-width="0.6"/>
<line x1="482.9" y1="104.3" x2="482.9" y2="107.9" stroke="#aaa" stroke-width="0.5"/>
<rect x="487.4" y="120.2" width="2" height="1.1" fill="#858585" stroke="none" stroke-width="0.8"/>
<rect x="494.45" y="120.2" width="2" height="1.1" fill="#858585" stroke="none" stroke-width="0.8"/>
<rect x="501.5" y="120.2" width="2" height="1.1" fill="#858585" stroke="none" stroke-width="0.8"/>
<rect x="508.55" y="120.2" width="2" height="1.1" fill="#858585" stroke="none" stroke-width="0.8"/>
<rect x="515.6" y="120.2" width="2" height="1.1" fill="#858585" stroke="none" stroke-width="0.8"/>
<path d="M489.5 118.7L489.5 118.13L490.2 117.87L490.9 117.34L491.6 117.22L492.3 116.01L493 116.71L493.7 115.8L494.4 115.95L495.1 115.08L495.8 116.06L496.5 115.5L497.2 114.91L497.9 114.1L498.6 113.61L499.3 110.64L500 111.23L500.7 108.62L501.4 111.72L502.1 111.92L502.8 113.16L503.5 113.98L504.2 116.75L504.9 117.57L504.9 118.7 Z" fill="#6b6b6b" stroke="#1a1a1a" stroke-width="0.55" stroke-linejoin="round"/>
<line x1="502.6" y1="112.7" x2="516.7" y2="112.7" stroke="#6a6a6a" stroke-width="0.6"/>
<line x1="502.6" y1="111.2" x2="502.6" y2="114.2" stroke="#6a6a6a" stroke-width="0.5"/>
<rect x="508.8" y="114" width="2.2" height="0.8" fill="#aaa" stroke="none" stroke-width="0.8"/>
<line x1="488.5" y1="94.3" x2="516.7" y2="94.3" stroke="#8f8f8f" stroke-width="0.8"/>
<line x1="516.7" y1="94.3" x2="516.7" y2="118.7" stroke="#8f8f8f" stroke-width="0.8"/>
<line x1="488.5" y1="93.9" x2="488.5" y2="119.1" stroke="#111" stroke-width="0.9"/>
<line x1="488.1" y1="118.7" x2="517.1" y2="118.7" stroke="#111" stroke-width="0.9"/>
<line x1="373" y1="137.9" x2="374.4" y2="137.9" stroke="#444" stroke-width="0.6"/>
<rect x="371.4" y="137.5" width="0.9" height="0.8" fill="#9a9a9a" stroke="none" stroke-width="0.8"/>
<line x1="373" y1="146.03" x2="374.4" y2="146.03" stroke="#444" stroke-width="0.6"/>
<rect x="371.4" y="145.63" width="0.9" height="0.8" fill="#9a9a9a" stroke="none" stroke-width="0.8"/>
<line x1="373" y1="154.17" x2="374.4" y2="154.17" stroke="#444" stroke-width="0.6"/>
<rect x="371.4" y="153.77" width="0.9" height="0.8" fill="#9a9a9a" stroke="none" stroke-width="0.8"/>
<line x1="373" y1="162.3" x2="374.4" y2="162.3" stroke="#444" stroke-width="0.6"/>
<rect x="371.4" y="161.9" width="0.9" height="0.8" fill="#9a9a9a" stroke="none" stroke-width="0.8"/>
<path d="M370.2 147.5h-1.2v4.4h1.2" fill="none" stroke="#8a8a8a" stroke-width="0.6"/>
<line x1="368.8" y1="147.9" x2="368.8" y2="151.5" stroke="#aaa" stroke-width="0.5"/>
<rect x="373.3" y="163.8" width="2" height="1.1" fill="#858585" stroke="none" stroke-width="0.8"/>
<rect x="380.35" y="163.8" width="2" height="1.1" fill="#858585" stroke="none" stroke-width="0.8"/>
<rect x="387.4" y="163.8" width="2" height="1.1" fill="#858585" stroke="none" stroke-width="0.8"/>
<rect x="394.45" y="163.8" width="2" height="1.1" fill="#858585" stroke="none" stroke-width="0.8"/>
<rect x="401.5" y="163.8" width="2" height="1.1" fill="#858585" stroke="none" stroke-width="0.8"/>
<path d="M375 162.3L375 146.68L375.7 145.23L376.4 139.46L377.1 138.63L377.8 138.95L378.5 145.55L379.2 143.43L379.9 143L380.6 138.63L381.3 142.27L382 145.11L382.7 145.84L383.4 151.61L384.1 149.78L384.8 151.88L385.5 155.45L386.2 156.25L386.9 157.35L387.6 157.34L388.3 159.41L389 160.53L389.7 160.32L390.4 160.84L391.1 161.5L391.8 161.63L392.5 161.79L393.2 162.04L393.9 162.11L394.6 162.18L395.3 162.23L396 162.25L396 162.3 Z" fill="#6b6b6b" stroke="#1a1a1a" stroke-width="0.55" stroke-linejoin="round"/>
<line x1="389.91" y1="156.3" x2="402.6" y2="156.3" stroke="#6a6a6a" stroke-width="0.6"/>
<line x1="389.91" y1="154.8" x2="389.91" y2="157.8" stroke="#6a6a6a" stroke-width="0.5"/>
<rect x="394.7" y="157.6" width="2.2" height="0.8" fill="#aaa" stroke="none" stroke-width="0.8"/>
<line x1="374.4" y1="137.9" x2="402.6" y2="137.9" stroke="#8f8f8f" stroke-width="0.8"/>
<line x1="402.6" y1="137.9" x2="402.6" y2="162.3" stroke="#8f8f8f" stroke-width="0.8"/>
<line x1="374.4" y1="137.5" x2="374.4" y2="162.7" stroke="#111" stroke-width="0.9"/>
<line x1="374" y1="162.3" x2="403" y2="162.3" stroke="#111" stroke-width="0.9"/>
<line x1="407.7" y1="137.9" x2="409.1" y2="137.9" stroke="#444" stroke-width="0.6"/>
<rect x="406.1" y="137.5" width="0.9" height="0.8" fill="#9a9a9a" stroke="none" stroke-width="0.8"/>
<line x1="407.7" y1="146.03" x2="409.1" y2="146.03" stroke="#444" stroke-width="0.6"/>
<rect x="406.1" y="145.63" width="0.9" height="0.8" fill="#9a9a9a" stroke="none" stroke-width="0.8"/>
<line x1="407.7" y1="154.17" x2="409.1" y2="154.17" stroke="#444" stroke-width="0.6"/>
<rect x="406.1" y="153.77" width="0.9" height="0.8" fill="#9a9a9a" stroke="none" stroke-width="0.8"/>
<line x1="407.7" y1="162.3" x2="409.1" y2="162.3" stroke="#444" stroke-width="0.6"/>
<rect x="406.1" y="161.9" width="0.9" height="0.8" fill="#9a9a9a" stroke="none" stroke-width="0.8"/>
<path d="M404.9 147.5h-1.2v4.4h1.2" fill="none" stroke="#8a8a8a" stroke-width="0.6"/>
<line x1="403.5" y1="147.9" x2="403.5" y2="151.5" stroke="#aaa" stroke-width="0.5"/>
<rect x="408" y="163.8" width="2" height="1.1" fill="#858585" stroke="none" stroke-width="0.8"/>
<rect x="415.05" y="163.8" width="2" height="1.1" fill="#858585" stroke="none" stroke-width="0.8"/>
<rect x="422.1" y="163.8" width="2" height="1.1" fill="#858585" stroke="none" stroke-width="0.8"/>
<rect x="429.15" y="163.8" width="2" height="1.1" fill="#858585" stroke="none" stroke-width="0.8"/>
<rect x="436.2" y="163.8" width="2" height="1.1" fill="#858585" stroke="none" stroke-width="0.8"/>
<path d="M409.7 162.3L409.7 161.45L410.4 160.6L411.1 160.55L411.8 159.64L412.5 158.8L413.2 157.2L413.9 158.02L414.6 157.18L415.3 158.17L416 157.64L416.7 155.5L417.4 155.12L418.1 153.47L418.8 153.59L419.5 152.36L420.2 153L420.9 152.18L421.6 152.71L422.3 151.65L423 149.69L423.7 148.85L424.4 148.23L425.1 149.33L425.8 149.03L426.5 150.35L427.2 154.91L427.9 151.75L428.6 154.47L429.3 155.67L430 157.63L430.7 158.19L431.4 159.06L432.1 159.6L432.8 159.18L433.5 160.27L434.2 160.38L434.9 160.69L435.6 161.26L435.6 162.3 Z" fill="#6b6b6b" stroke="#1a1a1a" stroke-width="0.55" stroke-linejoin="round"/>
<line x1="428.84" y1="156.3" x2="437.3" y2="156.3" stroke="#6a6a6a" stroke-width="0.6"/>
<line x1="428.84" y1="154.8" x2="428.84" y2="157.8" stroke="#6a6a6a" stroke-width="0.5"/>
<rect x="429.4" y="157.6" width="2.2" height="0.8" fill="#aaa" stroke="none" stroke-width="0.8"/>
<line x1="409.1" y1="137.9" x2="437.3" y2="137.9" stroke="#8f8f8f" stroke-width="0.8"/>
<line x1="437.3" y1="137.9" x2="437.3" y2="162.3" stroke="#8f8f8f" stroke-width="0.8"/>
<line x1="409.1" y1="137.5" x2="409.1" y2="162.7" stroke="#111" stroke-width="0.9"/>
<line x1="408.7" y1="162.3" x2="437.7" y2="162.3" stroke="#111" stroke-width="0.9"/>
<line x1="451.1" y1="137.9" x2="452.5" y2="137.9" stroke="#444" stroke-width="0.6"/>
<rect x="449.5" y="137.5" width="0.9" height="0.8" fill="#9a9a9a" stroke="none" stroke-width="0.8"/>
<line x1="451.1" y1="146.03" x2="452.5" y2="146.03" stroke="#444" stroke-width="0.6"/>
<rect x="449.5" y="145.63" width="0.9" height="0.8" fill="#9a9a9a" stroke="none" stroke-width="0.8"/>
<line x1="451.1" y1="154.17" x2="452.5" y2="154.17" stroke="#444" stroke-width="0.6"/>
<rect x="449.5" y="153.77" width="0.9" height="0.8" fill="#9a9a9a" stroke="none" stroke-width="0.8"/>
<line x1="451.1" y1="162.3" x2="452.5" y2="162.3" stroke="#444" stroke-width="0.6"/>
<rect x="449.5" y="161.9" width="0.9" height="0.8" fill="#9a9a9a" stroke="none" stroke-width="0.8"/>
<path d="M448.3 147.5h-1.2v4.4h1.2" fill="none" stroke="#8a8a8a" stroke-width="0.6"/>
<line x1="446.9" y1="147.9" x2="446.9" y2="151.5" stroke="#aaa" stroke-width="0.5"/>
<rect x="451.4" y="163.8" width="2" height="1.1" fill="#858585" stroke="none" stroke-width="0.8"/>
<rect x="458.45" y="163.8" width="2" height="1.1" fill="#858585" stroke="none" stroke-width="0.8"/>
<rect x="465.5" y="163.8" width="2" height="1.1" fill="#858585" stroke="none" stroke-width="0.8"/>
<rect x="472.55" y="163.8" width="2" height="1.1" fill="#858585" stroke="none" stroke-width="0.8"/>
<rect x="479.6" y="163.8" width="2" height="1.1" fill="#858585" stroke="none" stroke-width="0.8"/>
<path d="M453.1 162.3L453.1 158.53L453.8 157.85L454.5 157.41L455.2 157.02L455.9 156.21L456.6 152.12L457.3 148.45L458 146.24L458.7 148.76L459.4 144.41L460.1 148.72L460.8 148.16L461.5 152.48L462.2 153.44L462.9 155.97L463.6 157.39L464.3 158.91L465 160.09L465.7 160.96L466.4 161.53L467.1 161.91L467.8 162.1L468.5 162.2L469.2 162.25L469.9 162.28L469.9 162.3 Z" fill="#6b6b6b" stroke="#1a1a1a" stroke-width="0.55" stroke-linejoin="round"/>
<line x1="465.19" y1="156.3" x2="480.7" y2="156.3" stroke="#6a6a6a" stroke-width="0.6"/>
<line x1="465.19" y1="154.8" x2="465.19" y2="157.8" stroke="#6a6a6a" stroke-width="0.5"/>
<rect x="472.8" y="157.6" width="2.2" height="0.8" fill="#aaa" stroke="none" stroke-width="0.8"/>
<line x1="452.5" y1="137.9" x2="480.7" y2="137.9" stroke="#8f8f8f" stroke-width="0.8"/>
<line x1="480.7" y1="137.9" x2="480.7" y2="162.3" stroke="#8f8f8f" stroke-width="0.8"/>
<line x1="452.5" y1="137.5" x2="452.5" y2="162.7" stroke="#111" stroke-width="0.9"/>
<line x1="452.1" y1="162.3" x2="481.1" y2="162.3" stroke="#111" stroke-width="0.9"/>
<line x1="487.1" y1="137.9" x2="488.5" y2="137.9" stroke="#444" stroke-width="0.6"/>
<rect x="485.5" y="137.5" width="0.9" height="0.8" fill="#9a9a9a" stroke="none" stroke-width="0.8"/>
<line x1="487.1" y1="146.03" x2="488.5" y2="146.03" stroke="#444" stroke-width="0.6"/>
<rect x="485.5" y="145.63" width="0.9" height="0.8" fill="#9a9a9a" stroke="none" stroke-width="0.8"/>
<line x1="487.1" y1="154.17" x2="488.5" y2="154.17" stroke="#444" stroke-width="0.6"/>
<rect x="485.5" y="153.77" width="0.9" height="0.8" fill="#9a9a9a" stroke="none" stroke-width="0.8"/>
<line x1="487.1" y1="162.3" x2="488.5" y2="162.3" stroke="#444" stroke-width="0.6"/>
<rect x="485.5" y="161.9" width="0.9" height="0.8" fill="#9a9a9a" stroke="none" stroke-width="0.8"/>
<path d="M484.3 147.5h-1.2v4.4h1.2" fill="none" stroke="#8a8a8a" stroke-width="0.6"/>
<line x1="482.9" y1="147.9" x2="482.9" y2="151.5" stroke="#aaa" stroke-width="0.5"/>
<rect x="487.4" y="163.8" width="2" height="1.1" fill="#858585" stroke="none" stroke-width="0.8"/>
<rect x="494.45" y="163.8" width="2" height="1.1" fill="#858585" stroke="none" stroke-width="0.8"/>
<rect x="501.5" y="163.8" width="2" height="1.1" fill="#858585" stroke="none" stroke-width="0.8"/>
<rect x="508.55" y="163.8" width="2" height="1.1" fill="#858585" stroke="none" stroke-width="0.8"/>
<rect x="515.6" y="163.8" width="2" height="1.1" fill="#858585" stroke="none" stroke-width="0.8"/>
<path d="M490.5 162.3L490.5 160.83L491.5 160.83L491.5 158.94L492.5 158.94L492.5 161.16L493.5 161.16L493.5 156.77L494.5 156.77L494.5 156.6L495.5 156.6L495.5 156.91L496.5 156.91L496.5 151.32L497.5 151.32L497.5 147.89L498.5 147.89L498.5 148.22L499.5 148.22L499.5 150.75L500.5 150.75L500.5 156.89L501.5 156.89L501.5 154.36L502.5 154.36L502.5 145.89L503.5 145.89L503.5 148.57L504.5 148.57L504.5 157.33L505.5 157.33L505.5 157.31L506.5 157.31L506.5 154.98L507.5 154.98L507.5 149.57L508.5 149.57L508.5 157.24L509.5 157.24L509.5 149.79L510.5 149.79L510.5 158.06L511.5 158.06L511.5 157.97L512.5 157.97L512.5 159.89L513.5 159.89L513.5 159.82L514.5 159.82L514.5 161.99L515.5 161.99L515.5 160.16L516.5 160.16L516.5 162.3 Z" fill="#6b6b6b" stroke="#1a1a1a" stroke-width="0.55" stroke-linejoin="round"/>
<line x1="511.06" y1="156.3" x2="516.7" y2="156.3" stroke="#6a6a6a" stroke-width="0.6"/>
<line x1="511.06" y1="154.8" x2="511.06" y2="157.8" stroke="#6a6a6a" stroke-width="0.5"/>
<rect x="508.8" y="157.6" width="2.2" height="0.8" fill="#aaa" stroke="none" stroke-width="0.8"/>
<line x1="488.5" y1="137.9" x2="516.7" y2="137.9" stroke="#8f8f8f" stroke-width="0.8"/>
<line x1="516.7" y1="137.9" x2="516.7" y2="162.3" stroke="#8f8f8f" stroke-width="0.8"/>
<line x1="488.5" y1="137.5" x2="488.5" y2="162.7" stroke="#111" stroke-width="0.9"/>
<line x1="488.1" y1="162.3" x2="517.1" y2="162.3" stroke="#111" stroke-width="0.9"/>
<line x1="373" y1="173" x2="374.4" y2="173" stroke="#444" stroke-width="0.6"/>
<rect x="371.4" y="172.6" width="0.9" height="0.8" fill="#9a9a9a" stroke="none" stroke-width="0.8"/>
<line x1="373" y1="181.13" x2="374.4" y2="181.13" stroke="#444" stroke-width="0.6"/>
<rect x="371.4" y="180.73" width="0.9" height="0.8" fill="#9a9a9a" stroke="none" stroke-width="0.8"/>
<line x1="373" y1="189.27" x2="374.4" y2="189.27" stroke="#444" stroke-width="0.6"/>
<rect x="371.4" y="188.87" width="0.9" height="0.8" fill="#9a9a9a" stroke="none" stroke-width="0.8"/>
<line x1="373" y1="197.4" x2="374.4" y2="197.4" stroke="#444" stroke-width="0.6"/>
<rect x="371.4" y="197" width="0.9" height="0.8" fill="#9a9a9a" stroke="none" stroke-width="0.8"/>
<path d="M370.2 182.6h-1.2v4.4h1.2" fill="none" stroke="#8a8a8a" stroke-width="0.6"/>
<line x1="368.8" y1="183" x2="368.8" y2="186.6" stroke="#aaa" stroke-width="0.5"/>
<rect x="373.3" y="198.9" width="2" height="1.1" fill="#858585" stroke="none" stroke-width="0.8"/>
<rect x="380.35" y="198.9" width="2" height="1.1" fill="#858585" stroke="none" stroke-width="0.8"/>
<rect x="387.4" y="198.9" width="2" height="1.1" fill="#858585" stroke="none" stroke-width="0.8"/>
<rect x="394.45" y="198.9" width="2" height="1.1" fill="#858585" stroke="none" stroke-width="0.8"/>
<rect x="401.5" y="198.9" width="2" height="1.1" fill="#858585" stroke="none" stroke-width="0.8"/>
<path d="M375 197.4L375 183.65L375.7 184.52L376.4 182.8L377.1 180.83L377.8 183.49L378.5 178.75L379.2 183.85L379.9 183.25L380.6 180.99L381.3 181.64L382 185.55L382.7 184.49L383.4 186.74L384.1 190.57L384.8 191.96L385.5 191.81L386.2 193.3L386.9 194.05L387.6 195.66L388.3 195.85L389 196.38L389.7 196.67L390.4 196.87L391.1 197.06L391.8 197.23L392.5 197.26L393.2 197.32L393.2 197.4 Z" fill="#6b6b6b" stroke="#1a1a1a" stroke-width="0.55" stroke-linejoin="round"/>
<line x1="386.24" y1="191.4" x2="402.6" y2="191.4" stroke="#6a6a6a" stroke-width="0.6"/>
<line x1="386.24" y1="189.9" x2="386.24" y2="192.9" stroke="#6a6a6a" stroke-width="0.5"/>
<rect x="394.7" y="192.7" width="2.2" height="0.8" fill="#aaa" stroke="none" stroke-width="0.8"/>
<line x1="374.4" y1="173" x2="402.6" y2="173" stroke="#8f8f8f" stroke-width="0.8"/>
<line x1="402.6" y1="173" x2="402.6" y2="197.4" stroke="#8f8f8f" stroke-width="0.8"/>
<line x1="374.4" y1="172.6" x2="374.4" y2="197.8" stroke="#111" stroke-width="0.9"/>
<line x1="374" y1="197.4" x2="403" y2="197.4" stroke="#111" stroke-width="0.9"/>
<line x1="407.7" y1="173" x2="409.1" y2="173" stroke="#444" stroke-width="0.6"/>
<rect x="406.1" y="172.6" width="0.9" height="0.8" fill="#9a9a9a" stroke="none" stroke-width="0.8"/>
<line x1="407.7" y1="181.13" x2="409.1" y2="181.13" stroke="#444" stroke-width="0.6"/>
<rect x="406.1" y="180.73" width="0.9" height="0.8" fill="#9a9a9a" stroke="none" stroke-width="0.8"/>
<line x1="407.7" y1="189.27" x2="409.1" y2="189.27" stroke="#444" stroke-width="0.6"/>
<rect x="406.1" y="188.87" width="0.9" height="0.8" fill="#9a9a9a" stroke="none" stroke-width="0.8"/>
<line x1="407.7" y1="197.4" x2="409.1" y2="197.4" stroke="#444" stroke-width="0.6"/>
<rect x="406.1" y="197" width="0.9" height="0.8" fill="#9a9a9a" stroke="none" stroke-width="0.8"/>
<path d="M404.9 182.6h-1.2v4.4h1.2" fill="none" stroke="#8a8a8a" stroke-width="0.6"/>
<line x1="403.5" y1="183" x2="403.5" y2="186.6" stroke="#aaa" stroke-width="0.5"/>
<rect x="408" y="198.9" width="2" height="1.1" fill="#858585" stroke="none" stroke-width="0.8"/>
<rect x="415.05" y="198.9" width="2" height="1.1" fill="#858585" stroke="none" stroke-width="0.8"/>
<rect x="422.1" y="198.9" width="2" height="1.1" fill="#858585" stroke="none" stroke-width="0.8"/>
<rect x="429.15" y="198.9" width="2" height="1.1" fill="#858585" stroke="none" stroke-width="0.8"/>
<rect x="436.2" y="198.9" width="2" height="1.1" fill="#858585" stroke="none" stroke-width="0.8"/>
<path d="M409.7 197.4L409.7 187.9L410.4 189.43L411.1 185.15L411.8 189.25L412.5 184.58L413.2 187.69L413.9 183.35L414.6 178.48L415.3 175.9L416 173.73L416.7 179.18L417.4 181.25L418.1 181.02L418.8 177.84L419.5 178.42L420.2 185.45L420.9 182.13L421.6 186.38L422.3 188.5L423 186.71L423.7 190.56L424.4 190.41L425.1 192.5L425.8 193.32L426.5 194.31L427.2 193.65L427.9 194.49L428.6 195.17L429.3 195.76L430 196.22L430.7 196.52L431.4 196.71L432.1 196.95L432.8 197.14L432.8 197.4 Z" fill="#6b6b6b" stroke="#1a1a1a" stroke-width="0.55" stroke-linejoin="round"/>
<line x1="426.02" y1="191.4" x2="437.3" y2="191.4" stroke="#6a6a6a" stroke-width="0.6"/>
<line x1="426.02" y1="189.9" x2="426.02" y2="192.9" stroke="#6a6a6a" stroke-width="0.5"/>
<rect x="429.4" y="192.7" width="2.2" height="0.8" fill="#aaa" stroke="none" stroke-width="0.8"/>
<line x1="409.1" y1="173" x2="437.3" y2="173" stroke="#8f8f8f" stroke-width="0.8"/>
<line x1="437.3" y1="173" x2="437.3" y2="197.4" stroke="#8f8f8f" stroke-width="0.8"/>
<line x1="409.1" y1="172.6" x2="409.1" y2="197.8" stroke="#111" stroke-width="0.9"/>
<line x1="408.7" y1="197.4" x2="437.7" y2="197.4" stroke="#111" stroke-width="0.9"/>
<line x1="451.1" y1="173" x2="452.5" y2="173" stroke="#444" stroke-width="0.6"/>
<rect x="449.5" y="172.6" width="0.9" height="0.8" fill="#9a9a9a" stroke="none" stroke-width="0.8"/>
<line x1="451.1" y1="181.13" x2="452.5" y2="181.13" stroke="#444" stroke-width="0.6"/>
<rect x="449.5" y="180.73" width="0.9" height="0.8" fill="#9a9a9a" stroke="none" stroke-width="0.8"/>
<line x1="451.1" y1="189.27" x2="452.5" y2="189.27" stroke="#444" stroke-width="0.6"/>
<rect x="449.5" y="188.87" width="0.9" height="0.8" fill="#9a9a9a" stroke="none" stroke-width="0.8"/>
<line x1="451.1" y1="197.4" x2="452.5" y2="197.4" stroke="#444" stroke-width="0.6"/>
<rect x="449.5" y="197" width="0.9" height="0.8" fill="#9a9a9a" stroke="none" stroke-width="0.8"/>
<path d="M448.3 182.6h-1.2v4.4h1.2" fill="none" stroke="#8a8a8a" stroke-width="0.6"/>
<line x1="446.9" y1="183" x2="446.9" y2="186.6" stroke="#aaa" stroke-width="0.5"/>
<rect x="451.4" y="198.9" width="2" height="1.1" fill="#858585" stroke="none" stroke-width="0.8"/>
<rect x="458.45" y="198.9" width="2" height="1.1" fill="#858585" stroke="none" stroke-width="0.8"/>
<rect x="465.5" y="198.9" width="2" height="1.1" fill="#858585" stroke="none" stroke-width="0.8"/>
<rect x="472.55" y="198.9" width="2" height="1.1" fill="#858585" stroke="none" stroke-width="0.8"/>
<rect x="479.6" y="198.9" width="2" height="1.1" fill="#858585" stroke="none" stroke-width="0.8"/>
<path d="M453.1 197.4L453.1 192.67L453.8 190.03L454.5 187.76L455.2 185.05L455.9 183.12L456.6 178.35L457.3 179.47L458 179.19L458.7 178.38L459.4 176.83L460.1 176.6L460.8 180.43L461.5 184.94L462.2 186.36L462.9 189.12L463.6 190.71L464.3 192.58L465 193.5L465.7 195.14L466.4 195.85L467.1 196.49L467.8 196.98L468.5 197.17L469.2 197.25L469.9 197.35L469.9 197.4 Z" fill="#6b6b6b" stroke="#1a1a1a" stroke-width="0.55" stroke-linejoin="round"/>
<line x1="464.34" y1="191.4" x2="480.7" y2="191.4" stroke="#6a6a6a" stroke-width="0.6"/>
<line x1="464.34" y1="189.9" x2="464.34" y2="192.9" stroke="#6a6a6a" stroke-width="0.5"/>
<rect x="472.8" y="192.7" width="2.2" height="0.8" fill="#aaa" stroke="none" stroke-width="0.8"/>
<line x1="452.5" y1="173" x2="480.7" y2="173" stroke="#8f8f8f" stroke-width="0.8"/>
<line x1="480.7" y1="173" x2="480.7" y2="197.4" stroke="#8f8f8f" stroke-width="0.8"/>
<line x1="452.5" y1="172.6" x2="452.5" y2="197.8" stroke="#111" stroke-width="0.9"/>
<line x1="452.1" y1="197.4" x2="481.1" y2="197.4" stroke="#111" stroke-width="0.9"/>
<line x1="487.1" y1="173" x2="488.5" y2="173" stroke="#444" stroke-width="0.6"/>
<rect x="485.5" y="172.6" width="0.9" height="0.8" fill="#9a9a9a" stroke="none" stroke-width="0.8"/>
<line x1="487.1" y1="181.13" x2="488.5" y2="181.13" stroke="#444" stroke-width="0.6"/>
<rect x="485.5" y="180.73" width="0.9" height="0.8" fill="#9a9a9a" stroke="none" stroke-width="0.8"/>
<line x1="487.1" y1="189.27" x2="488.5" y2="189.27" stroke="#444" stroke-width="0.6"/>
<rect x="485.5" y="188.87" width="0.9" height="0.8" fill="#9a9a9a" stroke="none" stroke-width="0.8"/>
<line x1="487.1" y1="197.4" x2="488.5" y2="197.4" stroke="#444" stroke-width="0.6"/>
<rect x="485.5" y="197" width="0.9" height="0.8" fill="#9a9a9a" stroke="none" stroke-width="0.8"/>
<path d="M484.3 182.6h-1.2v4.4h1.2" fill="none" stroke="#8a8a8a" stroke-width="0.6"/>
<line x1="482.9" y1="183" x2="482.9" y2="186.6" stroke="#aaa" stroke-width="0.5"/>
<rect x="487.4" y="198.9" width="2" height="1.1" fill="#858585" stroke="none" stroke-width="0.8"/>
<rect x="494.45" y="198.9" width="2" height="1.1" fill="#858585" stroke="none" stroke-width="0.8"/>
<rect x="501.5" y="198.9" width="2" height="1.1" fill="#858585" stroke="none" stroke-width="0.8"/>
<rect x="508.55" y="198.9" width="2" height="1.1" fill="#858585" stroke="none" stroke-width="0.8"/>
<rect x="515.6" y="198.9" width="2" height="1.1" fill="#858585" stroke="none" stroke-width="0.8"/>
<path d="M490.5 197.4L490.5 195.95L491.2 195.45L491.9 195.41L492.6 194.74L493.3 194.15L494 192.97L494.7 192.63L495.4 191.86L496.1 190.8L496.8 190.32L497.5 188.78L498.2 189.58L498.9 186.97L499.6 184.35L500.3 183.94L501 184.66L501.7 179.83L502.4 177.86L503.1 180.34L503.8 178.63L504.5 178.39L505.2 180.33L505.9 178.86L506.6 183.22L507.3 187.13L508 189.38L508.7 192.16L509.4 194.68L510.1 195.96L510.8 196.76L511.5 197.15L512.2 197.3L512.2 197.4 Z" fill="#6b6b6b" stroke="#1a1a1a" stroke-width="0.55" stroke-linejoin="round"/>
<line x1="511.06" y1="191.4" x2="516.7" y2="191.4" stroke="#6a6a6a" stroke-width="0.6"/>
<line x1="511.06" y1="189.9" x2="511.06" y2="192.9" stroke="#6a6a6a" stroke-width="0.5"/>
<rect x="508.8" y="192.7" width="2.2" height="0.8" fill="#aaa" stroke="none" stroke-width="0.8"/>
<line x1="488.5" y1="173" x2="516.7" y2="173" stroke="#8f8f8f" stroke-width="0.8"/>
<line x1="516.7" y1="173" x2="516.7" y2="197.4" stroke="#8f8f8f" stroke-width="0.8"/>
<line x1="488.5" y1="172.6" x2="488.5" y2="197.8" stroke="#111" stroke-width="0.9"/>
<line x1="488.1" y1="197.4" x2="517.1" y2="197.4" stroke="#111" stroke-width="0.9"/>
<line x1="373" y1="207.7" x2="374.4" y2="207.7" stroke="#444" stroke-width="0.6"/>
<rect x="371.4" y="207.3" width="0.9" height="0.8" fill="#9a9a9a" stroke="none" stroke-width="0.8"/>
<line x1="373" y1="215.83" x2="374.4" y2="215.83" stroke="#444" stroke-width="0.6"/>
<rect x="371.4" y="215.43" width="0.9" height="0.8" fill="#9a9a9a" stroke="none" stroke-width="0.8"/>
<line x1="373" y1="223.97" x2="374.4" y2="223.97" stroke="#444" stroke-width="0.6"/>
<rect x="371.4" y="223.57" width="0.9" height="0.8" fill="#9a9a9a" stroke="none" stroke-width="0.8"/>
<line x1="373" y1="232.1" x2="374.4" y2="232.1" stroke="#444" stroke-width="0.6"/>
<rect x="371.4" y="231.7" width="0.9" height="0.8" fill="#9a9a9a" stroke="none" stroke-width="0.8"/>
<path d="M370.2 217.3h-1.2v4.4h1.2" fill="none" stroke="#8a8a8a" stroke-width="0.6"/>
<line x1="368.8" y1="217.7" x2="368.8" y2="221.3" stroke="#aaa" stroke-width="0.5"/>
<rect x="373.3" y="233.6" width="2" height="1.1" fill="#858585" stroke="none" stroke-width="0.8"/>
<rect x="380.35" y="233.6" width="2" height="1.1" fill="#858585" stroke="none" stroke-width="0.8"/>
<rect x="387.4" y="233.6" width="2" height="1.1" fill="#858585" stroke="none" stroke-width="0.8"/>
<rect x="394.45" y="233.6" width="2" height="1.1" fill="#858585" stroke="none" stroke-width="0.8"/>
<rect x="401.5" y="233.6" width="2" height="1.1" fill="#858585" stroke="none" stroke-width="0.8"/>
<path d="M375 232.1L375 215.18L375.7 210.59L376.4 215.03L377.1 213.81L377.8 211.72L378.5 214.11L379.2 215.09L379.9 210.88L380.6 215.46L381.3 214.62L382 215.89L382.7 220.73L383.4 221.65L384.1 225.93L384.8 225.58L385.5 228.43L386.2 228.59L386.9 229.94L387.6 230.36L388.3 231.06L389 231.49L389.7 231.77L390.4 231.91L391.1 231.95L391.8 232.02L392.5 232.06L393.2 232.08L393.2 232.1 Z" fill="#6b6b6b" stroke="#1a1a1a" stroke-width="0.55" stroke-linejoin="round"/>
<line x1="386.24" y1="226.1" x2="402.6" y2="226.1" stroke="#6a6a6a" stroke-width="0.6"/>
<line x1="386.24" y1="224.6" x2="386.24" y2="227.6" stroke="#6a6a6a" stroke-width="0.5"/>
<rect x="394.7" y="227.4" width="2.2" height="0.8" fill="#aaa" stroke="none" stroke-width="0.8"/>
<line x1="374.4" y1="207.7" x2="402.6" y2="207.7" stroke="#8f8f8f" stroke-width="0.8"/>
<line x1="402.6" y1="207.7" x2="402.6" y2="232.1" stroke="#8f8f8f" stroke-width="0.8"/>
<line x1="374.4" y1="207.3" x2="374.4" y2="232.5" stroke="#111" stroke-width="0.9"/>
<line x1="374" y1="232.1" x2="403" y2="232.1" stroke="#111" stroke-width="0.9"/>
<line x1="407.7" y1="207.7" x2="409.1" y2="207.7" stroke="#444" stroke-width="0.6"/>
<rect x="406.1" y="207.3" width="0.9" height="0.8" fill="#9a9a9a" stroke="none" stroke-width="0.8"/>
<line x1="407.7" y1="215.83" x2="409.1" y2="215.83" stroke="#444" stroke-width="0.6"/>
<rect x="406.1" y="215.43" width="0.9" height="0.8" fill="#9a9a9a" stroke="none" stroke-width="0.8"/>
<line x1="407.7" y1="223.97" x2="409.1" y2="223.97" stroke="#444" stroke-width="0.6"/>
<rect x="406.1" y="223.57" width="0.9" height="0.8" fill="#9a9a9a" stroke="none" stroke-width="0.8"/>
<line x1="407.7" y1="232.1" x2="409.1" y2="232.1" stroke="#444" stroke-width="0.6"/>
<rect x="406.1" y="231.7" width="0.9" height="0.8" fill="#9a9a9a" stroke="none" stroke-width="0.8"/>
<path d="M404.9 217.3h-1.2v4.4h1.2" fill="none" stroke="#8a8a8a" stroke-width="0.6"/>
<line x1="403.5" y1="217.7" x2="403.5" y2="221.3" stroke="#aaa" stroke-width="0.5"/>
<rect x="408" y="233.6" width="2" height="1.1" fill="#858585" stroke="none" stroke-width="0.8"/>
<rect x="415.05" y="233.6" width="2" height="1.1" fill="#858585" stroke="none" stroke-width="0.8"/>
<rect x="422.1" y="233.6" width="2" height="1.1" fill="#858585" stroke="none" stroke-width="0.8"/>
<rect x="429.15" y="233.6" width="2" height="1.1" fill="#858585" stroke="none" stroke-width="0.8"/>
<rect x="436.2" y="233.6" width="2" height="1.1" fill="#858585" stroke="none" stroke-width="0.8"/>
<path d="M409.7 232.1L409.7 228.44L410.7 228.44L410.7 228.46L411.7 228.46L411.7 223.99L412.7 223.99L412.7 228.03L413.7 228.03L413.7 226.18L414.7 226.18L414.7 223.45L415.7 223.45L415.7 223.45L416.7 223.45L416.7 224.18L417.7 224.18L417.7 217.32L418.7 217.32L418.7 214.82L419.7 214.82L419.7 219.79L420.7 219.79L420.7 230.91L421.7 230.91L421.7 222.56L422.7 222.56L422.7 224.81L423.7 224.81L423.7 229.69L424.7 229.69L424.7 229.26L425.7 229.26L425.7 231.05L426.7 231.05L426.7 231.46L427.7 231.46L427.7 231.59L428.7 231.59L428.7 231.89L429.7 231.89L429.7 231.9L430.7 231.9L430.7 232.1 Z" fill="#6b6b6b" stroke="#1a1a1a" stroke-width="0.55" stroke-linejoin="round"/>
<line x1="426.58" y1="226.1" x2="437.3" y2="226.1" stroke="#6a6a6a" stroke-width="0.6"/>
<line x1="426.58" y1="224.6" x2="426.58" y2="227.6" stroke="#6a6a6a" stroke-width="0.5"/>
<rect x="429.4" y="227.4" width="2.2" height="0.8" fill="#aaa" stroke="none" stroke-width="0.8"/>
<line x1="409.1" y1="207.7" x2="437.3" y2="207.7" stroke="#8f8f8f" stroke-width="0.8"/>
<line x1="437.3" y1="207.7" x2="437.3" y2="232.1" stroke="#8f8f8f" stroke-width="0.8"/>
<line x1="409.1" y1="207.3" x2="409.1" y2="232.5" stroke="#111" stroke-width="0.9"/>
<line x1="408.7" y1="232.1" x2="437.7" y2="232.1" stroke="#111" stroke-width="0.9"/>
<line x1="451.1" y1="207.7" x2="452.5" y2="207.7" stroke="#444" stroke-width="0.6"/>
<rect x="449.5" y="207.3" width="0.9" height="0.8" fill="#9a9a9a" stroke="none" stroke-width="0.8"/>
<line x1="451.1" y1="215.83" x2="452.5" y2="215.83" stroke="#444" stroke-width="0.6"/>
<rect x="449.5" y="215.43" width="0.9" height="0.8" fill="#9a9a9a" stroke="none" stroke-width="0.8"/>
<line x1="451.1" y1="223.97" x2="452.5" y2="223.97" stroke="#444" stroke-width="0.6"/>
<rect x="449.5" y="223.57" width="0.9" height="0.8" fill="#9a9a9a" stroke="none" stroke-width="0.8"/>
<line x1="451.1" y1="232.1" x2="452.5" y2="232.1" stroke="#444" stroke-width="0.6"/>
<rect x="449.5" y="231.7" width="0.9" height="0.8" fill="#9a9a9a" stroke="none" stroke-width="0.8"/>
<path d="M448.3 217.3h-1.2v4.4h1.2" fill="none" stroke="#8a8a8a" stroke-width="0.6"/>
<line x1="446.9" y1="217.7" x2="446.9" y2="221.3" stroke="#aaa" stroke-width="0.5"/>
<rect x="451.4" y="233.6" width="2" height="1.1" fill="#858585" stroke="none" stroke-width="0.8"/>
<rect x="458.45" y="233.6" width="2" height="1.1" fill="#858585" stroke="none" stroke-width="0.8"/>
<rect x="465.5" y="233.6" width="2" height="1.1" fill="#858585" stroke="none" stroke-width="0.8"/>
<rect x="472.55" y="233.6" width="2" height="1.1" fill="#858585" stroke="none" stroke-width="0.8"/>
<rect x="479.6" y="233.6" width="2" height="1.1" fill="#858585" stroke="none" stroke-width="0.8"/>
<path d="M453.1 232.1L453.1 225.85L453.8 225.88L454.5 226.77L455.2 225.38L455.9 224.3L456.6 222.44L457.3 219.17L458 218.33L458.7 220L459.4 217L460.1 218.34L460.8 218.56L461.5 222.18L462.2 221.73L462.9 224.24L463.6 226.71L464.3 227.74L465 229.44L465.7 230.08L466.4 230.57L467.1 231.24L467.8 231.57L468.5 231.73L469.2 231.89L469.9 231.99L470.6 232.05L471.3 232.07L471.3 232.1 Z" fill="#6b6b6b" stroke="#1a1a1a" stroke-width="0.55" stroke-linejoin="round"/>
<line x1="465.19" y1="226.1" x2="480.7" y2="226.1" stroke="#6a6a6a" stroke-width="0.6"/>
<line x1="465.19" y1="224.6" x2="465.19" y2="227.6" stroke="#6a6a6a" stroke-width="0.5"/>
<rect x="472.8" y="227.4" width="2.2" height="0.8" fill="#aaa" stroke="none" stroke-width="0.8"/>
<line x1="452.5" y1="207.7" x2="480.7" y2="207.7" stroke="#8f8f8f" stroke-width="0.8"/>
<line x1="480.7" y1="207.7" x2="480.7" y2="232.1" stroke="#8f8f8f" stroke-width="0.8"/>
<line x1="452.5" y1="207.3" x2="452.5" y2="232.5" stroke="#111" stroke-width="0.9"/>
<line x1="452.1" y1="232.1" x2="481.1" y2="232.1" stroke="#111" stroke-width="0.9"/>
<line x1="487.1" y1="207.7" x2="488.5" y2="207.7" stroke="#444" stroke-width="0.6"/>
<rect x="485.5" y="207.3" width="0.9" height="0.8" fill="#9a9a9a" stroke="none" stroke-width="0.8"/>
<line x1="487.1" y1="215.83" x2="488.5" y2="215.83" stroke="#444" stroke-width="0.6"/>
<rect x="485.5" y="215.43" width="0.9" height="0.8" fill="#9a9a9a" stroke="none" stroke-width="0.8"/>
<line x1="487.1" y1="223.97" x2="488.5" y2="223.97" stroke="#444" stroke-width="0.6"/>
<rect x="485.5" y="223.57" width="0.9" height="0.8" fill="#9a9a9a" stroke="none" stroke-width="0.8"/>
<line x1="487.1" y1="232.1" x2="488.5" y2="232.1" stroke="#444" stroke-width="0.6"/>
<rect x="485.5" y="231.7" width="0.9" height="0.8" fill="#9a9a9a" stroke="none" stroke-width="0.8"/>
<path d="M484.3 217.3h-1.2v4.4h1.2" fill="none" stroke="#8a8a8a" stroke-width="0.6"/>
<line x1="482.9" y1="217.7" x2="482.9" y2="221.3" stroke="#aaa" stroke-width="0.5"/>
<rect x="487.4" y="233.6" width="2" height="1.1" fill="#858585" stroke="none" stroke-width="0.8"/>
<rect x="494.45" y="233.6" width="2" height="1.1" fill="#858585" stroke="none" stroke-width="0.8"/>
<rect x="501.5" y="233.6" width="2" height="1.1" fill="#858585" stroke="none" stroke-width="0.8"/>
<rect x="508.55" y="233.6" width="2" height="1.1" fill="#858585" stroke="none" stroke-width="0.8"/>
<rect x="515.6" y="233.6" width="2" height="1.1" fill="#858585" stroke="none" stroke-width="0.8"/>
<path d="M490.5 232.1L490.5 231.03L491.5 231.03L491.5 224.73L492.5 224.73L492.5 227.8L493.5 227.8L493.5 226.09L494.5 226.09L494.5 225.77L495.5 225.77L495.5 226.89L496.5 226.89L496.5 217.46L497.5 217.46L497.5 223.34L498.5 223.34L498.5 221.79L499.5 221.79L499.5 229.31L500.5 229.31L500.5 221.97L501.5 221.97L501.5 213.83L502.5 213.83L502.5 228.88L503.5 228.88L503.5 215.32L504.5 215.32L504.5 225.89L505.5 225.89L505.5 225.7L506.5 225.7L506.5 218.01L507.5 218.01L507.5 225.29L508.5 225.29L508.5 230.34L509.5 230.34L509.5 218.84L510.5 218.84L510.5 222.19L511.5 222.19L511.5 228.5L512.5 228.5L512.5 230.12L513.5 230.12L513.5 230.42L514.5 230.42L514.5 232.1 Z" fill="#6b6b6b" stroke="#1a1a1a" stroke-width="0.55" stroke-linejoin="round"/>
<line x1="511.06" y1="226.1" x2="516.7" y2="226.1" stroke="#6a6a6a" stroke-width="0.6"/>
<line x1="511.06" y1="224.6" x2="511.06" y2="227.6" stroke="#6a6a6a" stroke-width="0.5"/>
<rect x="508.8" y="227.4" width="2.2" height="0.8" fill="#aaa" stroke="none" stroke-width="0.8"/>
<line x1="488.5" y1="207.7" x2="516.7" y2="207.7" stroke="#8f8f8f" stroke-width="0.8"/>
<line x1="516.7" y1="207.7" x2="516.7" y2="232.1" stroke="#8f8f8f" stroke-width="0.8"/>
<line x1="488.5" y1="207.3" x2="488.5" y2="232.5" stroke="#111" stroke-width="0.9"/>
<line x1="488.1" y1="232.1" x2="517.1" y2="232.1" stroke="#111" stroke-width="0.9"/>
<line x1="373" y1="251.4" x2="374.4" y2="251.4" stroke="#444" stroke-width="0.6"/>
<rect x="371.4" y="251" width="0.9" height="0.8" fill="#9a9a9a" stroke="none" stroke-width="0.8"/>
<line x1="373" y1="259.53" x2="374.4" y2="259.53" stroke="#444" stroke-width="0.6"/>
<rect x="371.4" y="259.13" width="0.9" height="0.8" fill="#9a9a9a" stroke="none" stroke-width="0.8"/>
<line x1="373" y1="267.67" x2="374.4" y2="267.67" stroke="#444" stroke-width="0.6"/>
<rect x="371.4" y="267.27" width="0.9" height="0.8" fill="#9a9a9a" stroke="none" stroke-width="0.8"/>
<line x1="373" y1="275.8" x2="374.4" y2="275.8" stroke="#444" stroke-width="0.6"/>
<rect x="371.4" y="275.4" width="0.9" height="0.8" fill="#9a9a9a" stroke="none" stroke-width="0.8"/>
<path d="M370.2 261h-1.2v4.4h1.2" fill="none" stroke="#8a8a8a" stroke-width="0.6"/>
<line x1="368.8" y1="261.4" x2="368.8" y2="265" stroke="#aaa" stroke-width="0.5"/>
<rect x="373.3" y="277.3" width="2" height="1.1" fill="#858585" stroke="none" stroke-width="0.8"/>
<rect x="380.35" y="277.3" width="2" height="1.1" fill="#858585" stroke="none" stroke-width="0.8"/>
<rect x="387.4" y="277.3" width="2" height="1.1" fill="#858585" stroke="none" stroke-width="0.8"/>
<rect x="394.45" y="277.3" width="2" height="1.1" fill="#858585" stroke="none" stroke-width="0.8"/>
<rect x="401.5" y="277.3" width="2" height="1.1" fill="#858585" stroke="none" stroke-width="0.8"/>
<path d="M375 275.8L375 271.99L376.2 271.99L376.2 268.16L377.4 268.16L377.4 271.36L378.6 271.36L378.6 269.67L379.8 269.67L379.8 270.2L381 270.2L381 264.1L382.2 264.1L382.2 264.98L383.4 264.98L383.4 274.44L384.6 274.44L384.6 270.7L385.8 270.7L385.8 270.81L387 270.81L387 271.56L388.2 271.56L388.2 266.89L389.4 266.89L389.4 272.96L390.6 272.96L390.6 271.9L391.8 271.9L391.8 269.51L393 269.51L393 275.16L394.2 275.16L394.2 274.19L395.4 274.19L395.4 274.25L396.6 274.25L396.6 274.73L397.8 274.73L397.8 275.15L399 275.15L399 275.8 Z" fill="#6b6b6b" stroke="#1a1a1a" stroke-width="0.55" stroke-linejoin="round"/>
<line x1="396.96" y1="269.8" x2="402.6" y2="269.8" stroke="#6a6a6a" stroke-width="0.6"/>
<line x1="396.96" y1="268.3" x2="396.96" y2="271.3" stroke="#6a6a6a" stroke-width="0.5"/>
<rect x="394.7" y="271.1" width="2.2" height="0.8" fill="#aaa" stroke="none" stroke-width="0.8"/>
<line x1="374.4" y1="251.4" x2="402.6" y2="251.4" stroke="#8f8f8f" stroke-width="0.8"/>
<line x1="402.6" y1="251.4" x2="402.6" y2="275.8" stroke="#8f8f8f" stroke-width="0.8"/>
<line x1="374.4" y1="251" x2="374.4" y2="276.2" stroke="#111" stroke-width="0.9"/>
<line x1="374" y1="275.8" x2="403" y2="275.8" stroke="#111" stroke-width="0.9"/>
<line x1="407.7" y1="251.4" x2="409.1" y2="251.4" stroke="#444" stroke-width="0.6"/>
<rect x="406.1" y="251" width="0.9" height="0.8" fill="#9a9a9a" stroke="none" stroke-width="0.8"/>
<line x1="407.7" y1="259.53" x2="409.1" y2="259.53" stroke="#444" stroke-width="0.6"/>
<rect x="406.1" y="259.13" width="0.9" height="0.8" fill="#9a9a9a" stroke="none" stroke-width="0.8"/>
<line x1="407.7" y1="267.67" x2="409.1" y2="267.67" stroke="#444" stroke-width="0.6"/>
<rect x="406.1" y="267.27" width="0.9" height="0.8" fill="#9a9a9a" stroke="none" stroke-width="0.8"/>
<line x1="407.7" y1="275.8" x2="409.1" y2="275.8" stroke="#444" stroke-width="0.6"/>
<rect x="406.1" y="275.4" width="0.9" height="0.8" fill="#9a9a9a" stroke="none" stroke-width="0.8"/>
<path d="M404.9 261h-1.2v4.4h1.2" fill="none" stroke="#8a8a8a" stroke-width="0.6"/>
<line x1="403.5" y1="261.4" x2="403.5" y2="265" stroke="#aaa" stroke-width="0.5"/>
<rect x="408" y="277.3" width="2" height="1.1" fill="#858585" stroke="none" stroke-width="0.8"/>
<rect x="415.05" y="277.3" width="2" height="1.1" fill="#858585" stroke="none" stroke-width="0.8"/>
<rect x="422.1" y="277.3" width="2" height="1.1" fill="#858585" stroke="none" stroke-width="0.8"/>
<rect x="429.15" y="277.3" width="2" height="1.1" fill="#858585" stroke="none" stroke-width="0.8"/>
<rect x="436.2" y="277.3" width="2" height="1.1" fill="#858585" stroke="none" stroke-width="0.8"/>
<path d="M409.7 275.8L409.7 274.22L410.7 274.22L410.7 269.9L411.7 269.9L411.7 272.95L412.7 272.95L412.7 271.78L413.7 271.78L413.7 271.7L414.7 271.7L414.7 264.22L415.7 264.22L415.7 270.27L416.7 270.27L416.7 263.38L417.7 263.38L417.7 268.32L418.7 268.32L418.7 268.37L419.7 268.37L419.7 267.16L420.7 267.16L420.7 267.23L421.7 267.23L421.7 274.5L422.7 274.5L422.7 273.59L423.7 273.59L423.7 269.43L424.7 269.43L424.7 273.55L425.7 273.55L425.7 263.07L426.7 263.07L426.7 269.83L427.7 269.83L427.7 266.22L428.7 266.22L428.7 271.51L429.7 271.51L429.7 268.18L430.7 268.18L430.7 272.67L431.7 272.67L431.7 273.76L432.7 273.76L432.7 275.8 Z" fill="#6b6b6b" stroke="#1a1a1a" stroke-width="0.55" stroke-linejoin="round"/>
<line x1="431.66" y1="269.8" x2="437.3" y2="269.8" stroke="#6a6a6a" stroke-width="0.6"/>
<line x1="431.66" y1="268.3" x2="431.66" y2="271.3" stroke="#6a6a6a" stroke-width="0.5"/>
<rect x="429.4" y="271.1" width="2.2" height="0.8" fill="#aaa" stroke="none" stroke-width="0.8"/>
<line x1="409.1" y1="251.4" x2="437.3" y2="251.4" stroke="#8f8f8f" stroke-width="0.8"/>
<line x1="437.3" y1="251.4" x2="437.3" y2="275.8" stroke="#8f8f8f" stroke-width="0.8"/>
<line x1="409.1" y1="251" x2="409.1" y2="276.2" stroke="#111" stroke-width="0.9"/>
<line x1="408.7" y1="275.8" x2="437.7" y2="275.8" stroke="#111" stroke-width="0.9"/>
<line x1="451.1" y1="251.4" x2="452.5" y2="251.4" stroke="#444" stroke-width="0.6"/>
<rect x="449.5" y="251" width="0.9" height="0.8" fill="#9a9a9a" stroke="none" stroke-width="0.8"/>
<line x1="451.1" y1="259.53" x2="452.5" y2="259.53" stroke="#444" stroke-width="0.6"/>
<rect x="449.5" y="259.13" width="0.9" height="0.8" fill="#9a9a9a" stroke="none" stroke-width="0.8"/>
<line x1="451.1" y1="267.67" x2="452.5" y2="267.67" stroke="#444" stroke-width="0.6"/>
<rect x="449.5" y="267.27" width="0.9" height="0.8" fill="#9a9a9a" stroke="none" stroke-width="0.8"/>
<line x1="451.1" y1="275.8" x2="452.5" y2="275.8" stroke="#444" stroke-width="0.6"/>
<rect x="449.5" y="275.4" width="0.9" height="0.8" fill="#9a9a9a" stroke="none" stroke-width="0.8"/>
<path d="M448.3 261h-1.2v4.4h1.2" fill="none" stroke="#8a8a8a" stroke-width="0.6"/>
<line x1="446.9" y1="261.4" x2="446.9" y2="265" stroke="#aaa" stroke-width="0.5"/>
<rect x="451.4" y="277.3" width="2" height="1.1" fill="#858585" stroke="none" stroke-width="0.8"/>
<rect x="458.45" y="277.3" width="2" height="1.1" fill="#858585" stroke="none" stroke-width="0.8"/>
<rect x="465.5" y="277.3" width="2" height="1.1" fill="#858585" stroke="none" stroke-width="0.8"/>
<rect x="472.55" y="277.3" width="2" height="1.1" fill="#858585" stroke="none" stroke-width="0.8"/>
<rect x="479.6" y="277.3" width="2" height="1.1" fill="#858585" stroke="none" stroke-width="0.8"/>
<path d="M453.1 275.8L453.1 266.06L453.9 266.06L453.9 266.86L454.7 266.86L454.7 270.65L455.5 270.65L455.5 271.27L456.3 271.27L456.3 271.04L457.1 271.04L457.1 274.37L457.9 274.37L457.9 271.15L458.7 271.15L458.7 268.86L459.5 268.86L459.5 270.83L460.3 270.83L460.3 264.1L461.1 264.1L461.1 270.03L461.9 270.03L461.9 270.58L462.7 270.58L462.7 272.32L463.5 272.32L463.5 272.49L464.3 272.49L464.3 275.25L465.1 275.25L465.1 272.56L465.9 272.56L465.9 275.04L466.7 275.04L466.7 271.6L467.5 271.6L467.5 271.03L468.3 271.03L468.3 274.42L469.1 274.42L469.1 274.43L469.9 274.43L469.9 275.17L470.7 275.17L470.7 274.96L471.5 274.96L471.5 275.8 Z" fill="#6b6b6b" stroke="#1a1a1a" stroke-width="0.55" stroke-linejoin="round"/>
<line x1="468.01" y1="269.8" x2="480.7" y2="269.8" stroke="#6a6a6a" stroke-width="0.6"/>
<line x1="468.01" y1="268.3" x2="468.01" y2="271.3" stroke="#6a6a6a" stroke-width="0.5"/>
<rect x="472.8" y="271.1" width="2.2" height="0.8" fill="#aaa" stroke="none" stroke-width="0.8"/>
<line x1="452.5" y1="251.4" x2="480.7" y2="251.4" stroke="#8f8f8f" stroke-width="0.8"/>
<line x1="480.7" y1="251.4" x2="480.7" y2="275.8" stroke="#8f8f8f" stroke-width="0.8"/>
<line x1="452.5" y1="251" x2="452.5" y2="276.2" stroke="#111" stroke-width="0.9"/>
<line x1="452.1" y1="275.8" x2="481.1" y2="275.8" stroke="#111" stroke-width="0.9"/>
<line x1="487.1" y1="251.4" x2="488.5" y2="251.4" stroke="#444" stroke-width="0.6"/>
<rect x="485.5" y="251" width="0.9" height="0.8" fill="#9a9a9a" stroke="none" stroke-width="0.8"/>
<line x1="487.1" y1="259.53" x2="488.5" y2="259.53" stroke="#444" stroke-width="0.6"/>
<rect x="485.5" y="259.13" width="0.9" height="0.8" fill="#9a9a9a" stroke="none" stroke-width="0.8"/>
<line x1="487.1" y1="267.67" x2="488.5" y2="267.67" stroke="#444" stroke-width="0.6"/>
<rect x="485.5" y="267.27" width="0.9" height="0.8" fill="#9a9a9a" stroke="none" stroke-width="0.8"/>
<line x1="487.1" y1="275.8" x2="488.5" y2="275.8" stroke="#444" stroke-width="0.6"/>
<rect x="485.5" y="275.4" width="0.9" height="0.8" fill="#9a9a9a" stroke="none" stroke-width="0.8"/>
<path d="M484.3 261h-1.2v4.4h1.2" fill="none" stroke="#8a8a8a" stroke-width="0.6"/>
<line x1="482.9" y1="261.4" x2="482.9" y2="265" stroke="#aaa" stroke-width="0.5"/>
<rect x="487.4" y="277.3" width="2" height="1.1" fill="#858585" stroke="none" stroke-width="0.8"/>
<rect x="494.45" y="277.3" width="2" height="1.1" fill="#858585" stroke="none" stroke-width="0.8"/>
<rect x="501.5" y="277.3" width="2" height="1.1" fill="#858585" stroke="none" stroke-width="0.8"/>
<rect x="508.55" y="277.3" width="2" height="1.1" fill="#858585" stroke="none" stroke-width="0.8"/>
<rect x="515.6" y="277.3" width="2" height="1.1" fill="#858585" stroke="none" stroke-width="0.8"/>
<path d="M490.5 275.8L490.5 274.87L491.5 274.87L491.5 274.38L492.5 274.38L492.5 274.14L493.5 274.14L493.5 275.24L494.5 275.24L494.5 270.4L495.5 270.4L495.5 270.15L496.5 270.15L496.5 266.35L497.5 266.35L497.5 271.33L498.5 271.33L498.5 266.31L499.5 266.31L499.5 272.02L500.5 272.02L500.5 265.28L501.5 265.28L501.5 272.3L502.5 272.3L502.5 265.09L503.5 265.09L503.5 272.01L504.5 272.01L504.5 272.35L505.5 272.35L505.5 273.07L506.5 273.07L506.5 271.96L507.5 271.96L507.5 271.51L508.5 271.51L508.5 273.46L509.5 273.46L509.5 270.04L510.5 270.04L510.5 267.57L511.5 267.57L511.5 272.3L512.5 272.3L512.5 275.15L513.5 275.15L513.5 274.04L514.5 274.04L514.5 275.18L515.5 275.18L515.5 275.8 Z" fill="#6b6b6b" stroke="#1a1a1a" stroke-width="0.55" stroke-linejoin="round"/>
<line x1="512.47" y1="269.8" x2="516.7" y2="269.8" stroke="#6a6a6a" stroke-width="0.6"/>
<line x1="512.47" y1="268.3" x2="512.47" y2="271.3" stroke="#6a6a6a" stroke-width="0.5"/>
<rect x="508.8" y="271.1" width="2.2" height="0.8" fill="#aaa" stroke="none" stroke-width="0.8"/>
<line x1="488.5" y1="251.4" x2="516.7" y2="251.4" stroke="#8f8f8f" stroke-width="0.8"/>
<line x1="516.7" y1="251.4" x2="516.7" y2="275.8" stroke="#8f8f8f" stroke-width="0.8"/>
<line x1="488.5" y1="251" x2="488.5" y2="276.2" stroke="#111" stroke-width="0.9"/>
<line x1="488.1" y1="275.8" x2="517.1" y2="275.8" stroke="#111" stroke-width="0.9"/>
<line x1="373" y1="286.8" x2="374.4" y2="286.8" stroke="#444" stroke-width="0.6"/>
<rect x="371.4" y="286.4" width="0.9" height="0.8" fill="#9a9a9a" stroke="none" stroke-width="0.8"/>
<line x1="373" y1="294.93" x2="374.4" y2="294.93" stroke="#444" stroke-width="0.6"/>
<rect x="371.4" y="294.53" width="0.9" height="0.8" fill="#9a9a9a" stroke="none" stroke-width="0.8"/>
<line x1="373" y1="303.07" x2="374.4" y2="303.07" stroke="#444" stroke-width="0.6"/>
<rect x="371.4" y="302.67" width="0.9" height="0.8" fill="#9a9a9a" stroke="none" stroke-width="0.8"/>
<line x1="373" y1="311.2" x2="374.4" y2="311.2" stroke="#444" stroke-width="0.6"/>
<rect x="371.4" y="310.8" width="0.9" height="0.8" fill="#9a9a9a" stroke="none" stroke-width="0.8"/>
<path d="M370.2 296.4h-1.2v4.4h1.2" fill="none" stroke="#8a8a8a" stroke-width="0.6"/>
<line x1="368.8" y1="296.8" x2="368.8" y2="300.4" stroke="#aaa" stroke-width="0.5"/>
<rect x="373.3" y="312.7" width="2" height="1.1" fill="#858585" stroke="none" stroke-width="0.8"/>
<rect x="380.35" y="312.7" width="2" height="1.1" fill="#858585" stroke="none" stroke-width="0.8"/>
<rect x="387.4" y="312.7" width="2" height="1.1" fill="#858585" stroke="none" stroke-width="0.8"/>
<rect x="394.45" y="312.7" width="2" height="1.1" fill="#858585" stroke="none" stroke-width="0.8"/>
<rect x="401.5" y="312.7" width="2" height="1.1" fill="#858585" stroke="none" stroke-width="0.8"/>
<path d="M375 311.2L375 308.36L375.7 305.25L376.4 302.24L377.1 299.43L377.8 296.41L378.5 294.22L379.2 295.4L379.9 289.12L380.6 297.1L381.3 289.94L382 296.34L382.7 296.1L383.4 297.42L384.1 298.54L384.8 303.08L385.5 300.24L386.2 303.14L386.9 305.23L387.6 305.17L388.3 306.77L389 307.41L389.7 308.3L390.4 308.01L391.1 309.11L391.8 308.94L392.5 309.25L393.2 309.59L393.9 310.04L394.6 310.44L395.3 310.42L396 310.75L396.7 310.78L397.4 310.94L398.1 310.98L398.8 310.99L398.8 311.2 Z" fill="#6b6b6b" stroke="#1a1a1a" stroke-width="0.55" stroke-linejoin="round"/>
<line x1="389.91" y1="305.2" x2="402.6" y2="305.2" stroke="#6a6a6a" stroke-width="0.6"/>
<line x1="389.91" y1="303.7" x2="389.91" y2="306.7" stroke="#6a6a6a" stroke-width="0.5"/>
<rect x="394.7" y="306.5" width="2.2" height="0.8" fill="#aaa" stroke="none" stroke-width="0.8"/>
<line x1="374.4" y1="286.8" x2="402.6" y2="286.8" stroke="#8f8f8f" stroke-width="0.8"/>
<line x1="402.6" y1="286.8" x2="402.6" y2="311.2" stroke="#8f8f8f" stroke-width="0.8"/>
<line x1="374.4" y1="286.4" x2="374.4" y2="311.6" stroke="#111" stroke-width="0.9"/>
<line x1="374" y1="311.2" x2="403" y2="311.2" stroke="#111" stroke-width="0.9"/>
<line x1="407.7" y1="286.8" x2="409.1" y2="286.8" stroke="#444" stroke-width="0.6"/>
<rect x="406.1" y="286.4" width="0.9" height="0.8" fill="#9a9a9a" stroke="none" stroke-width="0.8"/>
<line x1="407.7" y1="294.93" x2="409.1" y2="294.93" stroke="#444" stroke-width="0.6"/>
<rect x="406.1" y="294.53" width="0.9" height="0.8" fill="#9a9a9a" stroke="none" stroke-width="0.8"/>
<line x1="407.7" y1="303.07" x2="409.1" y2="303.07" stroke="#444" stroke-width="0.6"/>
<rect x="406.1" y="302.67" width="0.9" height="0.8" fill="#9a9a9a" stroke="none" stroke-width="0.8"/>
<line x1="407.7" y1="311.2" x2="409.1" y2="311.2" stroke="#444" stroke-width="0.6"/>
<rect x="406.1" y="310.8" width="0.9" height="0.8" fill="#9a9a9a" stroke="none" stroke-width="0.8"/>
<path d="M404.9 296.4h-1.2v4.4h1.2" fill="none" stroke="#8a8a8a" stroke-width="0.6"/>
<line x1="403.5" y1="296.8" x2="403.5" y2="300.4" stroke="#aaa" stroke-width="0.5"/>
<rect x="408" y="312.7" width="2" height="1.1" fill="#858585" stroke="none" stroke-width="0.8"/>
<rect x="415.05" y="312.7" width="2" height="1.1" fill="#858585" stroke="none" stroke-width="0.8"/>
<rect x="422.1" y="312.7" width="2" height="1.1" fill="#858585" stroke="none" stroke-width="0.8"/>
<rect x="429.15" y="312.7" width="2" height="1.1" fill="#858585" stroke="none" stroke-width="0.8"/>
<rect x="436.2" y="312.7" width="2" height="1.1" fill="#858585" stroke="none" stroke-width="0.8"/>
<path d="M409.7 311.2L409.7 309.93L410.4 309.55L411.1 308.2L411.8 308.98L412.5 307.07L413.2 305.06L413.9 303.98L414.6 306.38L415.3 302.11L416 305.03L416.7 305.66L417.4 305.86L418.1 302.08L418.8 302.52L419.5 302.15L420.2 302.98L420.9 303.41L421.6 304.13L422.3 306.1L423 306.51L423.7 306.71L424.4 304.47L425.1 302.91L425.8 305.75L426.5 304.88L427.2 304.26L427.9 305.18L428.6 306.18L429.3 307.62L430 308L430.7 308.97L431.4 309.15L432.1 310.16L432.8 310.45L433.5 310.78L433.5 311.2 Z" fill="#6b6b6b" stroke="#1a1a1a" stroke-width="0.55" stroke-linejoin="round"/>
<line x1="428.84" y1="305.2" x2="437.3" y2="305.2" stroke="#6a6a6a" stroke-width="0.6"/>
<line x1="428.84" y1="303.7" x2="428.84" y2="306.7" stroke="#6a6a6a" stroke-width="0.5"/>
<rect x="429.4" y="306.5" width="2.2" height="0.8" fill="#aaa" stroke="none" stroke-width="0.8"/>
<line x1="409.1" y1="286.8" x2="437.3" y2="286.8" stroke="#8f8f8f" stroke-width="0.8"/>
<line x1="437.3" y1="286.8" x2="437.3" y2="311.2" stroke="#8f8f8f" stroke-width="0.8"/>
<line x1="409.1" y1="286.4" x2="409.1" y2="311.6" stroke="#111" stroke-width="0.9"/>
<line x1="408.7" y1="311.2" x2="437.7" y2="311.2" stroke="#111" stroke-width="0.9"/>
<line x1="451.1" y1="286.8" x2="452.5" y2="286.8" stroke="#444" stroke-width="0.6"/>
<rect x="449.5" y="286.4" width="0.9" height="0.8" fill="#9a9a9a" stroke="none" stroke-width="0.8"/>
<line x1="451.1" y1="294.93" x2="452.5" y2="294.93" stroke="#444" stroke-width="0.6"/>
<rect x="449.5" y="294.53" width="0.9" height="0.8" fill="#9a9a9a" stroke="none" stroke-width="0.8"/>
<line x1="451.1" y1="303.07" x2="452.5" y2="303.07" stroke="#444" stroke-width="0.6"/>
<rect x="449.5" y="302.67" width="0.9" height="0.8" fill="#9a9a9a" stroke="none" stroke-width="0.8"/>
<line x1="451.1" y1="311.2" x2="452.5" y2="311.2" stroke="#444" stroke-width="0.6"/>
<rect x="449.5" y="310.8" width="0.9" height="0.8" fill="#9a9a9a" stroke="none" stroke-width="0.8"/>
<path d="M448.3 296.4h-1.2v4.4h1.2" fill="none" stroke="#8a8a8a" stroke-width="0.6"/>
<line x1="446.9" y1="296.8" x2="446.9" y2="300.4" stroke="#aaa" stroke-width="0.5"/>
<rect x="451.4" y="312.7" width="2" height="1.1" fill="#858585" stroke="none" stroke-width="0.8"/>
<rect x="458.45" y="312.7" width="2" height="1.1" fill="#858585" stroke="none" stroke-width="0.8"/>
<rect x="465.5" y="312.7" width="2" height="1.1" fill="#858585" stroke="none" stroke-width="0.8"/>
<rect x="472.55" y="312.7" width="2" height="1.1" fill="#858585" stroke="none" stroke-width="0.8"/>
<rect x="479.6" y="312.7" width="2" height="1.1" fill="#858585" stroke="none" stroke-width="0.8"/>
<path d="M453.1 311.2L453.1 300.56L453.8 298.9L454.5 293.56L455.2 293.49L455.9 289.69L456.6 291.82L457.3 291.06L458 287.53L458.7 290.42L459.4 290.15L460.1 297.31L460.8 291.53L461.5 295.82L462.2 300.77L462.9 300.29L463.6 299.38L464.3 304.66L465 305.57L465.7 306.12L466.4 307.41L467.1 308.64L467.8 308.48L468.5 309.25L469.2 309.84L469.9 310.07L470.6 310.59L471.3 310.78L472 310.91L472.7 311.02L473.4 311.11L474.1 311.13L474.1 311.2 Z" fill="#6b6b6b" stroke="#1a1a1a" stroke-width="0.55" stroke-linejoin="round"/>
<line x1="468.01" y1="305.2" x2="480.7" y2="305.2" stroke="#6a6a6a" stroke-width="0.6"/>
<line x1="468.01" y1="303.7" x2="468.01" y2="306.7" stroke="#6a6a6a" stroke-width="0.5"/>
<rect x="472.8" y="306.5" width="2.2" height="0.8" fill="#aaa" stroke="none" stroke-width="0.8"/>
<line x1="452.5" y1="286.8" x2="480.7" y2="286.8" stroke="#8f8f8f" stroke-width="0.8"/>
<line x1="480.7" y1="286.8" x2="480.7" y2="311.2" stroke="#8f8f8f" stroke-width="0.8"/>
<line x1="452.5" y1="286.4" x2="452.5" y2="311.6" stroke="#111" stroke-width="0.9"/>
<line x1="452.1" y1="311.2" x2="481.1" y2="311.2" stroke="#111" stroke-width="0.9"/>
<line x1="487.1" y1="286.8" x2="488.5" y2="286.8" stroke="#444" stroke-width="0.6"/>
<rect x="485.5" y="286.4" width="0.9" height="0.8" fill="#9a9a9a" stroke="none" stroke-width="0.8"/>
<line x1="487.1" y1="294.93" x2="488.5" y2="294.93" stroke="#444" stroke-width="0.6"/>
<rect x="485.5" y="294.53" width="0.9" height="0.8" fill="#9a9a9a" stroke="none" stroke-width="0.8"/>
<line x1="487.1" y1="303.07" x2="488.5" y2="303.07" stroke="#444" stroke-width="0.6"/>
<rect x="485.5" y="302.67" width="0.9" height="0.8" fill="#9a9a9a" stroke="none" stroke-width="0.8"/>
<line x1="487.1" y1="311.2" x2="488.5" y2="311.2" stroke="#444" stroke-width="0.6"/>
<rect x="485.5" y="310.8" width="0.9" height="0.8" fill="#9a9a9a" stroke="none" stroke-width="0.8"/>
<path d="M484.3 296.4h-1.2v4.4h1.2" fill="none" stroke="#8a8a8a" stroke-width="0.6"/>
<line x1="482.9" y1="296.8" x2="482.9" y2="300.4" stroke="#aaa" stroke-width="0.5"/>
<rect x="487.4" y="312.7" width="2" height="1.1" fill="#858585" stroke="none" stroke-width="0.8"/>
<rect x="494.45" y="312.7" width="2" height="1.1" fill="#858585" stroke="none" stroke-width="0.8"/>
<rect x="501.5" y="312.7" width="2" height="1.1" fill="#858585" stroke="none" stroke-width="0.8"/>
<rect x="508.55" y="312.7" width="2" height="1.1" fill="#858585" stroke="none" stroke-width="0.8"/>
<rect x="515.6" y="312.7" width="2" height="1.1" fill="#858585" stroke="none" stroke-width="0.8"/>
<path d="M489.5 311.2L489.5 310.98L490.2 310.76L490.9 310.47L491.6 310.12L492.3 309.8L493 309.44L493.7 308.31L494.4 308.31L495.1 307.19L495.8 307.32L496.5 307.6L497.2 305.11L497.9 303.46L498.6 304L499.3 301.86L500 302.16L500.7 300.68L501.4 296.26L502.1 293.4L502.8 298.41L503.5 289.82L504.2 296.18L504.9 299.47L505.6 299.84L506.3 302.95L507 305.5L507.7 307.29L508.4 309.32L509.1 309.73L509.8 310.5L510.5 310.93L511.2 311.07L511.9 311.13L511.9 311.2 Z" fill="#6b6b6b" stroke="#1a1a1a" stroke-width="0.55" stroke-linejoin="round"/>
<line x1="498.37" y1="305.2" x2="516.7" y2="305.2" stroke="#6a6a6a" stroke-width="0.6"/>
<line x1="498.37" y1="303.7" x2="498.37" y2="306.7" stroke="#6a6a6a" stroke-width="0.5"/>
<rect x="508.8" y="306.5" width="2.2" height="0.8" fill="#aaa" stroke="none" stroke-width="0.8"/>
<line x1="488.5" y1="286.8" x2="516.7" y2="286.8" stroke="#8f8f8f" stroke-width="0.8"/>
<line x1="516.7" y1="286.8" x2="516.7" y2="311.2" stroke="#8f8f8f" stroke-width="0.8"/>
<line x1="488.5" y1="286.4" x2="488.5" y2="311.6" stroke="#111" stroke-width="0.9"/>
<line x1="488.1" y1="311.2" x2="517.1" y2="311.2" stroke="#111" stroke-width="0.9"/>
<text x="388.39" y="29.9" font-size="7" text-anchor="start" font-weight="bold" fill="#000" stroke="#000" stroke-width="0.34">44%</text>
<text x="423.09" y="29.9" font-size="7" text-anchor="start" font-weight="bold" fill="#000" stroke="#000" stroke-width="0.34">72%</text>
<text x="466.49" y="29.9" font-size="7" text-anchor="start" font-weight="bold" fill="#000" stroke="#000" stroke-width="0.34">10%</text>
<text x="502.49" y="29.9" font-size="7" text-anchor="start" font-weight="bold" fill="#000" stroke="#000" stroke-width="0.34">84%</text>
<text x="504.52" y="38.6" font-size="7" text-anchor="start" font-weight="bold" fill="#000" stroke="#000" stroke-width="0.34">246</text>
<text x="388.39" y="65.2" font-size="7" text-anchor="start" font-weight="bold" fill="#000" stroke="#000" stroke-width="0.34">20%</text>
<text x="423.09" y="65.2" font-size="7" text-anchor="start" font-weight="bold" fill="#000" stroke="#000" stroke-width="0.34">39%</text>
<text x="466.49" y="65.2" font-size="7" text-anchor="start" font-weight="bold" fill="#000" stroke="#000" stroke-width="0.34">22%</text>
<text x="502.49" y="65.2" font-size="7" text-anchor="start" font-weight="bold" fill="#000" stroke="#000" stroke-width="0.34">93%</text>
<text x="508.42" y="73.9" font-size="7" text-anchor="start" font-weight="bold" fill="#000" stroke="#000" stroke-width="0.34">84</text>
<text x="392.28" y="100.5" font-size="7" text-anchor="start" font-weight="bold" fill="#000" stroke="#000" stroke-width="0.34">8%</text>
<text x="423.09" y="100.5" font-size="7" text-anchor="start" font-weight="bold" fill="#000" stroke="#000" stroke-width="0.34">18%</text>
<text x="470.38" y="100.5" font-size="7" text-anchor="start" font-weight="bold" fill="#000" stroke="#000" stroke-width="0.34">5%</text>
<text x="502.49" y="100.5" font-size="7" text-anchor="start" font-weight="bold" fill="#000" stroke="#000" stroke-width="0.34">80%</text>
<text x="508.42" y="109.2" font-size="7" text-anchor="start" font-weight="bold" fill="#000" stroke="#000" stroke-width="0.34">46</text>
<text x="388.39" y="144.1" font-size="7" text-anchor="start" font-weight="bold" fill="#000" stroke="#000" stroke-width="0.34">17%</text>
<text x="423.09" y="144.1" font-size="7" text-anchor="start" font-weight="bold" fill="#000" stroke="#000" stroke-width="0.34">74%</text>
<text x="470.38" y="144.1" font-size="7" text-anchor="start" font-weight="bold" fill="#000" stroke="#000" stroke-width="0.34">5%</text>
<text x="502.49" y="144.1" font-size="7" text-anchor="start" font-weight="bold" fill="#000" stroke="#000" stroke-width="0.34">85%</text>
<text x="504.52" y="152.8" font-size="7" text-anchor="start" font-weight="bold" fill="#000" stroke="#000" stroke-width="0.34">171</text>
<text x="392.28" y="179.2" font-size="7" text-anchor="start" font-weight="bold" fill="#000" stroke="#000" stroke-width="0.34">3%</text>
<text x="423.09" y="179.2" font-size="7" text-anchor="start" font-weight="bold" fill="#000" stroke="#000" stroke-width="0.34">19%</text>
<text x="470.38" y="179.2" font-size="7" text-anchor="start" font-weight="bold" fill="#000" stroke="#000" stroke-width="0.34">3%</text>
<text x="502.49" y="179.2" font-size="7" text-anchor="start" font-weight="bold" fill="#000" stroke="#000" stroke-width="0.34">78%</text>
<text x="504.52" y="187.9" font-size="7" text-anchor="start" font-weight="bold" fill="#000" stroke="#000" stroke-width="0.34">111</text>
<text x="392.28" y="213.9" font-size="7" text-anchor="start" font-weight="bold" fill="#000" stroke="#000" stroke-width="0.34">3%</text>
<text x="423.09" y="213.9" font-size="7" text-anchor="start" font-weight="bold" fill="#000" stroke="#000" stroke-width="0.34">15%</text>
<text x="470.38" y="213.9" font-size="7" text-anchor="start" font-weight="bold" fill="#000" stroke="#000" stroke-width="0.34">3%</text>
<text x="502.49" y="213.9" font-size="7" text-anchor="start" font-weight="bold" fill="#000" stroke="#000" stroke-width="0.34">62%</text>
<text x="508.42" y="222.6" font-size="7" text-anchor="start" font-weight="bold" fill="#000" stroke="#000" stroke-width="0.34">84</text>
<text x="388.39" y="257.6" font-size="7" text-anchor="start" font-weight="bold" fill="#000" stroke="#000" stroke-width="0.34">15%</text>
<text x="423.09" y="257.6" font-size="7" text-anchor="start" font-weight="bold" fill="#000" stroke="#000" stroke-width="0.34">70%</text>
<text x="470.38" y="257.6" font-size="7" text-anchor="start" font-weight="bold" fill="#000" stroke="#000" stroke-width="0.34">6%</text>
<text x="502.49" y="257.6" font-size="7" text-anchor="start" font-weight="bold" fill="#000" stroke="#000" stroke-width="0.34">95%</text>
<text x="504.52" y="266.3" font-size="7" text-anchor="start" font-weight="bold" fill="#000" stroke="#000" stroke-width="0.34">198</text>
<text x="388.39" y="293" font-size="7" text-anchor="start" font-weight="bold" fill="#000" stroke="#000" stroke-width="0.34">21%</text>
<text x="423.09" y="293" font-size="7" text-anchor="start" font-weight="bold" fill="#000" stroke="#000" stroke-width="0.34">43%</text>
<text x="466.49" y="293" font-size="7" text-anchor="start" font-weight="bold" fill="#000" stroke="#000" stroke-width="0.34">25%</text>
<text x="502.49" y="293" font-size="7" text-anchor="start" font-weight="bold" fill="#000" stroke="#000" stroke-width="0.34">92%</text>
<text x="508.42" y="301.7" font-size="7" text-anchor="start" font-weight="bold" fill="#000" stroke="#000" stroke-width="0.34">72</text>
<text x="13" y="45.6" font-size="7.6" text-anchor="start" font-weight="bold" fill="#000" stroke="#000" stroke-width="0.34">#1</text>
<rect x="4.4" y="50.1" width="1" height="1.9" fill="#444" stroke="none" stroke-width="0.8"/>
<rect x="5.7" y="49.4" width="1" height="1" fill="#666" stroke="none" stroke-width="0.8"/>
<line x1="8.2" y1="51" x2="9.6" y2="51" stroke="#333" stroke-width="0.5"/>
<rect x="4.4" y="61.1" width="1" height="1.9" fill="#444" stroke="none" stroke-width="0.8"/>
<rect x="5.7" y="60.4" width="1" height="1" fill="#666" stroke="none" stroke-width="0.8"/>
<line x1="8.2" y1="62" x2="9.6" y2="62" stroke="#333" stroke-width="0.5"/>
<rect x="4.4" y="72.1" width="1" height="1.9" fill="#444" stroke="none" stroke-width="0.8"/>
<rect x="5.7" y="71.4" width="1" height="1" fill="#666" stroke="none" stroke-width="0.8"/>
<line x1="8.2" y1="73" x2="9.6" y2="73" stroke="#333" stroke-width="0.5"/>
<rect x="4.4" y="83.1" width="1" height="1.9" fill="#444" stroke="none" stroke-width="0.8"/>
<rect x="5.7" y="82.4" width="1" height="1" fill="#666" stroke="none" stroke-width="0.8"/>
<line x1="8.2" y1="84" x2="9.6" y2="84" stroke="#333" stroke-width="0.5"/>
<rect x="4.4" y="94.1" width="1" height="1.9" fill="#444" stroke="none" stroke-width="0.8"/>
<rect x="5.7" y="93.4" width="1" height="1" fill="#666" stroke="none" stroke-width="0.8"/>
<line x1="8.2" y1="95" x2="9.6" y2="95" stroke="#333" stroke-width="0.5"/>
<rect x="8" y="96.7" width="2.2" height="1.1" fill="#555" stroke="none" stroke-width="0.8"/>
<rect x="10" y="96" width="0.9" height="0.8" fill="#777" stroke="none" stroke-width="0.8"/>
<line x1="9.6" y1="95" x2="9.6" y2="96" stroke="#333" stroke-width="0.5"/>
<rect x="20.3" y="96.7" width="2.2" height="1.1" fill="#555" stroke="none" stroke-width="0.8"/>
<rect x="22.3" y="96" width="0.9" height="0.8" fill="#777" stroke="none" stroke-width="0.8"/>
<line x1="21.9" y1="95" x2="21.9" y2="96" stroke="#333" stroke-width="0.5"/>
<rect x="32.6" y="96.7" width="2.2" height="1.1" fill="#555" stroke="none" stroke-width="0.8"/>
<rect x="34.6" y="96" width="0.9" height="0.8" fill="#777" stroke="none" stroke-width="0.8"/>
<line x1="34.2" y1="95" x2="34.2" y2="96" stroke="#333" stroke-width="0.5"/>
<rect x="44.9" y="96.7" width="2.2" height="1.1" fill="#555" stroke="none" stroke-width="0.8"/>
<rect x="46.9" y="96" width="0.9" height="0.8" fill="#777" stroke="none" stroke-width="0.8"/>
<line x1="46.5" y1="95" x2="46.5" y2="96" stroke="#333" stroke-width="0.5"/>
<rect x="57.2" y="96.7" width="2.2" height="1.1" fill="#555" stroke="none" stroke-width="0.8"/>
<rect x="59.2" y="96" width="0.9" height="0.8" fill="#777" stroke="none" stroke-width="0.8"/>
<line x1="58.8" y1="95" x2="58.8" y2="96" stroke="#333" stroke-width="0.5"/>
<path d="M213 586h6M323 579h6M285 604h6M124 616h6M118 610h6M128 581h6M247 644h6M146 592h6M315 654h6M298 607h6M432 577h6M393 598h6M153 583h6M208 643h6M166 623h6M319 605h6M288 579h6M125 591h6M333 610h6M210 623h6M257 599h6M371 633h6M187 622h6M281 648h6M349 598h6M433 583h6M245 638h6M156 615h6M118 630h6M361 622h6M398 600h6M338 624h6M299 612h6M386 654h6M264 630h6M125 633h6M322 658h6M380 597h6M234 630h6M113 612h6M161 583h6M125 639h6M148 594h6M236 647h6M132 611h6M289 648h6M379 647h6M198 609h6M225 648h6M426 586h6M164 593h6M183 614h6M302 596h6M106 609h6M229 621h6M424 632h6M278 626h6M332 578h6M406 640h6M398 641h6M236 607h6M140 627h6M126 579h6M175 587h6M219 578h6M105 586h6M139 604h6M114 648h6M311 586h6M190 603h6M227 584h6M389 658h6M261 614h6M134 582h6M220 596h6M383 587h6M113 654h6M282 586h6M287 576h6M282 656h6M394 632h6M192 604h6M161 639h6M283 639h6M215 592h6M377 657h6M391 642h6M379 636h6M181 617h6M224 576h6M114 597h6M192 632h6M425 611h6M419 657h6M425 604h6M179 593h6M171 591h6M314 650h6M387 614h6M324 641h6M133 629h6M410 640h6M356 614h6M165 640h6M216 641h6M431 607h6M239 654h6M348 588h6M148 586h6M408 642h6M154 644h6M433 629h6M222 620h6M149 574h6M430 628h6M281 653h6M250 647h6M382 591h6M189 598h6M186 623h6M192 609h6M149 651h6M224 612h6M300 650h6M246 651h6M273 618h6M280 575h6M252 589h6M106 641h6M163 613h6M348 621h6M214 617h6M291 640h6M141 621h6M188 597h6M364 616h6M293 638h6M411 611h6M310 616h6M277 632h6M257 619h6M265 653h6M339 648h6M421 595h6M292 653h6M386 585h6M146 611h6M129 594h6M129 630h6M368 649h6M157 634h6M326 585h6M401 655h6M179 654h6M238 615h6M437 644h6M159 610h6M278 602h6M171 600h6M347 575h6M291 611h6M111 601h6M314 617h6M127 657h6M369 656h6M140 596h6M118 639h6M196 584h6M246 651h6M379 595h6M280 653h6M116 599h6M217 617h6M176 592h6M327 636h6M128 584h6M302 635h6M309 631h6M148 619h6M196 625h6M156 611h6M228 622h6M238 618h6M181 631h6M203 595h6M162 613h6M193 617h6M200 617h6M192 586h6M225 636h6M226 609h6M227 592h6M144 630h6M138 648h6M177 583h6M154 625h6M230 617h6M289 629h6M199 626h6M299 635h6M261 589h6M191 629h6M182 637h6M236 633h6M274 609h6M179 632h6M259 613h6M130 617h6M222 638h6M247 614h6M251 625h6M212 614h6M185 628h6M137 599h6M200 581h6M159 626h6M234 612h6M186 582h6M310 625h6M266 594h6M247 634h6M238 574h6M162 582h6M202 619h6M238 629h6M290 639h6M121 602h6M136 590h6M195 613h6M229 578h6" fill="none" stroke="#555" stroke-width="6" transform="scale(.1)"/>
<path d="M238 820h6M280 691h6M300 742h6M125 746h6M298 729h6M301 941h6M236 778h6M232 861h6M308 843h6M275 694h6M144 743h6M302 757h6M255 676h6M121 747h6M283 863h6M284 753h6M242 801h6M229 706h6M342 728h6M364 930h6M110 799h6M322 939h6M224 747h6M161 933h6M161 833h6M143 817h6M357 709h6M322 813h6M340 866h6M166 920h6M234 680h6M106 808h6M224 756h6M142 768h6M189 904h6M105 879h6M327 706h6M350 869h6M344 753h6M204 781h6M370 835h6M201 791h6M178 686h6M132 903h6M181 930h6M171 746h6M240 725h6M204 936h6M339 896h6M272 924h6M354 824h6M296 687h6M299 797h6M304 850h6M181 686h6M351 708h6M230 768h6M184 876h6M364 745h6M279 756h6M253 781h6M149 717h6M160 922h6M237 734h6M345 947h6M224 711h6M156 698h6M196 698h6M168 744h6M256 917h6M401 886h6M268 898h6M254 879h6M130 872h6M487 856h6M304 909h6M446 866h6M212 869h6M263 890h6M482 932h6M450 845h6M118 917h6M459 893h6M337 843h6M260 940h6M431 933h6M489 869h6M148 859h6M311 915h6M477 919h6M361 923h6M286 901h6M121 925h6M197 940h6M360 875h6" fill="none" stroke="#666" stroke-width="6" transform="scale(.1)"/>
<rect x="10" y="56.2" width="34.4" height="9.8" fill="none" stroke="#666" stroke-width="0.6"/>
<line x1="10" y1="66.8" x2="50.6" y2="66.8" stroke="#666" stroke-width="0.6"/>
<rect x="34.4" y="66" width="16.2" height="29" fill="none" stroke="#666" stroke-width="0.6"/>
<line x1="22.5" y1="51" x2="22.5" y2="95" stroke="#555" stroke-width="0.7"/>
<line x1="9.6" y1="83.1" x2="58.8" y2="83.1" stroke="#555" stroke-width="0.7"/>
<rect x="9.6" y="51" width="49.2" height="44" fill="none" stroke="#555" stroke-width="0.8"/>
<path d="M415 685h6M455 720h6M446 684h6M430 713h6M421 701h6M452 678h6M432 717h6M395 731h6M418 692h6M408 736h6M392 679h6M402 708h6M389 693h6M433 718h6M406 679h6M378 698h6M435 689h6M413 726h6M382 690h6M395 736h6M463 691h6M417 691h6M392 735h6M423 707h6M433 703h6M430 718h6M410 701h6M430 690h6M412 680h6M368 681h6M452 731h6M480 722h6M414 697h6M458 689h6M397 679h6M395 718h6M434 697h6M438 688h6M415 699h6M467 736h6M466 690h6M438 699h6M368 704h6M388 680h6M419 733h6M376 689h6M460 679h6M433 702h6M371 680h6M473 679h6M439 693h6M435 723h6M400 694h6M399 736h6M400 721h6M415 697h6M417 723h6M370 733h6M426 735h6M415 701h6M445 707h6M436 734h6M461 722h6M420 727h6M377 697h6M383 697h6M452 682h6M415 689h6M394 681h6M391 679h6M407 737h6M437 731h6M413 682h6M371 683h6M415 705h6M381 692h6M434 718h6M439 723h6M381 685h6M405 729h6M450 700h6M422 722h6M435 692h6M442 687h6M391 697h6M448 701h6M413 691h6M366 727h6M438 706h6M366 733h6M411 680h6M429 689h6M383 700h6M394 730h6M422 725h6M445 735h6M438 715h6M405 691h6M426 690h6M382 693h6M391 690h6M395 678h6M452 689h6M429 696h6M463 711h6M438 681h6M432 711h6M429 716h6M424 720h6M410 702h6M438 735h6M391 696h6M404 703h6M442 730h6M414 689h6M416 722h6M418 732h6M427 703h6M389 731h6M418 705h6M419 711h6M425 716h6M409 715h6M399 700h6M415 695h6M427 709h6M409 707h6M433 726h6M411 685h6M447 735h6M410 681h6M369 734h6M454 715h6M441 728h6M457 691h6M445 702h6M372 688h6M388 691h6M435 701h6M416 685h6M460 732h6M371 680h6M397 680h6M443 728h6M441 711h6M405 715h6M442 713h6M398 703h6M389 704h6M391 679h6M393 692h6M421 724h6M385 688h6M426 706h6M424 704h6M384 683h6M427 680h6M455 716h6M437 725h6M446 708h6M426 700h6M451 735h6M457 738h6M422 722h6M398 737h6M475 707h6M398 687h6M424 725h6M411 699h6M447 723h6M465 694h6M436 727h6M441 733h6M412 690h6M448 697h6M422 679h6M430 734h6M428 719h6M405 725h6M376 684h6M407 699h6M380 731h6M402 731h6M454 684h6M413 701h6M407 726h6M418 699h6M385 688h6M464 723h6M430 693h6M452 716h6M411 718h6M422 696h6M415 686h6M384 715h6M429 732h6M421 685h6M455 679h6M407 677h6M425 699h6M383 691h6M396 690h6M400 715h6M417 734h6M422 692h6M425 716h6M421 730h6M387 693h6M393 678h6M387 699h6M438 722h6M422 692h6M410 710h6M416 702h6M425 725h6M394 686h6M389 689h6M394 716h6M426 727h6M436 696h6M453 680h6M384 721h6M441 678h6M377 706h6M396 722h6M421 684h6M440 691h6M421 723h6M440 720h6M379 693h6M370 711h6M434 709h6M369 693h6M437 731h6M417 692h6M459 723h6M399 697h6M405 731h6M433 733h6M400 716h6M376 737h6M438 706h6M378 730h6M409 704h6M379 696h6M407 690h6M407 733h6M428 686h6M417 734h6M419 698h6M420 680h6M386 720h6M383 722h6M393 681h6M401 727h6M423 727h6M408 730h6M428 733h6M410 690h6M468 684h6M427 727h6M433 716h6M380 695h6M453 683h6M442 690h6M410 697h6M418 693h6M409 694h6M389 697h6M414 715h6M389 679h6M431 724h6M405 698h6M382 690h6M459 730h6M443 688h6M429 677h6M460 737h6M382 678h6M417 726h6M389 689h6M416 728h6M436 693h6M407 690h6M401 720h6M415 716h6M425 682h6M373 725h6M398 716h6M437 701h6M465 732h6M445 679h6M410 690h6M475 708h6M430 700h6M401 705h6M416 710h6M368 717h6M407 699h6M429 729h6M414 718h6M398 704h6M402 724h6M408 705h6M416 731h6M433 696h6M424 720h6M402 687h6M399 692h6M445 687h6M443 697h6M428 683h6M412 701h6M428 737h6M371 704h6M406 689h6M405 690h6M443 701h6M421 726h6M375 720h6M415 706h6M392 686h6M398 722h6M382 733h6M431 723h6M421 703h6M459 731h6M398 724h6M392 716h6M422 716h6M372 683h6M439 721h6M415 716h6M444 705h6M380 715h6M438 734h6M388 688h6M375 701h6M423 707h6M414 710h6M428 687h6M384 683h6M399 721h6M381 708h6M375 709h6M433 702h6M409 719h6M416 701h6M401 737h6M436 699h6M423 702h6M389 678h6M429 720h6M413 699h6M435 722h6M396 735h6M412 726h6M418 701h6M429 725h6M394 727h6M391 712h6M440 691h6M409 716h6M428 727h6M386 695h6M452 711h6M453 699h6M412 729h6M442 693h6M416 703h6M417 721h6M416 694h6M439 707h6M388 703h6M384 699h6M421 734h6M407 728h6M418 733h6M400 728h6M419 716h6M415 735h6M415 717h6M428 686h6M419 692h6M390 687h6M419 732h6M399 732h6M423 714h6M374 732h6M425 725h6M399 720h6M413 710h6M385 731h6M413 711h6M435 686h6M444 707h6M426 686h6M380 707h6M415 730h6M432 678h6M389 712h6M430 718h6M392 703h6M450 736h6M433 716h6M382 679h6M388 734h6M448 697h6M411 707h6M459 732h6M424 715h6M432 698h6M395 706h6M417 709h6M396 704h6M366 703h6M398 695h6M388 728h6M434 694h6M455 708h6M409 726h6M405 697h6M437 713h6M417 716h6M407 721h6M406 731h6M412 696h6M438 678h6M474 714h6M430 717h6M385 715h6M384 714h6M425 719h6M455 705h6M429 724h6M426 680h6M450 724h6M394 700h6M423 727h6M380 693h6M393 696h6M427 704h6M424 716h6M411 712h6M452 680h6M450 712h6M411 733h6M417 701h6M385 706h6M447 702h6M439 690h6M418 687h6M415 719h6M427 685h6M412 730h6M459 685h6M420 692h6M418 722h6M423 724h6M443 721h6M379 682h6M407 716h6M385 734h6M458 693h6M405 678h6M385 678h6M373 682h6M413 696h6M398 730h6M440 707h6M425 712h6M408 704h6M401 726h6M391 699h6M384 703h6M430 701h6M412 712h6M425 737h6M427 720h6M393 714h6M434 737h6M382 696h6M436 703h6M397 719h6M455 714h6M384 695h6M413 677h6M444 713h6M421 727h6M410 728h6M439 727h6M388 694h6M430 729h6M375 733h6M446 698h6M433 726h6M415 689h6M401 714h6M387 690h6M415 693h6" fill="none" stroke="#222" stroke-width="6" transform="scale(.1)"/>
<path d="M385 825h7M434 739h7M385 772h7M465 852h7M397 839h7M413 829h7M414 763h7M415 760h7M406 849h7M411 811h7M418 729h7M425 949h7M435 865h7M447 900h7M449 798h7M432 838h7M433 947h7M401 919h7M425 779h7M380 898h7M455 896h7M447 908h7M415 727h7M426 765h7M428 730h7M444 847h7M414 937h7M460 929h7M437 810h7M438 746h7M422 849h7M461 866h7M415 809h7M457 822h7M483 948h7M439 770h7M428 800h7M468 927h7M395 729h7M421 900h7M400 946h7M443 731h7M462 935h7M419 875h7M459 894h7M412 743h7M436 747h7M434 830h7M436 752h7M465 875h7M424 764h7M434 727h7M425 934h7M441 919h7M417 822h7M460 741h7M408 864h7M402 823h7M462 829h7M438 864h7M432 732h7M417 883h7M427 920h7M411 780h7M430 781h7M423 912h7M438 832h7M433 792h7M426 945h7M447 732h7M401 767h7M422 829h7M439 765h7M427 932h7M408 741h7M467 732h7M412 886h7M481 722h7M423 905h7M430 719h7M416 911h7M422 819h7M437 929h7M450 750h7M426 760h7M386 764h7M447 737h7M442 833h7M431 782h7M459 882h7M417 906h7M412 734h7M398 888h7M440 731h7M408 906h7M469 918h7M476 832h7M430 829h7M429 920h7M445 911h7M435 803h7M446 856h7M394 720h7M423 838h7M411 746h7M390 918h7M418 793h7M407 892h7M460 733h7M385 833h7M398 837h7M414 723h7M435 942h7M435 742h7M425 776h7M415 741h7M430 880h7M431 857h7M391 852h7M415 742h7M430 919h7M414 747h7M407 833h7M421 747h7M445 812h7M454 917h7M387 753h7M404 756h7M451 909h7M416 816h7M408 912h7M428 936h7M421 898h7M438 796h7M466 819h7M427 929h7M435 907h7M420 838h7M448 940h7M418 816h7M409 865h7M441 735h7M420 819h7M421 751h7M441 942h7M374 865h7M466 905h7M388 726h7M424 867h7M457 782h7M455 844h7M408 776h7M374 839h7M446 785h7M416 789h7M418 856h7M414 939h7M424 826h7M433 842h7M430 749h7M407 786h7M433 775h7M378 739h7M415 859h7M418 850h7M416 883h7M395 825h7M416 827h7M424 790h7M442 837h7M421 807h7M422 800h7M433 918h7M455 832h7M442 784h7M428 897h7M464 755h7M444 820h7M401 733h7M445 888h7M429 744h7M487 889h7M410 754h7M447 875h7M453 861h7M392 838h7M427 889h7M387 828h7M417 900h7M371 748h7M470 920h7M428 854h7M455 834h7M418 815h7M452 900h7M402 806h7M390 823h7M433 786h7M403 809h7M416 793h7M446 900h7M403 821h7M417 761h7M439 851h7M471 853h7M451 793h7M461 913h7M372 766h7M428 817h7M418 729h7M375 849h7M430 897h7M454 843h7M426 838h7M412 877h7M441 856h7M456 800h7M415 840h7M404 741h7M443 848h7M470 851h7M385 831h7M371 820h7M432 841h7M410 792h7M445 945h7M396 744h7M416 925h7M393 947h7M419 924h7M429 785h7M411 837h7M421 761h7M411 864h7M420 948h7M451 866h7M436 900h7M422 789h7M421 789h7M401 913h7M404 764h7M409 834h7M422 868h7M456 841h7M424 813h7M442 747h7M453 743h7M434 742h7M455 909h7M430 860h7M411 721h7M413 897h7M457 800h7M420 758h7M442 927h7M412 853h7M445 808h7M443 731h7M413 940h7M412 820h7M408 729h7M444 934h7M416 926h7M420 907h7M462 940h7M442 833h7M419 809h7M432 884h7M450 921h7M430 830h7M405 759h7M448 801h7M479 786h7M448 848h7M443 808h7M435 812h7M435 909h7M424 800h7M438 784h7M455 773h7M431 797h7M418 755h7M413 781h7M448 911h7M448 912h7M442 904h7M447 885h7M439 806h7M428 938h7M429 835h7M446 749h7M425 882h7M476 854h7M425 804h7M453 768h7M451 920h7M446 844h7M426 781h7M406 870h7M418 850h7M441 738h7M433 759h7M412 872h7M400 744h7M418 834h7M441 787h7M430 771h7M417 748h7M406 812h7M439 928h7M384 917h7M420 749h7M434 875h7M414 872h7M447 871h7M429 880h7M468 800h7M432 864h7M442 929h7M428 888h7M413 728h7M427 756h7M443 806h7M407 728h7M452 760h7M398 912h7M407 777h7M416 819h7M399 719h7M434 911h7M401 728h7M425 916h7M418 775h7M425 744h7M416 930h7M460 892h7M443 809h7M438 891h7M404 739h7M385 937h7M453 878h7M445 889h7M397 823h7M412 731h7M403 837h7M459 933h7M448 729h7M435 881h7M410 845h7M414 942h7M400 776h7M405 732h7M440 765h7M447 790h7M455 873h7M424 773h7M453 821h7M420 935h7M447 923h7M402 751h7M422 907h7M427 845h7M414 872h7M389 857h7M440 911h7M415 745h7M443 766h7M417 732h7M444 881h7M441 822h7M439 827h7M428 802h7M427 721h7M433 948h7M419 884h7M422 945h7M421 831h7M436 819h7M446 720h7M412 931h7M406 935h7M428 869h7M438 751h7M426 725h7M380 787h7M393 761h7M398 933h7M431 757h7M387 890h7M441 794h7M463 792h7M403 804h7M423 911h7M451 774h7M435 864h7M417 908h7M384 937h7M412 833h7M423 788h7M458 853h7M438 756h7M435 821h7M418 728h7M438 820h7M453 719h7M455 913h7M393 817h7M408 784h7M401 816h7M392 797h7M443 909h7M441 927h7M442 821h7M418 849h7M432 738h7M447 928h7M489 918h7M418 862h7M462 906h7M440 859h7M372 787h7M401 830h7M421 868h7M451 923h7M432 725h7M457 822h7M408 738h7M408 853h7M396 815h7M419 810h7M441 745h7M470 845h7M432 744h7M407 740h7M426 841h7M453 846h7M412 771h7M421 837h7M448 854h7M431 735h7M444 820h7M407 884h7M482 893h7M475 885h7M431 742h7M401 758h7M396 940h7M405 750h7M445 898h7M430 805h7M406 722h7M414 788h7M386 882h7M449 862h7M384 920h7M411 920h7M421 757h7M408 895h7M434 876h7M414 805h7M464 889h7M408 729h7M451 858h7M447 904h7M451 745h7M407 777h7M380 763h7M441 853h7M432 745h7M431 903h7M404 761h7M422 877h7M453 806h7M463 843h7M449 878h7M439 798h7M453 920h7M444 903h7M433 908h7M408 875h7M437 755h7M394 914h7M456 860h7M412 736h7M445 925h7M441 855h7M428 802h7M405 827h7M413 800h7M401 720h7M409 723h7M432 825h7M420 752h7M426 873h7M444 834h7M397 779h7M420 940h7M461 948h7M436 897h7M436 920h7M396 865h7M416 802h7M471 920h7M424 935h7M412 895h7M397 889h7M422 799h7M420 846h7M428 796h7M450 793h7M422 803h7M424 775h7M442 750h7M436 720h7M407 821h7M422 850h7M433 734h7M410 788h7M461 846h7M404 935h7M471 853h7M433 737h7M460 947h7M428 801h7M407 919h7M371 734h7M428 782h7M436 778h7M425 780h7M433 881h7M444 765h7M449 858h7M397 764h7M459 888h7M413 737h7M445 905h7M406 750h7M376 762h7M417 866h7M437 932h7M449 892h7M399 868h7M443 797h7M414 732h7M431 863h7M393 796h7M424 778h7M478 826h7M431 849h7M462 947h7M440 886h7M435 795h7M428 751h7M465 896h7M447 816h7M402 843h7M413 870h7M409 857h7M456 778h7M432 883h7M384 790h7M455 897h7M419 783h7M438 839h7M415 721h7M403 828h7M391 802h7M438 947h7M458 739h7M425 725h7M432 834h7M449 847h7M474 803h7M438 753h7M465 931h7M460 756h7M430 775h7M400 945h7M424 798h7M410 903h7M436 927h7M420 743h7M419 868h7M430 811h7M421 849h7M473 813h7M401 863h7M422 770h7M443 819h7M433 772h7M465 867h7M439 787h7M426 850h7M451 755h7M387 780h7M438 892h7M407 795h7M436 831h7M420 876h7M398 857h7M440 922h7M438 767h7M415 899h7M450 918h7M475 948h7M434 787h7M434 944h7M430 721h7M422 889h7M437 741h7M451 739h7M455 797h7M413 922h7M449 945h7M433 901h7M455 878h7M429 772h7M429 818h7M435 947h7M432 792h7M418 831h7M408 750h7M435 877h7M419 753h7M393 744h7M372 800h7M425 799h7M469 768h7M419 887h7M431 782h7M436 734h7M396 728h7M425 847h7M459 802h7M430 869h7M393 844h7M422 945h7M426 920h7M401 792h7M447 815h7M420 808h7M476 813h7M483 720h7M443 859h7M419 860h7M425 806h7M436 745h7M441 913h7M370 730h7M414 879h7M456 845h7M424 791h7M429 891h7M400 916h7M431 948h7M396 773h7M397 806h7M407 883h7M445 860h7M414 875h7M456 844h7M408 770h7M420 928h7M420 828h7M398 829h7M455 770h7M467 841h7M385 840h7M415 774h7M432 758h7M405 866h7M467 910h7M391 728h7M445 807h7M384 747h7M421 754h7M435 801h7M405 904h7M417 739h7M460 810h7M424 822h7M437 829h7M384 753h7M410 876h7M443 773h7M412 804h7M438 723h7M415 765h7M418 760h7M426 884h7M442 774h7M458 911h7M449 917h7M386 765h7M446 861h7M448 804h7M431 803h7M422 883h7M450 868h7M417 906h7M445 852h7M454 932h7M486 883h7M414 805h7M402 735h7M409 893h7M445 833h7M432 927h7M422 855h7M383 825h7M435 814h7M445 828h7M410 832h7M441 837h7M399 890h7M458 811h7M435 846h7M431 896h7M411 769h7M424 736h7M410 739h7M422 893h7M425 876h7M421 883h7M429 878h7M389 907h7M444 920h7M443 838h7M437 720h7M421 779h7M422 791h7M472 847h7M419 837h7M427 789h7M445 919h7M380 778h7M449 765h7M433 805h7M395 826h7M426 803h7M446 904h7M476 847h7M408 730h7M451 813h7M419 849h7M446 902h7M413 786h7M387 855h7M448 824h7M421 921h7M390 732h7M433 730h7M459 918h7M435 760h7M393 932h7M410 834h7M420 874h7M405 767h7M462 912h7M463 766h7M454 742h7M455 938h7M415 814h7M417 928h7M433 877h7M435 879h7M429 728h7M406 772h7M415 853h7M448 754h7M412 929h7M460 754h7M453 903h7M416 726h7M414 806h7M414 845h7M384 740h7M433 818h7M461 875h7M449 747h7M486 932h7M425 840h7M401 786h7M457 833h7M454 933h7M445 918h7M418 857h7M418 751h7M457 781h7M394 771h7M462 932h7M439 942h7M455 798h7M408 730h7M407 795h7M435 890h7M426 760h7M401 735h7M451 848h7M446 901h7M421 856h7M427 837h7M413 741h7M417 852h7M400 800h7M445 756h7M441 758h7M423 913h7M418 920h7M422 740h7M451 922h7M444 842h7M407 746h7M429 842h7M416 836h7M436 812h7M434 765h7M443 920h7M429 834h7M429 936h7M433 831h7M400 878h7M422 771h7M409 780h7M398 726h7M440 786h7M457 924h7M437 773h7M435 856h7M384 733h7M381 728h7M412 861h7M384 798h7M380 906h7M431 721h7M412 936h7M432 739h7M419 775h7M387 753h7M433 798h7M434 769h7M418 901h7M386 829h7M432 928h7M419 892h7M416 863h7M433 914h7M419 884h7M455 799h7M479 874h7M458 891h7M464 935h7M430 928h7M387 904h7M388 855h7M447 900h7M413 920h7M482 841h7M477 937h7M470 900h7M431 777h7M407 764h7M427 824h7M458 928h7M423 877h7M408 900h7M407 902h7M380 909h7M453 812h7M448 912h7M387 797h7M405 902h7M415 720h7M421 744h7M403 906h7M441 824h7M428 796h7M452 914h7M425 862h7M432 781h7M397 880h7M442 905h7M418 746h7M424 909h7M414 761h7M481 802h7M446 770h7M411 925h7M426 836h7M449 947h7M461 756h7M440 840h7M432 937h7M432 824h7M408 800h7M377 742h7M411 837h7M468 806h7M407 872h7M402 736h7M415 940h7M407 802h7M397 805h7M404 839h7M381 834h7M432 803h7M429 911h7M405 876h7M420 892h7M426 924h7M381 727h7M460 794h7M474 924h7M395 752h7M404 729h7M424 809h7M390 783h7M422 895h7M453 816h7M408 944h7M395 875h7M459 806h7M420 878h7M439 783h7M456 909h7M423 902h7M436 838h7M451 921h7M453 758h7M441 791h7M431 807h7M447 942h7M420 790h7M439 936h7M444 820h7M419 744h7M447 808h7M431 941h7M447 928h7M442 823h7M402 898h7M446 791h7M457 827h7M408 848h7M389 782h7M448 802h7M409 785h7M425 864h7M459 728h7M411 909h7M423 936h7M423 780h7M435 845h7M419 893h7M409 905h7M409 744h7M463 942h7M414 865h7M387 810h7M431 936h7M403 809h7M421 905h7M443 920h7M392 841h7M427 927h7M416 749h7M432 814h7M446 834h7M400 852h7M408 812h7M422 914h7M437 901h7M417 874h7M380 893h7M431 926h7M444 890h7M401 921h7M411 749h7M393 860h7M451 782h7M443 909h7M426 782h7M436 740h7M469 875h7M417 802h7M468 880h7M443 794h7M410 719h7M414 782h7M392 732h7M440 905h7M425 728h7M412 770h7M417 864h7M444 850h7M426 769h7M415 912h7M425 905h7M428 898h7M395 725h7" fill="none" stroke="#111" stroke-width="7" transform="scale(.1)"/>
<ellipse cx="42.7" cy="83.5" rx="2.9" ry="10.8" fill="#111" opacity="0.9"/>
<text x="9.6" y="156.5" font-size="7.6" text-anchor="start" font-weight="bold" fill="#000" stroke="#000" stroke-width="0.34">cord blood</text>
<rect x="4.6" y="161.9" width="1" height="1.9" fill="#444" stroke="none" stroke-width="0.8"/>
<rect x="5.9" y="161.2" width="1" height="1" fill="#666" stroke="none" stroke-width="0.8"/>
<line x1="8.4" y1="162.8" x2="9.8" y2="162.8" stroke="#333" stroke-width="0.5"/>
<rect x="4.6" y="172.72" width="1" height="1.9" fill="#444" stroke="none" stroke-width="0.8"/>
<rect x="5.9" y="172.03" width="1" height="1" fill="#666" stroke="none" stroke-width="0.8"/>
<line x1="8.4" y1="173.62" x2="9.8" y2="173.62" stroke="#333" stroke-width="0.5"/>
<rect x="4.6" y="183.55" width="1" height="1.9" fill="#444" stroke="none" stroke-width="0.8"/>
<rect x="5.9" y="182.85" width="1" height="1" fill="#666" stroke="none" stroke-width="0.8"/>
<line x1="8.4" y1="184.45" x2="9.8" y2="184.45" stroke="#333" stroke-width="0.5"/>
<rect x="4.6" y="194.38" width="1" height="1.9" fill="#444" stroke="none" stroke-width="0.8"/>
<rect x="5.9" y="193.68" width="1" height="1" fill="#666" stroke="none" stroke-width="0.8"/>
<line x1="8.4" y1="195.28" x2="9.8" y2="195.28" stroke="#333" stroke-width="0.5"/>
<rect x="4.6" y="205.2" width="1" height="1.9" fill="#444" stroke="none" stroke-width="0.8"/>
<rect x="5.9" y="204.5" width="1" height="1" fill="#666" stroke="none" stroke-width="0.8"/>
<line x1="8.4" y1="206.1" x2="9.8" y2="206.1" stroke="#333" stroke-width="0.5"/>
<rect x="8.2" y="207.8" width="2.2" height="1.1" fill="#555" stroke="none" stroke-width="0.8"/>
<rect x="10.2" y="207.1" width="0.9" height="0.8" fill="#777" stroke="none" stroke-width="0.8"/>
<line x1="9.8" y1="206.1" x2="9.8" y2="207.1" stroke="#333" stroke-width="0.5"/>
<rect x="20.1" y="207.8" width="2.2" height="1.1" fill="#555" stroke="none" stroke-width="0.8"/>
<rect x="22.1" y="207.1" width="0.9" height="0.8" fill="#777" stroke="none" stroke-width="0.8"/>
<line x1="21.7" y1="206.1" x2="21.7" y2="207.1" stroke="#333" stroke-width="0.5"/>
<rect x="32" y="207.8" width="2.2" height="1.1" fill="#555" stroke="none" stroke-width="0.8"/>
<rect x="34" y="207.1" width="0.9" height="0.8" fill="#777" stroke="none" stroke-width="0.8"/>
<line x1="33.6" y1="206.1" x2="33.6" y2="207.1" stroke="#333" stroke-width="0.5"/>
<rect x="43.9" y="207.8" width="2.2" height="1.1" fill="#555" stroke="none" stroke-width="0.8"/>
<rect x="45.9" y="207.1" width="0.9" height="0.8" fill="#777" stroke="none" stroke-width="0.8"/>
<line x1="45.5" y1="206.1" x2="45.5" y2="207.1" stroke="#333" stroke-width="0.5"/>
<rect x="55.8" y="207.8" width="2.2" height="1.1" fill="#555" stroke="none" stroke-width="0.8"/>
<rect x="57.8" y="207.1" width="0.9" height="0.8" fill="#777" stroke="none" stroke-width="0.8"/>
<line x1="57.4" y1="206.1" x2="57.4" y2="207.1" stroke="#333" stroke-width="0.5"/>
<path d="M127 1937h6M355 1922h6M243 1898h6M308 1805h6M404 2057h6M382 2045h6M219 2054h6M130 1887h6M151 1879h6M341 1963h6M262 1843h6M171 1863h6M202 1795h6M359 1900h6M256 1796h6M348 1795h6M197 1914h6M347 2049h6M363 2041h6M422 1967h6M353 1752h6M176 1735h6M403 1967h6M322 1817h6M228 1785h6M323 2055h6M210 1745h6M165 1847h6M415 1994h6M262 1764h6M142 1781h6M373 1885h6M447 2029h6M379 1887h6M389 1773h6M143 1915h6M280 1799h6M192 1738h6M419 1963h6M431 2052h6M256 1970h6M238 1996h6M395 1775h6M109 1801h6M307 1855h6M108 2003h6M376 1883h6M120 2022h6M289 1754h6M217 1935h6M410 1889h6M326 1798h6M189 2027h6M237 1765h6M309 1772h6M174 1880h6M307 1939h6M349 1875h6M128 1968h6M124 1885h6M243 1951h6M351 1809h6M329 1957h6M268 1777h6M419 1927h6M127 1809h6M445 1806h6M240 1989h6M389 1938h6M361 1744h6M137 2050h6M382 1743h6M122 1810h6M426 1803h6M337 2035h6M325 2032h6M196 1781h6M111 1979h6M141 2049h6M350 1792h6M383 1784h6M282 1766h6M376 2022h6M421 1732h6M399 1913h6M388 1895h6M319 1925h6M381 1756h6M124 1909h6M205 1861h6M108 1975h6M113 2002h6M385 1881h6M147 1944h6M176 1871h6M143 2050h6M293 1846h6M137 1970h6M398 2008h6M140 1851h6M209 1980h6M156 1929h6M443 1982h6M107 1756h6M144 1957h6M312 1901h6M262 1864h6M316 1943h6M421 1971h6M380 2030h6M394 1965h6M116 1954h6M398 1872h6M408 1790h6M430 1875h6M349 1814h6M209 1845h6M217 1762h6M258 2052h6M331 2036h6M368 2005h6M448 1977h6M200 1813h6M247 1738h6M185 2021h6M423 1838h6M371 1984h6M412 1991h6M289 1765h6M390 1834h6M321 1851h6M290 2047h6M161 1905h6M329 1907h6M429 1864h6M420 1957h6M439 1760h6M178 1825h6M418 1735h6M195 1965h6M446 1789h6M256 1956h6M343 1975h6M365 1812h6M194 1740h6M343 1799h6M195 2046h6M327 1924h6M331 1926h6M345 1830h6M127 1753h6M110 1849h6M154 1768h6M275 2048h6M342 1820h6M370 1789h6M140 1830h6M246 1956h6M259 1969h6M138 2036h6M223 2003h6M116 2002h6M183 2011h6M382 1950h6M201 1734h6M171 2027h6M160 1947h6M308 1947h6M167 1778h6M139 2052h6M237 1944h6M302 1804h6M127 1736h6M399 1774h6M437 1850h6M354 1776h6M377 1813h6M231 1902h6M143 1812h6M380 1824h6M236 1981h6M182 1794h6M181 1857h6M231 1941h6M268 2015h6M122 1948h6M394 1808h6M115 1874h6M145 1881h6M350 1762h6M146 1888h6M165 1806h6M257 1770h6M128 1849h6M267 2037h6M296 1754h6M182 1974h6M299 2016h6M437 2012h6M143 2040h6M286 1809h6M164 2014h6M178 1758h6M197 2033h6M264 1970h6M131 1879h6M215 1798h6M334 1849h6M146 2053h6M271 1790h6M109 1945h6M283 1739h6M267 1973h6M290 1808h6M277 1929h6M330 1778h6M382 2040h6M360 2011h6M232 2026h6M168 1805h6M311 2026h6M133 1802h6M117 1875h6M153 1794h6M363 1922h6M429 1862h6M339 1735h6M432 1807h6M270 1898h6M432 1892h6M447 1934h6M180 2004h6M175 2058h6M263 1805h6M437 1836h6M245 1843h6M336 1739h6M234 1784h6M391 1731h6M315 1815h6M262 1915h6M351 1776h6M188 1770h6M436 1780h6M152 1902h6M306 2021h6M125 1808h6M163 1922h6M261 1865h6M411 1947h6M402 2044h6M198 2039h6M246 1748h6M421 1765h6M111 1826h6M205 2047h6M405 1868h6M288 2009h6M383 1945h6M282 1769h6M189 1946h6M307 1993h6M415 2046h6M171 1756h6M415 1917h6M168 1957h6M193 1808h6M231 1902h6M339 1755h6M361 1935h6M268 1951h6M381 1734h6M269 1953h6M350 1943h6M167 2044h6M376 1807h6M254 2044h6M176 1865h6M437 2025h6M185 1971h6M229 1948h6M370 1773h6M182 1801h6M197 1743h6M152 1864h6M250 1756h6M306 2039h6M304 1847h6M348 1874h6M166 1889h6M111 1952h6M161 1852h6M437 1982h6M393 1941h6M324 1962h6M438 1795h6M369 1829h6M193 2000h6M312 2009h6M407 1924h6M173 1736h6M290 1968h6M199 1754h6M107 1788h6M345 1732h6M184 1818h6M350 2054h6M112 1768h6M427 2048h6M156 1841h6M285 1836h6M249 1888h6M194 1749h6M134 1784h6M137 1935h6M345 1817h6M378 1969h6M223 1892h6M170 2035h6M298 1748h6M158 1957h6M238 1965h6M184 1992h6M382 1762h6M307 1794h6M349 1994h6M378 1807h6M137 1948h6M300 1776h6M171 1921h6M142 1938h6M188 1816h6M251 1905h6M355 1741h6M355 1803h6M205 1940h6M343 1932h6M416 1798h6M212 1948h6M195 1782h6M183 1983h6M390 1965h6M436 1991h6M212 1834h6M354 1749h6M315 1760h6M122 1899h6M157 2036h6M408 1882h6M173 1770h6M280 1901h6M230 1965h6M288 1985h6M142 1754h6M239 1889h6M192 1950h6M182 1835h6M270 1964h6M371 1853h6M259 2034h6M427 1933h6M141 1880h6M325 1822h6M118 2052h6M419 1773h6M266 1934h6M208 1753h6M364 1983h6M256 1759h6M241 1762h6M437 1748h6M204 1982h6M152 1766h6M129 1785h6M288 2003h6M163 1788h6M369 1870h6M222 1771h6M189 2049h6M145 1816h6M361 2023h6M417 1886h6M435 1929h6M205 1883h6M352 1971h6M150 1794h6M436 1766h6M386 1842h6M191 1814h6M267 2055h6M156 2010h6M216 1788h6M362 1843h6M170 1868h6M388 2013h6M303 1734h6M368 1929h6M415 2042h6M218 2008h6M388 1818h6M231 1854h6M227 1855h6M143 1805h6M419 1865h6M324 2021h6M366 1811h6M422 1994h6M447 1969h6M365 1997h6M192 1945h6M236 2006h6M151 1907h6M221 1999h6M224 2007h6M398 2018h6M153 2038h6M362 1952h6M330 1747h6M405 1910h6M262 1842h6M375 1987h6M405 1801h6M222 1813h6M140 1838h6M114 1991h6M183 1754h6M128 1973h6M173 1882h6M244 1993h6M434 1832h6M323 2024h6M267 2025h6M358 1833h6M407 1918h6M142 1923h6M391 1901h6M272 1867h6M409 1949h6M177 1849h6M230 2044h6M345 1772h6M420 1742h6M309 1872h6M353 1871h6M137 1902h6M388 1989h6M228 1804h6M362 1993h6M181 2020h6M447 1873h6M236 1963h6M426 1797h6M209 1839h6M358 1792h6M294 1895h6M336 1778h6M435 2058h6M299 1991h6M168 2029h6M295 1979h6M405 1849h6M424 1799h6M113 1895h6M415 2025h6M434 1898h6M427 1914h6M155 1937h6M382 1870h6M313 1816h6M200 1868h6M282 1884h6M137 1733h6M222 1965h6M363 1809h6M193 1900h6M166 1928h6M417 1797h6M307 1967h6M363 1964h6M350 1820h6M394 2034h6M123 2040h6M258 1759h6M129 1992h6M339 1777h6M264 1940h6M449 1841h6M369 1811h6M174 1784h6M246 1933h6M210 1784h6M180 1759h6M172 1834h6M279 1791h6M271 1875h6M441 1890h6M431 1885h6M173 1925h6M155 1786h6M130 1960h6M439 1863h6M227 1870h6M226 1957h6M240 1781h6M403 1918h6M107 2009h6M356 1847h6M322 2032h6M244 1872h6M208 1912h6M334 1971h6M433 1779h6M231 2009h6M378 1924h6M339 1842h6M431 1911h6M244 1791h6M145 2024h6M381 1740h6M217 1888h6M276 1850h6M414 1845h6M289 2035h6M326 1887h6M220 1858h6M315 1988h6M195 1852h6M239 1850h6M420 1907h6M200 1840h6M388 1783h6M343 1738h6M172 1750h6M383 1779h6M184 1750h6M196 1971h6M353 2029h6M432 1911h6M423 1760h6M424 1873h6M172 1976h6M401 1857h6M137 2016h6M365 1926h6M442 1743h6M124 1772h6M113 1963h6M322 1768h6M161 1790h6M315 1951h6M439 1849h6M443 1873h6M240 1814h6M185 2050h6M448 1962h6M165 1790h6M158 1846h6M359 1750h6M288 1954h6M117 1875h6M378 1919h6M261 2019h6M312 1841h6M242 2039h6M401 2030h6M298 1778h6M165 1856h6M343 1733h6M382 1988h6M283 1733h6M380 1866h6M336 1917h6M356 1865h6M436 2043h6M425 1932h6M214 1854h6M198 2027h6M378 1989h6M388 2055h6M342 1835h6M366 1817h6M316 1783h6M401 1891h6M200 2033h6M134 2035h6M366 1780h6M368 1918h6M418 1923h6M252 2036h6M135 1985h6M141 1821h6M144 2016h6M257 1969h6M194 1970h6M329 1763h6M275 1967h6M179 1945h6M201 1852h6M422 2039h6M449 1871h6M302 1995h6M367 1880h6M403 1862h6M433 1886h6M146 1976h6M155 1953h6M123 2054h6M292 1973h6M150 1939h6M235 1812h6M386 1742h6M270 1759h6M399 2023h6M117 1883h6M267 1966h6M357 1843h6M427 1792h6M152 1997h6M146 1792h6M278 1841h6M162 2035h6M268 1988h6M191 2029h6M181 2027h6M316 2049h6M371 1937h6M289 2011h6M258 1763h6M420 1994h6M340 1975h6M185 1883h6M389 2046h6M424 1783h6M341 1912h6M245 1786h6M152 1885h6M275 1819h6M232 1912h6M368 1924h6M161 2021h6M232 2045h6M444 1777h6M306 2047h6M238 1910h6M213 1740h6M176 1772h6M203 1937h6M299 2041h6M341 1849h6M433 1938h6" fill="none" stroke="#666" stroke-width="6" transform="scale(.1)"/>
<path d="M163 1765h6M142 1760h6M164 1799h6M190 1788h6M196 1814h6M205 1787h6M280 1818h6M290 1758h6M107 1856h6M282 1764h6M284 1807h6M204 1809h6M146 1780h6M190 1783h6M242 1785h6M172 1798h6M177 1803h6M142 1746h6M363 1742h6M261 1826h6M254 1792h6M196 1778h6M144 1794h6M253 1742h6M192 1749h6M129 1802h6M296 1753h6M179 1796h6M168 1789h6M232 1800h6M275 1783h6M161 1742h6M198 1751h6M173 1774h6M197 1806h6M226 1782h6M317 1781h6M330 1779h6M231 1751h6M210 1754h6M302 1785h6M303 1794h6M197 1764h6M173 1789h6M212 1772h6M226 1761h6M141 1766h6M278 1798h6M180 1792h6M249 1751h6M337 1770h6M129 1783h6M218 1817h6M294 1768h6M167 1771h6M183 1753h6M197 1815h6M269 1771h6M118 1799h6M291 1741h6M242 1829h6M282 1798h6M201 1763h6M228 1815h6M256 1804h6M198 1774h6M304 1783h6M270 1767h6M131 1784h6M143 1790h6M185 1746h6M199 1793h6M204 1761h6M358 1791h6M127 1799h6M262 1808h6M276 1766h6M113 1787h6M197 1767h6M240 1813h6M231 1774h6M136 1769h6M137 1773h6M145 1808h6M190 1791h6M201 1770h6M169 1809h6M120 1799h6M245 1777h6M195 1803h6M217 1844h6M339 1791h6M181 1746h6M191 1764h6M258 1741h6M194 1782h6M256 1745h6M198 1742h6M251 1792h6M279 1771h6M318 1764h6M194 1808h6M162 1762h6M241 1742h6M263 1792h6M127 1776h6M152 1753h6M220 1769h6M262 1780h6M249 1787h6M111 1770h6M148 1803h6M225 1848h6M236 1737h6M184 1828h6M174 1782h6M263 1817h6M279 1776h6M119 1763h6M241 1734h6M209 1821h6M117 1799h6M144 1757h6M229 1796h6M193 1791h6M248 1827h6M136 1751h6M319 1801h6M153 1795h6M313 1768h6M225 1803h6M157 1748h6M257 1778h6M214 1757h6M244 1805h6M205 1780h6M137 1761h6M111 1780h6M213 1761h6M114 1773h6M245 1816h6M292 1756h6M172 1802h6M214 1755h6M125 1764h6M198 1784h6M259 1755h6M233 1790h6M180 1799h6M196 1791h6M159 1755h6M164 1827h6M230 1786h6M149 1783h6M121 1788h6M198 1764h6M234 1744h6M114 1798h6M126 1740h6M282 1795h6M233 1779h6M125 1790h6M199 1759h6M211 1791h6M200 1801h6M236 1748h6M234 1768h6M180 1795h6M273 1751h6M203 1791h6M163 1797h6M154 1758h6M283 1757h6M178 1838h6M288 1769h6M225 1759h6M128 1767h6M255 1793h6M287 1760h6M254 1800h6M288 1763h6M135 1761h6M228 1786h6M125 1792h6M141 1778h6M183 1792h6M375 1761h6M201 1784h6M241 1752h6M115 1776h6M301 1804h6M273 1794h6M274 1764h6M281 1800h6M260 1767h6M175 1763h6M298 1741h6M172 1785h6M110 1784h6M275 1796h6M121 1779h6M259 1796h6M108 1808h6M260 1842h6M234 1823h6M180 1772h6M335 1801h6M318 1773h6M198 1802h6M152 1799h6M172 1796h6M343 1775h6M214 1773h6M222 1813h6M243 1790h6M228 1772h6M255 1832h6M127 1836h6M246 1766h6M357 1795h6M230 1810h6M160 1736h6M110 1805h6M285 1730h6M228 1760h6M213 1800h6M185 1777h6M308 1762h6M230 1792h6M370 1756h6M262 1772h6M200 1779h6M154 1785h6M263 1774h6M248 1814h6M329 1745h6M215 1783h6M155 1774h6M136 1783h6M171 1772h6M298 1751h6M208 1761h6M177 1777h6M202 1785h6M149 1795h6M122 1747h6M142 1812h6M286 1764h6M335 1788h6M131 1746h6M230 1750h6M244 1790h6M240 1797h6M148 1789h6M236 1762h6M179 1744h6M214 1747h6M231 1781h6M189 1795h6M180 1825h6" fill="none" stroke="#3a3a3a" stroke-width="6" transform="scale(.1)"/>
<rect x="10.1" y="172.1" width="31.4" height="7.6" fill="none" stroke="#666" stroke-width="0.6"/>
<rect x="27.8" y="179.3" width="17.2" height="26.8" fill="none" stroke="#666" stroke-width="0.6"/>
<line x1="23.8" y1="162.8" x2="23.8" y2="206.1" stroke="#555" stroke-width="0.7"/>
<line x1="9.8" y1="194.5" x2="57.4" y2="194.5" stroke="#555" stroke-width="0.7"/>
<rect x="9.8" y="162.8" width="47.6" height="43.3" fill="none" stroke="#555" stroke-width="0.8"/>
<path d="M350 1813h6M304 1931h6M415 1859h6M406 1917h6M395 1857h6M291 1874h6M332 1827h6M270 1961h6M382 1899h6M307 1989h6M244 1961h6M342 1956h6M349 1983h6M360 1903h6M372 1828h6M342 1934h6M252 1946h6M353 1975h6M332 1999h6M379 1953h6M343 1907h6M279 1976h6M309 1891h6M348 1994h6M311 1823h6M350 1921h6M388 1805h6M370 1820h6M310 1850h6M295 1971h6M336 1799h6M259 1862h6M335 1864h6M405 1896h6M296 1830h6M273 1894h6M321 1837h6M346 1844h6M304 1986h6M384 1871h6M416 1869h6M389 1917h6M307 1900h6M311 1920h6M326 1891h6M283 1938h6M375 1820h6M330 1973h6M372 1838h6M366 1932h6M395 1943h6M287 1905h6M290 1921h6M362 1928h6M382 1908h6M290 1959h6M383 1950h6M308 1826h6M311 1988h6M341 1962h6M309 1795h6M374 1956h6M357 1900h6M320 1874h6M348 1889h6M331 1936h6M359 1934h6M341 1936h6M387 2000h6M400 1850h6M349 1912h6M426 2029h6M399 1813h6M367 1927h6M313 2016h6M360 1794h6M288 1887h6M388 1936h6M379 1882h6M395 1884h6M368 1882h6M313 1933h6M274 1908h6M354 1809h6M327 1889h6M385 1870h6M317 1947h6M267 1982h6M257 1873h6M323 1936h6M306 1897h6M399 1934h6M382 1895h6M308 1883h6M341 1894h6M316 1977h6M448 1838h6M363 1816h6M385 1896h6M258 1818h6M367 1852h6M290 1946h6M351 1911h6M412 1862h6M241 1888h6M417 1835h6M337 1806h6M396 1988h6M249 1880h6M303 1961h6M384 1920h6M374 1940h6M347 1892h6M295 1944h6M294 1943h6M295 1894h6M380 1989h6M334 1894h6M335 1953h6M330 1912h6M368 1939h6M333 1877h6M266 1843h6M329 1855h6M439 1934h6M313 1913h6M322 1868h6M242 1869h6M270 1921h6M303 1842h6M320 1861h6M349 1876h6M267 1924h6M264 1943h6M270 1819h6M432 1878h6M347 1841h6M398 2008h6M300 1805h6M350 1887h6M352 1797h6M268 1905h6M406 1936h6M314 1965h6M374 1804h6M435 1990h6M329 1934h6M262 2002h6M448 1918h6M348 1889h6M333 1821h6M336 1983h6M315 1985h6M260 1853h6M311 1872h6M385 1812h6M374 1833h6M373 1939h6M332 1982h6M348 1967h6M264 2052h6M310 1813h6M296 1982h6M334 1895h6M399 1995h6M355 1837h6M371 1873h6M343 1887h6M241 1871h6M271 2038h6M359 1870h6M295 2034h6M285 1951h6M307 1834h6M307 1865h6M411 1850h6M267 1991h6M304 2013h6M314 1916h6M327 1833h6M422 2035h6M362 2017h6M344 1922h6M295 1861h6M354 1876h6M271 1847h6M266 1939h6M390 1848h6M360 1920h6M299 1918h6M326 1891h6M388 1947h6M318 1947h6M296 1969h6M348 1927h6M352 1862h6M403 1868h6M318 1934h6M274 1995h6M403 1927h6M298 2039h6M296 1904h6M332 2004h6M261 2015h6M379 1920h6M260 2018h6M414 1964h6M309 1854h6M261 1963h6M277 1893h6M368 1862h6M323 2010h6M249 1909h6M407 1884h6M307 1927h6M246 1891h6M351 1876h6M349 1924h6M350 1807h6M414 1920h6M347 1904h6M308 1887h6M312 1906h6M404 1961h6M293 1884h6M334 1871h6M361 1934h6M253 1924h6M270 1890h6M305 1853h6M358 1877h6M410 1919h6M373 1871h6M428 1844h6M407 1984h6M289 1901h6M369 1979h6M366 1909h6M393 1825h6M336 1993h6M241 1874h6M348 1817h6M268 2007h6M296 1869h6M386 1883h6M352 2055h6M348 2019h6M416 1800h6M409 2057h6M345 1936h6M286 1930h6M299 1905h6M274 1858h6M348 1943h6M403 1917h6M378 1813h6M363 2052h6M253 1852h6M295 1927h6M342 1798h6M376 1840h6M354 1860h6M345 2002h6M305 1822h6M316 1903h6M374 1816h6M332 2005h6M322 1910h6M346 1943h6M369 1937h6M417 1811h6M352 1880h6M327 2012h6M360 1874h6M285 2033h6M285 1894h6M348 1793h6M306 1907h6M345 1882h6M331 1894h6M260 1887h6M383 1909h6M362 1965h6M353 1820h6M404 1807h6M289 1823h6M370 1982h6M276 1880h6M312 1874h6M361 1910h6M364 1929h6M252 1885h6M364 1884h6M290 1891h6M284 1910h6M265 1996h6M336 2002h6M342 1799h6M385 1882h6M361 1925h6M268 1907h6M272 2037h6M350 1921h6M385 1965h6M330 1834h6M257 1847h6M289 1890h6M256 1930h6M390 1798h6M283 1926h6M371 1883h6M349 1828h6M396 1860h6M316 1899h6M305 1904h6M302 1953h6M352 1840h6M326 2044h6M251 1876h6M411 1869h6M270 1897h6M328 1869h6M369 1930h6M380 1917h6M323 1939h6M339 1896h6M364 1960h6M362 1940h6M351 1903h6M396 1839h6M316 1891h6M285 2026h6M286 1819h6M309 1883h6M354 1986h6M285 2052h6M396 1919h6M321 1885h6M309 1848h6M377 1877h6M302 1844h6M292 1955h6M326 1898h6M316 1897h6M355 1961h6M379 1968h6M409 1995h6M370 1930h6M310 1931h6M352 1861h6M373 1974h6M308 1934h6M390 1941h6M321 1984h6M260 1903h6M404 2015h6M382 1892h6M287 1870h6M283 1903h6M315 1975h6M310 1933h6M277 1929h6M291 1886h6M327 1871h6M331 1979h6M289 2012h6M369 1888h6M341 1804h6M355 1929h6M351 1900h6M296 2007h6M415 1849h6M273 1959h6M368 1909h6M329 1879h6M338 1941h6M330 2050h6M302 1901h6M315 1872h6M275 1859h6M323 2014h6M405 1848h6M349 1909h6M385 1841h6M278 1977h6M318 1906h6M339 1870h6M368 1963h6M340 1861h6M253 1907h6M288 1896h6M296 1802h6M307 1911h6M300 1820h6M407 1978h6M353 2004h6M380 1900h6M258 1921h6M287 1834h6M271 1824h6M299 1908h6M265 1961h6M368 1828h6M355 1833h6M312 1838h6M427 1916h6M335 1889h6M281 1802h6M351 1864h6M340 1964h6M315 1834h6M368 1934h6M298 1899h6M407 1929h6M276 1859h6M354 1951h6M249 1884h6M276 1921h6M344 1900h6M311 1946h6M347 2004h6M302 1990h6M369 1850h6M348 2020h6M295 1945h6M355 1846h6M384 1864h6M378 1923h6M301 1890h6M288 1852h6M390 1966h6M363 1822h6M280 1892h6M341 1976h6M375 1936h6M257 1842h6M326 1848h6M309 1913h6M301 1897h6M384 1944h6M314 1918h6M355 1920h6M374 1796h6M382 1829h6M362 1793h6M382 1972h6M300 1957h6M312 2000h6M322 1871h6M285 1897h6M357 1960h6M299 1875h6M277 1850h6M324 1935h6M371 1861h6M273 2029h6M331 1876h6M338 1900h6M364 1948h6M273 1875h6M363 1887h6M369 1823h6M403 1933h6M255 1991h6M282 1922h6M340 1935h6M314 1830h6M303 1914h6M370 1897h6M427 1989h6M379 1799h6M412 1893h6M352 1949h6M416 2017h6M320 1876h6M293 1898h6M351 1927h6M329 1847h6M300 1936h6M379 1958h6M314 1961h6M391 1851h6M280 1973h6M422 1941h6M350 1908h6M390 1803h6M339 1879h6M333 1911h6M322 1885h6M355 1791h6M278 1949h6M360 1976h6M268 1998h6M378 1926h6M281 1969h6M391 1885h6M354 1945h6M374 1958h6M365 1807h6M381 1964h6" fill="none" stroke="#333" stroke-width="6" transform="scale(.1)"/>
<path d="M401 1990h7M355 1969h7M370 1845h7M376 1873h7M400 1913h7M362 1807h7M409 1954h7M417 1906h7M322 1915h7M363 1940h7M432 1852h7M351 1853h7M401 1908h7M349 1896h7M354 1840h7M423 1870h7M309 1814h7M425 1879h7M338 1840h7M406 1960h7M341 1864h7M398 1929h7M400 1794h7M376 1810h7M375 1847h7M378 1900h7M376 1935h7M425 1800h7M333 1821h7M306 1882h7M386 1883h7M420 1878h7M371 1872h7M348 1822h7M388 1982h7M369 1850h7M356 1865h7M343 1892h7M351 1945h7M347 1795h7M398 1900h7M342 1881h7M383 1954h7M389 1908h7M410 1847h7M375 1892h7M394 1822h7M370 1869h7M423 1997h7M421 1917h7M345 1822h7M395 1826h7M364 2032h7M370 1856h7M317 1903h7M392 1855h7M433 1955h7M306 1882h7M409 1924h7M388 1947h7M399 1844h7M435 1793h7M366 1841h7M440 1836h7M331 1803h7M391 1869h7M395 1923h7M335 1903h7M346 1896h7M410 1859h7M387 1838h7M411 1848h7M374 1906h7M357 1922h7M367 1860h7M405 1957h7M374 1884h7M368 2023h7M375 1923h7M405 1953h7M384 1921h7M377 2026h7M398 1866h7M430 1820h7M420 2015h7M349 1909h7M365 1879h7M427 1872h7M418 1833h7M371 1849h7M333 1992h7M430 1963h7M408 1853h7M443 1895h7M346 1920h7M292 1944h7M364 1861h7M427 1976h7M377 1814h7M323 1805h7M409 1898h7M364 1883h7M378 1792h7M373 1961h7M393 1801h7M409 1869h7M385 1958h7M415 1907h7M404 1919h7M317 1903h7M369 1981h7M386 1824h7M364 1941h7M388 1880h7M432 1917h7M381 1961h7M409 1909h7M423 1848h7M412 1836h7M387 1792h7M416 1822h7M441 1885h7M399 1824h7M356 1900h7M376 1871h7M330 1850h7M345 1802h7M391 1839h7M339 1837h7M395 1795h7M394 2039h7M313 1820h7M373 1889h7M434 1870h7M404 1902h7M323 1872h7M382 1889h7M388 1860h7M376 1911h7M431 1818h7M423 1825h7M377 1875h7M381 1874h7M416 1929h7M355 1926h7M342 1960h7M424 1813h7M412 1813h7M402 2017h7M379 1964h7M355 1863h7M365 1991h7M399 1832h7M339 1854h7M410 1943h7M363 1931h7M388 1860h7M395 2010h7M373 1876h7M381 1846h7M393 1856h7M319 1901h7M322 1881h7M388 1976h7M422 1910h7M346 1886h7M406 2056h7M415 1900h7M339 1984h7M379 2021h7M343 1966h7M414 1882h7M398 2027h7M376 1839h7M416 1870h7M328 1915h7M364 1934h7M336 1815h7M368 1850h7M378 1919h7M402 1888h7M392 1852h7M327 1841h7M368 1853h7M318 1840h7M366 1815h7M370 1869h7M404 1933h7M346 1909h7M375 1867h7M427 1924h7M395 1802h7M374 1944h7M359 1818h7M348 1887h7M350 2053h7M384 1882h7M366 1908h7M401 1855h7M368 1948h7M389 1923h7M385 1841h7M400 1923h7M384 1876h7M416 1822h7M401 1868h7M390 1928h7M334 1869h7M384 1888h7M390 1931h7M315 1928h7M413 1844h7M377 1836h7M429 1832h7M339 1828h7M360 1884h7M387 1940h7M323 1895h7M376 1878h7M362 1849h7M404 1949h7M333 1905h7M353 1919h7M360 1880h7M419 1966h7M422 1887h7M402 1858h7M435 1823h7M351 1938h7M336 1893h7M427 1897h7M407 1889h7M395 1795h7M445 1858h7M371 1890h7M431 1859h7M382 1942h7M410 1852h7M375 1880h7M358 1807h7M367 1983h7M314 1980h7M373 1891h7M430 1830h7M394 1882h7M359 1855h7M409 1843h7M384 1865h7M386 1817h7M395 1945h7M391 1820h7M378 1932h7M409 1909h7M393 1818h7M395 1795h7M384 1847h7M396 1955h7M389 1925h7M379 1840h7M409 1870h7M342 1875h7M380 1903h7M402 1830h7M446 1796h7M402 1963h7M346 1865h7M392 1950h7M372 1853h7M377 1872h7M349 1841h7M361 1927h7M367 1852h7M392 1906h7M400 1881h7M416 1847h7M322 1973h7M435 1800h7M397 1825h7M388 1917h7M418 1910h7M391 1932h7M351 1897h7M368 1802h7M389 1912h7M402 1964h7M381 1975h7M316 1856h7M378 1900h7M368 1876h7M380 1804h7M394 1938h7M428 1820h7M377 1949h7M310 2037h7M335 1931h7M399 1827h7M393 1868h7M306 1922h7M417 2005h7M369 1845h7M389 1799h7M396 1883h7M361 1839h7M388 1962h7M422 1895h7M395 1895h7M446 1811h7M429 1949h7M393 1845h7M380 1813h7M365 1817h7M444 1862h7M367 1890h7M391 1866h7M435 2039h7M365 1895h7M370 1902h7M404 1847h7M373 1881h7M403 1805h7M352 1879h7M380 2045h7M390 1870h7M412 1894h7M371 1910h7M310 1792h7M365 1961h7M343 1842h7M382 1889h7M436 1900h7M392 1873h7M374 1956h7M373 1879h7M430 1911h7M357 1797h7M403 1965h7M380 1909h7M427 1842h7M421 1871h7M377 1818h7M394 1862h7M411 1795h7M381 1892h7M444 1814h7M384 1871h7M335 1874h7M398 1864h7M378 1933h7M341 1838h7M417 1858h7M365 1799h7M431 1838h7M341 1909h7M399 1873h7M393 1820h7M348 1946h7M363 1936h7M364 1822h7M403 1869h7M384 1848h7M403 1819h7M397 1876h7M369 1971h7M395 1797h7M354 1856h7M404 1858h7M378 1972h7M439 1837h7M378 1834h7M305 1934h7M345 1883h7M399 1854h7M401 1940h7M342 1897h7M334 1940h7M413 1897h7M413 1916h7M416 1963h7M322 1876h7M370 1928h7M351 1942h7M368 1961h7M411 1959h7M365 1817h7M385 1821h7M336 1824h7M411 1879h7M389 1920h7M396 1923h7M379 1881h7M354 1937h7M405 1949h7M338 1969h7M401 1820h7M356 1834h7M346 1914h7M435 1912h7M406 1923h7M380 1811h7M386 1861h7M382 1863h7M392 2013h7M382 1852h7M367 1906h7M361 1905h7M348 1860h7M368 1900h7M361 1822h7M402 1989h7M418 1844h7M363 1928h7M398 1843h7M343 1824h7M384 1890h7M437 1792h7M329 1861h7M427 1921h7M405 1941h7M403 1978h7M368 1840h7M406 1893h7M379 1944h7M325 2016h7M421 1835h7M356 1795h7M372 1919h7M364 1984h7M387 1818h7M342 1896h7M390 1922h7M401 1904h7M432 1950h7M401 1871h7M363 1884h7M289 1926h7M327 1970h7M364 1905h7M336 1854h7M364 1844h7M411 1944h7M335 1822h7M389 1861h7M397 1931h7M374 1807h7M399 1923h7M376 1801h7M377 1896h7M381 1853h7M389 1905h7M376 1888h7M377 1852h7M368 1869h7M422 1876h7M346 1817h7M402 1822h7M380 1913h7M377 1928h7M418 1813h7M430 1967h7M420 1841h7M425 1855h7M414 1855h7M364 1835h7M353 1900h7M393 1898h7M402 1912h7M432 1798h7M411 1888h7M402 1839h7M341 1873h7M350 1801h7M351 1847h7M421 1967h7M417 1914h7M358 1820h7M415 1873h7M409 1941h7M379 2000h7M367 1988h7M361 1907h7M387 2002h7M373 1807h7M351 1812h7M399 1923h7M420 1868h7M402 1931h7M350 1912h7M363 1828h7M371 1895h7M362 1825h7M347 1862h7M397 1796h7M388 1891h7M362 1895h7M412 1889h7M359 1863h7M377 1961h7M412 1842h7M398 1810h7M413 1807h7M405 2001h7M404 1822h7M368 1865h7M407 1986h7M356 1811h7M418 1833h7M376 1976h7M396 1917h7M424 1887h7M385 1921h7M312 1832h7M347 2034h7M389 1991h7M402 1829h7M388 1852h7M392 1834h7M372 1862h7M363 1841h7M338 1836h7M298 1846h7M430 1923h7M330 1833h7M368 2015h7M332 1929h7M374 1916h7M335 1935h7M329 1812h7M394 1900h7M366 1884h7M385 1845h7M388 1889h7M371 1907h7M367 1945h7M429 1845h7M351 1807h7M358 1946h7M370 1804h7M413 1949h7M420 1971h7M358 1816h7M375 1897h7M366 1901h7M367 1873h7M393 1896h7M379 1822h7M394 1916h7M357 1834h7M390 1813h7M424 1864h7M384 1925h7M358 1880h7M397 1884h7M404 1919h7M349 1923h7M391 1834h7M382 1825h7M393 1848h7M377 1942h7M408 1835h7M332 1842h7M370 1913h7M436 1882h7M372 1828h7M362 1878h7M355 1828h7M360 1796h7M391 1854h7M365 1893h7M366 1825h7M381 1890h7M381 1915h7M377 1979h7M397 1930h7M435 1906h7M385 1857h7M396 1815h7M390 1868h7M342 1994h7M369 1941h7M355 1835h7M380 1854h7M407 1903h7M431 1824h7M354 1979h7M382 1881h7M416 1843h7M374 1840h7M441 1964h7M368 1839h7M393 1942h7M403 1868h7M432 1871h7M408 1889h7M440 1869h7M356 1866h7M382 1956h7M363 1932h7M386 1839h7M374 1929h7M316 1840h7M437 1958h7M327 1984h7M413 1875h7M347 1968h7M346 2035h7M358 1842h7M352 1797h7M384 1884h7M411 1943h7M326 1842h7M381 1870h7M417 1893h7M423 1917h7M397 1881h7M376 1908h7M323 1907h7M364 1930h7M369 1878h7M386 1871h7M401 1895h7M360 1966h7M370 1910h7M437 1841h7M424 1981h7M415 1893h7M338 1852h7M353 1913h7M407 1868h7M338 1905h7M404 1863h7M385 1941h7M395 1963h7M440 1947h7M427 1889h7M355 1827h7M360 1923h7M380 1926h7M375 1824h7M399 1797h7M323 1858h7M363 1976h7M381 1941h7M414 1898h7M323 1863h7M373 1823h7M388 1823h7M361 1797h7M344 1863h7M412 1886h7M400 1957h7M318 1916h7M408 1979h7M369 1866h7M397 1874h7M427 1922h7M393 1892h7M399 1860h7M398 1895h7M396 1914h7M314 1985h7M401 1925h7M341 1837h7M389 1917h7M377 1966h7M353 1901h7M389 1852h7M368 1825h7M338 1882h7M425 1904h7M344 1857h7M375 1957h7M387 1823h7M378 1829h7M381 1951h7M385 1944h7M342 1893h7M425 1801h7M360 1800h7M395 1824h7M378 1860h7M368 1870h7M415 1828h7M417 1812h7M349 1829h7M306 1922h7M427 1934h7M375 1956h7M339 1858h7M402 1897h7M349 1831h7M416 1855h7M308 1968h7M353 1901h7M415 1916h7M385 1852h7M403 1840h7M387 1836h7M354 1875h7M439 1867h7M391 1930h7M333 1912h7M363 1865h7M439 1975h7M347 1923h7M431 1926h7M422 2024h7M429 1871h7M318 1873h7M361 1874h7M394 1849h7M379 1888h7M405 1973h7M353 1836h7M428 1965h7M366 1864h7M393 1957h7M381 1890h7M412 1903h7M364 1871h7M374 1825h7M390 1883h7M327 1856h7M362 1962h7M398 1871h7M379 1946h7M319 1824h7M317 1828h7M349 1882h7M343 1952h7M393 1824h7M401 1838h7M400 1833h7M439 1927h7M358 1892h7M378 1886h7M349 1954h7M351 1856h7M399 1815h7M368 1946h7M350 1876h7M337 1874h7M365 1958h7M383 1840h7M371 1958h7M414 1859h7M331 1871h7M426 1884h7M333 1897h7M376 1875h7M378 1818h7M353 1933h7M401 1810h7M321 1941h7M404 1882h7M367 1992h7M331 1849h7M405 1901h7M412 1949h7M366 1938h7M373 1873h7M383 1862h7M388 1952h7M432 1914h7M404 1796h7M377 1904h7M387 1845h7M351 1935h7M391 1946h7M405 1981h7M369 1934h7M337 1871h7M423 1812h7M378 1848h7M435 1812h7M409 1876h7M318 1868h7M349 1863h7M361 1865h7M380 1888h7M405 1811h7M431 2003h7M394 2005h7M432 1957h7M368 1955h7M407 1982h7M398 1807h7M334 1889h7M377 1858h7M345 1871h7M371 1812h7M398 1841h7M388 1920h7M397 1937h7M354 1954h7M350 1828h7M393 1823h7M372 1882h7M375 1835h7M359 1803h7M372 1834h7M375 1892h7M344 1884h7M303 1803h7M345 1841h7M378 1851h7M387 1949h7M397 1853h7M389 1837h7M368 1892h7M434 1883h7M381 1855h7M338 1807h7M387 1933h7M386 1816h7M379 1932h7M383 1940h7M330 1894h7M384 1907h7M401 1948h7M410 1933h7M369 1843h7M384 1875h7M340 1938h7M402 1906h7M406 1888h7M352 1885h7M381 1878h7M415 1891h7M370 1812h7M317 1988h7M374 1943h7M397 1880h7M402 1878h7M443 1843h7M375 1868h7M397 1969h7M400 1917h7M381 1872h7M407 1814h7M377 1819h7M378 1797h7M307 1944h7M397 1941h7M413 1795h7M304 1798h7M361 1987h7M374 1858h7M398 1894h7M378 2006h7M347 1836h7M370 1966h7M412 1842h7M390 1827h7M374 1863h7M344 1901h7M349 1809h7M396 1804h7M433 1914h7M364 1863h7M360 1971h7M387 1883h7M352 1975h7M382 1827h7M439 1893h7M368 1932h7M364 1864h7M419 1796h7M376 1867h7M396 1804h7M342 1852h7M350 1881h7M379 1882h7M389 1800h7M369 1884h7M428 1891h7M384 2003h7M366 1958h7M406 1794h7M382 1923h7M341 1964h7M364 1901h7M375 1898h7M356 1973h7M354 1978h7M371 1813h7M412 1878h7M372 1793h7M373 1862h7M348 1802h7M421 1924h7M364 1801h7M377 1900h7M360 1859h7M419 1852h7M367 1948h7M378 1865h7M347 1936h7M390 1848h7M377 1958h7M378 1859h7M386 1875h7M417 1850h7M366 1823h7M377 1854h7M374 1833h7M350 1882h7M299 1799h7M440 1885h7M436 1993h7M386 1807h7M397 1812h7M385 1886h7M439 1859h7M375 1854h7M413 1819h7M368 2046h7M351 1905h7M403 1907h7M418 1853h7M437 1892h7M375 1904h7M387 1861h7M402 1818h7M398 1850h7M291 1940h7M379 1852h7M336 1900h7M371 1943h7M326 1955h7M405 1977h7M392 1889h7M354 1977h7M385 1963h7M383 1835h7M408 1937h7M296 1844h7M403 1941h7M383 1822h7M395 1845h7M398 1819h7M406 1928h7M293 1877h7M328 1940h7M313 1949h7M371 1868h7M387 1814h7M384 1821h7M387 1894h7M331 1839h7M347 1975h7M421 1879h7M359 1801h7M390 1868h7M352 1884h7M350 1845h7M353 1996h7M333 1884h7M349 1833h7M415 1860h7M361 1998h7M329 1856h7M327 1875h7M346 1966h7M432 1947h7M344 1889h7M425 1813h7M381 1803h7M387 1963h7M378 2012h7M372 1922h7M440 1810h7M361 1843h7M435 1797h7M386 1925h7M383 2009h7M376 1939h7M421 1903h7M354 1820h7M401 1837h7M415 1887h7M374 1986h7M365 1840h7M442 1918h7M359 1829h7M384 1873h7M353 1847h7M366 1934h7M385 1837h7M374 1819h7M376 1865h7M443 1806h7M429 1873h7M349 1994h7M398 1794h7M369 1842h7M342 1881h7M381 1960h7M427 1942h7M354 1963h7M387 1802h7" fill="none" stroke="#111" stroke-width="7" transform="scale(.1)"/>
<ellipse cx="38.6" cy="186.5" rx="4.2" ry="7.2" fill="#111" opacity="0.85"/>
<text x="11" y="252.6" font-size="7.4" text-anchor="start" font-weight="bold" fill="#000" stroke="#000" stroke-width="0.34">healthy adult</text>
<rect x="4.8" y="256.6" width="1" height="1.9" fill="#444" stroke="none" stroke-width="0.8"/>
<rect x="6.1" y="255.9" width="1" height="1" fill="#666" stroke="none" stroke-width="0.8"/>
<line x1="8.6" y1="257.5" x2="10" y2="257.5" stroke="#333" stroke-width="0.5"/>
<rect x="4.8" y="267.38" width="1" height="1.9" fill="#444" stroke="none" stroke-width="0.8"/>
<rect x="6.1" y="266.67" width="1" height="1" fill="#666" stroke="none" stroke-width="0.8"/>
<line x1="8.6" y1="268.27" x2="10" y2="268.27" stroke="#333" stroke-width="0.5"/>
<rect x="4.8" y="278.15" width="1" height="1.9" fill="#444" stroke="none" stroke-width="0.8"/>
<rect x="6.1" y="277.45" width="1" height="1" fill="#666" stroke="none" stroke-width="0.8"/>
<line x1="8.6" y1="279.05" x2="10" y2="279.05" stroke="#333" stroke-width="0.5"/>
<rect x="4.8" y="288.93" width="1" height="1.9" fill="#444" stroke="none" stroke-width="0.8"/>
<rect x="6.1" y="288.23" width="1" height="1" fill="#666" stroke="none" stroke-width="0.8"/>
<line x1="8.6" y1="289.83" x2="10" y2="289.83" stroke="#333" stroke-width="0.5"/>
<rect x="4.8" y="299.7" width="1" height="1.9" fill="#444" stroke="none" stroke-width="0.8"/>
<rect x="6.1" y="299" width="1" height="1" fill="#666" stroke="none" stroke-width="0.8"/>
<line x1="8.6" y1="300.6" x2="10" y2="300.6" stroke="#333" stroke-width="0.5"/>
<rect x="8.4" y="302.3" width="2.2" height="1.1" fill="#555" stroke="none" stroke-width="0.8"/>
<rect x="10.4" y="301.6" width="0.9" height="0.8" fill="#777" stroke="none" stroke-width="0.8"/>
<line x1="10" y1="300.6" x2="10" y2="301.6" stroke="#333" stroke-width="0.5"/>
<rect x="20.6" y="302.3" width="2.2" height="1.1" fill="#555" stroke="none" stroke-width="0.8"/>
<rect x="22.6" y="301.6" width="0.9" height="0.8" fill="#777" stroke="none" stroke-width="0.8"/>
<line x1="22.2" y1="300.6" x2="22.2" y2="301.6" stroke="#333" stroke-width="0.5"/>
<rect x="32.8" y="302.3" width="2.2" height="1.1" fill="#555" stroke="none" stroke-width="0.8"/>
<rect x="34.8" y="301.6" width="0.9" height="0.8" fill="#777" stroke="none" stroke-width="0.8"/>
<line x1="34.4" y1="300.6" x2="34.4" y2="301.6" stroke="#333" stroke-width="0.5"/>
<rect x="45" y="302.3" width="2.2" height="1.1" fill="#555" stroke="none" stroke-width="0.8"/>
<rect x="47" y="301.6" width="0.9" height="0.8" fill="#777" stroke="none" stroke-width="0.8"/>
<line x1="46.6" y1="300.6" x2="46.6" y2="301.6" stroke="#333" stroke-width="0.5"/>
<rect x="57.2" y="302.3" width="2.2" height="1.1" fill="#555" stroke="none" stroke-width="0.8"/>
<rect x="59.2" y="301.6" width="0.9" height="0.8" fill="#777" stroke="none" stroke-width="0.8"/>
<line x1="58.8" y1="300.6" x2="58.8" y2="301.6" stroke="#333" stroke-width="0.5"/>
<path d="M377 2659h6M381 2668h6M194 2653h6M149 2666h6M282 2703h6M169 2667h6M233 2686h6M226 2688h6M162 2654h6M298 2691h6M157 2654h6M326 2655h6M407 2689h6M166 2674h6M133 2656h6M226 2700h6M402 2693h6M316 2683h6M276 2687h6M271 2673h6M379 2668h6M243 2689h6M419 2670h6M251 2673h6M181 2671h6M364 2662h6M265 2667h6M297 2694h6M151 2678h6M174 2687h6M328 2663h6M188 2668h6M218 2700h6M390 2695h6M239 2676h6M178 2677h6M415 2656h6M239 2662h6M381 2668h6M269 2654h6M333 2680h6M367 2691h6M349 2666h6M194 2684h6M131 2703h6M342 2678h6M229 2656h6M290 2694h6M152 2657h6M331 2677h6M364 2674h6M424 2699h6M216 2681h6M300 2676h6M373 2690h6M373 2665h6M274 2681h6M299 2652h6M371 2676h6M165 2698h6M290 2692h6M348 2685h6M403 2654h6M220 2660h6M315 2663h6M124 2659h6M170 2681h6M258 2677h6M119 2680h6M195 2656h6M133 2660h6M241 2660h6M261 2660h6M347 2699h6M217 2655h6M419 2656h6M320 2693h6M267 2700h6M161 2691h6M401 2701h6M382 2675h6M276 2698h6M235 2665h6M125 2662h6M159 2702h6M212 2671h6M422 2689h6M252 2657h6M230 2667h6M414 2674h6M421 2666h6M130 2701h6M139 2695h6M303 2667h6M378 2675h6M425 2682h6M412 2702h6M234 2689h6M344 2687h6M122 2689h6M355 2662h6M145 2655h6M286 2657h6M382 2674h6M429 2692h6M250 2661h6M249 2685h6M386 2700h6M217 2653h6M324 2689h6M319 2695h6M371 2686h6M374 2658h6M413 2688h6M145 2661h6M317 2668h6M410 2667h6M268 2679h6M411 2668h6M396 2691h6M139 2697h6M134 2674h6M186 2682h6M261 2694h6M238 2670h6M231 2691h6M157 2697h6M241 2685h6M197 2673h6M162 2679h6M284 2700h6M189 2705h6M206 2700h6M161 2691h6M214 2674h6M144 2687h6M238 2689h6M234 2698h6M237 2686h6M304 2695h6M234 2672h6M164 2665h6M145 2671h6M204 2670h6M165 2663h6M279 2694h6M209 2662h6M186 2685h6M190 2687h6M144 2674h6M243 2684h6M197 2690h6M116 2683h6M231 2690h6M210 2653h6M186 2698h6M189 2686h6M197 2675h6M167 2682h6M246 2662h6M225 2672h6M176 2671h6M231 2676h6M217 2685h6M202 2660h6M205 2682h6M171 2668h6M165 2679h6M204 2680h6M158 2689h6" fill="none" stroke="#444" stroke-width="6" transform="scale(.1)"/>
<path d="M248 2842h6M163 2857h6M173 2866h6M226 2869h6M287 2838h6M184 2786h6M227 2842h6M193 2857h6M153 2796h6M139 2740h6M168 2721h6M224 2812h6M189 2841h6M219 2822h6M127 2766h6M114 2739h6M280 2735h6M229 2773h6M245 2852h6M276 2867h6M303 2777h6M308 2835h6M166 2766h6M215 2848h6M130 2856h6M244 2808h6M191 2774h6M191 2828h6M199 2827h6M285 2727h6M114 2864h6M149 2843h6M191 2749h6M112 2782h6M230 2722h6M112 2759h6M286 2833h6M161 2778h6M193 2826h6M167 2770h6M211 2751h6M196 2833h6M211 2722h6M180 2804h6M156 2775h6M222 2771h6M147 2853h6M123 2858h6M129 2802h6M219 2779h6M235 2854h6M174 2723h6M150 2854h6M230 2834h6M188 2765h6M248 2804h6M293 2739h6M179 2824h6M291 2788h6M268 2731h6M238 2766h6M249 2761h6M147 2756h6M255 2827h6M293 2779h6M123 2842h6M161 2828h6M208 2784h6M116 2749h6M260 2787h6M286 2842h6M217 2870h6M110 2777h6M217 2722h6M284 2737h6M226 2756h6M186 2787h6M168 2740h6M243 2813h6M126 2869h6M131 2749h6M166 2771h6M208 2857h6M130 2805h6M235 2754h6M181 2784h6M287 2837h6M206 2724h6M182 2844h6M197 2776h6M180 2888h6M181 2965h6M122 2933h6M204 2914h6M168 2924h6M171 2930h6M148 2994h6M186 3003h6M147 2939h6M150 2987h6M150 2965h6M129 2948h6M140 2993h6M150 2997h6M172 2924h6M171 2995h6M186 2982h6M172 2957h6M125 2983h6M180 2961h6M143 2975h6M168 2921h6M219 2976h6M185 2984h6M187 2929h6M215 2992h6M184 2935h6M165 2888h6M208 2983h6M175 2939h6M198 2886h6M154 2913h6M177 2925h6M177 2991h6M155 2897h6M111 2983h6M162 2936h6M113 2895h6M110 2990h6M115 2922h6M162 2952h6M134 2960h6M180 3001h6M120 2919h6M121 2918h6M133 2887h6M199 2916h6M192 2981h6M198 2886h6M175 2985h6M180 2955h6M157 2982h6M169 2925h6M165 2940h6M131 2964h6M202 2961h6M111 2932h6M194 2899h6M166 2965h6M169 2923h6M112 2967h6M128 2955h6M168 2970h6M122 3000h6M192 2988h6M130 2969h6M152 2967h6M187 2932h6M214 2936h6M161 2969h6M326 2990h6M356 2989h6M325 2898h6M400 2912h6M375 2907h6M423 2971h6M417 2899h6M308 2953h6M314 2969h6M393 2995h6M439 2962h6M441 2944h6M349 2890h6M420 2963h6M408 2944h6M377 2993h6M364 2900h6M462 2974h6M452 3001h6M374 2902h6M384 2942h6M366 2977h6M343 2999h6M336 2917h6M441 2911h6M423 2916h6M370 2939h6M342 2982h6M460 2994h6M327 2886h6M375 2972h6M393 2998h6M468 2965h6M344 2931h6M311 2930h6M428 2921h6M331 2948h6M452 2960h6M319 2935h6M339 2980h6M371 2936h6M449 2919h6M376 3001h6M352 2948h6M410 2923h6M407 2934h6M441 2950h6M424 2952h6M419 2930h6M325 2927h6M246 2885h6M282 2946h6M258 2968h6M225 2898h6M277 2888h6M290 2944h6M297 2986h6M253 2924h6M255 2975h6M257 2969h6M299 2973h6M261 2972h6M260 2953h6M254 2995h6M299 2951h6M265 2895h6M265 2995h6M239 2976h6M240 2969h6M243 2954h6M282 2887h6M287 2946h6M240 2920h6M264 2972h6M234 2891h6M239 2959h6M252 2975h6M278 2927h6M267 2900h6M269 2961h6M352 2820h6M336 2869h6M400 2861h6M419 2747h6M429 2811h6M374 2824h6M433 2822h6M349 2867h6M456 2782h6M459 2872h6M368 2744h6M353 2791h6M337 2751h6M428 2716h6M410 2778h6M425 2754h6M389 2747h6M317 2851h6M372 2760h6M460 2772h6M399 2735h6M379 2853h6M443 2844h6M457 2750h6M323 2734h6M416 2800h6M372 2827h6M349 2810h6M380 2735h6M435 2742h6M439 2835h6M383 2786h6M347 2735h6M423 2772h6M402 2772h6M356 2739h6M433 2782h6M339 2853h6M339 2750h6M339 2803h6M436 2718h6M458 2825h6M444 2780h6M383 2728h6M356 2852h6M359 2857h6M444 2860h6M337 2781h6M444 2763h6M353 2716h6M398 2801h6M348 2754h6M413 2741h6M437 2853h6M380 2734h6M403 2760h6M331 2826h6M402 2756h6M353 2829h6M457 2769h6M406 2748h6M387 2806h6M362 2810h6M399 2720h6M333 2779h6M338 2800h6M407 2813h6M452 2810h6M435 2731h6M450 2862h6M407 2845h6M400 2783h6M340 2790h6M426 2840h6M454 2796h6M461 2773h6M318 2781h6M399 2837h6M351 2717h6M427 2744h6" fill="none" stroke="#555" stroke-width="6" transform="scale(.1)"/>
<rect x="11.2" y="264.4" width="31.8" height="6.2" fill="none" stroke="#666" stroke-width="0.6"/>
<rect x="31.3" y="270.2" width="16.2" height="17" fill="none" stroke="#666" stroke-width="0.6"/>
<line x1="21.9" y1="257.5" x2="21.9" y2="300.6" stroke="#555" stroke-width="0.7"/>
<line x1="10" y1="287.3" x2="58.8" y2="287.3" stroke="#555" stroke-width="0.7"/>
<rect x="10" y="257.5" width="48.8" height="43.1" fill="none" stroke="#555" stroke-width="0.8"/>
<path d="M402 2817h7M372 2818h7M452 2788h7M390 2798h7M406 2818h7M467 2757h7M369 2809h7M393 2835h7M440 2758h7M470 2713h7M470 2769h7M399 2812h7M408 2775h7M448 2763h7M372 2769h7M443 2751h7M419 2724h7M400 2797h7M409 2820h7M346 2810h7M455 2711h7M462 2745h7M446 2838h7M417 2851h7M400 2818h7M376 2873h7M402 2772h7M473 2809h7M425 2726h7M397 2741h7M431 2801h7M438 2807h7M382 2845h7M391 2751h7M400 2805h7M405 2835h7M330 2817h7M400 2826h7M424 2720h7M470 2811h7M372 2779h7M433 2797h7M440 2803h7M467 2772h7M434 2813h7M394 2789h7M423 2773h7M420 2774h7M435 2725h7M438 2754h7M395 2844h7M326 2822h7M331 2824h7M427 2741h7M408 2789h7M397 2790h7M390 2782h7M443 2716h7M455 2826h7M465 2717h7M388 2756h7M402 2748h7M419 2743h7M381 2756h7M386 2732h7M463 2765h7M428 2828h7M442 2800h7M449 2771h7M426 2740h7M440 2804h7M392 2744h7M414 2795h7M434 2813h7M423 2827h7M435 2764h7M412 2785h7M390 2751h7M388 2801h7M356 2823h7M453 2777h7M435 2807h7M435 2796h7M427 2745h7M450 2752h7M352 2821h7M407 2809h7M422 2818h7M441 2717h7M359 2811h7M423 2827h7M393 2770h7M420 2812h7M432 2772h7M408 2819h7M436 2733h7M447 2778h7M377 2748h7M443 2750h7M377 2831h7M417 2729h7M408 2734h7M434 2753h7M367 2820h7M417 2805h7M381 2774h7M453 2744h7M448 2753h7M448 2728h7M411 2834h7M454 2776h7M397 2784h7M449 2720h7M444 2735h7M448 2773h7M399 2832h7M416 2843h7M404 2752h7M417 2825h7M457 2787h7M375 2813h7M441 2764h7M382 2711h7M466 2776h7M417 2809h7M408 2774h7M458 2774h7M407 2830h7M399 2783h7M389 2767h7M337 2828h7M372 2818h7M443 2745h7M401 2787h7M420 2826h7M384 2769h7M454 2800h7M412 2762h7M382 2847h7M372 2824h7M420 2746h7M437 2720h7M386 2825h7M412 2733h7M451 2794h7M404 2742h7M457 2800h7M442 2791h7M345 2805h7M382 2782h7M380 2735h7M429 2806h7M446 2761h7M453 2766h7M395 2790h7M337 2789h7M422 2794h7M413 2726h7M416 2816h7M423 2780h7M383 2731h7M447 2744h7M396 2844h7M448 2790h7M379 2793h7M361 2755h7M355 2795h7M405 2828h7M402 2796h7M348 2830h7M430 2843h7M458 2761h7M453 2772h7M397 2782h7M391 2802h7M372 2789h7M351 2850h7M432 2728h7M440 2751h7M416 2757h7M467 2830h7M341 2764h7M397 2730h7M473 2722h7M351 2783h7M385 2781h7M428 2792h7M386 2772h7M426 2771h7M375 2757h7M412 2757h7M362 2834h7M428 2726h7M401 2769h7M393 2817h7M432 2794h7M458 2790h7M406 2761h7M432 2800h7M446 2748h7M433 2826h7M388 2759h7M427 2811h7M457 2771h7M415 2757h7M433 2752h7M412 2746h7M376 2749h7M432 2810h7M449 2727h7M352 2859h7M421 2721h7M413 2764h7M453 2775h7M395 2732h7M427 2820h7M449 2776h7M461 2717h7M426 2734h7M420 2762h7M378 2813h7M400 2839h7M427 2769h7M396 2752h7M439 2787h7M411 2740h7M390 2831h7M375 2862h7M379 2782h7M435 2791h7M407 2773h7M401 2780h7M386 2857h7M472 2737h7M394 2858h7M406 2794h7M450 2772h7M447 2772h7M437 2816h7M445 2808h7M352 2842h7M472 2858h7M403 2745h7M427 2736h7M390 2804h7M342 2823h7M415 2786h7M417 2789h7M419 2737h7M404 2839h7M440 2791h7M394 2786h7M430 2748h7M438 2799h7M388 2778h7M401 2822h7M438 2768h7M381 2865h7M437 2789h7M427 2798h7M431 2771h7M472 2764h7M407 2745h7M422 2765h7M412 2783h7M412 2810h7M416 2757h7M422 2752h7M444 2736h7M352 2849h7M355 2731h7M439 2762h7M395 2851h7M448 2758h7M466 2777h7M422 2780h7M398 2860h7M454 2821h7M440 2778h7M403 2810h7M396 2828h7M426 2733h7M382 2827h7M443 2783h7M358 2777h7M357 2814h7M450 2771h7M419 2785h7M413 2752h7M392 2839h7M393 2740h7M388 2794h7M417 2762h7M448 2748h7M391 2811h7M411 2772h7M397 2735h7M450 2824h7M463 2795h7M459 2869h7M454 2790h7M399 2835h7M388 2801h7M375 2785h7M418 2824h7M373 2785h7M463 2767h7M389 2781h7M458 2802h7M415 2783h7M391 2845h7M417 2802h7M429 2817h7M435 2722h7M399 2811h7M396 2806h7M405 2825h7M403 2756h7M440 2711h7M389 2830h7M384 2759h7M451 2796h7M412 2726h7M365 2856h7M434 2756h7M439 2766h7M420 2825h7M347 2846h7M401 2807h7M451 2785h7M424 2770h7M432 2800h7M449 2772h7M402 2814h7M389 2793h7M447 2744h7M421 2763h7M429 2752h7M441 2827h7M432 2814h7M367 2825h7M451 2804h7M414 2836h7M418 2799h7M426 2850h7M461 2823h7M458 2800h7M393 2750h7M396 2811h7M352 2843h7M437 2815h7M446 2804h7M470 2744h7M374 2777h7M462 2727h7M402 2790h7M393 2778h7M348 2805h7M446 2770h7M360 2832h7M377 2771h7M443 2772h7M416 2749h7M436 2733h7M462 2744h7M357 2868h7M456 2757h7M359 2736h7M370 2838h7M384 2775h7M392 2851h7M421 2808h7M387 2795h7M446 2823h7M363 2803h7M432 2802h7M439 2763h7M428 2790h7M426 2747h7M429 2813h7M401 2868h7M434 2855h7M384 2775h7M394 2715h7M351 2823h7M375 2804h7M409 2740h7M440 2815h7M404 2820h7M367 2815h7M419 2737h7M341 2833h7M373 2816h7M385 2757h7M405 2795h7M420 2773h7M441 2798h7M400 2786h7M415 2722h7M457 2772h7M462 2842h7M444 2778h7M454 2720h7M361 2783h7M408 2782h7M377 2811h7M375 2839h7M434 2813h7M422 2809h7M427 2783h7M381 2818h7M411 2805h7M375 2747h7M366 2835h7M458 2830h7M397 2791h7M435 2779h7M450 2772h7M413 2802h7M360 2780h7M409 2847h7M381 2786h7M378 2843h7M443 2775h7M385 2828h7M391 2777h7M408 2801h7M474 2812h7M407 2835h7M426 2832h7M366 2798h7M449 2794h7M378 2820h7M415 2760h7M402 2778h7M409 2723h7M444 2795h7M398 2797h7M440 2790h7M371 2767h7M354 2789h7M450 2824h7M429 2757h7M401 2792h7M414 2723h7M436 2795h7M412 2833h7M444 2812h7M359 2825h7M375 2798h7M366 2740h7M390 2800h7M437 2801h7M437 2756h7M461 2709h7M397 2773h7M407 2759h7M399 2811h7M430 2785h7M401 2861h7M413 2840h7M364 2792h7M416 2810h7M404 2746h7M410 2796h7M441 2761h7M335 2813h7M436 2750h7M431 2733h7M423 2782h7M458 2715h7M442 2818h7M448 2804h7M393 2727h7M453 2744h7M417 2770h7M431 2798h7M413 2733h7M428 2797h7M439 2779h7M333 2833h7M441 2712h7M459 2758h7M442 2747h7M425 2780h7M463 2777h7M432 2798h7M364 2767h7M366 2807h7M446 2821h7M381 2732h7M390 2790h7M429 2788h7M415 2783h7M462 2763h7M347 2850h7M360 2779h7M439 2811h7M416 2871h7M374 2872h7M447 2786h7M437 2818h7M457 2772h7M468 2777h7M384 2819h7M463 2746h7M448 2766h7M421 2833h7M474 2740h7M389 2750h7M378 2815h7M413 2781h7M442 2827h7M413 2791h7M411 2756h7M402 2787h7M465 2734h7M473 2712h7M445 2831h7M453 2757h7M423 2832h7M391 2774h7M385 2757h7M335 2777h7M332 2762h7M426 2844h7M364 2819h7M463 2791h7M436 2801h7M458 2747h7M441 2772h7M431 2756h7M442 2830h7M418 2835h7M366 2864h7M399 2775h7M405 2836h7M431 2805h7M378 2833h7M399 2821h7M471 2723h7M390 2797h7M406 2802h7M403 2749h7M432 2800h7M370 2827h7M436 2788h7M413 2823h7M432 2782h7M402 2844h7M401 2768h7M380 2807h7M421 2800h7M371 2776h7M460 2720h7M356 2785h7M406 2811h7M464 2810h7M409 2785h7M438 2791h7M453 2756h7M438 2767h7M399 2779h7M455 2790h7M429 2787h7M424 2777h7M438 2756h7M411 2746h7M444 2777h7M427 2797h7M434 2794h7M437 2831h7M445 2799h7M466 2766h7M382 2779h7M366 2755h7M409 2847h7M442 2759h7M435 2807h7M420 2821h7M380 2831h7M363 2784h7M439 2807h7M384 2739h7M403 2866h7M383 2844h7M394 2786h7M391 2814h7M403 2817h7M410 2798h7M426 2754h7M443 2818h7M352 2816h7M398 2789h7M447 2838h7M394 2803h7M437 2715h7M388 2800h7M391 2759h7M383 2735h7M426 2816h7M339 2825h7M424 2759h7M374 2803h7M408 2751h7M419 2806h7M360 2804h7M410 2820h7M456 2790h7M372 2834h7M453 2749h7M396 2778h7M450 2792h7M467 2754h7M416 2772h7M454 2846h7M353 2802h7M436 2806h7M449 2732h7M443 2833h7M388 2809h7M441 2805h7M456 2738h7M396 2800h7M431 2832h7M398 2753h7M408 2761h7M459 2846h7M407 2842h7M403 2794h7M421 2790h7M414 2728h7M449 2767h7M405 2744h7M360 2741h7M437 2749h7M364 2745h7M338 2805h7M332 2783h7M472 2789h7M454 2727h7M374 2785h7M384 2791h7M403 2799h7M426 2767h7M434 2813h7M381 2813h7M395 2756h7M430 2829h7M386 2801h7M442 2792h7M429 2788h7M436 2779h7M359 2797h7M426 2761h7M357 2791h7M411 2859h7M404 2809h7M434 2769h7M408 2761h7M416 2825h7M390 2824h7M406 2833h7M434 2803h7M429 2845h7M419 2755h7M371 2803h7M467 2802h7M411 2804h7M386 2802h7M465 2799h7M398 2800h7M456 2798h7M458 2793h7M427 2758h7M422 2812h7M448 2829h7M426 2721h7M379 2854h7M351 2770h7M424 2834h7M390 2801h7M405 2789h7M398 2798h7M442 2755h7M465 2728h7M364 2732h7M451 2748h7M439 2783h7M424 2781h7M472 2803h7M380 2742h7M430 2795h7M428 2841h7M432 2740h7M456 2748h7M433 2744h7M417 2856h7M378 2772h7M453 2802h7M437 2831h7M425 2776h7M413 2813h7M465 2747h7M414 2819h7M434 2772h7M441 2759h7M425 2717h7M394 2834h7M442 2724h7M371 2753h7M361 2768h7M390 2812h7M400 2873h7M454 2750h7M453 2791h7M401 2776h7M438 2792h7M436 2856h7M419 2777h7M459 2785h7M473 2769h7M384 2752h7M402 2792h7M408 2815h7M442 2866h7M407 2786h7M443 2748h7M360 2850h7M378 2747h7M460 2817h7M383 2804h7M416 2782h7M354 2831h7M456 2762h7M400 2835h7M409 2759h7M394 2805h7M438 2812h7M438 2741h7M420 2785h7M396 2798h7M466 2769h7M389 2789h7M446 2756h7M444 2793h7M406 2745h7M469 2787h7M410 2769h7M455 2755h7M420 2804h7M350 2773h7M368 2838h7M341 2809h7M451 2842h7M385 2781h7M376 2831h7M424 2826h7M428 2817h7M383 2781h7M459 2736h7M398 2805h7M421 2738h7M434 2764h7M448 2743h7M446 2797h7M417 2744h7M408 2834h7M433 2772h7M452 2725h7M441 2742h7M470 2773h7M395 2834h7M446 2740h7M390 2789h7M455 2775h7M394 2753h7M425 2750h7M369 2856h7M409 2825h7M410 2750h7M430 2771h7M387 2774h7M452 2730h7M384 2786h7M394 2801h7M451 2845h7M458 2838h7M399 2780h7M465 2788h7M397 2749h7M362 2846h7M394 2757h7M367 2828h7M393 2770h7M378 2826h7M443 2803h7M450 2750h7M387 2843h7M409 2813h7M427 2822h7M458 2747h7M421 2762h7M377 2811h7M372 2779h7M399 2802h7M417 2791h7M423 2760h7M379 2716h7M469 2789h7M379 2779h7M427 2831h7M449 2756h7M422 2766h7M423 2763h7M462 2814h7M438 2843h7M468 2807h7M378 2770h7M462 2779h7M407 2797h7M450 2725h7M388 2786h7M427 2742h7M384 2869h7M332 2745h7M371 2818h7M436 2827h7M401 2753h7M391 2779h7M423 2789h7M439 2796h7M425 2788h7M349 2804h7M467 2786h7M459 2753h7M417 2780h7M469 2814h7M327 2761h7M409 2727h7M396 2737h7M414 2821h7M428 2777h7M427 2764h7M430 2774h7M424 2741h7M388 2818h7M443 2739h7M416 2769h7M428 2739h7M382 2804h7M438 2866h7M401 2745h7M391 2783h7M384 2772h7M406 2718h7M415 2733h7M404 2754h7M450 2757h7M399 2744h7M437 2768h7M463 2804h7M413 2752h7M397 2742h7M381 2778h7M433 2749h7M473 2716h7M370 2749h7M390 2738h7M453 2845h7M428 2764h7M371 2805h7M404 2837h7M437 2788h7M430 2836h7M423 2773h7M452 2789h7M424 2861h7M359 2874h7M399 2821h7M373 2830h7M418 2778h7M430 2755h7M401 2806h7M394 2812h7M391 2807h7M351 2835h7M407 2762h7M441 2785h7M440 2772h7M449 2786h7M432 2732h7M409 2820h7M461 2802h7M464 2826h7M430 2801h7M432 2809h7M431 2824h7M431 2727h7M452 2800h7" fill="none" stroke="#111" stroke-width="7" transform="scale(.1)"/>
<ellipse cx="42.2" cy="278.0" rx="4.0" ry="5.4" fill="#111" opacity="0.85" transform="rotate(-30 42.2 278.0)"/>
<line x1="30.75" y1="343.75" x2="155.3" y2="343.75" stroke="#8a8a8a" stroke-width="0.8"/>
<line x1="155.3" y1="343.75" x2="155.3" y2="429.6" stroke="#8a8a8a" stroke-width="0.8"/>
<line x1="30.75" y1="343.45" x2="30.75" y2="430" stroke="#111" stroke-width="0.9"/>
<line x1="30.35" y1="429.6" x2="155.6" y2="429.6" stroke="#111" stroke-width="0.9"/>
<line x1="29.15" y1="429.6" x2="30.75" y2="429.6" stroke="#111" stroke-width="0.7"/>
<text x="28.9" y="432.2" font-size="7.3" text-anchor="end" font-weight="bold" fill="#000" stroke="#000" stroke-width="0.34">0</text>
<line x1="29.15" y1="409.1" x2="30.75" y2="409.1" stroke="#111" stroke-width="0.7"/>
<text x="28.9" y="411.7" font-size="7.3" text-anchor="end" font-weight="bold" fill="#000" stroke="#000" stroke-width="0.34">20</text>
<line x1="29.15" y1="388.6" x2="30.75" y2="388.6" stroke="#111" stroke-width="0.7"/>
<text x="28.9" y="391.2" font-size="7.3" text-anchor="end" font-weight="bold" fill="#000" stroke="#000" stroke-width="0.34">40</text>
<line x1="29.15" y1="368.1" x2="30.75" y2="368.1" stroke="#111" stroke-width="0.7"/>
<text x="28.9" y="370.7" font-size="7.3" text-anchor="end" font-weight="bold" fill="#000" stroke="#000" stroke-width="0.34">60</text>
<line x1="29.15" y1="347.6" x2="30.75" y2="347.6" stroke="#111" stroke-width="0.7"/>
<text x="28.9" y="350.2" font-size="7.3" text-anchor="end" font-weight="bold" fill="#000" stroke="#000" stroke-width="0.34">80</text>
<text x="0" y="0" font-size="7.4" text-anchor="middle" font-weight="bold" fill="#000" stroke="#000" stroke-width="0.22" transform="translate(17.06 387.5) rotate(-90)">%CD107a + NK cells</text>
<text x="90" y="348.6" font-size="4.6" text-anchor="middle" font-weight="bold" fill="#444">group 1</text>
<rect x="40" y="421.91" width="11.3" height="7.69" fill="#0a0a0a" stroke="#000" stroke-width="0.6"/>
<line x1="45.65" y1="418.33" x2="45.65" y2="421.91" stroke="#8a8a8a" stroke-width="0.7"/>
<line x1="44.75" y1="418.33" x2="46.55" y2="418.33" stroke="#8a8a8a" stroke-width="0.7"/>
<line x1="44.75" y1="421.91" x2="46.55" y2="421.91" stroke="#8a8a8a" stroke-width="0.7"/>
<rect x="54.85" y="409.61" width="11.8" height="19.99" fill="#fff" stroke="#3a3a3a" stroke-width="0.7"/>
<line x1="60.75" y1="402.44" x2="60.75" y2="416.79" stroke="#8a8a8a" stroke-width="0.7"/>
<line x1="59.85" y1="402.44" x2="61.65" y2="402.44" stroke="#8a8a8a" stroke-width="0.7"/>
<line x1="59.85" y1="416.79" x2="61.65" y2="416.79" stroke="#8a8a8a" stroke-width="0.7"/>
<rect x="71.65" y="396.29" width="11" height="33.31" fill="#a4a4a4" stroke="#555" stroke-width="0.7"/>
<line x1="77.15" y1="387.58" x2="77.15" y2="405.51" stroke="#8a8a8a" stroke-width="0.7"/>
<line x1="76.25" y1="387.58" x2="78.05" y2="387.58" stroke="#8a8a8a" stroke-width="0.7"/>
<line x1="76.25" y1="405.51" x2="78.05" y2="405.51" stroke="#8a8a8a" stroke-width="0.7"/>
<rect x="103" y="407.56" width="11.8" height="22.04" fill="#0a0a0a" stroke="#000" stroke-width="0.6"/>
<line x1="108.9" y1="402.44" x2="108.9" y2="407.56" stroke="#8a8a8a" stroke-width="0.7"/>
<line x1="108" y1="402.44" x2="109.8" y2="402.44" stroke="#8a8a8a" stroke-width="0.7"/>
<line x1="108" y1="407.56" x2="109.8" y2="407.56" stroke="#8a8a8a" stroke-width="0.7"/>
<rect x="118.45" y="389.11" width="12.8" height="40.49" fill="#fff" stroke="#3a3a3a" stroke-width="0.7"/>
<line x1="124.85" y1="374.76" x2="124.85" y2="403.46" stroke="#8a8a8a" stroke-width="0.7"/>
<line x1="123.95" y1="374.76" x2="125.75" y2="374.76" stroke="#8a8a8a" stroke-width="0.7"/>
<line x1="123.95" y1="403.46" x2="125.75" y2="403.46" stroke="#8a8a8a" stroke-width="0.7"/>
<rect x="135.15" y="361.95" width="11.4" height="67.65" fill="#a4a4a4" stroke="#555" stroke-width="0.7"/>
<line x1="140.85" y1="352.21" x2="140.85" y2="371.69" stroke="#8a8a8a" stroke-width="0.7"/>
<line x1="139.95" y1="352.21" x2="141.75" y2="352.21" stroke="#8a8a8a" stroke-width="0.7"/>
<line x1="139.95" y1="371.69" x2="141.75" y2="371.69" stroke="#8a8a8a" stroke-width="0.7"/>
<path d="M40.5 400.4v-1.6H65.5v1.6" fill="none" stroke="#222" stroke-width="0.8"/>
<text x="53.5" y="399" font-size="8.5" text-anchor="middle" font-weight="bold" fill="#000" stroke="#000" stroke-width="0.34">*</text>
<path d="M104.2 372.8v-1.6H128.6v1.6" fill="none" stroke="#222" stroke-width="0.8"/>
<text x="116.8" y="372.3" font-size="8.5" text-anchor="middle" font-weight="bold" fill="#000" stroke="#000" stroke-width="0.34">*</text>
<text x="41.9" y="437.4" font-size="6.3" text-anchor="middle" font-weight="bold" fill="#000" stroke="#000" stroke-width="0.34">CD56-</text>
<text x="41.9" y="444.8" font-size="6.3" text-anchor="middle" font-weight="bold" fill="#000" stroke="#000" stroke-width="0.34">CD16+</text>
<text x="60.8" y="437.4" font-size="6.3" text-anchor="middle" font-weight="bold" fill="#000" stroke="#000" stroke-width="0.34">CD56</text>
<text x="60.8" y="444.8" font-size="6.3" text-anchor="middle" font-weight="bold" fill="#000" stroke="#000" stroke-width="0.34">dim</text>
<text x="79" y="437.4" font-size="6.3" text-anchor="middle" font-weight="bold" fill="#000" stroke="#000" stroke-width="0.34">CD56</text>
<text x="79" y="444.8" font-size="6.3" text-anchor="middle" font-weight="bold" fill="#000" stroke="#000" stroke-width="0.34">bright</text>
<text x="107.2" y="437.4" font-size="6.3" text-anchor="middle" font-weight="bold" fill="#000" stroke="#000" stroke-width="0.34">CD56-</text>
<text x="107.2" y="444.8" font-size="6.3" text-anchor="middle" font-weight="bold" fill="#000" stroke="#000" stroke-width="0.34">CD16+</text>
<text x="125" y="437.4" font-size="6.3" text-anchor="middle" font-weight="bold" fill="#000" stroke="#000" stroke-width="0.34">CD56</text>
<text x="125" y="444.8" font-size="6.3" text-anchor="middle" font-weight="bold" fill="#000" stroke="#000" stroke-width="0.34">dim</text>
<text x="141.5" y="437.4" font-size="6.3" text-anchor="middle" font-weight="bold" fill="#000" stroke="#000" stroke-width="0.34">CD56</text>
<text x="141.5" y="444.8" font-size="6.3" text-anchor="middle" font-weight="bold" fill="#000" stroke="#000" stroke-width="0.34">bright</text>
<line x1="32" y1="447.2" x2="88.8" y2="447.2" stroke="#111" stroke-width="1"/>
<line x1="101" y1="447.2" x2="157.5" y2="447.2" stroke="#111" stroke-width="1"/>
<text x="60.6" y="454" font-size="6.2" text-anchor="middle" font-weight="bold" fill="#000" stroke="#000" stroke-width="0.34">untreated NK cells</text>
<text x="126.8" y="454" font-size="6.2" text-anchor="middle" font-weight="bold" fill="#000" stroke="#000" stroke-width="0.34">IL-15-treated NK cells</text>
<line x1="188.2" y1="343.75" x2="271.6" y2="343.75" stroke="#8a8a8a" stroke-width="0.8"/>
<line x1="271.6" y1="343.75" x2="271.6" y2="429.2" stroke="#8a8a8a" stroke-width="0.8"/>
<line x1="188.2" y1="343.45" x2="188.2" y2="429.6" stroke="#111" stroke-width="0.9"/>
<line x1="187.8" y1="429.2" x2="271.9" y2="429.2" stroke="#111" stroke-width="0.9"/>
<line x1="186.6" y1="429.2" x2="188.2" y2="429.2" stroke="#111" stroke-width="0.7"/>
<text x="187.7" y="431.8" font-size="7.3" text-anchor="end" font-weight="bold" fill="#000" stroke="#000" stroke-width="0.34">0</text>
<line x1="186.6" y1="408.7" x2="188.2" y2="408.7" stroke="#111" stroke-width="0.7"/>
<text x="187.7" y="411.3" font-size="7.3" text-anchor="end" font-weight="bold" fill="#000" stroke="#000" stroke-width="0.34">20</text>
<line x1="186.6" y1="388.2" x2="188.2" y2="388.2" stroke="#111" stroke-width="0.7"/>
<text x="187.7" y="390.8" font-size="7.3" text-anchor="end" font-weight="bold" fill="#000" stroke="#000" stroke-width="0.34">40</text>
<line x1="186.6" y1="367.7" x2="188.2" y2="367.7" stroke="#111" stroke-width="0.7"/>
<text x="187.7" y="370.3" font-size="7.3" text-anchor="end" font-weight="bold" fill="#000" stroke="#000" stroke-width="0.34">60</text>
<line x1="186.6" y1="347.2" x2="188.2" y2="347.2" stroke="#111" stroke-width="0.7"/>
<text x="187.7" y="349.8" font-size="7.3" text-anchor="end" font-weight="bold" fill="#000" stroke="#000" stroke-width="0.34">80</text>
<text x="0" y="0" font-size="7.4" text-anchor="middle" font-weight="bold" fill="#000" stroke="#000" stroke-width="0.22" transform="translate(175.36 385.8) rotate(-90)">%CD107a + NK cells</text>
<text x="228.6" y="349.2" font-size="4.8" text-anchor="middle" font-weight="bold" fill="#000" stroke="#000" stroke-width="0.2">healthy adult</text>
<rect x="193.65" y="405.11" width="11.8" height="24.09" fill="#fff" stroke="#3a3a3a" stroke-width="0.7"/>
<line x1="199.55" y1="396.91" x2="199.55" y2="413.31" stroke="#8a8a8a" stroke-width="0.7"/>
<line x1="198.65" y1="396.91" x2="200.45" y2="396.91" stroke="#8a8a8a" stroke-width="0.7"/>
<line x1="198.65" y1="413.31" x2="200.45" y2="413.31" stroke="#8a8a8a" stroke-width="0.7"/>
<rect x="209.25" y="410.24" width="11.4" height="18.96" fill="#6e6e6e" stroke="#444" stroke-width="0.7"/>
<line x1="214.95" y1="400.19" x2="214.95" y2="420.18" stroke="#8a8a8a" stroke-width="0.7"/>
<line x1="214.05" y1="400.19" x2="215.85" y2="400.19" stroke="#8a8a8a" stroke-width="0.7"/>
<line x1="214.05" y1="420.18" x2="215.85" y2="420.18" stroke="#8a8a8a" stroke-width="0.7"/>
<rect x="239.35" y="386.66" width="11" height="42.54" fill="#fff" stroke="#3a3a3a" stroke-width="0.7"/>
<line x1="244.85" y1="372.31" x2="244.85" y2="402.04" stroke="#8a8a8a" stroke-width="0.7"/>
<line x1="243.95" y1="372.31" x2="245.75" y2="372.31" stroke="#8a8a8a" stroke-width="0.7"/>
<line x1="243.95" y1="402.04" x2="245.75" y2="402.04" stroke="#8a8a8a" stroke-width="0.7"/>
<rect x="254.55" y="378.46" width="11.1" height="50.74" fill="#6e6e6e" stroke="#444" stroke-width="0.7"/>
<line x1="260.1" y1="362.06" x2="260.1" y2="395.38" stroke="#8a8a8a" stroke-width="0.7"/>
<line x1="259.2" y1="362.06" x2="261" y2="362.06" stroke="#8a8a8a" stroke-width="0.7"/>
<line x1="259.2" y1="395.38" x2="261" y2="395.38" stroke="#8a8a8a" stroke-width="0.7"/>
<text x="198.8" y="437.2" font-size="6.3" text-anchor="middle" font-weight="bold" fill="#000" stroke="#000" stroke-width="0.34">CD56</text>
<text x="198.8" y="444.6" font-size="6.3" text-anchor="middle" font-weight="bold" fill="#000" stroke="#000" stroke-width="0.34">dim</text>
<text x="216.2" y="437.2" font-size="6.3" text-anchor="middle" font-weight="bold" fill="#000" stroke="#000" stroke-width="0.34">CD56</text>
<text x="216.2" y="444.6" font-size="6.3" text-anchor="middle" font-weight="bold" fill="#000" stroke="#000" stroke-width="0.34">bright</text>
<text x="245" y="437.2" font-size="6.3" text-anchor="middle" font-weight="bold" fill="#000" stroke="#000" stroke-width="0.34">CD56</text>
<text x="245" y="444.6" font-size="6.3" text-anchor="middle" font-weight="bold" fill="#000" stroke="#000" stroke-width="0.34">dim</text>
<text x="262.6" y="437.2" font-size="6.3" text-anchor="middle" font-weight="bold" fill="#000" stroke="#000" stroke-width="0.34">CD56</text>
<text x="262.6" y="444.6" font-size="6.3" text-anchor="middle" font-weight="bold" fill="#000" stroke="#000" stroke-width="0.34">bright</text>
<line x1="191" y1="447.2" x2="226" y2="447.2" stroke="#111" stroke-width="1"/>
<line x1="237.5" y1="447.2" x2="272.5" y2="447.2" stroke="#111" stroke-width="1"/>
<text x="208.8" y="452.6" font-size="6.2" text-anchor="middle" font-weight="bold" fill="#000" stroke="#000" stroke-width="0.34">untreated</text>
<text x="207.6" y="459.4" font-size="6.2" text-anchor="middle" font-weight="bold" fill="#000" stroke="#000" stroke-width="0.34">NK cells</text>
<text x="254.8" y="452.6" font-size="6.2" text-anchor="middle" font-weight="bold" fill="#000" stroke="#000" stroke-width="0.34">IL-15-treated</text>
<text x="255" y="459.4" font-size="6.2" text-anchor="middle" font-weight="bold" fill="#000" stroke="#000" stroke-width="0.34">NK cells</text>
<line x1="318.75" y1="343.6" x2="417.5" y2="343.6" stroke="#8a8a8a" stroke-width="0.8"/>
<line x1="417.5" y1="343.6" x2="417.5" y2="429.3" stroke="#8a8a8a" stroke-width="0.8"/>
<line x1="318.75" y1="343.3" x2="318.75" y2="429.7" stroke="#111" stroke-width="0.9"/>
<line x1="318.35" y1="429.3" x2="417.8" y2="429.3" stroke="#111" stroke-width="0.9"/>
<line x1="317.15" y1="429.3" x2="318.75" y2="429.3" stroke="#111" stroke-width="0.7"/>
<text x="318.3" y="431.9" font-size="7.3" text-anchor="end" font-weight="bold" fill="#000" stroke="#000" stroke-width="0.34">0</text>
<line x1="317.15" y1="396.6" x2="318.75" y2="396.6" stroke="#111" stroke-width="0.7"/>
<text x="318.3" y="399.2" font-size="7.3" text-anchor="end" font-weight="bold" fill="#000" stroke="#000" stroke-width="0.34">10</text>
<line x1="317.15" y1="363.9" x2="318.75" y2="363.9" stroke="#111" stroke-width="0.7"/>
<text x="318.3" y="366.5" font-size="7.3" text-anchor="end" font-weight="bold" fill="#000" stroke="#000" stroke-width="0.34">20</text>
<text x="0" y="0" font-size="7.2" text-anchor="middle" font-weight="bold" fill="#000" stroke="#000" stroke-width="0.22" transform="translate(306.39 388.8) rotate(-90)">%IFNgamma+ NK cells</text>
<text x="330" y="347.6" font-size="4.8" text-anchor="middle" font-weight="bold" fill="#222" stroke="#222" stroke-width="0.1">group 1</text>
<line x1="375.3" y1="343.6" x2="375.3" y2="429.3" stroke="#000" stroke-width="1.3"/>
<rect x="325.5" y="406.41" width="11.5" height="22.89" fill="#0a0a0a" stroke="#000" stroke-width="0.6"/>
<line x1="331.25" y1="394.31" x2="331.25" y2="406.41" stroke="#8a8a8a" stroke-width="0.7"/>
<line x1="330.35" y1="394.31" x2="332.15" y2="394.31" stroke="#8a8a8a" stroke-width="0.7"/>
<line x1="330.35" y1="406.41" x2="332.15" y2="406.41" stroke="#8a8a8a" stroke-width="0.7"/>
<rect x="340.35" y="372.4" width="11.3" height="56.9" fill="#fff" stroke="#3a3a3a" stroke-width="0.7"/>
<line x1="346" y1="357.36" x2="346" y2="387.44" stroke="#8a8a8a" stroke-width="0.7"/>
<line x1="345.1" y1="357.36" x2="346.9" y2="357.36" stroke="#8a8a8a" stroke-width="0.7"/>
<line x1="345.1" y1="387.44" x2="346.9" y2="387.44" stroke="#8a8a8a" stroke-width="0.7"/>
<rect x="355.35" y="411.97" width="10.6" height="17.33" fill="#6e6e6e" stroke="#444" stroke-width="0.7"/>
<line x1="360.65" y1="410.01" x2="360.65" y2="413.6" stroke="#8a8a8a" stroke-width="0.7"/>
<line x1="359.75" y1="410.01" x2="361.55" y2="410.01" stroke="#8a8a8a" stroke-width="0.7"/>
<line x1="359.75" y1="413.6" x2="361.55" y2="413.6" stroke="#8a8a8a" stroke-width="0.7"/>
<rect x="384.85" y="374.36" width="10.6" height="54.94" fill="#fff" stroke="#3a3a3a" stroke-width="0.7"/>
<line x1="390.15" y1="350.82" x2="390.15" y2="399.22" stroke="#8a8a8a" stroke-width="0.7"/>
<line x1="389.25" y1="350.82" x2="391.05" y2="350.82" stroke="#8a8a8a" stroke-width="0.7"/>
<line x1="389.25" y1="399.22" x2="391.05" y2="399.22" stroke="#8a8a8a" stroke-width="0.7"/>
<rect x="399.85" y="411.97" width="10.3" height="17.33" fill="#6e6e6e" stroke="#444" stroke-width="0.7"/>
<line x1="405" y1="408.05" x2="405" y2="415.57" stroke="#8a8a8a" stroke-width="0.7"/>
<line x1="404.1" y1="408.05" x2="405.9" y2="408.05" stroke="#8a8a8a" stroke-width="0.7"/>
<line x1="404.1" y1="415.57" x2="405.9" y2="415.57" stroke="#8a8a8a" stroke-width="0.7"/>
<path d="M328 356v-1.6H352.5v1.6" fill="none" stroke="#222" stroke-width="0.8"/>
<text x="340" y="356.6" font-size="8.5" text-anchor="middle" font-weight="bold" fill="#000" stroke="#000" stroke-width="0.34">*</text>
<text x="406.8" y="347.6" font-size="4.8" text-anchor="middle" font-weight="bold" fill="#222" stroke="#222" stroke-width="0.1">healthy</text>
<text x="407.2" y="354.3" font-size="4.8" text-anchor="middle" font-weight="bold" fill="#222" stroke="#222" stroke-width="0.1">adult</text>
<text x="328.1" y="437.4" font-size="6.3" text-anchor="middle" font-weight="bold" fill="#000" stroke="#000" stroke-width="0.34">CD56-</text>
<text x="328.1" y="444.8" font-size="6.3" text-anchor="middle" font-weight="bold" fill="#000" stroke="#000" stroke-width="0.34">CD16+</text>
<text x="345.6" y="437.4" font-size="6.3" text-anchor="middle" font-weight="bold" fill="#000" stroke="#000" stroke-width="0.34">CD56</text>
<text x="345.6" y="444.8" font-size="6.3" text-anchor="middle" font-weight="bold" fill="#000" stroke="#000" stroke-width="0.34">dim</text>
<text x="362.9" y="437.4" font-size="6.3" text-anchor="middle" font-weight="bold" fill="#000" stroke="#000" stroke-width="0.34">CD56</text>
<text x="362.9" y="444.8" font-size="6.3" text-anchor="middle" font-weight="bold" fill="#000" stroke="#000" stroke-width="0.34">bright</text>
<text x="388.5" y="437.4" font-size="6.3" text-anchor="middle" font-weight="bold" fill="#000" stroke="#000" stroke-width="0.34">CD56</text>
<text x="388.5" y="444.8" font-size="6.3" text-anchor="middle" font-weight="bold" fill="#000" stroke="#000" stroke-width="0.34">dim</text>
<text x="407.5" y="437.4" font-size="6.3" text-anchor="middle" font-weight="bold" fill="#000" stroke="#000" stroke-width="0.34">CD56</text>
<text x="407.5" y="444.8" font-size="6.3" text-anchor="middle" font-weight="bold" fill="#000" stroke="#000" stroke-width="0.34">bright</text>
<line x1="29.5" y1="472.3" x2="183" y2="472.3" stroke="#8a8a8a" stroke-width="0.8"/>
<line x1="183" y1="472.3" x2="183" y2="558.2" stroke="#8a8a8a" stroke-width="0.8"/>
<line x1="29.5" y1="472" x2="29.5" y2="558.6" stroke="#111" stroke-width="0.9"/>
<line x1="29.1" y1="558.2" x2="183.3" y2="558.2" stroke="#111" stroke-width="0.9"/>
<line x1="27.9" y1="558.2" x2="29.5" y2="558.2" stroke="#111" stroke-width="0.7"/>
<text x="29" y="560.8" font-size="7.3" text-anchor="end" font-weight="bold" fill="#000" stroke="#000" stroke-width="0.34">0</text>
<line x1="27.9" y1="537.95" x2="29.5" y2="537.95" stroke="#111" stroke-width="0.7"/>
<text x="29" y="540.55" font-size="7.3" text-anchor="end" font-weight="bold" fill="#000" stroke="#000" stroke-width="0.34">20</text>
<line x1="27.9" y1="517.7" x2="29.5" y2="517.7" stroke="#111" stroke-width="0.7"/>
<text x="29" y="520.3" font-size="7.3" text-anchor="end" font-weight="bold" fill="#000" stroke="#000" stroke-width="0.34">40</text>
<line x1="27.9" y1="497.45" x2="29.5" y2="497.45" stroke="#111" stroke-width="0.7"/>
<text x="29" y="500.05" font-size="7.3" text-anchor="end" font-weight="bold" fill="#000" stroke="#000" stroke-width="0.34">60</text>
<line x1="27.9" y1="477.2" x2="29.5" y2="477.2" stroke="#111" stroke-width="0.7"/>
<text x="29" y="479.8" font-size="7.3" text-anchor="end" font-weight="bold" fill="#000" stroke="#000" stroke-width="0.34">80</text>
<text x="0" y="0" font-size="7.6" text-anchor="middle" font-weight="bold" fill="#000" stroke="#000" stroke-width="0.22" transform="translate(17.04 520.2) rotate(-90)">%CD107a+ NK cells</text>
<text x="96.9" y="479.4" font-size="4.8" text-anchor="middle" font-weight="bold" fill="#222" stroke="#222" stroke-width="0.1">group1</text>
<rect x="38.8" y="557.39" width="9.7" height="0.81" fill="#0a0a0a" stroke="#000" stroke-width="0.6"/>
<rect x="51.55" y="556.38" width="9.3" height="1.82" fill="#fff" stroke="#bbb" stroke-width="0.7"/>
<rect x="76.2" y="546.05" width="10.3" height="12.15" fill="#0a0a0a" stroke="#000" stroke-width="0.6"/>
<line x1="81.35" y1="538.15" x2="81.35" y2="546.05" stroke="#555" stroke-width="0.7"/>
<line x1="80.45" y1="538.15" x2="82.25" y2="538.15" stroke="#555" stroke-width="0.7"/>
<line x1="80.45" y1="546.05" x2="82.25" y2="546.05" stroke="#555" stroke-width="0.7"/>
<rect x="89.85" y="530.86" width="9" height="27.34" fill="#fff" stroke="#3a3a3a" stroke-width="0.7"/>
<line x1="94.35" y1="518.21" x2="94.35" y2="539.98" stroke="#555" stroke-width="0.7"/>
<line x1="93.45" y1="518.21" x2="95.25" y2="518.21" stroke="#555" stroke-width="0.7"/>
<line x1="93.45" y1="539.98" x2="95.25" y2="539.98" stroke="#555" stroke-width="0.7"/>
<rect x="114.2" y="522.26" width="10" height="35.94" fill="#0a0a0a" stroke="#000" stroke-width="0.6"/>
<line x1="119.2" y1="517.7" x2="119.2" y2="522.26" stroke="#555" stroke-width="0.7"/>
<line x1="118.3" y1="517.7" x2="120.1" y2="517.7" stroke="#555" stroke-width="0.7"/>
<line x1="118.3" y1="522.26" x2="120.1" y2="522.26" stroke="#555" stroke-width="0.7"/>
<rect x="127.35" y="490.36" width="9.1" height="67.84" fill="#fff" stroke="#3a3a3a" stroke-width="0.7"/>
<line x1="131.9" y1="480.85" x2="131.9" y2="499.98" stroke="#555" stroke-width="0.7"/>
<line x1="131" y1="480.85" x2="132.8" y2="480.85" stroke="#555" stroke-width="0.7"/>
<line x1="131" y1="499.98" x2="132.8" y2="499.98" stroke="#555" stroke-width="0.7"/>
<rect x="151.8" y="533.7" width="9.7" height="24.5" fill="#0a0a0a" stroke="#000" stroke-width="0.6"/>
<line x1="156.65" y1="523.98" x2="156.65" y2="533.7" stroke="#555" stroke-width="0.7"/>
<line x1="155.75" y1="523.98" x2="157.55" y2="523.98" stroke="#555" stroke-width="0.7"/>
<line x1="155.75" y1="533.7" x2="157.55" y2="533.7" stroke="#555" stroke-width="0.7"/>
<rect x="164.65" y="516.69" width="9.2" height="41.51" fill="#fff" stroke="#3a3a3a" stroke-width="0.7"/>
<line x1="169.25" y1="511.63" x2="169.25" y2="522.05" stroke="#555" stroke-width="0.7"/>
<line x1="168.35" y1="511.63" x2="170.15" y2="511.63" stroke="#555" stroke-width="0.7"/>
<line x1="168.35" y1="522.05" x2="170.15" y2="522.05" stroke="#555" stroke-width="0.7"/>
<path d="M75 518.9v-1.6H99.7v1.6" fill="none" stroke="#222" stroke-width="0.8"/>
<text x="87.2" y="519.3" font-size="8.5" text-anchor="middle" font-weight="bold" fill="#000" stroke="#000" stroke-width="0.34">*</text>
<path d="M115 479v-1.6H138.5v1.6" fill="none" stroke="#222" stroke-width="0.8"/>
<text x="125.8" y="479.4" font-size="8.5" text-anchor="middle" font-weight="bold" fill="#000" stroke="#000" stroke-width="0.34">*</text>
<path d="M151 509.2v-1.6H175.4v1.6" fill="none" stroke="#222" stroke-width="0.8"/>
<text x="162.7" y="509" font-size="8.5" text-anchor="middle" font-weight="bold" fill="#000" stroke="#000" stroke-width="0.34">*</text>
<text x="39" y="564.5" font-size="6.3" text-anchor="middle" font-weight="bold" fill="#000" stroke="#000" stroke-width="0.34">CD56-</text>
<text x="39" y="571.4" font-size="6.3" text-anchor="middle" font-weight="bold" fill="#000" stroke="#000" stroke-width="0.34">CD16+</text>
<text x="56.4" y="564.5" font-size="6.3" text-anchor="middle" font-weight="bold" fill="#000" stroke="#000" stroke-width="0.34">CD56</text>
<text x="56.4" y="571.4" font-size="6.3" text-anchor="middle" font-weight="bold" fill="#000" stroke="#000" stroke-width="0.34">dim</text>
<text x="77.8" y="564.5" font-size="6.3" text-anchor="middle" font-weight="bold" fill="#000" stroke="#000" stroke-width="0.34">CD56-</text>
<text x="77.8" y="571.4" font-size="6.3" text-anchor="middle" font-weight="bold" fill="#000" stroke="#000" stroke-width="0.34">CD16+</text>
<text x="95.7" y="564.5" font-size="6.3" text-anchor="middle" font-weight="bold" fill="#000" stroke="#000" stroke-width="0.34">CD56</text>
<text x="95.7" y="571.4" font-size="6.3" text-anchor="middle" font-weight="bold" fill="#000" stroke="#000" stroke-width="0.34">dim</text>
<text x="115.6" y="564.5" font-size="6.3" text-anchor="middle" font-weight="bold" fill="#000" stroke="#000" stroke-width="0.34">CD56-</text>
<text x="115.6" y="571.4" font-size="6.3" text-anchor="middle" font-weight="bold" fill="#000" stroke="#000" stroke-width="0.34">CD16+</text>
<text x="133.3" y="564.5" font-size="6.3" text-anchor="middle" font-weight="bold" fill="#000" stroke="#000" stroke-width="0.34">CD56</text>
<text x="133.3" y="571.4" font-size="6.3" text-anchor="middle" font-weight="bold" fill="#000" stroke="#000" stroke-width="0.34">dim</text>
<text x="153.3" y="564.5" font-size="6.3" text-anchor="middle" font-weight="bold" fill="#000" stroke="#000" stroke-width="0.34">CD56-</text>
<text x="153.3" y="571.4" font-size="6.3" text-anchor="middle" font-weight="bold" fill="#000" stroke="#000" stroke-width="0.34">CD16+</text>
<text x="171.3" y="564.5" font-size="6.3" text-anchor="middle" font-weight="bold" fill="#000" stroke="#000" stroke-width="0.34">CD56</text>
<text x="171.3" y="571.4" font-size="6.3" text-anchor="middle" font-weight="bold" fill="#000" stroke="#000" stroke-width="0.34">dim</text>
<line x1="32.3" y1="574.3" x2="61.2" y2="574.3" stroke="#111" stroke-width="1"/>
<line x1="69" y1="574.3" x2="102.7" y2="574.3" stroke="#111" stroke-width="1"/>
<line x1="108.5" y1="574.3" x2="138.5" y2="574.3" stroke="#111" stroke-width="1"/>
<line x1="145.4" y1="574.3" x2="180" y2="574.3" stroke="#111" stroke-width="1"/>
<text x="46.7" y="581.2" font-size="6.3" text-anchor="middle" font-weight="bold" fill="#000" stroke="#000" stroke-width="0.34">no mAb</text>
<text x="86" y="581.2" font-size="6.3" text-anchor="middle" font-weight="bold" fill="#000" stroke="#000" stroke-width="0.34">anti-NKp46</text>
<text x="123.5" y="581.2" font-size="6.3" text-anchor="middle" font-weight="bold" fill="#000" stroke="#000" stroke-width="0.34">anti-CD16</text>
<text x="162.7" y="581.2" font-size="6.3" text-anchor="middle" font-weight="bold" fill="#000" stroke="#000" stroke-width="0.34">anti-NKG2C</text>
<line x1="226.5" y1="473" x2="307.7" y2="473" stroke="#8a8a8a" stroke-width="0.8"/>
<line x1="307.7" y1="473" x2="307.7" y2="558.2" stroke="#8a8a8a" stroke-width="0.8"/>
<line x1="226.5" y1="472.7" x2="226.5" y2="558.6" stroke="#111" stroke-width="0.9"/>
<line x1="226.1" y1="558.2" x2="308" y2="558.2" stroke="#111" stroke-width="0.9"/>
<line x1="224.9" y1="558.2" x2="226.5" y2="558.2" stroke="#111" stroke-width="0.7"/>
<text x="226.1" y="560.8" font-size="7.3" text-anchor="end" font-weight="bold" fill="#000" stroke="#000" stroke-width="0.34">0</text>
<line x1="224.9" y1="531.2" x2="226.5" y2="531.2" stroke="#111" stroke-width="0.7"/>
<text x="226.1" y="533.8" font-size="7.3" text-anchor="end" font-weight="bold" fill="#000" stroke="#000" stroke-width="0.34">20</text>
<line x1="224.9" y1="504.2" x2="226.5" y2="504.2" stroke="#111" stroke-width="0.7"/>
<text x="226.1" y="506.8" font-size="7.3" text-anchor="end" font-weight="bold" fill="#000" stroke="#000" stroke-width="0.34">40</text>
<line x1="224.9" y1="477.2" x2="226.5" y2="477.2" stroke="#111" stroke-width="0.7"/>
<text x="226.1" y="479.8" font-size="7.3" text-anchor="end" font-weight="bold" fill="#000" stroke="#000" stroke-width="0.34">60</text>
<text x="0" y="0" font-size="7.6" text-anchor="middle" font-weight="bold" fill="#000" stroke="#000" stroke-width="0.22" transform="translate(213.74 518.5) rotate(-90)">%CD107a+ NK cells</text>
<text x="229.8" y="478" font-size="4.8" text-anchor="start" font-weight="bold" fill="#000" stroke="#000" stroke-width="0.2">healthy adult</text>
<rect x="234.65" y="557.12" width="9.2" height="1.08" fill="#fff" stroke="#bbb" stroke-width="0.7"/>
<rect x="253.85" y="548.35" width="8.5" height="9.86" fill="#fff" stroke="#3a3a3a" stroke-width="0.7"/>
<line x1="258.1" y1="545.65" x2="258.1" y2="551.99" stroke="#555" stroke-width="0.7"/>
<line x1="257.2" y1="545.65" x2="259" y2="545.65" stroke="#555" stroke-width="0.7"/>
<line x1="257.2" y1="551.99" x2="259" y2="551.99" stroke="#555" stroke-width="0.7"/>
<rect x="271.55" y="485.71" width="8.6" height="72.5" fill="#fff" stroke="#3a3a3a" stroke-width="0.7"/>
<line x1="275.85" y1="477.61" x2="275.85" y2="494.21" stroke="#555" stroke-width="0.7"/>
<line x1="274.95" y1="477.61" x2="276.75" y2="477.61" stroke="#555" stroke-width="0.7"/>
<line x1="274.95" y1="494.21" x2="276.75" y2="494.21" stroke="#555" stroke-width="0.7"/>
<rect x="290.05" y="537.14" width="8.6" height="21.06" fill="#fff" stroke="#3a3a3a" stroke-width="0.7"/>
<line x1="294.35" y1="525.4" x2="294.35" y2="549.16" stroke="#555" stroke-width="0.7"/>
<line x1="293.45" y1="525.4" x2="295.25" y2="525.4" stroke="#555" stroke-width="0.7"/>
<line x1="293.45" y1="549.16" x2="295.25" y2="549.16" stroke="#555" stroke-width="0.7"/>
<text x="238" y="566" font-size="5.8" text-anchor="middle" font-weight="bold" fill="#000" stroke="#000" stroke-width="0.34">no</text>
<text x="238" y="574" font-size="5.8" text-anchor="middle" font-weight="bold" fill="#000" stroke="#000" stroke-width="0.34">mAb</text>
<text x="256.6" y="566" font-size="5.8" text-anchor="middle" font-weight="bold" fill="#000" stroke="#000" stroke-width="0.34">anti-</text>
<text x="256.6" y="574" font-size="5.8" text-anchor="middle" font-weight="bold" fill="#000" stroke="#000" stroke-width="0.34">NKp46</text>
<text x="275.8" y="566" font-size="5.8" text-anchor="middle" font-weight="bold" fill="#000" stroke="#000" stroke-width="0.34">anti-</text>
<text x="275.8" y="574" font-size="5.8" text-anchor="middle" font-weight="bold" fill="#000" stroke="#000" stroke-width="0.34">CD16</text>
<text x="296.3" y="566" font-size="5.8" text-anchor="middle" font-weight="bold" fill="#000" stroke="#000" stroke-width="0.34">anti-</text>
<text x="296.3" y="574" font-size="5.8" text-anchor="middle" font-weight="bold" fill="#000" stroke="#000" stroke-width="0.34">NKG2C</text>
</svg>
</body></html>
